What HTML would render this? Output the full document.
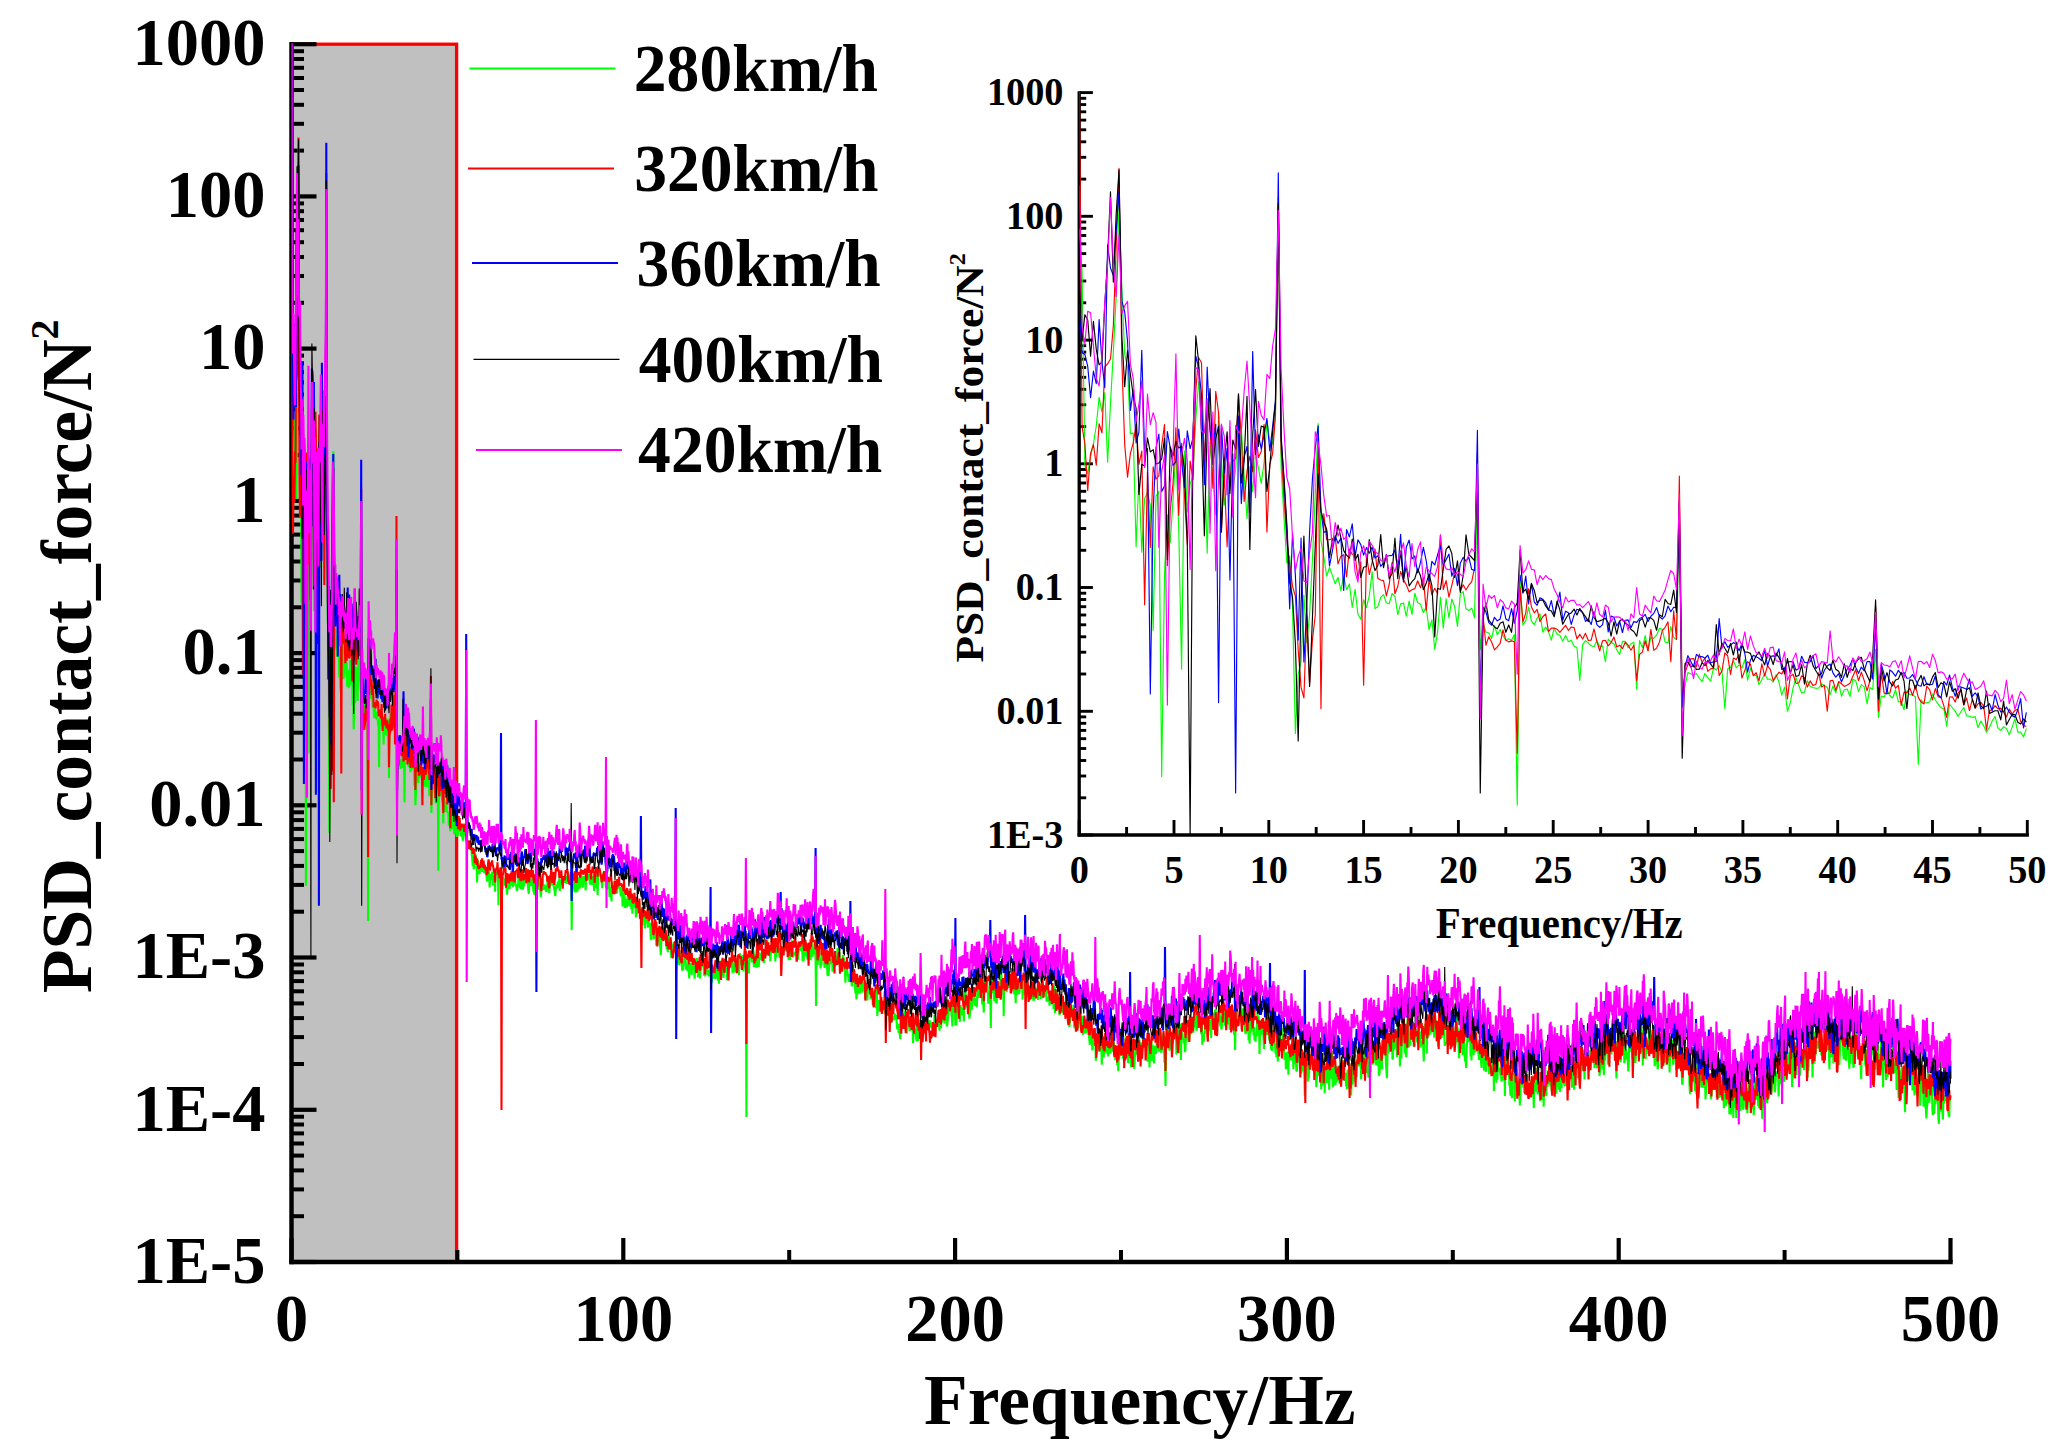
<!DOCTYPE html>
<html><head><meta charset="utf-8"><title>PSD contact force</title>
<style>
html,body{margin:0;padding:0;background:#fff;}
svg{display:block}
text{font-family:"Liberation Serif","Times New Roman",serif;font-weight:bold;fill:#000}
</style></head><body>
<svg width="2070" height="1455" viewBox="0 0 2070 1455">
<defs>
<clipPath id="cm"><rect x="291.7" y="43.2" width="1661.0" height="1218.8"/></clipPath>
<clipPath id="ci"><rect x="1079.5" y="91.6" width="949.0999999999999" height="743.4"/></clipPath>
</defs>
<rect width="2070" height="1455" fill="#fff"/>
<!-- shaded 0-50 Hz region -->
<rect x="291.5" y="44.2" width="165.1" height="1217.8" fill="#c0c0c0" stroke="#ff0000" stroke-width="3.3"/>
<!-- main axes -->
<g stroke="#000" stroke-width="4.4" fill="none">
<line x1="291.5" y1="42.1" x2="291.5" y2="1264.2"/>
<line x1="289.3" y1="1262.0" x2="1952.7" y2="1262.0"/>
</g>
<g stroke="#000" stroke-width="4.2" fill="none">
<line x1="291.5" y1="44.2" x2="316.5" y2="44.2"/>
<line x1="291.5" y1="196.4" x2="316.5" y2="196.4"/>
<line x1="291.5" y1="348.6" x2="316.5" y2="348.6"/>
<line x1="291.5" y1="500.9" x2="316.5" y2="500.9"/>
<line x1="291.5" y1="653.1" x2="316.5" y2="653.1"/>
<line x1="291.5" y1="805.3" x2="316.5" y2="805.3"/>
<line x1="291.5" y1="957.5" x2="316.5" y2="957.5"/>
<line x1="291.5" y1="1109.8" x2="316.5" y2="1109.8"/>
<line x1="291.5" y1="1262.0" x2="316.5" y2="1262.0"/>
<line x1="291.5" y1="1262.0" x2="291.5" y2="1238.0"/>
<line x1="623.3" y1="1262.0" x2="623.3" y2="1238.0"/>
<line x1="955.1" y1="1262.0" x2="955.1" y2="1238.0"/>
<line x1="1286.9" y1="1262.0" x2="1286.9" y2="1238.0"/>
<line x1="1618.7" y1="1262.0" x2="1618.7" y2="1238.0"/>
<line x1="1950.5" y1="1262.0" x2="1950.5" y2="1238.0"/>
</g>
<g stroke="#000" stroke-width="4.0" fill="none">
<line x1="291.5" y1="150.6" x2="304.0" y2="150.6"/>
<line x1="291.5" y1="123.8" x2="304.0" y2="123.8"/>
<line x1="291.5" y1="104.8" x2="304.0" y2="104.8"/>
<line x1="291.5" y1="90.0" x2="304.0" y2="90.0"/>
<line x1="291.5" y1="78.0" x2="304.0" y2="78.0"/>
<line x1="291.5" y1="67.8" x2="304.0" y2="67.8"/>
<line x1="291.5" y1="59.0" x2="304.0" y2="59.0"/>
<line x1="291.5" y1="51.2" x2="304.0" y2="51.2"/>
<line x1="291.5" y1="302.8" x2="304.0" y2="302.8"/>
<line x1="291.5" y1="276.0" x2="304.0" y2="276.0"/>
<line x1="291.5" y1="257.0" x2="304.0" y2="257.0"/>
<line x1="291.5" y1="242.2" x2="304.0" y2="242.2"/>
<line x1="291.5" y1="230.2" x2="304.0" y2="230.2"/>
<line x1="291.5" y1="220.0" x2="304.0" y2="220.0"/>
<line x1="291.5" y1="211.2" x2="304.0" y2="211.2"/>
<line x1="291.5" y1="203.4" x2="304.0" y2="203.4"/>
<line x1="291.5" y1="455.1" x2="304.0" y2="455.1"/>
<line x1="291.5" y1="428.2" x2="304.0" y2="428.2"/>
<line x1="291.5" y1="409.2" x2="304.0" y2="409.2"/>
<line x1="291.5" y1="394.5" x2="304.0" y2="394.5"/>
<line x1="291.5" y1="382.4" x2="304.0" y2="382.4"/>
<line x1="291.5" y1="372.2" x2="304.0" y2="372.2"/>
<line x1="291.5" y1="363.4" x2="304.0" y2="363.4"/>
<line x1="291.5" y1="355.6" x2="304.0" y2="355.6"/>
<line x1="291.5" y1="607.3" x2="304.0" y2="607.3"/>
<line x1="291.5" y1="580.5" x2="304.0" y2="580.5"/>
<line x1="291.5" y1="561.5" x2="304.0" y2="561.5"/>
<line x1="291.5" y1="546.7" x2="304.0" y2="546.7"/>
<line x1="291.5" y1="534.6" x2="304.0" y2="534.6"/>
<line x1="291.5" y1="524.5" x2="304.0" y2="524.5"/>
<line x1="291.5" y1="515.6" x2="304.0" y2="515.6"/>
<line x1="291.5" y1="507.8" x2="304.0" y2="507.8"/>
<line x1="291.5" y1="759.5" x2="304.0" y2="759.5"/>
<line x1="291.5" y1="732.7" x2="304.0" y2="732.7"/>
<line x1="291.5" y1="713.7" x2="304.0" y2="713.7"/>
<line x1="291.5" y1="698.9" x2="304.0" y2="698.9"/>
<line x1="291.5" y1="686.9" x2="304.0" y2="686.9"/>
<line x1="291.5" y1="676.7" x2="304.0" y2="676.7"/>
<line x1="291.5" y1="667.9" x2="304.0" y2="667.9"/>
<line x1="291.5" y1="660.1" x2="304.0" y2="660.1"/>
<line x1="291.5" y1="911.7" x2="304.0" y2="911.7"/>
<line x1="291.5" y1="884.9" x2="304.0" y2="884.9"/>
<line x1="291.5" y1="865.9" x2="304.0" y2="865.9"/>
<line x1="291.5" y1="851.1" x2="304.0" y2="851.1"/>
<line x1="291.5" y1="839.1" x2="304.0" y2="839.1"/>
<line x1="291.5" y1="828.9" x2="304.0" y2="828.9"/>
<line x1="291.5" y1="820.1" x2="304.0" y2="820.1"/>
<line x1="291.5" y1="812.3" x2="304.0" y2="812.3"/>
<line x1="291.5" y1="1064.0" x2="304.0" y2="1064.0"/>
<line x1="291.5" y1="1037.1" x2="304.0" y2="1037.1"/>
<line x1="291.5" y1="1018.1" x2="304.0" y2="1018.1"/>
<line x1="291.5" y1="1003.4" x2="304.0" y2="1003.4"/>
<line x1="291.5" y1="991.3" x2="304.0" y2="991.3"/>
<line x1="291.5" y1="981.1" x2="304.0" y2="981.1"/>
<line x1="291.5" y1="972.3" x2="304.0" y2="972.3"/>
<line x1="291.5" y1="964.5" x2="304.0" y2="964.5"/>
<line x1="291.5" y1="1216.2" x2="304.0" y2="1216.2"/>
<line x1="291.5" y1="1189.4" x2="304.0" y2="1189.4"/>
<line x1="291.5" y1="1170.4" x2="304.0" y2="1170.4"/>
<line x1="291.5" y1="1155.6" x2="304.0" y2="1155.6"/>
<line x1="291.5" y1="1143.5" x2="304.0" y2="1143.5"/>
<line x1="291.5" y1="1133.4" x2="304.0" y2="1133.4"/>
<line x1="291.5" y1="1124.5" x2="304.0" y2="1124.5"/>
<line x1="291.5" y1="1116.7" x2="304.0" y2="1116.7"/>
<line x1="457.4" y1="1262.0" x2="457.4" y2="1250.0"/>
<line x1="789.2" y1="1262.0" x2="789.2" y2="1250.0"/>
<line x1="1121.0" y1="1262.0" x2="1121.0" y2="1250.0"/>
<line x1="1452.8" y1="1262.0" x2="1452.8" y2="1250.0"/>
<line x1="1784.6" y1="1262.0" x2="1784.6" y2="1250.0"/>
</g>
<g clip-path="url(#cm)">
<polyline fill="none" stroke="#00ff00" stroke-width="2.1" stroke-linejoin="bevel" points="291.5,44.2 292.0,263.4 292.5,502.6 293.0,512.7 293.5,491.8 294.0,476.5 294.5,454.3 295.0,419.2 295.5,436.9 296.0,413.4 296.5,499.0 297.0,426.8 297.5,363.5 298.0,295.5 298.5,181.4 299.0,285.1 299.5,366.6 300.0,381.9 300.5,464.0 301.0,463.2 301.5,602.9 302.0,516.8 302.4,609.7 302.9,543.6 303.4,536.0 303.9,551.6 304.4,705.8 304.9,540.5 305.4,534.6 305.9,886.0 306.4,635.1 306.9,563.7 307.4,597.7 307.9,545.0 308.4,483.8 308.9,581.7 309.4,753.6 309.9,484.9 310.4,560.0 310.9,525.8 311.4,514.9 311.9,444.9 312.4,399.9 312.9,436.7 313.4,486.4 313.9,610.9 314.4,474.3 314.9,514.8 315.4,563.4 315.9,438.3 316.4,495.0 316.9,551.7 317.4,524.3 317.9,499.1 318.4,532.7 318.9,508.8 319.4,441.1 319.9,457.2 320.4,516.0 320.9,568.0 321.4,504.4 321.9,535.3 322.4,489.4 322.9,505.8 323.4,524.9 323.9,499.0 324.3,447.3 324.8,473.4 325.3,476.4 325.8,442.0 326.3,195.4 326.8,506.0 327.3,566.5 327.8,622.9 328.3,614.5 328.8,677.1 329.3,832.7 329.8,759.5 330.3,744.6 330.8,662.5 331.3,720.6 331.8,687.0 332.3,619.2 332.8,538.1 333.3,451.2 333.8,595.6 334.3,615.2 334.8,639.2 335.3,628.2 335.8,638.2 336.3,648.5 336.8,640.4 337.3,656.9 337.8,638.7 338.3,655.7 338.8,648.9 339.3,677.6 339.8,655.3 340.3,686.1 340.8,692.2 341.3,668.2 341.8,677.6 342.3,663.1 342.8,633.7 343.3,679.0 343.8,676.7 344.3,665.3 344.8,661.8 345.3,672.1 345.7,673.1 346.2,660.5 346.7,663.6 347.2,686.6 347.7,673.2 348.2,672.0 348.7,688.2 349.2,669.6 349.7,686.2 350.2,660.1 350.7,671.7 351.2,673.6 351.7,683.8 352.2,677.4 352.7,704.9 353.2,692.8 353.7,729.2 354.2,707.9 354.7,665.2 355.2,703.0 355.7,667.1 356.2,690.5 356.7,667.3 357.2,676.8 357.7,701.1 358.2,660.9 358.7,658.1 359.2,679.6 359.7,681.4 360.2,678.6 360.7,690.4 361.2,531.3 361.7,729.2 362.2,696.8 362.7,707.9 363.2,709.1 363.7,715.7 364.2,699.7 364.7,711.2 365.2,704.7 365.7,712.4 366.2,718.2 366.7,716.1 367.2,717.9 367.6,710.9 368.1,921.0 368.6,645.5 369.1,699.2 369.6,693.8 370.1,677.1 370.6,694.4 371.1,698.6 371.6,690.8 372.1,685.5 372.6,708.0 373.1,701.8 373.6,707.4 374.1,717.9 374.6,702.9 375.1,710.5 375.6,711.8 376.1,719.3 376.6,712.0 377.1,719.8 377.6,717.8 378.1,725.4 378.6,726.9 379.1,767.3 379.6,723.3 380.1,718.4 380.6,721.3 381.1,724.8 381.6,725.9 382.1,718.5 382.6,725.5 383.1,724.9 383.6,744.4 384.1,716.5 384.6,720.3 385.1,722.7 385.6,729.6 386.1,735.5 386.6,719.4 387.1,719.3 387.6,727.2 388.1,722.3 388.6,720.4 389.0,777.9 389.5,718.2 390.0,727.0 390.5,712.3 391.0,730.5 391.5,714.5 392.0,715.8 392.5,711.7 393.0,703.3 393.5,704.5 394.0,720.3 394.5,721.1 395.0,701.2 395.5,714.3 396.0,717.0 396.5,577.0 397.0,790.1 397.5,773.7 398.0,757.8 398.5,759.2 399.0,761.0 399.5,758.7 400.0,764.7 400.5,768.8 401.0,758.9 401.5,764.0 402.0,768.1 402.5,752.1 403.0,754.5 403.5,749.2 404.0,756.9 404.5,802.3 405.0,753.1 405.5,751.1 406.0,743.1 406.5,751.9 407.0,748.2 407.5,752.0 408.0,741.8 408.5,767.1 409.0,752.4 409.5,760.5 410.0,761.1 410.5,772.3 410.9,766.5 411.4,759.2 411.9,766.0 412.4,765.8 412.9,769.4 413.4,760.2 413.9,769.3 414.4,785.4 414.9,775.6 415.4,805.3 415.9,795.0 416.4,776.6 416.9,764.2 417.4,773.8 417.9,782.8 418.4,781.7 418.9,767.7 419.4,774.9 419.9,776.0 420.4,777.1 420.9,776.7 421.4,771.6 421.9,773.6 422.4,776.1 422.9,785.1 423.4,774.3 423.9,782.7 424.4,770.3 424.9,786.8 425.4,778.9 425.9,778.0 426.4,787.2 426.9,765.9 427.4,767.7 427.9,781.2 428.4,772.5 428.9,775.3 429.4,796.2 429.9,776.2 430.4,778.5 430.9,729.2 431.4,812.9 431.9,786.6 432.3,787.9 432.8,779.3 433.3,786.0 433.8,789.0 434.3,778.8 434.8,793.9 435.3,793.1 435.8,803.5 436.3,780.1 436.8,784.7 437.3,785.3 437.8,787.4 438.3,870.8 438.8,791.2 439.3,794.9 439.8,795.0 440.3,793.7 440.8,784.1 441.3,791.5 441.8,796.5 442.3,801.1 442.8,802.5 443.3,823.6 443.8,796.7 444.3,801.0 444.8,805.2 445.3,811.8 445.8,805.9 446.3,800.8 446.8,811.1 447.3,811.4 447.8,812.8 448.3,812.0 448.8,825.4 449.3,817.3 449.8,823.1 450.3,831.2 450.8,825.2 451.3,817.1 451.8,811.7 452.3,825.7 452.8,828.8 453.3,824.3 453.8,826.6 454.2,834.3 454.7,824.9 455.2,814.6 455.7,830.9 456.2,830.9 456.7,837.0 457.2,826.7 457.7,836.1 458.2,830.7 458.7,822.6 459.2,831.9 459.7,825.8 460.2,826.6 460.7,836.3 461.2,834.8 461.7,828.1 462.2,836.2 462.7,839.5 463.2,840.6 463.7,829.9 464.2,823.6 464.7,826.1 465.2,834.1 465.7,834.9 466.2,838.5 466.7,842.8 467.2,843.7 467.7,845.6 468.2,844.8 468.7,848.3 469.2,847.1 469.7,843.2 470.2,844.9 470.7,845.9 471.2,845.5 471.7,853.8 472.2,858.4 472.7,866.1 473.2,856.6 473.7,869.2 474.2,866.8 474.7,856.2 475.2,853.5 475.6,855.4 476.1,863.3 476.6,863.3 477.1,882.4 477.6,867.4 478.1,860.4 478.6,867.8 479.1,872.4 479.6,874.0 480.1,865.6 480.6,865.6 481.1,870.5 481.6,866.2 482.1,871.9 482.6,862.7 483.1,862.7 483.6,866.2 484.1,873.0 484.6,872.4 485.1,870.6 485.6,872.2 486.1,871.7 486.6,877.4 487.1,881.5 487.6,867.8 488.1,873.5 488.6,871.9 489.1,871.9 489.6,887.4 490.1,882.0 490.6,875.9 491.1,874.1 491.6,879.9 492.1,871.5 492.6,877.0 493.1,885.3 493.6,883.1 494.1,876.0 494.6,879.6 495.1,891.8 495.6,873.7 496.1,872.3 496.6,871.6 497.1,874.6 497.5,874.2 498.0,875.5 498.5,905.3 499.0,871.6 499.5,868.3 500.0,880.1 500.5,875.3 501.0,884.2 501.5,883.0 502.0,880.3 502.5,889.7 503.0,877.1 503.5,878.5 504.0,885.6 504.5,883.3 505.0,880.3 505.5,879.0 506.0,881.9 506.5,887.5 507.0,894.7 507.5,889.7 508.0,885.8 508.5,877.5 509.0,876.3 509.5,888.9 510.0,884.8 510.5,882.7 511.0,880.8 511.5,876.5 512.0,885.3 512.5,879.5 513.0,886.9 513.5,882.5 514.0,882.2 514.5,884.8 515.0,876.5 515.5,884.4 516.0,884.6 516.5,888.2 517.0,891.0 517.5,885.3 518.0,886.3 518.5,877.8 518.9,882.9 519.4,878.5 519.9,888.4 520.4,878.4 520.9,888.1 521.4,889.1 521.9,881.3 522.4,874.0 522.9,889.7 523.4,885.3 523.9,886.0 524.4,882.7 524.9,878.9 525.4,881.8 525.9,879.4 526.4,875.9 526.9,883.6 527.4,880.5 527.9,886.2 528.4,891.5 528.9,893.8 529.4,875.9 529.9,884.6 530.4,882.7 530.9,886.2 531.4,881.7 531.9,881.7 532.4,869.7 532.9,884.8 533.4,891.5 533.9,892.1 534.4,894.7 534.9,880.1 535.4,881.3 535.9,886.6 536.4,892.2 536.9,886.4 537.4,876.5 537.9,889.6 538.4,879.7 538.9,887.8 539.4,881.7 539.9,888.7 540.4,891.7 540.8,897.0 541.3,891.6 541.8,878.2 542.3,879.4 542.8,886.1 543.3,887.9 543.8,890.1 544.3,885.2 544.8,885.5 545.3,888.4 545.8,888.5 546.3,892.2 546.8,886.7 547.3,884.4 547.8,879.4 548.3,881.1 548.8,891.0 549.3,893.1 549.8,886.8 550.3,883.1 550.8,879.4 551.3,878.5 551.8,885.3 552.3,878.1 552.8,884.0 553.3,882.0 553.8,886.8 554.3,889.5 554.8,892.0 555.3,896.1 555.8,889.5 556.3,884.3 556.8,886.1 557.3,888.4 557.8,881.7 558.3,884.2 558.8,881.3 559.3,878.5 559.8,891.0 560.3,881.3 560.8,883.6 561.3,880.6 561.8,880.0 562.2,878.8 562.7,881.5 563.2,878.1 563.7,879.0 564.2,876.9 564.7,883.0 565.2,876.5 565.7,881.2 566.2,879.7 566.7,884.0 567.2,876.0 567.7,883.8 568.2,871.8 568.7,874.1 569.2,876.6 569.7,883.5 570.2,883.8 570.7,884.4 571.2,882.2 571.7,930.0 572.2,882.0 572.7,891.5 573.2,879.7 573.7,875.0 574.2,876.7 574.7,881.3 575.2,892.4 575.7,877.1 576.2,879.6 576.7,892.2 577.2,878.9 577.7,890.7 578.2,885.5 578.7,885.8 579.2,877.0 579.7,888.5 580.2,884.6 580.7,875.0 581.2,873.8 581.7,882.8 582.2,885.2 582.7,887.7 583.2,882.4 583.6,876.3 584.1,876.9 584.6,880.6 585.1,882.3 585.6,890.5 586.1,881.8 586.6,875.2 587.1,878.1 587.6,878.5 588.1,879.3 588.6,877.9 589.1,874.1 589.6,880.8 590.1,884.5 590.6,874.0 591.1,879.8 591.6,876.8 592.1,885.0 592.6,875.8 593.1,880.2 593.6,878.8 594.1,890.9 594.6,880.8 595.1,880.8 595.6,883.4 596.1,888.1 596.6,880.3 597.1,874.9 597.6,895.1 598.1,878.9 598.6,875.4 599.1,872.3 599.6,871.6 600.1,874.0 600.6,875.5 601.1,876.9 601.6,878.8 602.1,888.2 602.6,883.2 603.1,876.4 603.6,872.2 604.1,881.0 604.6,879.7 605.1,877.7 605.5,876.1 606.0,888.2 606.5,880.4 607.0,889.7 607.5,883.5 608.0,882.4 608.5,878.8 609.0,878.7 609.5,897.2 610.0,894.1 610.5,887.0 611.0,893.6 611.5,901.5 612.0,884.7 612.5,886.1 613.0,881.6 613.5,886.7 614.0,881.4 614.5,888.3 615.0,881.0 615.5,892.5 616.0,893.7 616.5,892.0 617.0,893.5 617.5,885.1 618.0,884.5 618.5,886.9 619.0,886.4 619.5,888.6 620.0,886.8 620.5,894.0 621.0,896.2 621.5,890.6 622.0,885.6 622.5,906.6 623.0,896.5 623.5,895.9 624.0,889.9 624.5,898.9 625.0,907.9 625.5,901.7 626.0,898.6 626.5,902.6 626.9,907.5 627.4,901.3 627.9,892.9 628.4,904.7 628.9,905.2 629.4,903.9 629.9,898.1 630.4,907.1 630.9,899.6 631.4,909.1 631.9,904.0 632.4,913.7 632.9,901.2 633.4,907.7 633.9,904.0 634.4,902.5 634.9,903.9 635.4,902.9 635.9,917.4 636.4,912.9 636.9,913.8 637.4,900.5 637.9,907.3 638.4,910.7 638.9,907.3 639.4,902.6 639.9,913.8 640.4,915.1 640.9,910.0 641.4,914.2 641.9,918.2 642.4,925.5 642.9,910.9 643.4,908.6 643.9,912.8 644.4,912.4 644.9,928.5 645.4,919.2 645.9,923.0 646.4,918.2 646.9,915.8 647.4,919.8 647.9,927.7 648.4,919.0 648.8,923.5 649.3,922.9 649.8,924.5 650.3,927.1 650.8,940.3 651.3,922.7 651.8,925.9 652.3,926.1 652.8,923.2 653.3,938.5 653.8,939.2 654.3,932.4 654.8,928.2 655.3,930.6 655.8,931.0 656.3,945.6 656.8,934.4 657.3,944.9 657.8,934.9 658.3,934.9 658.8,933.3 659.3,935.5 659.8,945.0 660.3,947.4 660.8,954.9 661.3,942.4 661.8,930.2 662.3,926.0 662.8,930.1 663.3,932.7 663.8,937.6 664.3,929.0 664.8,937.6 665.3,938.6 665.8,941.6 666.3,942.6 666.8,949.4 667.3,947.7 667.8,952.1 668.3,944.3 668.8,934.2 669.3,940.5 669.8,942.3 670.2,943.2 670.7,944.2 671.2,958.0 671.7,948.6 672.2,944.6 672.7,945.5 673.2,946.6 673.7,941.8 674.2,952.0 674.7,948.9 675.2,951.8 675.7,945.0 676.2,969.4 676.7,960.3 677.2,963.5 677.7,954.2 678.2,953.6 678.7,948.1 679.2,964.9 679.7,950.2 680.2,957.1 680.7,959.1 681.2,959.3 681.7,963.9 682.2,970.6 682.7,958.8 683.2,970.3 683.7,963.4 684.2,961.4 684.7,958.6 685.2,954.0 685.7,961.5 686.2,969.9 686.7,967.3 687.2,968.7 687.7,971.4 688.2,963.7 688.7,967.9 689.2,978.5 689.7,963.1 690.2,967.2 690.7,962.6 691.2,964.3 691.7,974.9 692.1,965.9 692.6,958.1 693.1,962.8 693.6,964.3 694.1,967.8 694.6,978.6 695.1,968.5 695.6,966.1 696.1,962.9 696.6,970.1 697.1,958.1 697.6,966.1 698.1,977.2 698.6,974.6 699.1,970.7 699.6,970.0 700.1,978.5 700.6,969.4 701.1,970.2 701.6,962.1 702.1,965.5 702.6,966.6 703.1,963.3 703.6,960.4 704.1,975.6 704.6,971.5 705.1,976.4 705.6,966.3 706.1,971.6 706.6,964.5 707.1,965.0 707.6,975.1 708.1,974.1 708.6,969.8 709.1,976.5 709.6,974.8 710.1,969.6 710.6,967.9 711.1,971.0 711.6,982.8 712.1,977.3 712.6,971.9 713.1,973.3 713.5,975.5 714.0,978.6 714.5,967.9 715.0,972.6 715.5,978.9 716.0,973.8 716.5,964.8 717.0,971.4 717.5,967.4 718.0,980.8 718.5,973.0 719.0,983.6 719.5,973.4 720.0,960.7 720.5,967.2 721.0,975.3 721.5,973.5 722.0,969.0 722.5,965.3 723.0,971.8 723.5,977.9 724.0,970.9 724.5,972.4 725.0,971.6 725.5,965.2 726.0,969.5 726.5,967.6 727.0,980.2 727.5,970.3 728.0,962.3 728.5,966.0 729.0,968.4 729.5,967.7 730.0,959.0 730.5,967.5 731.0,963.7 731.5,962.7 732.0,962.3 732.5,973.2 733.0,969.5 733.5,966.6 734.0,962.3 734.5,964.8 735.0,972.4 735.4,968.9 735.9,958.8 736.4,968.3 736.9,963.7 737.4,962.5 737.9,971.6 738.4,966.0 738.9,975.0 739.4,961.7 739.9,953.2 740.4,956.3 740.9,964.9 741.4,959.1 741.9,961.8 742.4,960.0 742.9,955.0 743.4,971.4 743.9,962.3 744.4,964.8 744.9,956.7 745.4,960.8 745.9,969.6 746.4,1117.0 746.9,961.2 747.4,968.3 747.9,960.8 748.4,967.3 748.9,973.4 749.4,955.4 749.9,952.7 750.4,957.1 750.9,958.7 751.4,955.9 751.9,962.4 752.4,959.1 752.9,953.7 753.4,949.9 753.9,967.2 754.4,953.8 754.9,961.4 755.4,966.8 755.9,958.3 756.4,966.6 756.8,967.6 757.3,955.8 757.8,953.7 758.3,954.0 758.8,967.0 759.3,953.8 759.8,952.6 760.3,957.4 760.8,954.5 761.3,960.0 761.8,959.5 762.3,961.0 762.8,957.5 763.3,957.7 763.8,962.9 764.3,957.1 764.8,950.5 765.3,953.8 765.8,956.1 766.3,950.6 766.8,949.1 767.3,939.6 767.8,955.7 768.3,949.5 768.8,953.7 769.3,945.1 769.8,946.3 770.3,961.3 770.8,953.7 771.3,947.8 771.8,945.9 772.3,944.4 772.8,946.6 773.3,949.0 773.8,951.0 774.3,953.5 774.8,946.6 775.3,961.4 775.8,945.8 776.3,957.6 776.8,946.2 777.3,951.3 777.8,949.5 778.3,946.2 778.7,950.8 779.2,954.7 779.7,957.8 780.2,947.9 780.7,949.9 781.2,946.3 781.7,953.5 782.2,946.3 782.7,951.0 783.2,949.1 783.7,947.2 784.2,944.2 784.7,950.8 785.2,949.0 785.7,946.4 786.2,947.7 786.7,951.8 787.2,940.5 787.7,948.3 788.2,948.8 788.7,960.1 789.2,953.4 789.7,957.8 790.2,960.0 790.7,944.4 791.2,949.0 791.7,940.3 792.2,945.1 792.7,955.1 793.2,957.4 793.7,952.3 794.2,953.6 794.7,953.0 795.2,951.8 795.7,955.3 796.2,949.0 796.7,961.3 797.2,951.1 797.7,957.4 798.2,959.8 798.7,950.3 799.2,945.7 799.7,950.4 800.1,950.9 800.6,946.4 801.1,950.8 801.6,950.5 802.1,944.8 802.6,961.1 803.1,950.0 803.6,961.1 804.1,950.0 804.6,956.5 805.1,951.1 805.6,949.1 806.1,942.5 806.6,954.5 807.1,956.5 807.6,959.6 808.1,949.6 808.6,949.8 809.1,946.8 809.6,952.7 810.1,944.8 810.6,960.1 811.1,949.3 811.6,941.8 812.1,953.5 812.6,956.6 813.1,947.9 813.6,954.2 814.1,948.7 814.6,943.7 815.1,944.6 815.6,961.6 816.1,1006.0 816.6,952.4 817.1,947.4 817.6,964.9 818.1,959.6 818.6,952.8 819.1,950.2 819.6,958.2 820.1,960.8 820.6,968.5 821.1,961.6 821.6,964.7 822.0,949.1 822.5,956.3 823.0,950.9 823.5,945.0 824.0,949.3 824.5,968.0 825.0,954.5 825.5,953.8 826.0,963.1 826.5,966.6 827.0,963.4 827.5,975.8 828.0,957.1 828.5,976.1 829.0,968.9 829.5,963.7 830.0,963.2 830.5,960.0 831.0,959.0 831.5,964.0 832.0,955.7 832.5,971.6 833.0,957.6 833.5,963.4 834.0,959.6 834.5,956.6 835.0,966.0 835.5,962.8 836.0,955.9 836.5,957.4 837.0,961.6 837.5,948.4 838.0,949.2 838.5,964.5 839.0,961.3 839.5,951.8 840.0,962.0 840.5,961.5 841.0,962.4 841.5,963.9 842.0,962.0 842.5,965.4 843.0,955.0 843.4,958.0 843.9,958.8 844.4,970.4 844.9,971.9 845.4,982.6 845.9,970.9 846.4,964.4 846.9,969.5 847.4,971.7 847.9,974.5 848.4,978.1 848.9,981.6 849.4,980.4 849.9,974.1 850.4,979.3 850.9,970.7 851.4,981.9 851.9,986.5 852.4,981.0 852.9,976.9 853.4,971.2 853.9,978.5 854.4,973.6 854.9,985.4 855.4,993.1 855.9,983.9 856.4,999.4 856.9,990.9 857.4,987.6 857.9,984.4 858.4,994.1 858.9,989.3 859.4,979.7 859.9,993.3 860.4,980.3 860.9,977.8 861.4,976.0 861.9,984.7 862.4,992.5 862.9,990.3 863.4,981.5 863.9,983.7 864.4,986.5 864.9,987.6 865.3,998.4 865.8,991.6 866.3,992.5 866.8,985.8 867.3,1000.5 867.8,993.0 868.3,986.9 868.8,986.0 869.3,981.1 869.8,993.0 870.3,992.9 870.8,999.2 871.3,994.2 871.8,989.4 872.3,993.9 872.8,1005.3 873.3,1003.1 873.8,1000.7 874.3,995.9 874.8,998.2 875.3,998.8 875.8,1008.3 876.3,1005.3 876.8,987.0 877.3,1016.1 877.8,1006.1 878.3,1003.6 878.8,1000.0 879.3,1011.4 879.8,1010.5 880.3,1008.3 880.8,1001.4 881.3,1010.0 881.8,1001.7 882.3,1009.2 882.8,1010.7 883.3,1008.5 883.8,1006.9 884.3,1004.7 884.8,1013.9 885.3,1002.0 885.8,1002.2 886.3,1003.5 886.7,1001.5 887.2,1011.4 887.7,1009.7 888.2,1007.3 888.7,1015.1 889.2,1014.4 889.7,1022.0 890.2,1020.4 890.7,1019.5 891.2,1022.9 891.7,1020.0 892.2,1019.5 892.7,1016.0 893.2,1017.7 893.7,1018.9 894.2,1020.1 894.7,1013.3 895.2,1016.9 895.7,1018.0 896.2,1014.7 896.7,1021.9 897.2,1029.2 897.7,1025.8 898.2,1027.5 898.7,1033.2 899.2,1023.8 899.7,1032.8 900.2,1039.0 900.7,1018.0 901.2,1016.9 901.7,1027.1 902.2,1022.3 902.7,1019.2 903.2,1019.4 903.7,1023.0 904.2,1013.8 904.7,1013.3 905.2,1010.8 905.7,1013.4 906.2,1015.4 906.7,1033.7 907.2,1025.6 907.7,1024.0 908.2,1024.0 908.6,1016.0 909.1,1025.5 909.6,1031.1 910.1,1021.3 910.6,1023.1 911.1,1027.8 911.6,1021.0 912.1,1024.0 912.6,1025.6 913.1,1043.0 913.6,1030.6 914.1,1030.1 914.6,1034.5 915.1,1029.5 915.6,1029.2 916.1,1037.6 916.6,1041.4 917.1,1019.3 917.6,1038.5 918.1,1040.9 918.6,1031.4 919.1,1028.1 919.6,1033.3 920.1,1019.6 920.6,1026.6 921.1,1031.2 921.6,1030.8 922.1,1028.7 922.6,1033.3 923.1,1024.5 923.6,1026.9 924.1,1016.6 924.6,1033.1 925.1,1022.6 925.6,1027.2 926.1,1028.6 926.6,1025.6 927.1,1026.5 927.6,1020.9 928.1,1026.7 928.6,1029.1 929.1,1028.1 929.6,1020.1 930.0,1025.1 930.5,1021.8 931.0,1027.6 931.5,1023.8 932.0,1023.9 932.5,1031.8 933.0,1036.3 933.5,1034.0 934.0,1032.0 934.5,1014.9 935.0,1032.5 935.5,1018.5 936.0,1025.3 936.5,1020.2 937.0,1023.9 937.5,1024.6 938.0,1026.1 938.5,1021.5 939.0,1020.2 939.5,1030.8 940.0,1018.6 940.5,1011.0 941.0,1028.4 941.5,1018.0 942.0,1022.3 942.5,1018.3 943.0,1011.8 943.5,1015.0 944.0,1009.8 944.5,1023.4 945.0,1008.4 945.5,1019.5 946.0,1012.3 946.5,1012.8 947.0,1026.5 947.5,1022.4 948.0,1017.9 948.5,1006.9 949.0,1005.2 949.5,1004.5 950.0,1012.0 950.5,1002.0 951.0,1003.2 951.5,1015.0 951.9,1016.6 952.4,1026.4 952.9,1009.6 953.4,995.7 953.9,1005.1 954.4,1001.1 954.9,1008.7 955.4,1025.6 955.9,1006.9 956.4,1025.1 956.9,1009.7 957.4,1012.6 957.9,1003.3 958.4,1003.8 958.9,1006.4 959.4,1017.3 959.9,1021.7 960.4,1005.1 960.9,1007.9 961.4,1013.9 961.9,1014.9 962.4,1007.3 962.9,1014.6 963.4,1009.3 963.9,1021.6 964.4,999.7 964.9,995.3 965.4,986.6 965.9,1007.0 966.4,1005.7 966.9,996.9 967.4,1003.9 967.9,1005.3 968.4,994.5 968.9,1011.9 969.4,1018.6 969.9,1014.1 970.4,996.1 970.9,996.7 971.4,1009.8 971.9,1008.5 972.4,995.9 972.9,994.9 973.3,1002.8 973.8,990.7 974.3,990.2 974.8,1005.6 975.3,1002.8 975.8,998.0 976.3,1006.3 976.8,1006.4 977.3,993.9 977.8,986.0 978.3,982.1 978.8,998.0 979.3,978.7 979.8,995.4 980.3,988.3 980.8,984.5 981.3,989.4 981.8,995.8 982.3,1004.8 982.8,996.7 983.3,1003.6 983.8,1012.4 984.3,980.5 984.8,989.7 985.3,980.4 985.8,991.3 986.3,979.8 986.8,980.6 987.3,983.0 987.8,989.1 988.3,1003.8 988.8,993.8 989.3,1003.1 989.8,997.3 990.3,991.4 990.8,1028.0 991.3,993.8 991.8,992.0 992.3,979.9 992.8,984.7 993.3,993.3 993.8,985.9 994.3,1001.1 994.8,996.5 995.2,987.6 995.7,1002.6 996.2,997.6 996.7,1003.7 997.2,990.9 997.7,981.2 998.2,992.3 998.7,987.5 999.2,991.9 999.7,990.6 1000.2,989.2 1000.7,974.6 1001.2,971.7 1001.7,981.9 1002.2,990.7 1002.7,978.0 1003.2,982.1 1003.7,1016.2 1004.2,981.1 1004.7,982.9 1005.2,977.4 1005.7,981.5 1006.2,980.2 1006.7,992.2 1007.2,982.7 1007.7,987.8 1008.2,982.4 1008.7,987.9 1009.2,985.3 1009.7,978.4 1010.2,988.0 1010.7,983.3 1011.2,984.4 1011.7,977.7 1012.2,971.7 1012.7,981.7 1013.2,988.5 1013.7,979.5 1014.2,994.4 1014.7,976.1 1015.2,990.5 1015.7,1003.1 1016.2,975.1 1016.6,979.9 1017.1,995.0 1017.6,982.0 1018.1,981.5 1018.6,985.6 1019.1,994.2 1019.6,991.1 1020.1,982.2 1020.6,985.2 1021.1,977.9 1021.6,987.9 1022.1,978.9 1022.6,999.6 1023.1,983.3 1023.6,994.5 1024.1,992.3 1024.6,977.4 1025.1,988.0 1025.6,988.1 1026.1,996.9 1026.6,997.3 1027.1,988.6 1027.6,986.6 1028.1,994.4 1028.6,984.7 1029.1,987.5 1029.6,995.0 1030.1,1000.1 1030.6,989.4 1031.1,993.4 1031.6,987.5 1032.1,983.6 1032.6,998.7 1033.1,998.5 1033.6,1000.8 1034.1,998.6 1034.6,997.2 1035.1,996.1 1035.6,990.9 1036.1,995.9 1036.6,988.0 1037.1,995.4 1037.6,994.8 1038.0,1000.0 1038.5,982.9 1039.0,992.6 1039.5,990.1 1040.0,994.1 1040.5,990.3 1041.0,998.9 1041.5,991.7 1042.0,977.4 1042.5,998.3 1043.0,984.1 1043.5,988.5 1044.0,994.6 1044.5,992.8 1045.0,986.8 1045.5,996.4 1046.0,990.3 1046.5,1000.6 1047.0,1001.2 1047.5,1000.8 1048.0,999.2 1048.5,998.2 1049.0,995.2 1049.5,1005.8 1050.0,991.2 1050.5,995.6 1051.0,999.0 1051.5,1004.1 1052.0,998.2 1052.5,991.3 1053.0,991.7 1053.5,1009.0 1054.0,991.6 1054.5,985.5 1055.0,1013.3 1055.5,996.2 1056.0,997.9 1056.5,997.6 1057.0,990.1 1057.5,1002.8 1058.0,999.3 1058.5,995.2 1059.0,1008.1 1059.5,1015.5 1059.9,1009.9 1060.4,1013.1 1060.9,995.3 1061.4,1011.3 1061.9,1000.8 1062.4,1013.0 1062.9,1001.7 1063.4,1004.0 1063.9,1014.4 1064.4,1002.1 1064.9,1011.9 1065.4,1009.9 1065.9,1000.0 1066.4,1016.7 1066.9,1014.5 1067.4,1007.4 1067.9,1017.0 1068.4,1010.5 1068.9,1017.6 1069.4,1026.9 1069.9,1021.1 1070.4,1009.1 1070.9,1008.7 1071.4,1009.7 1071.9,1008.5 1072.4,1014.3 1072.9,1020.6 1073.4,1004.9 1073.9,1011.5 1074.4,1028.3 1074.9,1023.5 1075.4,1024.5 1075.9,1019.8 1076.4,1024.7 1076.9,1020.6 1077.4,1017.2 1077.9,1027.6 1078.4,1027.8 1078.9,1017.1 1079.4,1023.2 1079.9,1017.3 1080.4,1014.6 1080.9,1023.9 1081.3,1025.3 1081.8,1015.9 1082.3,1024.7 1082.8,1034.9 1083.3,1028.1 1083.8,1029.6 1084.3,1033.8 1084.8,1023.2 1085.3,1022.4 1085.8,1033.3 1086.3,1026.7 1086.8,1028.8 1087.3,1030.7 1087.8,1030.4 1088.3,1028.9 1088.8,1034.6 1089.3,1038.8 1089.8,1044.8 1090.3,1032.6 1090.8,1044.5 1091.3,1038.7 1091.8,1032.4 1092.3,1050.4 1092.8,1046.6 1093.3,1029.7 1093.8,1035.2 1094.3,1034.1 1094.8,1032.2 1095.3,1033.3 1095.8,1060.7 1096.3,1054.1 1096.8,1054.5 1097.3,1046.7 1097.8,1040.2 1098.3,1043.5 1098.8,1040.8 1099.3,1051.9 1099.8,1041.6 1100.3,1039.1 1100.8,1051.0 1101.3,1046.8 1101.8,1064.7 1102.3,1041.7 1102.8,1050.3 1103.2,1052.5 1103.7,1057.5 1104.2,1049.6 1104.7,1043.1 1105.2,1052.8 1105.7,1047.3 1106.2,1046.4 1106.7,1053.1 1107.2,1049.0 1107.7,1050.4 1108.2,1056.3 1108.7,1050.5 1109.2,1036.8 1109.7,1050.9 1110.2,1053.6 1110.7,1047.7 1111.2,1048.3 1111.7,1045.9 1112.2,1051.7 1112.7,1034.3 1113.2,1046.9 1113.7,1039.9 1114.2,1053.0 1114.7,1046.1 1115.2,1060.3 1115.7,1047.8 1116.2,1046.2 1116.7,1047.4 1117.2,1065.1 1117.7,1044.9 1118.2,1070.9 1118.7,1059.1 1119.2,1058.6 1119.7,1052.3 1120.2,1045.5 1120.7,1054.6 1121.2,1050.3 1121.7,1043.5 1122.2,1051.0 1122.7,1054.7 1123.2,1058.5 1123.7,1053.9 1124.2,1052.6 1124.6,1043.3 1125.1,1056.6 1125.6,1036.3 1126.1,1041.8 1126.6,1050.8 1127.1,1044.1 1127.6,1052.3 1128.1,1062.9 1128.6,1050.1 1129.1,1048.1 1129.6,1051.6 1130.1,1056.2 1130.6,1053.5 1131.1,1067.1 1131.6,1051.3 1132.1,1064.6 1132.6,1060.1 1133.1,1057.0 1133.6,1062.6 1134.1,1068.8 1134.6,1061.7 1135.1,1052.9 1135.6,1044.0 1136.1,1045.5 1136.6,1054.3 1137.1,1053.9 1137.6,1050.6 1138.1,1045.8 1138.6,1055.8 1139.1,1037.6 1139.6,1048.6 1140.1,1051.1 1140.6,1049.2 1141.1,1042.5 1141.6,1047.4 1142.1,1042.8 1142.6,1048.2 1143.1,1039.2 1143.6,1037.4 1144.1,1044.2 1144.6,1038.6 1145.1,1039.2 1145.6,1039.5 1146.1,1047.6 1146.5,1050.4 1147.0,1048.1 1147.5,1061.6 1148.0,1046.2 1148.5,1043.5 1149.0,1045.3 1149.5,1067.5 1150.0,1054.6 1150.5,1047.0 1151.0,1049.8 1151.5,1042.1 1152.0,1061.2 1152.5,1044.9 1153.0,1052.3 1153.5,1046.4 1154.0,1063.4 1154.5,1046.7 1155.0,1047.0 1155.5,1046.0 1156.0,1054.0 1156.5,1049.1 1157.0,1031.4 1157.5,1044.7 1158.0,1048.1 1158.5,1041.0 1159.0,1051.8 1159.5,1035.3 1160.0,1031.3 1160.5,1039.8 1161.0,1052.8 1161.5,1037.7 1162.0,1037.0 1162.5,1038.9 1163.0,1033.4 1163.5,1052.6 1164.0,1046.4 1164.5,1062.8 1165.0,1057.5 1165.5,1086.0 1166.0,1055.2 1166.5,1035.7 1167.0,1044.2 1167.5,1040.9 1167.9,1026.9 1168.4,1020.1 1168.9,1030.9 1169.4,1050.6 1169.9,1042.8 1170.4,1039.2 1170.9,1047.0 1171.4,1049.0 1171.9,1036.2 1172.4,1042.7 1172.9,1044.3 1173.4,1036.6 1173.9,1038.4 1174.4,1034.8 1174.9,1038.4 1175.4,1032.1 1175.9,1033.3 1176.4,1054.6 1176.9,1037.1 1177.4,1029.8 1177.9,1028.3 1178.4,1025.4 1178.9,1036.1 1179.4,1035.3 1179.9,1023.5 1180.4,1041.2 1180.9,1059.9 1181.4,1035.3 1181.9,1040.0 1182.4,1032.3 1182.9,1039.5 1183.4,1038.6 1183.9,1043.4 1184.4,1038.4 1184.9,1051.4 1185.4,1051.5 1185.9,1031.8 1186.4,1038.9 1186.9,1040.4 1187.4,1028.8 1187.9,1033.5 1188.4,1042.2 1188.9,1019.4 1189.4,1038.7 1189.8,1032.3 1190.3,1030.7 1190.8,1020.6 1191.3,1034.2 1191.8,1019.7 1192.3,1030.3 1192.8,1019.5 1193.3,1032.7 1193.8,1026.2 1194.3,1011.9 1194.8,1024.0 1195.3,1027.3 1195.8,1014.3 1196.3,1024.9 1196.8,1030.6 1197.3,1016.4 1197.8,1026.1 1198.3,1013.2 1198.8,1013.2 1199.3,1018.5 1199.8,1018.2 1200.3,1019.8 1200.8,1022.8 1201.3,1034.2 1201.8,1023.1 1202.3,1044.8 1202.8,1034.2 1203.3,1039.7 1203.8,1041.8 1204.3,1033.0 1204.8,1034.1 1205.3,1016.8 1205.8,1018.0 1206.3,1025.3 1206.8,1027.7 1207.3,1030.3 1207.8,1020.1 1208.3,1030.8 1208.8,1029.3 1209.3,1022.6 1209.8,1024.9 1210.3,1020.2 1210.8,1031.7 1211.2,1038.1 1211.7,1013.4 1212.2,1015.9 1212.7,1012.5 1213.2,1023.5 1213.7,1016.6 1214.2,1019.2 1214.7,1013.9 1215.2,1010.4 1215.7,1010.3 1216.2,1018.7 1216.7,1023.5 1217.2,1014.4 1217.7,1023.4 1218.2,1011.8 1218.7,1017.4 1219.2,1006.3 1219.7,1014.6 1220.2,1026.4 1220.7,1016.2 1221.2,1028.6 1221.7,1028.6 1222.2,1021.1 1222.7,1022.0 1223.2,1007.7 1223.7,1017.4 1224.2,1010.6 1224.7,1025.4 1225.2,1015.7 1225.7,1013.3 1226.2,1008.0 1226.7,1024.5 1227.2,1019.2 1227.7,1016.1 1228.2,1024.5 1228.7,1014.2 1229.2,1018.4 1229.7,1029.8 1230.2,1011.5 1230.7,1012.6 1231.2,1018.5 1231.7,1023.6 1232.2,1007.5 1232.7,1024.8 1233.1,1015.9 1233.6,1019.6 1234.1,1035.0 1234.6,1024.6 1235.1,1050.0 1235.6,1022.9 1236.1,1020.5 1236.6,1019.2 1237.1,1012.3 1237.6,1018.9 1238.1,1023.4 1238.6,1025.8 1239.1,1015.4 1239.6,1015.4 1240.1,1010.2 1240.6,1014.9 1241.1,1021.6 1241.6,1020.5 1242.1,1021.3 1242.6,1009.5 1243.1,1008.7 1243.6,1014.4 1244.1,1023.2 1244.6,1009.1 1245.1,1031.1 1245.6,1034.0 1246.1,1032.2 1246.6,1027.4 1247.1,1016.8 1247.6,1028.3 1248.1,1014.9 1248.6,1040.6 1249.1,1026.6 1249.6,1043.6 1250.1,1017.3 1250.6,1033.7 1251.1,1024.6 1251.6,1020.9 1252.1,1015.8 1252.6,1031.3 1253.1,1023.6 1253.6,1035.5 1254.1,1027.1 1254.5,1040.4 1255.0,1035.1 1255.5,1041.6 1256.0,1035.1 1256.5,1036.5 1257.0,1025.8 1257.5,1012.4 1258.0,1035.9 1258.5,1016.4 1259.0,1021.7 1259.5,1054.1 1260.0,1033.2 1260.5,1027.5 1261.0,1034.9 1261.5,1019.8 1262.0,1026.8 1262.5,1031.4 1263.0,1029.5 1263.5,1037.2 1264.0,1048.9 1264.5,1033.4 1265.0,1029.3 1265.5,1025.5 1266.0,1017.9 1266.5,1019.2 1267.0,1035.2 1267.5,1028.2 1268.0,1013.9 1268.5,1016.7 1269.0,1037.3 1269.5,1040.5 1270.0,1031.8 1270.5,1031.9 1271.0,1049.7 1271.5,1041.8 1272.0,1050.9 1272.5,1046.9 1273.0,1030.2 1273.5,1041.5 1274.0,1040.7 1274.5,1044.0 1275.0,1043.8 1275.5,1053.7 1276.0,1043.9 1276.4,1057.4 1276.9,1038.6 1277.4,1050.4 1277.9,1061.5 1278.4,1054.9 1278.9,1042.7 1279.4,1039.0 1279.9,1031.7 1280.4,1038.9 1280.9,1047.2 1281.4,1041.4 1281.9,1047.8 1282.4,1041.8 1282.9,1039.0 1283.4,1028.0 1283.9,1042.6 1284.4,1059.8 1284.9,1052.7 1285.4,1054.1 1285.9,1069.1 1286.4,1064.5 1286.9,1057.3 1287.4,1051.5 1287.9,1055.2 1288.4,1074.8 1288.9,1050.7 1289.4,1060.4 1289.9,1057.4 1290.4,1060.0 1290.9,1055.9 1291.4,1047.5 1291.9,1060.5 1292.4,1055.5 1292.9,1055.5 1293.4,1069.0 1293.9,1053.5 1294.4,1064.3 1294.9,1047.0 1295.4,1054.0 1295.9,1058.2 1296.4,1071.4 1296.9,1070.5 1297.4,1061.2 1297.8,1056.2 1298.3,1062.6 1298.8,1051.6 1299.3,1061.1 1299.8,1055.3 1300.3,1058.4 1300.8,1059.2 1301.3,1073.7 1301.8,1053.1 1302.3,1050.7 1302.8,1069.7 1303.3,1071.1 1303.8,1060.9 1304.3,1073.9 1304.8,1095.8 1305.3,1063.7 1305.8,1068.0 1306.3,1066.1 1306.8,1055.9 1307.3,1065.8 1307.8,1081.7 1308.3,1072.3 1308.8,1078.5 1309.3,1066.4 1309.8,1054.0 1310.3,1061.7 1310.8,1064.3 1311.3,1054.8 1311.8,1059.9 1312.3,1063.1 1312.8,1065.7 1313.3,1067.0 1313.8,1055.8 1314.3,1064.4 1314.8,1051.0 1315.3,1072.6 1315.8,1071.6 1316.3,1087.0 1316.8,1079.3 1317.3,1072.4 1317.8,1060.3 1318.3,1075.7 1318.8,1064.6 1319.3,1069.1 1319.7,1064.8 1320.2,1075.0 1320.7,1073.8 1321.2,1089.2 1321.7,1072.2 1322.2,1071.1 1322.7,1074.0 1323.2,1084.9 1323.7,1082.7 1324.2,1063.9 1324.7,1093.2 1325.2,1069.4 1325.7,1076.3 1326.2,1080.4 1326.7,1083.3 1327.2,1056.1 1327.7,1048.0 1328.2,1066.8 1328.7,1072.0 1329.2,1089.6 1329.7,1071.5 1330.2,1057.3 1330.7,1071.4 1331.2,1062.3 1331.7,1078.7 1332.2,1051.1 1332.7,1086.3 1333.2,1086.5 1333.7,1076.7 1334.2,1072.0 1334.7,1062.7 1335.2,1084.9 1335.7,1083.3 1336.2,1074.7 1336.7,1066.2 1337.2,1081.8 1337.7,1070.9 1338.2,1066.0 1338.7,1071.4 1339.2,1073.3 1339.7,1084.1 1340.2,1080.8 1340.7,1062.9 1341.1,1077.5 1341.6,1063.2 1342.1,1058.6 1342.6,1063.1 1343.1,1075.5 1343.6,1078.4 1344.1,1078.9 1344.6,1073.5 1345.1,1080.9 1345.6,1072.8 1346.1,1086.4 1346.6,1074.2 1347.1,1089.2 1347.6,1069.5 1348.1,1081.7 1348.6,1088.1 1349.1,1068.8 1349.6,1064.2 1350.1,1085.3 1350.6,1077.0 1351.1,1095.5 1351.6,1078.0 1352.1,1061.2 1352.6,1084.7 1353.1,1079.5 1353.6,1081.8 1354.1,1064.0 1354.6,1060.3 1355.1,1053.9 1355.6,1077.6 1356.1,1060.1 1356.6,1077.4 1357.1,1065.4 1357.6,1058.9 1358.1,1060.3 1358.6,1066.4 1359.1,1062.7 1359.6,1060.9 1360.1,1058.0 1360.6,1053.3 1361.1,1079.3 1361.6,1067.2 1362.1,1064.0 1362.6,1059.9 1363.0,1057.5 1363.5,1053.2 1364.0,1061.8 1364.5,1061.4 1365.0,1059.1 1365.5,1047.2 1366.0,1073.0 1366.5,1049.3 1367.0,1056.6 1367.5,1056.8 1368.0,1071.9 1368.5,1077.7 1369.0,1064.7 1369.5,1055.9 1370.0,1051.4 1370.5,1071.9 1371.0,1051.4 1371.5,1057.9 1372.0,1055.8 1372.5,1064.6 1373.0,1060.5 1373.5,1059.8 1374.0,1048.4 1374.5,1051.8 1375.0,1055.0 1375.5,1064.4 1376.0,1055.1 1376.5,1065.4 1377.0,1059.4 1377.5,1046.1 1378.0,1054.2 1378.5,1064.9 1379.0,1075.7 1379.5,1073.5 1380.0,1067.3 1380.5,1050.0 1381.0,1065.2 1381.5,1062.9 1382.0,1068.9 1382.5,1047.6 1383.0,1037.6 1383.5,1052.7 1384.0,1050.9 1384.4,1054.8 1384.9,1043.5 1385.4,1052.3 1385.9,1062.5 1386.4,1069.9 1386.9,1078.3 1387.4,1058.7 1387.9,1040.3 1388.4,1053.1 1388.9,1034.6 1389.4,1038.4 1389.9,1051.8 1390.4,1049.5 1390.9,1042.8 1391.4,1045.4 1391.9,1028.2 1392.4,1058.8 1392.9,1059.2 1393.4,1040.1 1393.9,1049.3 1394.4,1047.3 1394.9,1041.0 1395.4,1041.8 1395.9,1037.7 1396.4,1039.3 1396.9,1057.0 1397.4,1032.6 1397.9,1024.1 1398.4,1032.4 1398.9,1027.1 1399.4,1040.6 1399.9,1066.5 1400.4,1038.5 1400.9,1037.8 1401.4,1058.5 1401.9,1035.2 1402.4,1031.4 1402.9,1042.2 1403.4,1034.3 1403.9,1034.5 1404.4,1045.2 1404.9,1053.5 1405.4,1029.0 1405.9,1056.6 1406.3,1056.5 1406.8,1047.0 1407.3,1025.9 1407.8,1017.2 1408.3,1031.8 1408.8,1047.4 1409.3,1042.3 1409.8,1031.9 1410.3,1045.8 1410.8,1027.4 1411.3,1028.5 1411.8,1035.6 1412.3,1034.6 1412.8,1034.9 1413.3,1030.6 1413.8,1046.4 1414.3,1027.8 1414.8,1032.4 1415.3,1037.1 1415.8,1032.7 1416.3,1029.3 1416.8,1038.3 1417.3,1041.6 1417.8,1043.0 1418.3,1020.3 1418.8,1022.0 1419.3,1032.9 1419.8,1031.6 1420.3,1047.6 1420.8,1043.7 1421.3,1041.3 1421.8,1045.9 1422.3,1040.7 1422.8,1038.2 1423.3,1050.4 1423.8,1061.4 1424.3,1033.9 1424.8,1034.3 1425.3,1023.9 1425.8,1028.3 1426.3,1026.0 1426.8,1053.5 1427.3,1024.6 1427.7,1028.3 1428.2,1037.1 1428.7,1028.0 1429.2,1035.7 1429.7,1021.1 1430.2,1034.5 1430.7,1018.8 1431.2,1025.7 1431.7,1026.9 1432.2,1032.3 1432.7,1028.1 1433.2,1016.8 1433.7,1018.6 1434.2,1037.8 1434.7,1018.9 1435.2,1023.4 1435.7,1029.2 1436.2,1020.4 1436.7,1031.0 1437.2,1020.6 1437.7,1041.4 1438.2,1046.7 1438.7,1037.5 1439.2,1030.6 1439.7,1026.1 1440.2,1030.0 1440.7,1029.4 1441.2,1031.8 1441.7,1038.1 1442.2,1022.7 1442.7,1036.3 1443.2,1026.5 1443.7,1022.4 1444.2,1031.9 1444.7,1045.8 1445.2,1044.9 1445.7,1043.9 1446.2,1042.5 1446.7,1042.6 1447.2,1041.8 1447.7,1028.5 1448.2,1038.6 1448.7,1028.5 1449.2,1035.8 1449.6,1033.3 1450.1,1040.7 1450.6,1033.0 1451.1,1029.0 1451.6,1031.5 1452.1,1043.9 1452.6,1043.0 1453.1,1024.4 1453.6,1035.5 1454.1,1042.0 1454.6,1032.5 1455.1,1045.7 1455.6,1041.9 1456.1,1041.6 1456.6,1014.3 1457.1,1028.0 1457.6,1027.6 1458.1,1036.4 1458.6,1048.3 1459.1,1058.3 1459.6,1047.4 1460.1,1049.4 1460.6,1046.7 1461.1,1044.4 1461.6,1046.7 1462.1,1038.5 1462.6,1054.9 1463.1,1037.9 1463.6,1044.5 1464.1,1039.7 1464.6,1056.1 1465.1,1061.4 1465.6,1060.7 1466.1,1068.0 1466.6,1051.8 1467.1,1041.7 1467.6,1036.7 1468.1,1037.4 1468.6,1041.9 1469.1,1040.7 1469.6,1041.7 1470.1,1033.3 1470.6,1056.5 1471.0,1052.0 1471.5,1060.4 1472.0,1031.6 1472.5,1033.9 1473.0,1036.1 1473.5,1055.1 1474.0,1044.6 1474.5,1044.9 1475.0,1046.8 1475.5,1052.3 1476.0,1044.9 1476.5,1047.5 1477.0,1041.8 1477.5,1047.2 1478.0,1051.6 1478.5,1054.0 1479.0,1059.8 1479.5,1048.4 1480.0,1055.2 1480.5,1046.8 1481.0,1060.9 1481.5,1067.9 1482.0,1051.1 1482.5,1052.8 1483.0,1044.5 1483.5,1045.9 1484.0,1070.8 1484.5,1058.4 1485.0,1059.5 1485.5,1066.6 1486.0,1071.8 1486.5,1052.1 1487.0,1058.4 1487.5,1059.2 1488.0,1065.4 1488.5,1062.2 1489.0,1074.1 1489.5,1070.7 1490.0,1057.8 1490.5,1062.8 1491.0,1065.7 1491.5,1074.1 1492.0,1060.3 1492.5,1052.5 1492.9,1058.3 1493.4,1060.1 1493.9,1091.1 1494.4,1044.4 1494.9,1063.7 1495.4,1060.9 1495.9,1058.1 1496.4,1082.8 1496.9,1064.5 1497.4,1079.7 1497.9,1061.0 1498.4,1069.8 1498.9,1069.7 1499.4,1071.0 1499.9,1067.7 1500.4,1075.7 1500.9,1069.3 1501.4,1081.4 1501.9,1080.1 1502.4,1072.9 1502.9,1066.9 1503.4,1072.9 1503.9,1080.4 1504.4,1066.6 1504.9,1095.9 1505.4,1054.5 1505.9,1063.4 1506.4,1069.4 1506.9,1070.8 1507.4,1071.2 1507.9,1064.1 1508.4,1062.7 1508.9,1071.7 1509.4,1085.8 1509.9,1081.3 1510.4,1095.7 1510.9,1075.9 1511.4,1080.7 1511.9,1098.3 1512.4,1074.4 1512.9,1074.6 1513.4,1077.1 1513.9,1073.9 1514.3,1072.9 1514.8,1101.4 1515.3,1079.7 1515.8,1091.6 1516.3,1088.7 1516.8,1080.6 1517.3,1086.6 1517.8,1084.0 1518.3,1083.2 1518.8,1086.4 1519.3,1081.4 1519.8,1105.4 1520.3,1099.2 1520.8,1082.1 1521.3,1075.4 1521.8,1070.1 1522.3,1084.7 1522.8,1081.1 1523.3,1087.4 1523.8,1081.8 1524.3,1093.3 1524.8,1077.9 1525.3,1084.1 1525.8,1081.5 1526.3,1076.2 1526.8,1079.8 1527.3,1092.5 1527.8,1084.2 1528.3,1084.9 1528.8,1094.4 1529.3,1091.4 1529.8,1084.5 1530.3,1080.4 1530.8,1086.7 1531.3,1097.2 1531.8,1083.8 1532.3,1086.1 1532.8,1075.6 1533.3,1089.5 1533.8,1108.1 1534.3,1076.1 1534.8,1083.1 1535.3,1091.6 1535.8,1078.6 1536.2,1087.3 1536.7,1068.1 1537.2,1082.5 1537.7,1094.4 1538.2,1079.4 1538.7,1086.6 1539.2,1072.2 1539.7,1091.1 1540.2,1101.3 1540.7,1087.0 1541.2,1092.3 1541.7,1087.7 1542.2,1100.3 1542.7,1083.0 1543.2,1076.5 1543.7,1106.8 1544.2,1077.3 1544.7,1085.5 1545.2,1064.3 1545.7,1081.4 1546.2,1096.1 1546.7,1084.7 1547.2,1087.0 1547.7,1085.4 1548.2,1070.6 1548.7,1077.4 1549.2,1083.8 1549.7,1068.4 1550.2,1083.5 1550.7,1086.3 1551.2,1073.3 1551.7,1091.3 1552.2,1092.0 1552.7,1083.6 1553.2,1085.2 1553.7,1079.6 1554.2,1073.4 1554.7,1084.3 1555.2,1081.6 1555.7,1082.7 1556.2,1093.6 1556.7,1075.9 1557.2,1086.9 1557.6,1073.8 1558.1,1078.8 1558.6,1078.9 1559.1,1089.7 1559.6,1078.0 1560.1,1091.9 1560.6,1077.6 1561.1,1080.6 1561.6,1088.1 1562.1,1071.6 1562.6,1074.9 1563.1,1080.3 1563.6,1070.0 1564.1,1082.8 1564.6,1086.1 1565.1,1081.6 1565.6,1085.9 1566.1,1076.9 1566.6,1074.7 1567.1,1061.8 1567.6,1064.9 1568.1,1073.7 1568.6,1058.9 1569.1,1070.9 1569.6,1066.6 1570.1,1063.8 1570.6,1065.6 1571.1,1051.4 1571.6,1070.6 1572.1,1087.7 1572.6,1070.2 1573.1,1076.2 1573.6,1073.1 1574.1,1089.7 1574.6,1062.5 1575.1,1064.6 1575.6,1070.6 1576.1,1067.1 1576.6,1051.3 1577.1,1065.5 1577.6,1059.7 1578.1,1078.3 1578.6,1073.3 1579.0,1063.5 1579.5,1072.4 1580.0,1085.8 1580.5,1077.0 1581.0,1062.7 1581.5,1062.3 1582.0,1056.3 1582.5,1059.4 1583.0,1069.1 1583.5,1070.3 1584.0,1049.8 1584.5,1079.4 1585.0,1063.5 1585.5,1060.6 1586.0,1057.1 1586.5,1063.9 1587.0,1057.6 1587.5,1061.1 1588.0,1059.2 1588.5,1068.8 1589.0,1071.5 1589.5,1053.8 1590.0,1050.5 1590.5,1051.8 1591.0,1052.2 1591.5,1044.4 1592.0,1044.4 1592.5,1045.6 1593.0,1055.8 1593.5,1044.7 1594.0,1051.3 1594.5,1068.1 1595.0,1057.7 1595.5,1057.8 1596.0,1062.9 1596.5,1056.2 1597.0,1068.1 1597.5,1060.3 1598.0,1058.2 1598.5,1064.4 1599.0,1053.0 1599.5,1076.1 1600.0,1070.7 1600.5,1062.5 1600.9,1054.5 1601.4,1047.9 1601.9,1054.2 1602.4,1069.4 1602.9,1050.3 1603.4,1060.8 1603.9,1074.9 1604.4,1045.9 1604.9,1060.7 1605.4,1049.4 1605.9,1050.5 1606.4,1043.7 1606.9,1050.2 1607.4,1043.1 1607.9,1064.5 1608.4,1062.2 1608.9,1038.9 1609.4,1035.0 1609.9,1046.5 1610.4,1041.8 1610.9,1048.6 1611.4,1054.4 1611.9,1040.0 1612.4,1046.4 1612.9,1046.1 1613.4,1049.5 1613.9,1041.7 1614.4,1046.2 1614.9,1040.0 1615.4,1056.2 1615.9,1042.8 1616.4,1078.4 1616.9,1059.4 1617.4,1052.5 1617.9,1037.4 1618.4,1038.0 1618.9,1034.6 1619.4,1061.1 1619.9,1045.9 1620.4,1062.3 1620.9,1059.7 1621.4,1044.9 1621.9,1053.6 1622.3,1043.0 1622.8,1031.4 1623.3,1045.8 1623.8,1044.4 1624.3,1063.1 1624.8,1058.5 1625.3,1059.5 1625.8,1049.6 1626.3,1058.5 1626.8,1054.9 1627.3,1051.9 1627.8,1061.8 1628.3,1071.5 1628.8,1063.2 1629.3,1036.3 1629.8,1034.2 1630.3,1032.8 1630.8,1030.8 1631.3,1051.9 1631.8,1044.5 1632.3,1059.2 1632.8,1026.7 1633.3,1033.1 1633.8,1053.3 1634.3,1063.0 1634.8,1054.8 1635.3,1063.0 1635.8,1056.4 1636.3,1038.6 1636.8,1049.5 1637.3,1044.4 1637.8,1037.6 1638.3,1047.5 1638.8,1034.8 1639.3,1036.6 1639.8,1044.6 1640.3,1041.3 1640.8,1051.3 1641.3,1025.2 1641.8,1050.2 1642.3,1030.0 1642.8,1065.5 1643.3,1037.8 1643.8,1051.8 1644.2,1050.4 1644.7,1043.8 1645.2,1039.5 1645.7,1059.1 1646.2,1037.0 1646.7,1053.8 1647.2,1047.9 1647.7,1046.0 1648.2,1040.0 1648.7,1047.1 1649.2,1023.6 1649.7,1036.9 1650.2,1044.7 1650.7,1045.3 1651.2,1046.2 1651.7,1041.3 1652.2,1037.8 1652.7,1044.0 1653.2,1052.8 1653.7,1048.6 1654.2,1047.2 1654.7,1066.2 1655.2,1061.6 1655.7,1040.2 1656.2,1048.3 1656.7,1051.1 1657.2,1061.3 1657.7,1069.4 1658.2,1064.1 1658.7,1050.9 1659.2,1049.0 1659.7,1045.5 1660.2,1048.0 1660.7,1048.3 1661.2,1052.0 1661.7,1054.1 1662.2,1067.2 1662.7,1048.5 1663.2,1060.1 1663.7,1058.7 1664.2,1054.6 1664.7,1062.5 1665.2,1062.0 1665.6,1054.7 1666.1,1055.6 1666.6,1065.0 1667.1,1048.8 1667.6,1051.0 1668.1,1061.6 1668.6,1058.9 1669.1,1046.4 1669.6,1072.5 1670.1,1053.8 1670.6,1049.0 1671.1,1040.1 1671.6,1057.4 1672.1,1039.6 1672.6,1056.2 1673.1,1064.6 1673.6,1061.1 1674.1,1053.5 1674.6,1051.2 1675.1,1057.1 1675.6,1043.3 1676.1,1069.7 1676.6,1064.9 1677.1,1054.6 1677.6,1051.3 1678.1,1052.0 1678.6,1066.7 1679.1,1052.8 1679.6,1055.1 1680.1,1044.1 1680.6,1062.6 1681.1,1052.4 1681.6,1066.4 1682.1,1083.6 1682.6,1084.5 1683.1,1058.5 1683.6,1069.1 1684.1,1069.5 1684.6,1059.5 1685.1,1059.7 1685.6,1056.4 1686.1,1062.6 1686.6,1058.8 1687.1,1050.0 1687.5,1062.6 1688.0,1070.8 1688.5,1059.7 1689.0,1064.2 1689.5,1085.6 1690.0,1094.3 1690.5,1072.7 1691.0,1068.2 1691.5,1068.0 1692.0,1067.1 1692.5,1075.3 1693.0,1081.6 1693.5,1066.1 1694.0,1079.7 1694.5,1082.1 1695.0,1091.1 1695.5,1062.8 1696.0,1070.5 1696.5,1094.2 1697.0,1085.3 1697.5,1076.9 1698.0,1083.8 1698.5,1072.4 1699.0,1075.8 1699.5,1063.3 1700.0,1070.8 1700.5,1070.3 1701.0,1080.4 1701.5,1087.6 1702.0,1083.8 1702.5,1084.5 1703.0,1071.7 1703.5,1087.6 1704.0,1071.2 1704.5,1078.5 1705.0,1077.8 1705.5,1099.2 1706.0,1091.1 1706.5,1078.2 1707.0,1067.8 1707.5,1077.5 1708.0,1068.2 1708.5,1081.3 1708.9,1082.5 1709.4,1084.6 1709.9,1074.4 1710.4,1084.5 1710.9,1099.0 1711.4,1095.7 1711.9,1089.6 1712.4,1084.5 1712.9,1086.9 1713.4,1072.4 1713.9,1084.6 1714.4,1089.6 1714.9,1069.7 1715.4,1068.6 1715.9,1081.2 1716.4,1080.6 1716.9,1097.2 1717.4,1090.4 1717.9,1096.8 1718.4,1072.8 1718.9,1098.2 1719.4,1079.1 1719.9,1095.3 1720.4,1097.1 1720.9,1093.1 1721.4,1087.3 1721.9,1089.9 1722.4,1077.1 1722.9,1093.3 1723.4,1094.4 1723.9,1108.3 1724.4,1093.3 1724.9,1096.9 1725.4,1104.1 1725.9,1105.7 1726.4,1094.0 1726.9,1096.7 1727.4,1086.0 1727.9,1103.7 1728.4,1096.8 1728.9,1093.2 1729.4,1114.3 1729.9,1103.9 1730.4,1083.1 1730.8,1114.6 1731.3,1104.0 1731.8,1088.4 1732.3,1100.6 1732.8,1069.9 1733.3,1118.0 1733.8,1091.4 1734.3,1090.9 1734.8,1093.0 1735.3,1107.5 1735.8,1098.5 1736.3,1118.1 1736.8,1095.2 1737.3,1100.9 1737.8,1089.8 1738.3,1083.5 1738.8,1099.0 1739.3,1092.8 1739.8,1093.9 1740.3,1110.9 1740.8,1087.8 1741.3,1092.6 1741.8,1107.3 1742.3,1095.0 1742.8,1107.4 1743.3,1109.6 1743.8,1103.1 1744.3,1095.2 1744.8,1084.2 1745.3,1094.9 1745.8,1083.4 1746.3,1090.9 1746.8,1088.0 1747.3,1113.0 1747.8,1102.9 1748.3,1101.6 1748.8,1080.5 1749.3,1080.9 1749.8,1081.0 1750.3,1097.3 1750.8,1107.1 1751.3,1109.2 1751.8,1101.1 1752.2,1094.1 1752.7,1082.3 1753.2,1087.9 1753.7,1115.2 1754.2,1102.9 1754.7,1077.7 1755.2,1086.1 1755.7,1100.2 1756.2,1091.9 1756.7,1094.3 1757.2,1087.2 1757.7,1088.2 1758.2,1106.0 1758.7,1083.5 1759.2,1108.3 1759.7,1096.7 1760.2,1100.2 1760.7,1086.8 1761.2,1100.3 1761.7,1104.2 1762.2,1118.7 1762.7,1095.5 1763.2,1108.0 1763.7,1089.2 1764.2,1088.0 1764.7,1082.1 1765.2,1074.7 1765.7,1096.8 1766.2,1095.4 1766.7,1098.4 1767.2,1103.2 1767.7,1090.7 1768.2,1084.5 1768.7,1098.2 1769.2,1079.6 1769.7,1079.6 1770.2,1072.6 1770.7,1069.6 1771.2,1093.5 1771.7,1087.9 1772.2,1066.9 1772.7,1069.3 1773.2,1084.6 1773.7,1068.8 1774.1,1082.3 1774.6,1092.3 1775.1,1090.6 1775.6,1081.0 1776.1,1071.4 1776.6,1074.3 1777.1,1076.9 1777.6,1072.5 1778.1,1071.6 1778.6,1096.5 1779.1,1078.3 1779.6,1084.0 1780.1,1082.5 1780.6,1076.4 1781.1,1066.7 1781.6,1067.1 1782.1,1080.6 1782.6,1064.7 1783.1,1046.5 1783.6,1075.4 1784.1,1081.9 1784.6,1070.0 1785.1,1065.1 1785.6,1063.8 1786.1,1071.0 1786.6,1049.4 1787.1,1067.8 1787.6,1063.7 1788.1,1064.7 1788.6,1059.2 1789.1,1054.8 1789.6,1052.0 1790.1,1059.9 1790.6,1055.0 1791.1,1071.1 1791.6,1065.5 1792.1,1086.9 1792.6,1076.9 1793.1,1049.6 1793.6,1073.3 1794.1,1072.3 1794.6,1077.4 1795.1,1069.8 1795.5,1060.8 1796.0,1042.4 1796.5,1074.9 1797.0,1046.1 1797.5,1029.8 1798.0,1049.7 1798.5,1058.3 1799.0,1057.4 1799.5,1048.0 1800.0,1075.7 1800.5,1061.1 1801.0,1064.2 1801.5,1058.2 1802.0,1059.8 1802.5,1052.5 1803.0,1061.9 1803.5,1066.3 1804.0,1070.2 1804.5,1057.2 1805.0,1050.8 1805.5,1046.8 1806.0,1058.0 1806.5,1044.8 1807.0,1061.4 1807.5,1077.8 1808.0,1047.7 1808.5,1071.0 1809.0,1048.5 1809.5,1057.0 1810.0,1053.4 1810.5,1056.9 1811.0,1050.3 1811.5,1049.3 1812.0,1036.7 1812.5,1077.6 1813.0,1048.8 1813.5,1047.1 1814.0,1059.5 1814.5,1063.7 1815.0,1031.4 1815.5,1055.8 1816.0,1032.7 1816.5,1047.6 1817.0,1047.7 1817.4,1044.3 1817.9,1048.5 1818.4,1040.7 1818.9,1046.9 1819.4,1041.7 1819.9,1038.1 1820.4,1028.8 1820.9,1038.2 1821.4,1055.3 1821.9,1051.4 1822.4,1045.0 1822.9,1050.0 1823.4,1045.8 1823.9,1044.8 1824.4,1049.4 1824.9,1042.9 1825.4,1035.1 1825.9,1036.3 1826.4,1025.9 1826.9,1050.3 1827.4,1032.1 1827.9,1036.5 1828.4,1039.1 1828.9,1050.3 1829.4,1069.2 1829.9,1045.8 1830.4,1046.1 1830.9,1033.1 1831.4,1056.9 1831.9,1027.7 1832.4,1041.5 1832.9,1038.6 1833.4,1063.5 1833.9,1045.7 1834.4,1044.7 1834.9,1039.1 1835.4,1040.4 1835.9,1061.6 1836.4,1040.5 1836.9,1043.0 1837.4,1038.9 1837.9,1037.7 1838.4,1043.0 1838.8,1052.5 1839.3,1065.3 1839.8,1055.1 1840.3,1038.3 1840.8,1041.1 1841.3,1041.4 1841.8,1038.4 1842.3,1033.4 1842.8,1044.5 1843.3,1053.9 1843.8,1059.5 1844.3,1031.0 1844.8,1043.4 1845.3,1057.6 1845.8,1059.7 1846.3,1060.4 1846.8,1044.4 1847.3,1038.9 1847.8,1052.0 1848.3,1048.3 1848.8,1056.5 1849.3,1068.6 1849.8,1051.5 1850.3,1063.8 1850.8,1035.4 1851.3,1053.8 1851.8,1043.7 1852.3,1036.8 1852.8,1056.1 1853.3,1067.6 1853.8,1066.2 1854.3,1041.8 1854.8,1036.2 1855.3,1032.3 1855.8,1026.2 1856.3,1026.2 1856.8,1041.0 1857.3,1047.3 1857.8,1056.8 1858.3,1043.7 1858.8,1046.0 1859.3,1050.3 1859.8,1050.8 1860.3,1058.1 1860.7,1066.6 1861.2,1079.0 1861.7,1045.4 1862.2,1053.1 1862.7,1036.6 1863.2,1050.8 1863.7,1042.0 1864.2,1032.8 1864.7,1042.0 1865.2,1063.0 1865.7,1066.1 1866.2,1050.9 1866.7,1062.2 1867.2,1049.1 1867.7,1049.4 1868.2,1060.7 1868.7,1044.5 1869.2,1056.8 1869.7,1068.9 1870.2,1074.8 1870.7,1077.2 1871.2,1054.0 1871.7,1054.2 1872.2,1038.4 1872.7,1044.0 1873.2,1038.1 1873.7,1054.0 1874.2,1065.2 1874.7,1058.5 1875.2,1069.4 1875.7,1051.0 1876.2,1060.5 1876.7,1038.5 1877.2,1044.7 1877.7,1046.8 1878.2,1061.5 1878.7,1066.1 1879.2,1058.1 1879.7,1054.1 1880.2,1068.5 1880.7,1055.4 1881.2,1040.0 1881.7,1055.1 1882.1,1058.6 1882.6,1069.3 1883.1,1086.9 1883.6,1059.1 1884.1,1066.3 1884.6,1058.3 1885.1,1048.9 1885.6,1051.7 1886.1,1080.0 1886.6,1073.1 1887.1,1072.9 1887.6,1076.9 1888.1,1060.2 1888.6,1060.8 1889.1,1044.8 1889.6,1059.5 1890.1,1061.8 1890.6,1056.1 1891.1,1061.6 1891.6,1069.4 1892.1,1057.3 1892.6,1046.4 1893.1,1061.6 1893.6,1072.8 1894.1,1073.3 1894.6,1065.4 1895.1,1062.6 1895.6,1063.5 1896.1,1055.7 1896.6,1089.9 1897.1,1068.9 1897.6,1069.6 1898.1,1075.4 1898.6,1097.8 1899.1,1070.4 1899.6,1089.7 1900.1,1086.8 1900.6,1090.3 1901.1,1075.4 1901.6,1067.3 1902.1,1068.2 1902.6,1074.5 1903.1,1088.8 1903.6,1083.2 1904.0,1089.2 1904.5,1088.0 1905.0,1112.3 1905.5,1087.6 1906.0,1073.6 1906.5,1070.8 1907.0,1063.9 1907.5,1072.4 1908.0,1080.6 1908.5,1070.2 1909.0,1059.4 1909.5,1061.6 1910.0,1079.5 1910.5,1068.7 1911.0,1076.3 1911.5,1065.5 1912.0,1071.7 1912.5,1090.5 1913.0,1068.0 1913.5,1071.1 1914.0,1073.6 1914.5,1095.4 1915.0,1084.4 1915.5,1087.3 1916.0,1087.9 1916.5,1093.5 1917.0,1077.5 1917.5,1095.5 1918.0,1094.4 1918.5,1074.0 1919.0,1064.3 1919.5,1079.8 1920.0,1105.8 1920.5,1098.4 1921.0,1080.0 1921.5,1088.4 1922.0,1067.8 1922.5,1092.1 1923.0,1078.0 1923.5,1106.6 1924.0,1072.5 1924.5,1079.8 1925.0,1081.6 1925.4,1107.0 1925.9,1109.1 1926.4,1118.5 1926.9,1107.8 1927.4,1102.3 1927.9,1068.6 1928.4,1068.3 1928.9,1086.3 1929.4,1102.6 1929.9,1092.0 1930.4,1094.8 1930.9,1075.9 1931.4,1086.8 1931.9,1086.0 1932.4,1110.1 1932.9,1115.0 1933.4,1111.2 1933.9,1113.8 1934.4,1108.3 1934.9,1098.6 1935.4,1103.9 1935.9,1094.8 1936.4,1079.4 1936.9,1098.9 1937.4,1099.6 1937.9,1102.0 1938.4,1118.7 1938.9,1123.8 1939.4,1105.8 1939.9,1086.3 1940.4,1111.1 1940.9,1092.7 1941.4,1093.5 1941.9,1099.8 1942.4,1110.6 1942.9,1119.4 1943.4,1098.1 1943.9,1103.5 1944.4,1095.4 1944.9,1100.4 1945.4,1100.6 1945.9,1093.5 1946.4,1085.3 1946.9,1094.4 1947.3,1093.3 1947.8,1098.7 1948.3,1111.4 1948.8,1116.5 1949.3,1116.3 1949.8,1095.4 1950.3,1100.7 1950.5,1100.6"/>
<polyline fill="none" stroke="#ff0000" stroke-width="2.1" stroke-linejoin="bevel" points="291.5,-1.5 292.0,455.2 292.5,475.9 293.0,533.8 293.5,488.0 294.0,477.2 294.5,502.6 295.0,451.6 295.5,462.8 296.0,381.7 296.5,377.7 297.0,372.0 297.5,331.3 298.0,232.8 298.5,137.5 299.0,374.8 299.5,477.3 300.0,517.4 300.5,488.0 301.0,475.1 301.5,452.3 302.0,501.5 302.4,485.3 302.9,674.4 303.4,510.9 303.9,603.7 304.4,504.6 304.9,519.8 305.4,515.5 305.9,478.6 306.4,452.6 306.9,626.3 307.4,558.5 307.9,524.8 308.4,456.5 308.9,564.4 309.4,475.7 309.9,538.9 310.4,599.8 310.9,497.5 311.4,520.0 311.9,409.5 312.4,370.5 312.9,376.6 313.4,502.7 313.9,424.8 314.4,455.5 314.9,531.0 315.4,411.8 315.9,437.9 316.4,582.4 316.9,512.7 317.4,602.8 317.9,518.2 318.4,497.3 318.9,494.5 319.4,414.4 319.9,468.4 320.4,547.1 320.9,509.6 321.4,491.6 321.9,510.5 322.4,459.0 322.9,493.0 323.4,485.7 323.9,452.4 324.3,584.9 324.8,501.7 325.3,488.5 325.8,440.1 326.3,173.3 326.8,484.4 327.3,543.5 327.8,593.9 328.3,624.1 328.8,651.8 329.3,663.5 329.8,729.9 330.3,775.7 330.8,788.9 331.3,687.8 331.8,771.3 332.3,717.6 332.8,686.9 333.3,467.8 333.8,802.3 334.3,562.3 334.8,594.4 335.3,594.3 335.8,593.1 336.3,590.8 336.8,624.0 337.3,614.5 337.8,612.7 338.3,639.9 338.8,605.7 339.3,612.4 339.8,612.8 340.3,642.0 340.8,621.3 341.3,773.4 341.8,613.0 342.3,637.1 342.8,622.0 343.3,605.6 343.8,642.0 344.3,643.8 344.8,644.6 345.3,663.3 345.7,649.1 346.2,622.5 346.7,660.7 347.2,651.8 347.7,633.4 348.2,643.7 348.7,649.6 349.2,658.5 349.7,655.9 350.2,654.4 350.7,644.8 351.2,653.5 351.7,641.2 352.2,681.2 352.7,642.8 353.2,662.0 353.7,654.1 354.2,660.2 354.7,588.4 355.2,655.5 355.7,644.6 356.2,664.8 356.7,650.4 357.2,635.2 357.7,636.5 358.2,657.2 358.7,649.7 359.2,656.0 359.7,650.1 360.2,645.8 360.7,629.2 361.2,488.7 361.7,814.5 362.2,689.1 362.7,724.2 363.2,713.6 363.7,720.1 364.2,729.8 364.7,726.0 365.2,721.9 365.7,705.2 366.2,717.7 366.7,720.0 367.2,718.8 367.6,719.9 368.1,857.1 368.6,653.1 369.1,695.3 369.6,684.6 370.1,654.8 370.6,677.1 371.1,684.2 371.6,680.1 372.1,695.0 372.6,689.1 373.1,685.4 373.6,707.3 374.1,703.1 374.6,703.0 375.1,704.4 375.6,708.3 376.1,704.0 376.6,699.6 377.1,705.9 377.6,701.6 378.1,702.5 378.6,716.3 379.1,710.5 379.6,716.5 380.1,709.5 380.6,718.2 381.1,717.8 381.6,704.1 382.1,719.4 382.6,730.9 383.1,718.6 383.6,717.9 384.1,724.7 384.6,720.8 385.1,713.9 385.6,726.2 386.1,724.0 386.6,728.3 387.1,720.4 387.6,724.0 388.1,730.2 388.6,724.1 389.0,767.3 389.5,735.5 390.0,732.5 390.5,718.6 391.0,731.2 391.5,704.5 392.0,730.2 392.5,727.6 393.0,720.3 393.5,706.2 394.0,702.1 394.5,695.2 395.0,744.4 395.5,681.9 396.0,716.9 396.5,516.1 397.0,790.1 397.5,757.8 398.0,747.9 398.5,740.8 399.0,740.4 399.5,750.8 400.0,735.0 400.5,745.0 401.0,740.2 401.5,756.2 402.0,753.2 402.5,752.4 403.0,731.4 403.5,761.4 404.0,755.7 404.5,733.5 405.0,737.0 405.5,760.0 406.0,739.8 406.5,741.8 407.0,735.7 407.5,764.5 408.0,755.3 408.5,744.2 409.0,747.6 409.5,761.7 410.0,757.8 410.5,768.0 410.9,747.0 411.4,761.7 411.9,749.4 412.4,753.9 412.9,767.7 413.4,762.7 413.9,757.2 414.4,759.5 414.9,751.7 415.4,790.1 415.9,762.1 416.4,759.8 416.9,771.0 417.4,770.6 417.9,761.7 418.4,764.1 418.9,775.6 419.4,767.9 419.9,773.7 420.4,772.1 420.9,758.1 421.4,775.4 421.9,773.3 422.4,805.3 422.9,767.9 423.4,767.3 423.9,779.7 424.4,768.8 424.9,771.4 425.4,774.8 425.9,772.9 426.4,770.8 426.9,762.1 427.4,754.1 427.9,767.7 428.4,757.2 428.9,767.7 429.4,779.9 429.9,768.1 430.4,758.8 430.9,675.9 431.4,805.3 431.9,758.1 432.3,782.9 432.8,783.8 433.3,782.9 433.8,768.4 434.3,777.0 434.8,773.6 435.3,798.0 435.8,781.8 436.3,782.6 436.8,776.7 437.3,785.9 437.8,773.5 438.3,788.3 438.8,794.0 439.3,796.3 439.8,774.5 440.3,778.8 440.8,791.2 441.3,777.4 441.8,787.7 442.3,787.9 442.8,798.7 443.3,812.9 443.8,787.8 444.3,787.6 444.8,794.0 445.3,782.7 445.8,779.8 446.3,797.7 446.8,789.0 447.3,804.4 447.8,790.3 448.3,801.6 448.8,796.2 449.3,794.5 449.8,798.6 450.3,828.2 450.8,804.6 451.3,803.3 451.8,798.4 452.3,802.3 452.8,801.4 453.3,806.4 453.8,812.4 454.2,802.7 454.7,808.9 455.2,804.3 455.7,802.9 456.2,817.8 456.7,822.8 457.2,824.1 457.7,823.1 458.2,829.2 458.7,816.0 459.2,823.2 459.7,818.1 460.2,830.5 460.7,826.5 461.2,826.6 461.7,826.7 462.2,823.7 462.7,827.6 463.2,826.5 463.7,824.6 464.2,831.9 464.7,827.4 465.2,828.3 465.7,823.9 466.2,836.9 466.7,839.7 467.2,845.5 467.7,846.9 468.2,840.4 468.7,842.5 469.2,849.2 469.7,840.6 470.2,842.6 470.7,849.7 471.2,849.3 471.7,847.6 472.2,848.9 472.7,853.9 473.2,847.8 473.7,850.7 474.2,849.0 474.7,863.3 475.2,855.5 475.6,856.6 476.1,858.4 476.6,864.9 477.1,858.6 477.6,863.8 478.1,866.1 478.6,868.5 479.1,868.0 479.6,865.8 480.1,868.0 480.6,864.3 481.1,860.0 481.6,860.8 482.1,858.4 482.6,867.5 483.1,864.3 483.6,860.6 484.1,868.8 484.6,864.9 485.1,866.3 485.6,870.3 486.1,867.0 486.6,875.3 487.1,871.0 487.6,874.0 488.1,862.7 488.6,859.4 489.1,863.3 489.6,864.3 490.1,870.7 490.6,862.4 491.1,865.5 491.6,865.0 492.1,860.3 492.6,864.0 493.1,866.5 493.6,869.0 494.1,872.4 494.6,873.6 495.1,882.4 495.6,868.5 496.1,870.3 496.6,868.0 497.1,867.7 497.5,862.4 498.0,871.8 498.5,874.7 499.0,873.2 499.5,878.3 500.0,871.2 500.5,867.4 501.0,869.3 501.5,1110.0 502.0,879.3 502.5,875.6 503.0,874.3 503.5,871.1 504.0,867.3 504.5,866.5 505.0,868.5 505.5,868.2 506.0,887.6 506.5,873.1 507.0,875.6 507.5,874.7 508.0,873.8 508.5,883.0 509.0,882.0 509.5,876.5 510.0,876.1 510.5,873.4 511.0,881.1 511.5,871.3 512.0,881.5 512.5,869.8 513.0,879.1 513.5,871.7 514.0,872.4 514.5,882.4 515.0,879.6 515.5,871.7 516.0,871.1 516.5,870.6 517.0,871.3 517.5,868.3 518.0,878.2 518.5,874.7 518.9,865.0 519.4,872.1 519.9,871.1 520.4,880.4 520.9,877.3 521.4,881.1 521.9,875.1 522.4,869.2 522.9,877.3 523.4,878.3 523.9,880.2 524.4,873.8 524.9,878.0 525.4,875.8 525.9,868.1 526.4,883.1 526.9,877.7 527.4,879.7 527.9,869.4 528.4,875.8 528.9,882.1 529.4,880.3 529.9,870.1 530.4,872.3 530.9,873.9 531.4,877.0 531.9,871.9 532.4,870.1 532.9,871.4 533.4,879.6 533.9,880.7 534.4,883.3 534.9,874.3 535.4,882.9 535.9,879.3 536.4,878.6 536.9,884.1 537.4,886.8 537.9,876.8 538.4,877.8 538.9,874.1 539.4,873.1 539.9,870.9 540.4,878.8 540.8,881.4 541.3,891.1 541.8,882.4 542.3,885.6 542.8,874.5 543.3,873.9 543.8,871.3 544.3,873.9 544.8,873.3 545.3,872.2 545.8,874.6 546.3,874.8 546.8,875.7 547.3,881.7 547.8,877.1 548.3,876.3 548.8,886.8 549.3,888.1 549.8,879.0 550.3,875.4 550.8,875.4 551.3,868.2 551.8,878.1 552.3,882.8 552.8,878.2 553.3,873.1 553.8,872.4 554.3,885.0 554.8,879.9 555.3,876.4 555.8,868.6 556.3,869.4 556.8,871.2 557.3,866.1 557.8,868.9 558.3,870.2 558.8,870.1 559.3,877.9 559.8,877.3 560.3,877.1 560.8,874.5 561.3,870.3 561.8,877.3 562.2,883.1 562.7,888.7 563.2,880.4 563.7,876.0 564.2,877.6 564.7,880.2 565.2,875.3 565.7,870.2 566.2,872.3 566.7,871.6 567.2,869.0 567.7,872.7 568.2,880.3 568.7,881.5 569.2,884.0 569.7,883.9 570.2,884.7 570.7,876.7 571.2,871.8 571.7,885.8 572.2,870.8 572.7,877.5 573.2,874.5 573.7,880.6 574.2,873.9 574.7,873.8 575.2,871.3 575.7,882.9 576.2,869.2 576.7,882.9 577.2,873.3 577.7,872.0 578.2,875.0 578.7,872.2 579.2,873.3 579.7,872.7 580.2,877.8 580.7,870.4 581.2,869.7 581.7,873.6 582.2,872.8 582.7,870.1 583.2,874.7 583.6,872.7 584.1,870.2 584.6,871.9 585.1,868.6 585.6,873.4 586.1,880.0 586.6,880.7 587.1,871.9 587.6,864.8 588.1,870.6 588.6,873.3 589.1,863.9 589.6,872.3 590.1,871.7 590.6,870.6 591.1,879.5 591.6,870.0 592.1,870.7 592.6,866.7 593.1,869.8 593.6,872.7 594.1,871.9 594.6,882.6 595.1,874.5 595.6,870.8 596.1,867.0 596.6,873.3 597.1,868.5 597.6,876.7 598.1,866.4 598.6,871.1 599.1,868.5 599.6,868.6 600.1,871.2 600.6,873.9 601.1,877.3 601.6,882.4 602.1,875.1 602.6,881.4 603.1,874.1 603.6,875.4 604.1,871.1 604.6,874.3 605.1,881.4 605.5,876.6 606.0,875.7 606.5,870.6 607.0,879.7 607.5,880.7 608.0,876.8 608.5,882.1 609.0,878.8 609.5,877.7 610.0,880.6 610.5,877.9 611.0,873.6 611.5,881.3 612.0,887.9 612.5,884.8 613.0,893.9 613.5,892.4 614.0,893.7 614.5,893.4 615.0,880.6 615.5,892.6 616.0,882.7 616.5,889.4 617.0,879.2 617.5,880.4 618.0,885.0 618.5,886.3 619.0,876.5 619.5,885.4 620.0,883.7 620.5,885.3 621.0,883.4 621.5,884.9 622.0,886.6 622.5,886.0 623.0,885.8 623.5,890.8 624.0,879.3 624.5,890.9 625.0,892.1 625.5,893.0 626.0,894.6 626.5,890.8 626.9,888.8 627.4,888.6 627.9,895.3 628.4,896.1 628.9,891.1 629.4,899.8 629.9,896.6 630.4,888.2 630.9,896.0 631.4,897.8 631.9,893.5 632.4,902.7 632.9,899.6 633.4,903.5 633.9,901.9 634.4,892.8 634.9,901.4 635.4,898.5 635.9,896.8 636.4,908.2 636.9,900.9 637.4,904.5 637.9,901.0 638.4,902.5 638.9,913.1 639.4,898.6 639.9,918.7 640.4,914.8 640.9,920.6 641.4,968.0 641.9,910.0 642.4,907.3 642.9,914.5 643.4,917.2 643.9,910.0 644.4,912.5 644.9,911.0 645.4,912.5 645.9,915.8 646.4,918.0 646.9,918.1 647.4,910.4 647.9,908.6 648.4,908.1 648.8,921.1 649.3,914.7 649.8,910.8 650.3,914.0 650.8,919.3 651.3,910.5 651.8,910.6 652.3,925.0 652.8,928.1 653.3,935.0 653.8,933.8 654.3,929.4 654.8,919.7 655.3,919.7 655.8,922.8 656.3,921.9 656.8,934.1 657.3,946.5 657.8,927.9 658.3,931.3 658.8,930.9 659.3,925.8 659.8,935.2 660.3,935.7 660.8,937.4 661.3,928.1 661.8,926.5 662.3,939.6 662.8,927.5 663.3,941.2 663.8,935.7 664.3,939.8 664.8,925.0 665.3,933.2 665.8,930.4 666.3,946.1 666.8,935.6 667.3,939.0 667.8,942.2 668.3,949.0 668.8,948.2 669.3,948.6 669.8,949.1 670.2,941.4 670.7,937.3 671.2,948.0 671.7,951.1 672.2,954.2 672.7,958.4 673.2,953.9 673.7,951.5 674.2,946.8 674.7,942.5 675.2,941.3 675.7,946.5 676.2,957.5 676.7,952.4 677.2,956.5 677.7,955.3 678.2,947.5 678.7,949.7 679.2,944.0 679.7,957.6 680.2,959.4 680.7,959.3 681.2,961.8 681.7,963.1 682.2,948.4 682.7,947.0 683.2,953.4 683.7,957.1 684.2,951.8 684.7,952.5 685.2,958.1 685.7,949.1 686.2,952.7 686.7,950.5 687.2,959.7 687.7,958.8 688.2,958.8 688.7,964.4 689.2,943.1 689.7,960.6 690.2,956.4 690.7,957.1 691.2,961.7 691.7,952.8 692.1,958.2 692.6,958.9 693.1,964.9 693.6,962.5 694.1,959.1 694.6,958.7 695.1,962.6 695.6,962.1 696.1,972.0 696.6,972.3 697.1,971.1 697.6,963.8 698.1,961.2 698.6,964.4 699.1,969.5 699.6,957.3 700.1,970.7 700.6,954.3 701.1,957.8 701.6,960.0 702.1,965.9 702.6,961.1 703.1,962.4 703.6,960.0 704.1,961.7 704.6,958.2 705.1,974.5 705.6,959.9 706.1,952.2 706.6,952.7 707.1,968.5 707.6,964.9 708.1,968.2 708.6,961.5 709.1,966.8 709.6,952.4 710.1,968.0 710.6,956.8 711.1,969.7 711.6,973.1 712.1,964.6 712.6,966.7 713.1,972.1 713.5,970.6 714.0,969.3 714.5,973.0 715.0,964.7 715.5,960.1 716.0,960.8 716.5,961.1 717.0,959.3 717.5,964.4 718.0,961.5 718.5,971.0 719.0,968.1 719.5,963.8 720.0,961.2 720.5,972.9 721.0,980.0 721.5,961.4 722.0,962.7 722.5,957.9 723.0,960.7 723.5,966.6 724.0,972.5 724.5,971.7 725.0,958.7 725.5,959.5 726.0,962.2 726.5,966.5 727.0,960.9 727.5,964.1 728.0,967.4 728.5,980.5 729.0,965.5 729.5,957.3 730.0,967.2 730.5,963.3 731.0,957.9 731.5,962.7 732.0,950.7 732.5,961.7 733.0,958.4 733.5,958.7 734.0,956.4 734.5,955.4 735.0,962.4 735.4,955.4 735.9,967.2 736.4,961.8 736.9,973.1 737.4,970.1 737.9,956.7 738.4,955.1 738.9,954.7 739.4,956.6 739.9,956.6 740.4,958.6 740.9,956.3 741.4,960.6 741.9,969.9 742.4,963.5 742.9,965.4 743.4,960.2 743.9,960.6 744.4,954.3 744.9,945.4 745.4,951.7 745.9,950.9 746.4,1044.0 746.9,954.2 747.4,958.5 747.9,955.7 748.4,955.6 748.9,951.9 749.4,950.6 749.9,957.4 750.4,950.6 750.9,951.8 751.4,953.7 751.9,951.8 752.4,958.8 752.9,949.3 753.4,957.7 753.9,957.4 754.4,963.5 754.9,958.8 755.4,960.8 755.9,956.0 756.4,958.8 756.8,949.8 757.3,939.3 757.8,958.2 758.3,940.7 758.8,948.5 759.3,942.1 759.8,950.4 760.3,938.1 760.8,949.9 761.3,947.2 761.8,940.8 762.3,957.8 762.8,961.0 763.3,948.9 763.8,954.7 764.3,957.4 764.8,956.2 765.3,958.4 765.8,940.3 766.3,940.0 766.8,954.5 767.3,948.7 767.8,949.1 768.3,942.3 768.8,955.6 769.3,945.1 769.8,949.9 770.3,951.4 770.8,945.4 771.3,945.5 771.8,935.5 772.3,946.5 772.8,952.9 773.3,948.5 773.8,938.3 774.3,950.5 774.8,952.4 775.3,940.3 775.8,938.0 776.3,944.7 776.8,947.1 777.3,940.9 777.8,952.7 778.3,931.3 778.7,942.4 779.2,937.6 779.7,942.3 780.2,932.9 780.7,953.6 781.2,976.0 781.7,962.5 782.2,948.6 782.7,946.6 783.2,954.6 783.7,955.2 784.2,940.6 784.7,935.7 785.2,938.1 785.7,948.4 786.2,944.0 786.7,950.3 787.2,937.6 787.7,957.2 788.2,948.5 788.7,955.8 789.2,946.9 789.7,942.0 790.2,951.1 790.7,942.1 791.2,951.2 791.7,956.6 792.2,955.3 792.7,941.1 793.2,943.8 793.7,942.1 794.2,947.6 794.7,936.5 795.2,939.1 795.7,944.2 796.2,941.6 796.7,961.6 797.2,956.5 797.7,952.5 798.2,948.6 798.7,943.2 799.2,941.6 799.7,944.4 800.1,946.3 800.6,945.5 801.1,941.1 801.6,944.1 802.1,942.0 802.6,934.0 803.1,943.6 803.6,945.4 804.1,951.0 804.6,945.6 805.1,939.5 805.6,941.7 806.1,945.2 806.6,951.2 807.1,946.6 807.6,943.3 808.1,952.2 808.6,965.8 809.1,942.6 809.6,946.0 810.1,949.2 810.6,939.3 811.1,947.0 811.6,932.7 812.1,939.8 812.6,936.7 813.1,941.8 813.6,940.8 814.1,940.0 814.6,941.5 815.1,945.5 815.6,949.4 816.1,947.9 816.6,936.7 817.1,949.3 817.6,960.3 818.1,954.8 818.6,957.3 819.1,945.5 819.6,948.6 820.1,938.1 820.6,941.7 821.1,943.0 821.6,955.3 822.0,950.3 822.5,953.2 823.0,943.1 823.5,960.8 824.0,955.2 824.5,943.7 825.0,949.2 825.5,963.7 826.0,953.8 826.5,949.4 827.0,951.9 827.5,964.5 828.0,950.8 828.5,957.2 829.0,951.1 829.5,961.2 830.0,941.9 830.5,956.2 831.0,953.3 831.5,949.7 832.0,948.3 832.5,949.8 833.0,962.6 833.5,959.1 834.0,960.1 834.5,973.4 835.0,951.1 835.5,961.2 836.0,961.9 836.5,961.9 837.0,965.0 837.5,960.7 838.0,963.9 838.5,954.9 839.0,952.2 839.5,962.5 840.0,973.6 840.5,959.0 841.0,966.0 841.5,971.5 842.0,970.7 842.5,958.7 843.0,958.0 843.4,966.1 843.9,963.0 844.4,963.3 844.9,967.4 845.4,968.5 845.9,961.6 846.4,966.3 846.9,957.1 847.4,969.2 847.9,962.1 848.4,964.3 848.9,967.1 849.4,965.0 849.9,968.7 850.4,957.9 850.9,971.6 851.4,962.2 851.9,968.6 852.4,980.4 852.9,964.9 853.4,982.5 853.9,969.1 854.4,971.7 854.9,977.5 855.4,973.7 855.9,983.9 856.4,981.2 856.9,973.7 857.4,981.9 857.9,987.0 858.4,979.6 858.9,979.1 859.4,979.1 859.9,975.4 860.4,984.2 860.9,983.0 861.4,983.1 861.9,980.8 862.4,976.3 862.9,980.2 863.4,968.8 863.9,975.9 864.4,980.0 864.9,981.2 865.3,1000.6 865.8,983.4 866.3,991.3 866.8,984.3 867.3,989.2 867.8,980.5 868.3,986.5 868.8,987.4 869.3,979.2 869.8,980.5 870.3,993.8 870.8,994.3 871.3,994.2 871.8,997.6 872.3,987.7 872.8,996.4 873.3,1004.7 873.8,1007.2 874.3,1000.8 874.8,991.6 875.3,989.7 875.8,984.9 876.3,988.0 876.8,987.7 877.3,984.1 877.8,986.4 878.3,992.0 878.8,994.4 879.3,987.6 879.8,988.8 880.3,988.6 880.8,1011.5 881.3,997.0 881.8,1014.0 882.3,1008.6 882.8,1000.5 883.3,1009.5 883.8,1005.5 884.3,1003.0 884.8,991.2 885.3,994.5 885.8,1043.0 886.3,1007.6 886.7,1009.4 887.2,1012.2 887.7,1015.5 888.2,1001.4 888.7,1009.5 889.2,1010.1 889.7,1031.9 890.2,1015.0 890.7,1013.0 891.2,1003.1 891.7,1022.1 892.2,1004.3 892.7,1002.7 893.2,1014.1 893.7,1004.8 894.2,1002.2 894.7,1004.2 895.2,1003.7 895.7,997.3 896.2,1008.5 896.7,1000.7 897.2,1010.2 897.7,1012.9 898.2,1019.3 898.7,1004.5 899.2,1006.3 899.7,1018.5 900.2,1018.1 900.7,1014.8 901.2,1033.6 901.7,1024.4 902.2,1012.8 902.7,1013.9 903.2,1026.2 903.7,1028.9 904.2,1019.8 904.7,1015.7 905.2,1021.0 905.7,1033.0 906.2,1011.7 906.7,1013.4 907.2,1013.2 907.7,1017.9 908.2,1009.1 908.6,1019.5 909.1,1023.2 909.6,1026.8 910.1,1024.2 910.6,1020.4 911.1,1015.5 911.6,1030.3 912.1,1021.4 912.6,1020.8 913.1,1012.8 913.6,1026.5 914.1,1033.7 914.6,1020.6 915.1,1020.5 915.6,1018.2 916.1,1012.7 916.6,1023.7 917.1,1026.2 917.6,1010.3 918.1,1021.0 918.6,1030.6 919.1,1023.1 919.6,1024.8 920.1,1039.0 920.6,1026.6 921.1,1060.0 921.6,1026.1 922.1,1025.1 922.6,1042.1 923.1,1034.5 923.6,1032.4 924.1,1024.4 924.6,1022.9 925.1,1027.0 925.6,1028.1 926.1,1041.5 926.6,1010.6 927.1,1028.7 927.6,1028.3 928.1,1030.3 928.6,1023.1 929.1,1029.3 929.6,1034.9 930.0,1042.7 930.5,1030.7 931.0,1037.9 931.5,1037.6 932.0,1032.8 932.5,1029.9 933.0,1022.0 933.5,1029.2 934.0,1036.1 934.5,1026.7 935.0,1023.7 935.5,1037.2 936.0,1021.0 936.5,1020.1 937.0,1026.9 937.5,1018.0 938.0,1015.4 938.5,1010.8 939.0,1010.3 939.5,1021.8 940.0,1022.1 940.5,1009.1 941.0,1024.5 941.5,1014.4 942.0,1008.2 942.5,1001.5 943.0,1001.8 943.5,1019.5 944.0,1005.0 944.5,1020.5 945.0,997.2 945.5,1015.6 946.0,1003.7 946.5,1014.0 947.0,1003.9 947.5,1007.3 948.0,999.6 948.5,1002.8 949.0,1006.4 949.5,1002.3 950.0,1010.9 950.5,1005.0 951.0,1007.1 951.5,996.7 951.9,1000.1 952.4,996.1 952.9,993.9 953.4,1006.8 953.9,1001.0 954.4,995.4 954.9,1001.3 955.4,1012.6 955.9,998.2 956.4,1004.4 956.9,999.8 957.4,986.2 957.9,1006.9 958.4,1003.2 958.9,1018.7 959.4,996.7 959.9,995.0 960.4,999.0 960.9,1000.0 961.4,996.9 961.9,995.4 962.4,988.8 962.9,999.7 963.4,1006.7 963.9,1004.2 964.4,1009.8 964.9,1000.7 965.4,1004.6 965.9,994.7 966.4,1005.1 966.9,1000.9 967.4,996.1 967.9,1014.2 968.4,1006.8 968.9,986.9 969.4,999.5 969.9,989.1 970.4,988.4 970.9,995.4 971.4,1000.8 971.9,985.2 972.4,996.9 972.9,989.3 973.3,994.8 973.8,987.0 974.3,994.4 974.8,996.6 975.3,992.4 975.8,987.5 976.3,991.3 976.8,986.0 977.3,983.6 977.8,986.5 978.3,980.6 978.8,989.4 979.3,984.9 979.8,980.4 980.3,977.6 980.8,998.0 981.3,975.7 981.8,992.7 982.3,973.9 982.8,983.7 983.3,987.8 983.8,1001.1 984.3,983.8 984.8,983.4 985.3,987.3 985.8,992.5 986.3,985.7 986.8,978.8 987.3,976.7 987.8,978.0 988.3,981.0 988.8,975.5 989.3,977.9 989.8,977.0 990.3,989.0 990.8,998.7 991.3,984.5 991.8,981.7 992.3,985.1 992.8,981.8 993.3,990.4 993.8,981.8 994.3,988.7 994.8,974.0 995.2,975.4 995.7,981.0 996.2,995.2 996.7,997.7 997.2,981.2 997.7,987.5 998.2,981.4 998.7,998.0 999.2,996.1 999.7,986.1 1000.2,991.1 1000.7,999.7 1001.2,994.5 1001.7,979.2 1002.2,988.5 1002.7,984.4 1003.2,978.0 1003.7,984.6 1004.2,982.8 1004.7,990.5 1005.2,973.2 1005.7,990.6 1006.2,987.7 1006.7,979.5 1007.2,989.3 1007.7,972.7 1008.2,981.5 1008.7,974.8 1009.2,979.3 1009.7,975.4 1010.2,973.7 1010.7,993.2 1011.2,992.1 1011.7,990.3 1012.2,968.0 1012.7,975.3 1013.2,975.8 1013.7,989.1 1014.2,973.8 1014.7,968.8 1015.2,974.5 1015.7,965.9 1016.2,990.1 1016.6,985.8 1017.1,985.8 1017.6,988.7 1018.1,980.8 1018.6,978.4 1019.1,981.2 1019.6,982.5 1020.1,979.6 1020.6,976.3 1021.1,987.9 1021.6,988.7 1022.1,974.7 1022.6,980.7 1023.1,978.8 1023.6,972.5 1024.1,975.4 1024.6,976.9 1025.1,979.4 1025.6,1029.0 1026.1,981.0 1026.6,993.9 1027.1,991.4 1027.6,978.0 1028.1,990.8 1028.6,1001.9 1029.1,997.4 1029.6,985.8 1030.1,990.7 1030.6,999.2 1031.1,993.9 1031.6,994.3 1032.1,981.6 1032.6,988.2 1033.1,986.6 1033.6,996.6 1034.1,983.6 1034.6,984.4 1035.1,994.3 1035.6,993.0 1036.1,998.4 1036.6,989.7 1037.1,990.8 1037.6,991.2 1038.0,980.8 1038.5,982.5 1039.0,982.6 1039.5,995.5 1040.0,995.1 1040.5,986.4 1041.0,991.2 1041.5,983.4 1042.0,988.4 1042.5,979.3 1043.0,987.5 1043.5,997.8 1044.0,985.4 1044.5,990.2 1045.0,991.4 1045.5,989.2 1046.0,987.3 1046.5,982.6 1047.0,976.7 1047.5,990.3 1048.0,983.9 1048.5,993.8 1049.0,992.9 1049.5,995.9 1050.0,1000.6 1050.5,990.6 1051.0,995.0 1051.5,995.6 1052.0,1004.1 1052.5,983.0 1053.0,993.9 1053.5,1000.3 1054.0,1002.9 1054.5,999.3 1055.0,999.8 1055.5,989.1 1056.0,1009.9 1056.5,1010.4 1057.0,1001.2 1057.5,993.5 1058.0,1009.3 1058.5,996.6 1059.0,1008.4 1059.5,1007.4 1059.9,1013.6 1060.4,1004.2 1060.9,1011.4 1061.4,994.4 1061.9,1003.0 1062.4,1001.6 1062.9,995.8 1063.4,1005.7 1063.9,1014.9 1064.4,1009.0 1064.9,1001.8 1065.4,1018.8 1065.9,1015.2 1066.4,1013.1 1066.9,1010.4 1067.4,1002.1 1067.9,1021.2 1068.4,1025.1 1068.9,1023.2 1069.4,1022.7 1069.9,1005.4 1070.4,1000.7 1070.9,1005.6 1071.4,1016.8 1071.9,1014.7 1072.4,1009.2 1072.9,1020.9 1073.4,1015.9 1073.9,1011.6 1074.4,1008.2 1074.9,1026.3 1075.4,1014.9 1075.9,1031.7 1076.4,1009.1 1076.9,1010.6 1077.4,1030.6 1077.9,1017.6 1078.4,1016.4 1078.9,1020.2 1079.4,1012.9 1079.9,1006.0 1080.4,1017.2 1080.9,1028.0 1081.3,1031.5 1081.8,1032.7 1082.3,1031.5 1082.8,1025.1 1083.3,1028.5 1083.8,1026.2 1084.3,1015.6 1084.8,1021.3 1085.3,1021.2 1085.8,1027.5 1086.3,1027.9 1086.8,1019.3 1087.3,1028.6 1087.8,1011.0 1088.3,1024.2 1088.8,1034.7 1089.3,1028.3 1089.8,1035.1 1090.3,1020.7 1090.8,1024.0 1091.3,1016.5 1091.8,1028.9 1092.3,1031.5 1092.8,1037.3 1093.3,1038.3 1093.8,1028.6 1094.3,1031.7 1094.8,1028.1 1095.3,1046.0 1095.8,1033.6 1096.3,1058.0 1096.8,1033.2 1097.3,1040.8 1097.8,1037.2 1098.3,1043.3 1098.8,1030.0 1099.3,1050.6 1099.8,1042.5 1100.3,1045.6 1100.8,1037.4 1101.3,1036.1 1101.8,1025.3 1102.3,1042.6 1102.8,1036.3 1103.2,1048.8 1103.7,1037.5 1104.2,1051.1 1104.7,1049.4 1105.2,1032.9 1105.7,1038.7 1106.2,1037.3 1106.7,1046.3 1107.2,1039.0 1107.7,1038.9 1108.2,1047.7 1108.7,1038.3 1109.2,1043.0 1109.7,1048.4 1110.2,1044.2 1110.7,1046.9 1111.2,1045.7 1111.7,1029.9 1112.2,1028.1 1112.7,1041.1 1113.2,1038.5 1113.7,1048.8 1114.2,1056.0 1114.7,1056.9 1115.2,1045.4 1115.7,1047.1 1116.2,1050.5 1116.7,1055.4 1117.2,1062.5 1117.7,1046.1 1118.2,1060.5 1118.7,1055.6 1119.2,1036.7 1119.7,1036.8 1120.2,1034.8 1120.7,1043.8 1121.2,1055.7 1121.7,1052.0 1122.2,1054.7 1122.7,1047.8 1123.2,1049.6 1123.7,1042.5 1124.2,1068.2 1124.6,1045.1 1125.1,1060.7 1125.6,1038.7 1126.1,1058.5 1126.6,1045.7 1127.1,1036.0 1127.6,1052.2 1128.1,1053.5 1128.6,1033.4 1129.1,1050.8 1129.6,1056.0 1130.1,1035.7 1130.6,1058.5 1131.1,1048.4 1131.6,1055.5 1132.1,1049.0 1132.6,1067.1 1133.1,1040.1 1133.6,1038.6 1134.1,1042.3 1134.6,1045.1 1135.1,1050.2 1135.6,1039.5 1136.1,1048.7 1136.6,1044.7 1137.1,1039.0 1137.6,1052.7 1138.1,1061.6 1138.6,1056.9 1139.1,1040.2 1139.6,1052.5 1140.1,1045.0 1140.6,1066.5 1141.1,1049.7 1141.6,1045.1 1142.1,1058.7 1142.6,1050.0 1143.1,1039.2 1143.6,1041.0 1144.1,1047.5 1144.6,1044.1 1145.1,1038.4 1145.6,1060.4 1146.1,1051.9 1146.5,1045.0 1147.0,1044.5 1147.5,1033.0 1148.0,1037.8 1148.5,1033.5 1149.0,1033.8 1149.5,1044.2 1150.0,1051.1 1150.5,1054.2 1151.0,1043.4 1151.5,1040.7 1152.0,1032.5 1152.5,1040.6 1153.0,1035.5 1153.5,1029.8 1154.0,1037.2 1154.5,1038.4 1155.0,1034.5 1155.5,1042.7 1156.0,1037.0 1156.5,1029.6 1157.0,1037.1 1157.5,1044.6 1158.0,1048.1 1158.5,1035.7 1159.0,1028.8 1159.5,1031.0 1160.0,1028.1 1160.5,1030.2 1161.0,1041.5 1161.5,1049.8 1162.0,1043.7 1162.5,1042.9 1163.0,1046.2 1163.5,1030.9 1164.0,1037.8 1164.5,1039.0 1165.0,1038.5 1165.5,1071.0 1166.0,1042.0 1166.5,1029.0 1167.0,1032.4 1167.5,1033.8 1167.9,1047.1 1168.4,1048.0 1168.9,1038.2 1169.4,1032.1 1169.9,1027.3 1170.4,1034.4 1170.9,1031.7 1171.4,1038.7 1171.9,1057.3 1172.4,1051.0 1172.9,1035.6 1173.4,1029.3 1173.9,1026.4 1174.4,1039.1 1174.9,1031.3 1175.4,1032.2 1175.9,1028.3 1176.4,1026.2 1176.9,1036.0 1177.4,1044.1 1177.9,1051.1 1178.4,1053.1 1178.9,1038.3 1179.4,1035.6 1179.9,1029.7 1180.4,1039.1 1180.9,1038.8 1181.4,1027.2 1181.9,1030.7 1182.4,1022.8 1182.9,1027.3 1183.4,1031.2 1183.9,1031.0 1184.4,1016.1 1184.9,1026.3 1185.4,1038.1 1185.9,1032.7 1186.4,1021.4 1186.9,1024.4 1187.4,1024.4 1187.9,1020.4 1188.4,1027.1 1188.9,1028.1 1189.4,1042.0 1189.8,1014.5 1190.3,1025.8 1190.8,1019.2 1191.3,1033.0 1191.8,1016.8 1192.3,1023.8 1192.8,1031.2 1193.3,1022.0 1193.8,1018.5 1194.3,1010.5 1194.8,1006.4 1195.3,1011.8 1195.8,1003.7 1196.3,1010.3 1196.8,1014.6 1197.3,1014.0 1197.8,1015.1 1198.3,1011.6 1198.8,1028.0 1199.3,1011.7 1199.8,1022.7 1200.3,1016.5 1200.8,1018.9 1201.3,1032.2 1201.8,1022.6 1202.3,1016.8 1202.8,1020.5 1203.3,1024.5 1203.8,1020.6 1204.3,1017.6 1204.8,1013.8 1205.3,1029.2 1205.8,1014.9 1206.3,1012.5 1206.8,1016.9 1207.3,1034.4 1207.8,1041.8 1208.3,1026.6 1208.8,1016.6 1209.3,1016.5 1209.8,1018.8 1210.3,1014.0 1210.8,1000.2 1211.2,1010.3 1211.7,1002.9 1212.2,1017.0 1212.7,1019.9 1213.2,1029.7 1213.7,1018.6 1214.2,1019.8 1214.7,1027.4 1215.2,1035.3 1215.7,1012.2 1216.2,1021.6 1216.7,1036.0 1217.2,1034.2 1217.7,1018.0 1218.2,1021.8 1218.7,1012.0 1219.2,1005.4 1219.7,1005.6 1220.2,1012.9 1220.7,1008.7 1221.2,1009.2 1221.7,1006.2 1222.2,1004.2 1222.7,1022.5 1223.2,1000.5 1223.7,1003.2 1224.2,1010.4 1224.7,1008.6 1225.2,1004.6 1225.7,1011.1 1226.2,1030.2 1226.7,1019.9 1227.2,1012.6 1227.7,1003.4 1228.2,1010.1 1228.7,1017.4 1229.2,1008.7 1229.7,1007.2 1230.2,1007.5 1230.7,1006.3 1231.2,1032.4 1231.7,1004.6 1232.2,1006.5 1232.7,1011.1 1233.1,1022.7 1233.6,1030.8 1234.1,1012.2 1234.6,1010.5 1235.1,1012.6 1235.6,1009.5 1236.1,1031.4 1236.6,1019.7 1237.1,1023.5 1237.6,1019.3 1238.1,1026.1 1238.6,1023.3 1239.1,1016.1 1239.6,1013.0 1240.1,1004.0 1240.6,1010.6 1241.1,1020.3 1241.6,1027.4 1242.1,1031.6 1242.6,1019.7 1243.1,1016.0 1243.6,1024.9 1244.1,1021.4 1244.6,1008.9 1245.1,1020.2 1245.6,1019.7 1246.1,1023.0 1246.6,1013.6 1247.1,1030.3 1247.6,1030.6 1248.1,1014.3 1248.6,1007.1 1249.1,1012.3 1249.6,1020.9 1250.1,1010.6 1250.6,1010.5 1251.1,1020.2 1251.6,1015.1 1252.1,1021.2 1252.6,1028.5 1253.1,1023.0 1253.6,1018.1 1254.1,999.8 1254.5,1016.2 1255.0,1019.5 1255.5,1018.3 1256.0,1016.6 1256.5,1017.5 1257.0,1019.3 1257.5,1023.7 1258.0,1020.3 1258.5,1020.8 1259.0,1023.8 1259.5,1030.0 1260.0,1020.8 1260.5,1027.3 1261.0,1028.3 1261.5,1023.2 1262.0,1019.3 1262.5,1028.4 1263.0,1018.0 1263.5,1023.4 1264.0,1023.5 1264.5,1037.7 1265.0,1044.1 1265.5,1021.3 1266.0,1027.9 1266.5,1017.6 1267.0,1017.4 1267.5,1032.0 1268.0,1018.6 1268.5,1029.0 1269.0,1034.7 1269.5,1033.2 1270.0,1041.2 1270.5,1043.8 1271.0,1032.3 1271.5,1042.5 1272.0,1045.8 1272.5,1040.2 1273.0,1043.1 1273.5,1030.1 1274.0,1042.5 1274.5,1036.6 1275.0,1025.9 1275.5,1033.1 1276.0,1026.7 1276.4,1028.8 1276.9,1031.2 1277.4,1048.4 1277.9,1042.0 1278.4,1049.6 1278.9,1056.5 1279.4,1040.9 1279.9,1051.2 1280.4,1048.0 1280.9,1044.9 1281.4,1039.1 1281.9,1058.4 1282.4,1043.3 1282.9,1042.7 1283.4,1051.3 1283.9,1034.1 1284.4,1045.7 1284.9,1039.5 1285.4,1044.7 1285.9,1049.1 1286.4,1040.6 1286.9,1041.0 1287.4,1045.1 1287.9,1035.9 1288.4,1042.2 1288.9,1046.8 1289.4,1053.2 1289.9,1053.2 1290.4,1057.3 1290.9,1047.2 1291.4,1044.3 1291.9,1049.8 1292.4,1037.1 1292.9,1055.7 1293.4,1046.5 1293.9,1048.5 1294.4,1053.2 1294.9,1044.3 1295.4,1045.4 1295.9,1037.0 1296.4,1057.0 1296.9,1062.6 1297.4,1050.4 1297.8,1042.3 1298.3,1039.6 1298.8,1055.5 1299.3,1055.4 1299.8,1056.9 1300.3,1077.4 1300.8,1053.1 1301.3,1060.8 1301.8,1049.2 1302.3,1058.6 1302.8,1065.5 1303.3,1061.8 1303.8,1058.0 1304.3,1051.7 1304.8,1059.2 1305.3,1103.0 1305.8,1056.3 1306.3,1066.5 1306.8,1056.0 1307.3,1052.7 1307.8,1057.3 1308.3,1059.4 1308.8,1056.6 1309.3,1061.5 1309.8,1069.7 1310.3,1063.7 1310.8,1055.5 1311.3,1055.8 1311.8,1047.9 1312.3,1058.0 1312.8,1070.5 1313.3,1068.4 1313.8,1060.4 1314.3,1080.0 1314.8,1061.0 1315.3,1048.2 1315.8,1053.5 1316.3,1070.9 1316.8,1060.2 1317.3,1069.0 1317.8,1045.7 1318.3,1071.9 1318.8,1060.7 1319.3,1060.4 1319.7,1071.0 1320.2,1082.4 1320.7,1067.1 1321.2,1056.2 1321.7,1065.0 1322.2,1058.8 1322.7,1062.9 1323.2,1065.2 1323.7,1083.2 1324.2,1061.0 1324.7,1069.1 1325.2,1068.2 1325.7,1068.2 1326.2,1069.9 1326.7,1067.8 1327.2,1062.1 1327.7,1058.2 1328.2,1069.2 1328.7,1059.2 1329.2,1066.3 1329.7,1064.7 1330.2,1070.3 1330.7,1060.5 1331.2,1048.8 1331.7,1059.8 1332.2,1066.0 1332.7,1066.6 1333.2,1060.1 1333.7,1064.6 1334.2,1056.1 1334.7,1059.3 1335.2,1060.1 1335.7,1068.4 1336.2,1072.8 1336.7,1073.3 1337.2,1068.6 1337.7,1076.8 1338.2,1067.5 1338.7,1079.8 1339.2,1067.0 1339.7,1065.7 1340.2,1082.8 1340.7,1079.6 1341.1,1086.7 1341.6,1068.5 1342.1,1065.7 1342.6,1060.3 1343.1,1070.4 1343.6,1080.4 1344.1,1070.4 1344.6,1065.3 1345.1,1060.9 1345.6,1054.2 1346.1,1049.1 1346.6,1060.1 1347.1,1060.1 1347.6,1064.3 1348.1,1060.0 1348.6,1055.4 1349.1,1066.6 1349.6,1097.9 1350.1,1070.2 1350.6,1088.6 1351.1,1079.9 1351.6,1063.4 1352.1,1063.4 1352.6,1059.0 1353.1,1059.0 1353.6,1060.2 1354.1,1074.8 1354.6,1061.7 1355.1,1072.2 1355.6,1086.9 1356.1,1067.8 1356.6,1063.1 1357.1,1060.4 1357.6,1062.0 1358.1,1050.8 1358.6,1064.1 1359.1,1057.6 1359.6,1058.2 1360.1,1043.9 1360.6,1061.5 1361.1,1046.3 1361.6,1052.6 1362.1,1069.0 1362.6,1057.0 1363.0,1074.1 1363.5,1059.0 1364.0,1059.3 1364.5,1069.5 1365.0,1080.7 1365.5,1064.9 1366.0,1063.8 1366.5,1059.8 1367.0,1055.8 1367.5,1059.0 1368.0,1046.8 1368.5,1047.6 1369.0,1050.7 1369.5,1040.7 1370.0,1047.2 1370.5,1050.2 1371.0,1039.6 1371.5,1047.4 1372.0,1054.9 1372.5,1049.8 1373.0,1063.2 1373.5,1042.1 1374.0,1049.2 1374.5,1040.0 1375.0,1048.3 1375.5,1048.7 1376.0,1049.1 1376.5,1060.0 1377.0,1047.2 1377.5,1038.7 1378.0,1039.7 1378.5,1048.8 1379.0,1048.1 1379.5,1042.5 1380.0,1046.8 1380.5,1047.1 1381.0,1053.5 1381.5,1060.7 1382.0,1056.3 1382.5,1040.9 1383.0,1040.3 1383.5,1038.8 1384.0,1053.5 1384.4,1030.4 1384.9,1036.7 1385.4,1055.4 1385.9,1046.5 1386.4,1032.7 1386.9,1040.8 1387.4,1030.8 1387.9,1043.1 1388.4,1040.2 1388.9,1032.9 1389.4,1041.0 1389.9,1046.2 1390.4,1047.3 1390.9,1051.5 1391.4,1027.1 1391.9,1038.7 1392.4,1035.5 1392.9,1037.6 1393.4,1034.4 1393.9,1042.5 1394.4,1029.7 1394.9,1036.3 1395.4,1029.1 1395.9,1038.1 1396.4,1031.2 1396.9,1034.6 1397.4,1030.6 1397.9,1055.0 1398.4,1030.7 1398.9,1037.4 1399.4,1027.3 1399.9,1029.1 1400.4,1024.1 1400.9,1040.4 1401.4,1046.1 1401.9,1030.1 1402.4,1035.5 1402.9,1019.6 1403.4,1029.4 1403.9,1019.3 1404.4,1036.4 1404.9,1043.4 1405.4,1023.7 1405.9,1031.5 1406.3,1026.3 1406.8,1031.6 1407.3,1047.8 1407.8,1022.2 1408.3,1016.2 1408.8,1011.5 1409.3,1002.7 1409.8,1014.0 1410.3,1024.0 1410.8,1028.8 1411.3,1039.7 1411.8,1019.5 1412.3,1021.7 1412.8,1022.8 1413.3,1042.0 1413.8,1034.1 1414.3,1046.7 1414.8,1023.2 1415.3,1030.0 1415.8,1032.0 1416.3,1032.0 1416.8,1036.4 1417.3,1033.0 1417.8,1031.5 1418.3,1050.2 1418.8,1020.2 1419.3,1022.8 1419.8,1025.1 1420.3,1028.0 1420.8,1018.8 1421.3,1024.1 1421.8,1023.4 1422.3,1038.9 1422.8,1026.0 1423.3,1044.3 1423.8,1028.2 1424.3,1035.3 1424.8,1032.8 1425.3,1030.2 1425.8,1016.8 1426.3,1016.4 1426.8,1025.6 1427.3,1038.5 1427.7,1014.2 1428.2,1034.8 1428.7,1026.7 1429.2,1025.3 1429.7,1022.4 1430.2,1011.4 1430.7,1018.0 1431.2,1014.2 1431.7,1030.4 1432.2,1023.4 1432.7,1032.0 1433.2,1021.4 1433.7,1016.3 1434.2,1015.5 1434.7,1011.9 1435.2,1017.2 1435.7,1028.7 1436.2,1023.7 1436.7,1041.2 1437.2,1021.0 1437.7,1028.1 1438.2,1022.9 1438.7,1049.1 1439.2,1009.1 1439.7,1025.7 1440.2,1039.3 1440.7,1021.4 1441.2,1013.1 1441.7,1014.2 1442.2,1007.0 1442.7,1035.1 1443.2,1026.9 1443.7,1027.8 1444.2,1024.7 1444.7,1012.3 1445.2,1004.8 1445.7,1029.9 1446.2,1027.5 1446.7,1025.4 1447.2,1026.7 1447.7,1054.1 1448.2,1035.1 1448.7,1045.3 1449.2,1025.3 1449.6,1037.2 1450.1,1018.1 1450.6,1049.2 1451.1,1030.5 1451.6,1047.4 1452.1,1025.7 1452.6,1025.6 1453.1,1045.7 1453.6,1031.0 1454.1,1038.6 1454.6,1051.8 1455.1,1046.0 1455.6,1028.3 1456.1,1021.6 1456.6,1027.7 1457.1,1035.5 1457.6,1036.5 1458.1,1033.7 1458.6,1042.2 1459.1,1031.1 1459.6,1032.0 1460.1,1053.0 1460.6,1029.9 1461.1,1021.3 1461.6,1028.7 1462.1,1016.4 1462.6,1039.8 1463.1,1043.4 1463.6,1038.7 1464.1,1041.4 1464.6,1023.3 1465.1,1037.0 1465.6,1035.1 1466.1,1028.1 1466.6,1020.2 1467.1,1032.7 1467.6,1036.8 1468.1,1030.4 1468.6,1021.0 1469.1,1032.7 1469.6,1025.3 1470.1,1035.2 1470.6,1040.6 1471.0,1032.5 1471.5,1026.7 1472.0,1043.2 1472.5,1034.5 1473.0,1039.0 1473.5,1044.0 1474.0,1049.3 1474.5,1040.1 1475.0,1040.6 1475.5,1033.3 1476.0,1032.6 1476.5,1042.1 1477.0,1050.1 1477.5,1050.7 1478.0,1046.1 1478.5,1049.0 1479.0,1047.1 1479.5,1039.6 1480.0,1052.1 1480.5,1053.9 1481.0,1049.0 1481.5,1044.0 1482.0,1057.9 1482.5,1046.9 1483.0,1040.5 1483.5,1056.3 1484.0,1041.1 1484.5,1051.1 1485.0,1045.8 1485.5,1041.0 1486.0,1060.4 1486.5,1052.2 1487.0,1059.6 1487.5,1051.5 1488.0,1047.7 1488.5,1060.4 1489.0,1066.4 1489.5,1057.6 1490.0,1066.4 1490.5,1065.4 1491.0,1069.2 1491.5,1076.1 1492.0,1073.2 1492.5,1075.7 1492.9,1071.0 1493.4,1072.4 1493.9,1060.7 1494.4,1038.6 1494.9,1060.6 1495.4,1072.2 1495.9,1059.7 1496.4,1070.1 1496.9,1068.2 1497.4,1059.1 1497.9,1053.0 1498.4,1056.0 1498.9,1058.7 1499.4,1061.2 1499.9,1047.0 1500.4,1051.1 1500.9,1062.2 1501.4,1065.7 1501.9,1075.0 1502.4,1063.0 1502.9,1065.8 1503.4,1051.5 1503.9,1063.2 1504.4,1055.2 1504.9,1077.7 1505.4,1079.9 1505.9,1069.2 1506.4,1066.4 1506.9,1064.5 1507.4,1074.9 1507.9,1054.7 1508.4,1072.3 1508.9,1071.2 1509.4,1069.3 1509.9,1065.4 1510.4,1079.1 1510.9,1077.0 1511.4,1080.9 1511.9,1073.2 1512.4,1074.8 1512.9,1055.7 1513.4,1066.0 1513.9,1060.6 1514.3,1070.8 1514.8,1071.6 1515.3,1071.5 1515.8,1082.6 1516.3,1069.0 1516.8,1080.9 1517.3,1098.7 1517.8,1088.4 1518.3,1091.2 1518.8,1095.6 1519.3,1078.5 1519.8,1072.5 1520.3,1082.8 1520.8,1075.4 1521.3,1068.6 1521.8,1084.3 1522.3,1079.2 1522.8,1074.8 1523.3,1077.6 1523.8,1074.9 1524.3,1076.8 1524.8,1079.3 1525.3,1094.4 1525.8,1080.4 1526.3,1078.7 1526.8,1094.9 1527.3,1074.3 1527.8,1088.7 1528.3,1098.6 1528.8,1097.9 1529.3,1083.1 1529.8,1084.0 1530.3,1094.5 1530.8,1097.2 1531.3,1082.7 1531.8,1076.2 1532.3,1083.2 1532.8,1094.2 1533.3,1078.3 1533.8,1082.7 1534.3,1077.1 1534.8,1075.6 1535.3,1067.3 1535.8,1075.8 1536.2,1079.5 1536.7,1076.6 1537.2,1073.0 1537.7,1071.6 1538.2,1085.0 1538.7,1081.5 1539.2,1091.9 1539.7,1087.8 1540.2,1094.7 1540.7,1099.8 1541.2,1072.1 1541.7,1078.0 1542.2,1079.3 1542.7,1079.1 1543.2,1082.2 1543.7,1096.4 1544.2,1094.8 1544.7,1091.2 1545.2,1090.9 1545.7,1082.9 1546.2,1085.3 1546.7,1075.0 1547.2,1083.7 1547.7,1080.5 1548.2,1071.3 1548.7,1076.4 1549.2,1065.3 1549.7,1079.1 1550.2,1081.5 1550.7,1060.5 1551.2,1065.4 1551.7,1088.6 1552.2,1095.8 1552.7,1077.4 1553.2,1069.0 1553.7,1070.7 1554.2,1077.9 1554.7,1096.7 1555.2,1082.9 1555.7,1078.8 1556.2,1082.1 1556.7,1071.0 1557.2,1061.6 1557.6,1073.6 1558.1,1078.4 1558.6,1081.7 1559.1,1063.7 1559.6,1069.2 1560.1,1066.1 1560.6,1077.7 1561.1,1074.4 1561.6,1068.6 1562.1,1080.2 1562.6,1070.7 1563.1,1082.5 1563.6,1082.3 1564.1,1081.8 1564.6,1071.3 1565.1,1059.4 1565.6,1063.5 1566.1,1048.0 1566.6,1069.5 1567.1,1081.0 1567.6,1100.4 1568.1,1076.1 1568.6,1066.4 1569.1,1090.2 1569.6,1073.1 1570.1,1071.7 1570.6,1079.3 1571.1,1068.9 1571.6,1066.3 1572.1,1068.5 1572.6,1072.1 1573.1,1057.3 1573.6,1058.1 1574.1,1075.4 1574.6,1073.7 1575.1,1063.8 1575.6,1085.6 1576.1,1058.5 1576.6,1048.9 1577.1,1066.4 1577.6,1055.7 1578.1,1068.1 1578.6,1066.6 1579.0,1070.1 1579.5,1083.5 1580.0,1088.7 1580.5,1046.0 1581.0,1065.5 1581.5,1055.9 1582.0,1047.1 1582.5,1053.5 1583.0,1054.7 1583.5,1071.2 1584.0,1055.7 1584.5,1060.0 1585.0,1070.9 1585.5,1053.0 1586.0,1047.9 1586.5,1063.2 1587.0,1065.7 1587.5,1064.8 1588.0,1055.1 1588.5,1079.6 1589.0,1058.5 1589.5,1059.3 1590.0,1061.5 1590.5,1070.3 1591.0,1057.4 1591.5,1053.1 1592.0,1042.5 1592.5,1061.2 1593.0,1044.5 1593.5,1062.9 1594.0,1051.5 1594.5,1052.3 1595.0,1049.3 1595.5,1039.1 1596.0,1064.8 1596.5,1048.5 1597.0,1052.0 1597.5,1051.9 1598.0,1058.5 1598.5,1056.2 1599.0,1072.2 1599.5,1051.0 1600.0,1038.7 1600.5,1030.8 1600.9,1056.0 1601.4,1057.5 1601.9,1063.1 1602.4,1041.5 1602.9,1064.7 1603.4,1055.7 1603.9,1051.8 1604.4,1040.9 1604.9,1047.1 1605.4,1039.6 1605.9,1035.6 1606.4,1034.4 1606.9,1053.8 1607.4,1038.6 1607.9,1032.0 1608.4,1037.0 1608.9,1042.9 1609.4,1066.8 1609.9,1037.9 1610.4,1033.5 1610.9,1042.4 1611.4,1042.1 1611.9,1035.8 1612.4,1030.6 1612.9,1051.5 1613.4,1049.5 1613.9,1035.4 1614.4,1039.8 1614.9,1060.6 1615.4,1041.0 1615.9,1057.5 1616.4,1071.1 1616.9,1057.0 1617.4,1046.8 1617.9,1064.9 1618.4,1041.6 1618.9,1028.1 1619.4,1033.4 1619.9,1058.1 1620.4,1059.3 1620.9,1045.6 1621.4,1039.8 1621.9,1055.5 1622.3,1052.5 1622.8,1037.0 1623.3,1046.5 1623.8,1041.8 1624.3,1043.8 1624.8,1035.0 1625.3,1042.0 1625.8,1040.5 1626.3,1042.0 1626.8,1043.5 1627.3,1040.2 1627.8,1044.5 1628.3,1042.8 1628.8,1034.6 1629.3,1039.0 1629.8,1037.3 1630.3,1044.8 1630.8,1043.7 1631.3,1029.3 1631.8,1045.1 1632.3,1047.5 1632.8,1077.9 1633.3,1058.5 1633.8,1033.5 1634.3,1046.2 1634.8,1043.1 1635.3,1031.5 1635.8,1055.8 1636.3,1040.2 1636.8,1043.0 1637.3,1036.8 1637.8,1049.8 1638.3,1028.0 1638.8,1061.5 1639.3,1052.5 1639.8,1034.7 1640.3,1053.8 1640.8,1034.4 1641.3,1032.7 1641.8,1034.1 1642.3,1047.1 1642.8,1048.0 1643.3,1042.7 1643.8,1058.4 1644.2,1040.1 1644.7,1042.0 1645.2,1035.9 1645.7,1040.8 1646.2,1038.1 1646.7,1042.9 1647.2,1048.3 1647.7,1049.2 1648.2,1046.7 1648.7,1045.1 1649.2,1056.2 1649.7,1038.9 1650.2,1040.2 1650.7,1047.2 1651.2,1053.8 1651.7,1035.5 1652.2,1035.5 1652.7,1029.9 1653.2,1049.9 1653.7,1057.9 1654.2,1055.6 1654.7,1049.2 1655.2,1051.7 1655.7,1037.9 1656.2,1043.2 1656.7,1037.0 1657.2,1034.2 1657.7,1061.4 1658.2,1053.5 1658.7,1042.0 1659.2,1031.6 1659.7,1044.2 1660.2,1042.6 1660.7,1033.4 1661.2,1054.1 1661.7,1068.7 1662.2,1058.6 1662.7,1034.9 1663.2,1065.7 1663.7,1061.3 1664.2,1049.1 1664.7,1053.3 1665.2,1038.0 1665.6,1052.2 1666.1,1048.3 1666.6,1053.7 1667.1,1064.1 1667.6,1053.9 1668.1,1054.5 1668.6,1046.5 1669.1,1052.3 1669.6,1056.4 1670.1,1053.7 1670.6,1043.5 1671.1,1043.0 1671.6,1049.9 1672.1,1051.2 1672.6,1052.5 1673.1,1059.2 1673.6,1048.9 1674.1,1047.8 1674.6,1038.3 1675.1,1052.0 1675.6,1058.3 1676.1,1050.1 1676.6,1076.9 1677.1,1056.7 1677.6,1051.6 1678.1,1052.9 1678.6,1068.6 1679.1,1052.3 1679.6,1059.3 1680.1,1066.6 1680.6,1063.6 1681.1,1071.3 1681.6,1050.0 1682.1,1067.0 1682.6,1077.8 1683.1,1057.1 1683.6,1052.9 1684.1,1061.6 1684.6,1070.1 1685.1,1059.8 1685.6,1049.0 1686.1,1070.2 1686.6,1047.0 1687.1,1055.5 1687.5,1070.0 1688.0,1054.4 1688.5,1061.2 1689.0,1075.3 1689.5,1066.2 1690.0,1066.5 1690.5,1084.7 1691.0,1086.8 1691.5,1092.0 1692.0,1064.3 1692.5,1081.5 1693.0,1049.7 1693.5,1072.8 1694.0,1059.6 1694.5,1060.3 1695.0,1076.5 1695.5,1067.8 1696.0,1083.4 1696.5,1072.5 1697.0,1094.6 1697.5,1108.4 1698.0,1087.7 1698.5,1098.3 1699.0,1088.0 1699.5,1074.6 1700.0,1074.1 1700.5,1074.0 1701.0,1051.4 1701.5,1063.3 1702.0,1057.7 1702.5,1081.1 1703.0,1066.0 1703.5,1069.2 1704.0,1085.0 1704.5,1067.0 1705.0,1068.3 1705.5,1074.3 1706.0,1069.4 1706.5,1052.9 1707.0,1078.5 1707.5,1080.0 1708.0,1073.9 1708.5,1074.7 1708.9,1094.0 1709.4,1078.9 1709.9,1074.6 1710.4,1073.9 1710.9,1085.9 1711.4,1096.4 1711.9,1073.0 1712.4,1090.0 1712.9,1076.6 1713.4,1082.0 1713.9,1076.4 1714.4,1089.8 1714.9,1075.9 1715.4,1089.7 1715.9,1056.8 1716.4,1077.4 1716.9,1092.8 1717.4,1099.7 1717.9,1076.9 1718.4,1081.2 1718.9,1082.6 1719.4,1068.6 1719.9,1076.3 1720.4,1095.2 1720.9,1085.4 1721.4,1094.9 1721.9,1086.5 1722.4,1100.4 1722.9,1070.5 1723.4,1079.0 1723.9,1061.0 1724.4,1090.2 1724.9,1078.5 1725.4,1093.1 1725.9,1074.8 1726.4,1096.3 1726.9,1099.3 1727.4,1093.3 1727.9,1085.6 1728.4,1083.0 1728.9,1097.0 1729.4,1104.5 1729.9,1089.4 1730.4,1084.3 1730.8,1100.1 1731.3,1085.0 1731.8,1073.3 1732.3,1100.7 1732.8,1092.7 1733.3,1086.1 1733.8,1089.7 1734.3,1097.4 1734.8,1091.6 1735.3,1077.0 1735.8,1080.7 1736.3,1099.7 1736.8,1109.3 1737.3,1109.3 1737.8,1091.0 1738.3,1103.4 1738.8,1100.4 1739.3,1089.1 1739.8,1093.5 1740.3,1087.3 1740.8,1090.5 1741.3,1089.2 1741.8,1096.1 1742.3,1082.2 1742.8,1083.3 1743.3,1071.2 1743.8,1097.9 1744.3,1100.3 1744.8,1090.8 1745.3,1075.5 1745.8,1076.1 1746.3,1109.4 1746.8,1107.9 1747.3,1100.1 1747.8,1101.0 1748.3,1090.8 1748.8,1095.1 1749.3,1101.4 1749.8,1079.6 1750.3,1081.8 1750.8,1113.0 1751.3,1106.4 1751.8,1089.9 1752.2,1106.7 1752.7,1086.3 1753.2,1102.3 1753.7,1088.5 1754.2,1104.7 1754.7,1097.0 1755.2,1090.1 1755.7,1092.8 1756.2,1095.4 1756.7,1076.2 1757.2,1096.1 1757.7,1069.9 1758.2,1087.0 1758.7,1083.8 1759.2,1087.7 1759.7,1090.2 1760.2,1094.1 1760.7,1110.0 1761.2,1106.8 1761.7,1088.9 1762.2,1086.4 1762.7,1086.2 1763.2,1081.2 1763.7,1095.1 1764.2,1084.8 1764.7,1079.8 1765.2,1090.8 1765.7,1096.9 1766.2,1082.9 1766.7,1083.4 1767.2,1079.2 1767.7,1099.6 1768.2,1087.2 1768.7,1068.8 1769.2,1078.9 1769.7,1071.3 1770.2,1075.3 1770.7,1060.4 1771.2,1094.7 1771.7,1063.3 1772.2,1075.7 1772.7,1074.9 1773.2,1066.5 1773.7,1058.4 1774.1,1069.2 1774.6,1069.3 1775.1,1065.2 1775.6,1064.4 1776.1,1064.9 1776.6,1055.8 1777.1,1066.8 1777.6,1068.7 1778.1,1061.0 1778.6,1059.1 1779.1,1078.6 1779.6,1069.8 1780.1,1065.8 1780.6,1061.2 1781.1,1070.8 1781.6,1058.7 1782.1,1042.0 1782.6,1053.6 1783.1,1066.5 1783.6,1059.1 1784.1,1061.3 1784.6,1050.5 1785.1,1075.9 1785.6,1060.4 1786.1,1050.7 1786.6,1079.7 1787.1,1071.5 1787.6,1064.9 1788.1,1065.6 1788.6,1070.2 1789.1,1064.6 1789.6,1073.8 1790.1,1073.2 1790.6,1040.5 1791.1,1059.3 1791.6,1044.4 1792.1,1049.4 1792.6,1042.5 1793.1,1039.4 1793.6,1040.4 1794.1,1042.5 1794.6,1054.5 1795.1,1078.4 1795.5,1066.1 1796.0,1045.9 1796.5,1048.1 1797.0,1054.3 1797.5,1066.0 1798.0,1048.0 1798.5,1034.6 1799.0,1041.7 1799.5,1045.5 1800.0,1063.6 1800.5,1057.7 1801.0,1047.4 1801.5,1052.4 1802.0,1049.2 1802.5,1067.7 1803.0,1052.1 1803.5,1059.1 1804.0,1048.1 1804.5,1040.0 1805.0,1029.9 1805.5,1041.5 1806.0,1052.8 1806.5,1059.6 1807.0,1080.9 1807.5,1070.2 1808.0,1055.2 1808.5,1048.3 1809.0,1033.9 1809.5,1044.6 1810.0,1059.0 1810.5,1053.6 1811.0,1046.1 1811.5,1038.7 1812.0,1050.9 1812.5,1063.8 1813.0,1054.7 1813.5,1037.4 1814.0,1039.0 1814.5,1060.9 1815.0,1036.6 1815.5,1054.0 1816.0,1036.4 1816.5,1038.6 1817.0,1020.9 1817.4,1032.9 1817.9,1024.8 1818.4,1032.9 1818.9,1024.1 1819.4,1042.9 1819.9,1051.9 1820.4,1044.6 1820.9,1029.5 1821.4,1033.4 1821.9,1039.6 1822.4,1060.5 1822.9,1053.6 1823.4,1049.1 1823.9,1063.1 1824.4,1028.3 1824.9,1060.5 1825.4,1044.8 1825.9,1052.0 1826.4,1031.2 1826.9,1023.6 1827.4,1026.8 1827.9,1044.8 1828.4,1040.5 1828.9,1035.1 1829.4,1050.3 1829.9,1045.3 1830.4,1030.9 1830.9,1052.8 1831.4,1033.3 1831.9,1029.1 1832.4,1022.8 1832.9,1033.8 1833.4,1045.8 1833.9,1036.2 1834.4,1034.1 1834.9,1061.2 1835.4,1061.1 1835.9,1044.3 1836.4,1047.4 1836.9,1071.8 1837.4,1071.9 1837.9,1059.8 1838.4,1046.3 1838.8,1031.1 1839.3,1040.7 1839.8,1035.3 1840.3,1030.8 1840.8,1014.6 1841.3,1027.3 1841.8,1035.0 1842.3,1030.7 1842.8,1041.8 1843.3,1045.6 1843.8,1036.9 1844.3,1029.0 1844.8,1046.9 1845.3,1042.9 1845.8,1038.6 1846.3,1036.6 1846.8,1023.8 1847.3,1035.7 1847.8,1041.4 1848.3,1041.5 1848.8,1040.8 1849.3,1047.2 1849.8,1043.3 1850.3,1037.5 1850.8,1039.6 1851.3,1054.0 1851.8,1048.4 1852.3,1045.8 1852.8,1037.3 1853.3,1033.3 1853.8,1027.8 1854.3,1038.0 1854.8,1064.1 1855.3,1037.9 1855.8,1034.7 1856.3,1042.9 1856.8,1035.6 1857.3,1050.5 1857.8,1044.5 1858.3,1059.4 1858.8,1044.3 1859.3,1043.1 1859.8,1065.0 1860.3,1059.1 1860.7,1046.2 1861.2,1047.9 1861.7,1057.2 1862.2,1060.6 1862.7,1052.0 1863.2,1036.9 1863.7,1038.9 1864.2,1043.5 1864.7,1053.7 1865.2,1048.5 1865.7,1057.0 1866.2,1063.6 1866.7,1075.8 1867.2,1071.1 1867.7,1075.9 1868.2,1044.1 1868.7,1037.1 1869.2,1035.3 1869.7,1056.3 1870.2,1061.1 1870.7,1053.2 1871.2,1061.2 1871.7,1062.4 1872.2,1062.8 1872.7,1085.1 1873.2,1060.4 1873.7,1087.0 1874.2,1078.2 1874.7,1045.2 1875.2,1062.8 1875.7,1046.6 1876.2,1056.0 1876.7,1053.0 1877.2,1055.2 1877.7,1075.1 1878.2,1072.3 1878.7,1059.6 1879.2,1063.5 1879.7,1073.8 1880.2,1075.2 1880.7,1069.4 1881.2,1055.1 1881.7,1047.1 1882.1,1049.0 1882.6,1060.6 1883.1,1051.1 1883.6,1052.9 1884.1,1048.6 1884.6,1056.8 1885.1,1047.1 1885.6,1045.7 1886.1,1073.4 1886.6,1044.5 1887.1,1053.7 1887.6,1053.5 1888.1,1067.0 1888.6,1061.7 1889.1,1074.5 1889.6,1072.4 1890.1,1051.9 1890.6,1056.8 1891.1,1081.1 1891.6,1051.9 1892.1,1056.7 1892.6,1057.3 1893.1,1073.6 1893.6,1049.6 1894.1,1053.1 1894.6,1050.0 1895.1,1057.3 1895.6,1055.7 1896.1,1060.6 1896.6,1065.8 1897.1,1051.2 1897.6,1062.8 1898.1,1069.8 1898.6,1063.8 1899.1,1076.9 1899.6,1101.0 1900.1,1097.8 1900.6,1099.9 1901.1,1078.9 1901.6,1083.5 1902.1,1093.1 1902.6,1078.4 1903.1,1071.6 1903.6,1065.5 1904.0,1084.9 1904.5,1070.3 1905.0,1084.1 1905.5,1061.5 1906.0,1062.4 1906.5,1104.3 1907.0,1088.9 1907.5,1068.0 1908.0,1062.1 1908.5,1063.6 1909.0,1075.4 1909.5,1068.7 1910.0,1076.4 1910.5,1070.7 1911.0,1056.5 1911.5,1061.8 1912.0,1065.8 1912.5,1073.9 1913.0,1074.5 1913.5,1059.1 1914.0,1072.3 1914.5,1057.8 1915.0,1085.0 1915.5,1058.3 1916.0,1066.3 1916.5,1083.5 1917.0,1086.7 1917.5,1106.5 1918.0,1087.8 1918.5,1082.8 1919.0,1073.2 1919.5,1074.0 1920.0,1051.7 1920.5,1076.0 1921.0,1073.2 1921.5,1080.6 1922.0,1077.1 1922.5,1065.3 1923.0,1077.0 1923.5,1093.6 1924.0,1079.8 1924.5,1064.2 1925.0,1073.6 1925.4,1086.1 1925.9,1078.5 1926.4,1097.1 1926.9,1079.0 1927.4,1088.6 1927.9,1086.3 1928.4,1081.2 1928.9,1088.9 1929.4,1074.4 1929.9,1079.0 1930.4,1095.5 1930.9,1086.2 1931.4,1074.2 1931.9,1082.7 1932.4,1081.3 1932.9,1086.5 1933.4,1068.6 1933.9,1082.0 1934.4,1083.7 1934.9,1094.3 1935.4,1099.4 1935.9,1087.7 1936.4,1089.1 1936.9,1090.2 1937.4,1099.7 1937.9,1100.4 1938.4,1088.1 1938.9,1079.6 1939.4,1089.1 1939.9,1080.3 1940.4,1085.9 1940.9,1109.6 1941.4,1083.0 1941.9,1089.9 1942.4,1100.2 1942.9,1100.0 1943.4,1093.4 1943.9,1083.7 1944.4,1080.8 1944.9,1079.8 1945.4,1086.0 1945.9,1090.5 1946.4,1092.4 1946.9,1083.0 1947.3,1109.2 1947.8,1110.9 1948.3,1098.5 1948.8,1091.9 1949.3,1090.2 1949.8,1100.0 1950.3,1097.6 1950.5,1095.4"/>
<polyline fill="none" stroke="#0000ff" stroke-width="2.1" stroke-linejoin="bevel" points="291.5,-1.5 292.0,363.9 292.5,366.3 293.0,381.0 293.5,419.5 294.0,386.8 294.5,402.2 295.0,323.6 295.5,375.2 296.0,407.1 296.5,231.5 297.0,260.1 297.5,269.1 298.0,214.1 298.5,165.2 299.0,300.3 299.5,314.1 300.0,350.0 300.5,435.1 301.0,409.9 301.5,475.1 302.0,462.0 302.4,361.2 302.9,487.8 303.4,481.8 303.9,784.0 304.4,560.6 304.9,481.4 305.4,464.2 305.9,535.0 306.4,528.3 306.9,461.1 307.4,481.2 307.9,502.9 308.4,498.5 308.9,458.2 309.4,497.3 309.9,529.9 310.4,460.3 310.9,482.2 311.4,469.0 311.9,368.5 312.4,382.5 312.9,415.8 313.4,526.6 313.9,381.9 314.4,460.4 314.9,483.0 315.4,452.3 315.9,794.7 316.4,453.3 316.9,512.3 317.4,481.9 317.9,644.0 318.4,488.5 318.9,905.8 319.4,442.4 319.9,549.8 320.4,492.5 320.9,479.5 321.4,560.8 321.9,362.7 322.4,489.3 322.9,465.1 323.4,482.7 323.9,465.3 324.3,445.1 324.8,484.9 325.3,455.0 325.8,422.7 326.3,142.8 326.8,466.4 327.3,521.6 327.8,581.5 328.3,679.5 328.8,586.1 329.3,637.8 329.8,717.6 330.3,592.3 330.8,744.6 331.3,678.0 331.8,584.8 332.3,519.5 332.8,480.8 333.3,454.1 333.8,559.4 334.3,585.3 334.8,583.6 335.3,626.5 335.8,608.2 336.3,589.3 336.8,598.8 337.3,592.6 337.8,656.6 338.3,581.7 338.8,590.9 339.3,574.7 339.8,614.7 340.3,594.4 340.8,600.3 341.3,613.2 341.8,603.8 342.3,610.9 342.8,603.3 343.3,616.8 343.8,613.9 344.3,627.0 344.8,622.9 345.3,614.6 345.7,613.9 346.2,613.6 346.7,606.9 347.2,631.4 347.7,587.6 348.2,646.2 348.7,603.5 349.2,594.6 349.7,617.8 350.2,614.3 350.7,635.1 351.2,622.3 351.7,603.7 352.2,620.1 352.7,645.6 353.2,620.9 353.7,625.4 354.2,612.8 354.7,601.7 355.2,625.2 355.7,618.8 356.2,611.8 356.7,639.0 357.2,629.6 357.7,650.7 358.2,622.8 358.7,616.0 359.2,620.6 359.7,616.1 360.2,630.7 360.7,632.1 361.2,459.8 361.7,790.1 362.2,677.2 362.7,683.0 363.2,696.2 363.7,699.3 364.2,689.7 364.7,694.1 365.2,691.7 365.7,675.7 366.2,691.7 366.7,693.8 367.2,678.9 367.6,697.1 368.1,681.5 368.6,637.9 369.1,660.0 369.6,639.0 370.1,673.3 370.6,648.7 371.1,670.9 371.6,674.9 372.1,665.6 372.6,667.5 373.1,671.8 373.6,680.8 374.1,669.2 374.6,687.3 375.1,674.3 375.6,658.7 376.1,693.5 376.6,682.2 377.1,684.2 377.6,698.4 378.1,686.8 378.6,679.9 379.1,681.0 379.6,683.8 380.1,694.7 380.6,691.8 381.1,698.6 381.6,682.8 382.1,698.8 382.6,702.1 383.1,698.7 383.6,680.9 384.1,707.8 384.6,688.2 385.1,689.6 385.6,700.4 386.1,694.6 386.6,708.4 387.1,693.5 387.6,692.9 388.1,702.7 388.6,695.0 389.0,696.0 389.5,691.2 390.0,689.7 390.5,686.1 391.0,694.8 391.5,688.4 392.0,685.0 392.5,677.7 393.0,688.9 393.5,691.9 394.0,687.8 394.5,675.9 395.0,682.9 395.5,677.4 396.0,677.9 396.5,569.4 397.0,800.8 397.5,750.5 398.0,736.9 398.5,743.8 399.0,750.5 399.5,735.4 400.0,738.4 400.5,738.0 401.0,740.1 401.5,736.3 402.0,745.9 402.5,744.5 403.0,744.0 403.5,691.2 404.0,727.7 404.5,719.6 405.0,726.7 405.5,723.8 406.0,720.8 406.5,723.3 407.0,730.8 407.5,722.2 408.0,733.7 408.5,757.3 409.0,742.4 409.5,736.5 410.0,738.3 410.5,740.1 410.9,743.2 411.4,730.2 411.9,749.6 412.4,737.9 412.9,737.3 413.4,737.7 413.9,728.6 414.4,753.8 414.9,752.5 415.4,744.8 415.9,744.2 416.4,744.4 416.9,754.8 417.4,752.9 417.9,737.6 418.4,745.1 418.9,745.5 419.4,744.4 419.9,737.0 420.4,752.7 420.9,749.3 421.4,764.6 421.9,754.8 422.4,749.7 422.9,747.2 423.4,758.1 423.9,763.3 424.4,759.2 424.9,769.2 425.4,761.0 425.9,753.6 426.4,748.8 426.9,740.8 427.4,751.2 427.9,758.7 428.4,750.9 428.9,755.6 429.4,744.2 429.9,744.1 430.4,765.9 430.9,698.8 431.4,790.1 431.9,747.3 432.3,760.1 432.8,783.9 433.3,754.4 433.8,757.4 434.3,762.2 434.8,755.0 435.3,759.6 435.8,757.7 436.3,764.6 436.8,764.4 437.3,760.3 437.8,766.3 438.3,773.6 438.8,774.5 439.3,762.8 439.8,772.2 440.3,773.0 440.8,772.1 441.3,761.9 441.8,785.1 442.3,788.9 442.8,768.7 443.3,773.0 443.8,760.7 444.3,776.3 444.8,786.9 445.3,774.4 445.8,775.6 446.3,776.8 446.8,778.2 447.3,765.3 447.8,787.0 448.3,782.6 448.8,787.6 449.3,802.6 449.8,800.0 450.3,799.1 450.8,795.8 451.3,804.3 451.8,784.7 452.3,798.0 452.8,806.2 453.3,805.3 453.8,800.1 454.2,806.4 454.7,810.7 455.2,812.6 455.7,803.5 456.2,789.8 456.7,825.9 457.2,806.6 457.7,799.7 458.2,801.4 458.7,791.1 459.2,799.0 459.7,806.5 460.2,800.2 460.7,809.9 461.2,805.7 461.7,805.3 462.2,799.0 462.7,805.3 463.2,802.7 463.7,802.5 464.2,810.6 464.7,816.9 465.2,814.4 465.7,812.3 466.2,634.0 466.7,814.5 467.2,811.4 467.7,822.2 468.2,827.2 468.7,823.2 469.2,827.5 469.7,824.8 470.2,829.7 470.7,835.9 471.2,830.3 471.7,828.8 472.2,839.7 472.7,837.7 473.2,844.9 473.7,834.0 474.2,840.9 474.7,838.6 475.2,834.8 475.6,836.9 476.1,838.9 476.6,835.0 477.1,840.8 477.6,842.8 478.1,836.5 478.6,844.6 479.1,843.3 479.6,842.7 480.1,841.7 480.6,840.5 481.1,849.7 481.6,846.6 482.1,843.3 482.6,839.9 483.1,839.4 483.6,838.0 484.1,838.9 484.6,840.9 485.1,848.6 485.6,852.2 486.1,849.7 486.6,847.7 487.1,856.9 487.6,856.1 488.1,848.8 488.6,845.6 489.1,849.3 489.6,849.0 490.1,846.6 490.6,849.6 491.1,851.7 491.6,851.4 492.1,850.3 492.6,844.0 493.1,856.9 493.6,842.1 494.1,848.0 494.6,841.2 495.1,850.7 495.6,851.2 496.1,855.8 496.6,847.7 497.1,848.4 497.5,848.8 498.0,848.2 498.5,847.8 499.0,851.3 499.5,841.5 500.0,850.2 500.5,847.2 501.0,733.0 501.5,859.5 502.0,858.3 502.5,863.7 503.0,857.4 503.5,859.8 504.0,866.9 504.5,855.5 505.0,858.9 505.5,860.9 506.0,865.0 506.5,856.4 507.0,859.1 507.5,853.1 508.0,855.3 508.5,859.6 509.0,858.8 509.5,854.1 510.0,870.0 510.5,866.7 511.0,851.7 511.5,863.4 512.0,851.3 512.5,859.2 513.0,871.7 513.5,859.6 514.0,861.4 514.5,856.4 515.0,853.7 515.5,859.1 516.0,859.5 516.5,861.7 517.0,866.3 517.5,859.6 518.0,856.6 518.5,861.0 518.9,858.7 519.4,857.5 519.9,863.4 520.4,863.4 520.9,864.1 521.4,853.2 521.9,851.5 522.4,858.0 522.9,862.8 523.4,856.9 523.9,856.4 524.4,857.8 524.9,854.5 525.4,849.1 525.9,858.4 526.4,854.1 526.9,858.9 527.4,864.0 527.9,861.8 528.4,857.1 528.9,852.7 529.4,853.7 529.9,858.6 530.4,857.7 530.9,862.3 531.4,853.6 531.9,847.9 532.4,854.1 532.9,853.5 533.4,849.0 533.9,854.7 534.4,855.4 534.9,851.5 535.4,854.9 535.9,843.3 536.4,992.0 536.9,862.6 537.4,858.7 537.9,865.3 538.4,865.0 538.9,864.8 539.4,863.9 539.9,862.4 540.4,863.9 540.8,871.6 541.3,858.0 541.8,862.6 542.3,858.6 542.8,858.0 543.3,857.7 543.8,854.9 544.3,859.8 544.8,858.1 545.3,857.8 545.8,861.5 546.3,853.5 546.8,862.2 547.3,863.5 547.8,848.0 548.3,862.1 548.8,855.9 549.3,864.6 549.8,853.4 550.3,850.8 550.8,851.8 551.3,864.4 551.8,859.7 552.3,854.9 552.8,856.9 553.3,851.0 553.8,852.3 554.3,853.5 554.8,859.8 555.3,859.4 555.8,866.7 556.3,860.9 556.8,853.4 557.3,856.6 557.8,856.4 558.3,861.0 558.8,856.4 559.3,852.7 559.8,846.2 560.3,852.9 560.8,848.1 561.3,846.6 561.8,851.2 562.2,851.0 562.7,839.8 563.2,845.6 563.7,844.6 564.2,842.1 564.7,844.1 565.2,846.2 565.7,856.1 566.2,847.3 566.7,851.8 567.2,854.6 567.7,852.0 568.2,848.1 568.7,850.8 569.2,847.5 569.7,844.8 570.2,841.8 570.7,856.5 571.2,865.1 571.7,901.0 572.2,859.5 572.7,863.0 573.2,860.0 573.7,856.9 574.2,853.4 574.7,856.9 575.2,857.9 575.7,852.3 576.2,861.5 576.7,872.2 577.2,860.1 577.7,854.6 578.2,847.7 578.7,853.3 579.2,857.4 579.7,843.3 580.2,857.9 580.7,862.0 581.2,855.8 581.7,852.6 582.2,851.4 582.7,855.9 583.2,851.5 583.6,852.4 584.1,853.0 584.6,858.3 585.1,845.6 585.6,851.2 586.1,857.0 586.6,857.1 587.1,846.7 587.6,856.6 588.1,853.3 588.6,854.2 589.1,850.6 589.6,844.3 590.1,855.6 590.6,859.3 591.1,861.6 591.6,856.7 592.1,861.9 592.6,858.6 593.1,860.7 593.6,853.3 594.1,853.2 594.6,855.9 595.1,852.8 595.6,855.7 596.1,855.4 596.6,855.8 597.1,847.7 597.6,849.4 598.1,846.2 598.6,848.3 599.1,846.5 599.6,854.4 600.1,861.4 600.6,860.7 601.1,860.5 601.6,864.6 602.1,860.5 602.6,841.2 603.1,856.9 603.6,851.1 604.1,847.7 604.6,856.2 605.1,855.0 605.5,861.8 606.0,866.9 606.5,870.2 607.0,873.0 607.5,869.2 608.0,861.8 608.5,856.8 609.0,855.3 609.5,864.4 610.0,858.5 610.5,865.5 611.0,867.0 611.5,866.2 612.0,858.1 612.5,854.8 613.0,854.8 613.5,861.0 614.0,856.0 614.5,864.0 615.0,868.6 615.5,870.4 616.0,864.3 616.5,862.9 617.0,870.8 617.5,875.3 618.0,862.0 618.5,868.1 619.0,858.5 619.5,865.0 620.0,867.6 620.5,866.1 621.0,874.5 621.5,870.0 622.0,871.6 622.5,866.2 623.0,879.4 623.5,869.3 624.0,862.7 624.5,867.5 625.0,868.8 625.5,870.9 626.0,874.6 626.5,868.8 626.9,858.4 627.4,862.7 627.9,869.0 628.4,867.6 628.9,867.4 629.4,873.1 629.9,873.9 630.4,871.5 630.9,872.7 631.4,879.0 631.9,876.4 632.4,874.7 632.9,877.3 633.4,875.9 633.9,876.3 634.4,866.6 634.9,879.6 635.4,878.1 635.9,873.6 636.4,874.9 636.9,881.7 637.4,879.0 637.9,877.8 638.4,879.8 638.9,873.3 639.4,881.1 639.9,866.8 640.4,887.1 640.9,816.0 641.4,894.1 641.9,894.5 642.4,893.4 642.9,899.8 643.4,890.9 643.9,892.6 644.4,897.5 644.9,898.2 645.4,886.1 645.9,891.7 646.4,886.8 646.9,901.8 647.4,889.3 647.9,899.2 648.4,907.8 648.8,900.2 649.3,902.7 649.8,910.5 650.3,879.4 650.8,899.9 651.3,895.5 651.8,890.3 652.3,905.5 652.8,907.9 653.3,907.4 653.8,919.4 654.3,899.9 654.8,906.1 655.3,901.5 655.8,904.8 656.3,917.9 656.8,916.3 657.3,907.3 657.8,920.0 658.3,914.7 658.8,908.3 659.3,908.5 659.8,908.0 660.3,915.2 660.8,903.9 661.3,908.4 661.8,902.3 662.3,917.0 662.8,907.8 663.3,911.4 663.8,916.1 664.3,908.6 664.8,916.1 665.3,926.9 665.8,925.4 666.3,918.7 666.8,918.0 667.3,913.8 667.8,920.4 668.3,915.9 668.8,919.1 669.3,917.0 669.8,920.8 670.2,914.3 670.7,921.7 671.2,919.0 671.7,924.9 672.2,922.2 672.7,925.7 673.2,919.2 673.7,922.3 674.2,914.0 674.7,926.3 675.2,926.2 675.7,808.0 676.2,1039.0 676.7,936.0 677.2,937.1 677.7,926.1 678.2,939.4 678.7,937.1 679.2,938.8 679.7,939.2 680.2,925.1 680.7,929.1 681.2,933.0 681.7,935.6 682.2,939.7 682.7,936.5 683.2,931.7 683.7,937.5 684.2,951.4 684.7,942.9 685.2,946.5 685.7,954.3 686.2,938.4 686.7,935.7 687.2,943.8 687.7,934.0 688.2,939.0 688.7,940.1 689.2,940.1 689.7,940.5 690.2,945.2 690.7,947.7 691.2,942.9 691.7,939.7 692.1,940.3 692.6,935.3 693.1,935.2 693.6,929.2 694.1,931.1 694.6,938.6 695.1,923.9 695.6,937.5 696.1,948.1 696.6,952.1 697.1,938.7 697.6,925.4 698.1,939.8 698.6,941.6 699.1,943.3 699.6,945.2 700.1,950.9 700.6,952.2 701.1,940.7 701.6,937.6 702.1,946.0 702.6,942.3 703.1,944.5 703.6,945.0 704.1,946.8 704.6,930.6 705.1,929.8 705.6,934.2 706.1,940.2 706.6,945.5 707.1,942.1 707.6,938.2 708.1,944.5 708.6,935.3 709.1,949.6 709.6,936.8 710.1,944.4 710.6,887.0 711.1,1033.0 711.6,947.1 712.1,945.5 712.6,955.9 713.1,943.6 713.5,947.1 714.0,951.7 714.5,953.2 715.0,944.8 715.5,955.5 716.0,950.5 716.5,950.0 717.0,941.9 717.5,968.8 718.0,945.7 718.5,947.7 719.0,956.2 719.5,950.7 720.0,950.9 720.5,946.4 721.0,951.6 721.5,950.8 722.0,946.0 722.5,938.4 723.0,954.8 723.5,946.6 724.0,951.6 724.5,945.6 725.0,941.5 725.5,945.0 726.0,952.6 726.5,945.5 727.0,951.2 727.5,936.3 728.0,939.5 728.5,953.7 729.0,947.9 729.5,951.2 730.0,942.9 730.5,946.2 731.0,934.7 731.5,940.9 732.0,940.1 732.5,939.3 733.0,946.8 733.5,940.3 734.0,943.0 734.5,935.5 735.0,926.0 735.4,944.7 735.9,934.0 736.4,935.0 736.9,924.7 737.4,935.0 737.9,933.9 738.4,945.2 738.9,924.5 739.4,931.1 739.9,935.1 740.4,947.2 740.9,945.2 741.4,930.7 741.9,937.1 742.4,937.6 742.9,935.1 743.4,935.6 743.9,933.3 744.4,931.9 744.9,923.2 745.4,938.8 745.9,946.5 746.4,947.1 746.9,947.3 747.4,939.4 747.9,942.8 748.4,933.3 748.9,939.0 749.4,926.3 749.9,938.9 750.4,921.8 750.9,929.5 751.4,927.3 751.9,929.5 752.4,932.8 752.9,949.7 753.4,946.3 753.9,941.3 754.4,941.3 754.9,919.4 755.4,934.7 755.9,936.4 756.4,936.7 756.8,933.1 757.3,929.7 757.8,925.0 758.3,930.4 758.8,930.3 759.3,938.7 759.8,933.3 760.3,930.2 760.8,943.4 761.3,932.8 761.8,928.2 762.3,916.4 762.8,937.9 763.3,933.3 763.8,924.2 764.3,936.9 764.8,917.1 765.3,924.7 765.8,924.0 766.3,929.8 766.8,939.0 767.3,927.4 767.8,937.5 768.3,938.6 768.8,933.6 769.3,929.1 769.8,921.2 770.3,922.7 770.8,920.0 771.3,930.2 771.8,937.2 772.3,928.1 772.8,932.5 773.3,926.0 773.8,935.0 774.3,930.2 774.8,918.6 775.3,927.6 775.8,915.1 776.3,922.2 776.8,915.1 777.3,914.9 777.8,923.5 778.3,916.2 778.7,914.0 779.2,923.4 779.7,921.2 780.2,908.3 780.7,892.0 781.2,929.7 781.7,908.2 782.2,927.8 782.7,928.5 783.2,931.2 783.7,936.9 784.2,920.9 784.7,925.7 785.2,924.5 785.7,930.3 786.2,938.8 786.7,941.7 787.2,928.7 787.7,922.7 788.2,924.7 788.7,921.3 789.2,918.8 789.7,934.0 790.2,936.6 790.7,926.9 791.2,929.5 791.7,929.5 792.2,930.5 792.7,921.6 793.2,931.6 793.7,930.0 794.2,930.7 794.7,931.8 795.2,927.6 795.7,922.3 796.2,920.9 796.7,928.2 797.2,923.2 797.7,917.1 798.2,923.8 798.7,923.4 799.2,919.8 799.7,922.0 800.1,915.7 800.6,925.7 801.1,933.7 801.6,917.2 802.1,922.6 802.6,919.4 803.1,917.9 803.6,925.2 804.1,928.0 804.6,926.8 805.1,928.9 805.6,921.7 806.1,922.3 806.6,913.6 807.1,928.9 807.6,927.5 808.1,923.2 808.6,929.3 809.1,917.3 809.6,921.9 810.1,921.5 810.6,923.8 811.1,918.2 811.6,924.3 812.1,914.0 812.6,916.6 813.1,918.1 813.6,923.4 814.1,919.5 814.6,930.6 815.1,920.7 815.6,848.0 816.1,937.3 816.6,932.1 817.1,922.4 817.6,935.2 818.1,939.5 818.6,944.0 819.1,931.5 819.6,940.0 820.1,928.1 820.6,924.8 821.1,931.3 821.6,928.1 822.0,938.2 822.5,938.1 823.0,936.3 823.5,930.8 824.0,936.2 824.5,936.3 825.0,946.1 825.5,949.1 826.0,936.6 826.5,949.0 827.0,943.8 827.5,939.2 828.0,925.5 828.5,925.2 829.0,918.2 829.5,933.3 830.0,932.4 830.5,931.7 831.0,944.6 831.5,929.1 832.0,938.4 832.5,939.5 833.0,935.0 833.5,940.9 834.0,935.0 834.5,933.9 835.0,932.7 835.5,934.7 836.0,935.7 836.5,930.5 837.0,938.4 837.5,940.5 838.0,945.5 838.5,934.6 839.0,947.8 839.5,929.0 840.0,935.7 840.5,937.5 841.0,936.9 841.5,930.6 842.0,949.3 842.5,936.6 843.0,937.4 843.4,938.0 843.9,945.2 844.4,938.4 844.9,946.0 845.4,940.4 845.9,936.7 846.4,935.2 846.9,939.7 847.4,933.3 847.9,954.4 848.4,948.8 848.9,948.4 849.4,934.8 849.9,939.0 850.4,901.0 850.9,982.0 851.4,955.5 851.9,960.6 852.4,949.3 852.9,959.9 853.4,958.4 853.9,947.7 854.4,955.4 854.9,949.3 855.4,940.7 855.9,948.9 856.4,959.1 856.9,959.2 857.4,952.4 857.9,955.3 858.4,964.0 858.9,953.9 859.4,965.8 859.9,951.4 860.4,953.1 860.9,954.3 861.4,969.1 861.9,959.2 862.4,954.7 862.9,963.4 863.4,966.1 863.9,954.6 864.4,969.2 864.9,964.4 865.3,964.8 865.8,970.8 866.3,970.5 866.8,966.0 867.3,964.0 867.8,968.9 868.3,973.2 868.8,973.3 869.3,972.4 869.8,971.5 870.3,975.1 870.8,959.8 871.3,975.6 871.8,970.3 872.3,964.3 872.8,975.7 873.3,976.5 873.8,975.9 874.3,986.5 874.8,974.4 875.3,980.3 875.8,967.7 876.3,961.6 876.8,963.7 877.3,974.2 877.8,975.8 878.3,974.9 878.8,981.6 879.3,985.7 879.8,975.0 880.3,974.0 880.8,973.5 881.3,978.1 881.8,979.6 882.3,975.0 882.8,974.4 883.3,970.3 883.8,971.4 884.3,977.3 884.8,979.4 885.3,995.8 885.8,996.9 886.3,989.0 886.7,994.3 887.2,999.9 887.7,987.0 888.2,982.5 888.7,988.1 889.2,995.5 889.7,990.1 890.2,1003.9 890.7,987.4 891.2,992.0 891.7,984.4 892.2,1001.5 892.7,984.1 893.2,982.1 893.7,984.4 894.2,985.3 894.7,992.9 895.2,993.9 895.7,993.7 896.2,996.4 896.7,998.4 897.2,993.0 897.7,995.6 898.2,992.6 898.7,998.0 899.2,993.5 899.7,996.0 900.2,1002.7 900.7,992.8 901.2,1016.2 901.7,1010.1 902.2,1005.7 902.7,993.7 903.2,986.5 903.7,994.5 904.2,998.7 904.7,1000.7 905.2,1006.6 905.7,1000.0 906.2,990.9 906.7,995.9 907.2,999.4 907.7,998.9 908.2,999.4 908.6,1004.1 909.1,992.7 909.6,1000.8 910.1,1004.5 910.6,997.7 911.1,996.5 911.6,996.5 912.1,994.5 912.6,994.0 913.1,997.7 913.6,1001.7 914.1,999.2 914.6,999.3 915.1,995.8 915.6,999.8 916.1,1006.1 916.6,997.8 917.1,1002.6 917.6,995.5 918.1,990.5 918.6,997.7 919.1,1010.3 919.6,1006.5 920.1,993.8 920.6,1015.3 921.1,1012.5 921.6,1011.0 922.1,1015.4 922.6,1019.6 923.1,1013.5 923.6,1015.1 924.1,1011.1 924.6,999.4 925.1,1003.9 925.6,1006.7 926.1,1004.8 926.6,1008.8 927.1,1014.3 927.6,1012.1 928.1,1003.7 928.6,1002.0 929.1,1007.9 929.6,1009.9 930.0,997.1 930.5,1011.0 931.0,1002.5 931.5,1008.1 932.0,1012.1 932.5,1008.2 933.0,1005.8 933.5,1002.3 934.0,1007.5 934.5,1001.7 935.0,1007.0 935.5,1007.4 936.0,1001.3 936.5,1001.4 937.0,1005.3 937.5,1005.6 938.0,1002.4 938.5,994.6 939.0,1001.3 939.5,985.8 940.0,989.0 940.5,1003.2 941.0,998.1 941.5,996.9 942.0,1006.1 942.5,996.4 943.0,984.5 943.5,988.9 944.0,1001.8 944.5,992.3 945.0,989.5 945.5,994.4 946.0,986.7 946.5,991.7 947.0,993.4 947.5,981.0 948.0,979.3 948.5,990.2 949.0,996.0 949.5,983.6 950.0,992.9 950.5,985.7 951.0,992.3 951.5,984.6 951.9,979.8 952.4,984.3 952.9,974.4 953.4,976.8 953.9,969.7 954.4,982.9 954.9,984.7 955.4,918.0 955.9,992.2 956.4,987.2 956.9,990.4 957.4,982.0 957.9,995.0 958.4,979.0 958.9,978.3 959.4,986.4 959.9,981.7 960.4,983.9 960.9,985.7 961.4,984.1 961.9,989.5 962.4,977.0 962.9,979.8 963.4,976.6 963.9,981.5 964.4,983.3 964.9,987.1 965.4,992.3 965.9,984.4 966.4,977.8 966.9,988.0 967.4,980.6 967.9,984.3 968.4,978.1 968.9,981.6 969.4,980.3 969.9,984.7 970.4,976.2 970.9,979.1 971.4,969.7 971.9,974.9 972.4,975.5 972.9,975.1 973.3,973.8 973.8,982.4 974.3,969.9 974.8,969.3 975.3,972.9 975.8,971.9 976.3,963.8 976.8,970.8 977.3,973.5 977.8,963.0 978.3,977.3 978.8,954.6 979.3,968.5 979.8,962.4 980.3,976.9 980.8,973.3 981.3,959.8 981.8,964.1 982.3,955.3 982.8,955.1 983.3,967.4 983.8,966.5 984.3,968.5 984.8,954.8 985.3,966.0 985.8,959.3 986.3,957.5 986.8,964.0 987.3,968.5 987.8,959.9 988.3,949.6 988.8,953.3 989.3,946.2 989.8,957.5 990.3,920.0 990.8,960.6 991.3,967.6 991.8,957.8 992.3,970.2 992.8,965.9 993.3,974.7 993.8,964.8 994.3,961.2 994.8,974.9 995.2,975.6 995.7,978.7 996.2,988.4 996.7,970.4 997.2,966.8 997.7,972.6 998.2,978.0 998.7,968.7 999.2,963.3 999.7,969.0 1000.2,963.0 1000.7,961.3 1001.2,962.9 1001.7,966.6 1002.2,962.0 1002.7,956.1 1003.2,969.1 1003.7,973.1 1004.2,965.0 1004.7,970.0 1005.2,952.7 1005.7,970.0 1006.2,977.4 1006.7,982.7 1007.2,972.1 1007.7,965.8 1008.2,974.2 1008.7,952.2 1009.2,947.0 1009.7,953.5 1010.2,960.8 1010.7,955.9 1011.2,961.0 1011.7,958.5 1012.2,963.0 1012.7,959.0 1013.2,964.2 1013.7,962.5 1014.2,951.7 1014.7,964.5 1015.2,958.0 1015.7,955.8 1016.2,958.6 1016.6,961.2 1017.1,961.2 1017.6,975.9 1018.1,963.2 1018.6,968.8 1019.1,969.4 1019.6,963.4 1020.1,981.6 1020.6,972.6 1021.1,965.8 1021.6,955.1 1022.1,959.3 1022.6,956.5 1023.1,956.4 1023.6,946.5 1024.1,951.2 1024.6,971.6 1025.1,915.0 1025.6,972.1 1026.1,977.8 1026.6,974.0 1027.1,981.5 1027.6,971.1 1028.1,969.9 1028.6,964.5 1029.1,974.6 1029.6,950.3 1030.1,963.1 1030.6,961.6 1031.1,972.8 1031.6,971.3 1032.1,958.7 1032.6,956.9 1033.1,970.2 1033.6,969.1 1034.1,971.9 1034.6,972.0 1035.1,962.1 1035.6,969.6 1036.1,971.8 1036.6,982.8 1037.1,971.4 1037.6,969.5 1038.0,970.2 1038.5,973.4 1039.0,976.0 1039.5,966.8 1040.0,972.5 1040.5,965.9 1041.0,958.4 1041.5,970.5 1042.0,976.9 1042.5,966.3 1043.0,973.8 1043.5,977.7 1044.0,964.7 1044.5,967.9 1045.0,959.4 1045.5,971.6 1046.0,973.0 1046.5,965.6 1047.0,970.1 1047.5,966.2 1048.0,969.1 1048.5,975.2 1049.0,982.2 1049.5,969.9 1050.0,983.9 1050.5,969.7 1051.0,962.7 1051.5,971.5 1052.0,968.1 1052.5,980.1 1053.0,975.0 1053.5,976.7 1054.0,974.0 1054.5,970.8 1055.0,967.0 1055.5,978.7 1056.0,964.2 1056.5,968.8 1057.0,979.6 1057.5,964.7 1058.0,975.2 1058.5,979.1 1059.0,987.5 1059.5,984.3 1059.9,970.2 1060.4,983.4 1060.9,989.3 1061.4,989.3 1061.9,986.8 1062.4,989.0 1062.9,978.8 1063.4,973.6 1063.9,988.1 1064.4,979.5 1064.9,986.4 1065.4,990.3 1065.9,984.4 1066.4,999.5 1066.9,1001.1 1067.4,995.3 1067.9,996.0 1068.4,999.2 1068.9,988.0 1069.4,1004.5 1069.9,991.0 1070.4,995.3 1070.9,1003.2 1071.4,995.0 1071.9,1002.3 1072.4,1000.7 1072.9,993.1 1073.4,996.2 1073.9,982.2 1074.4,990.9 1074.9,987.6 1075.4,1008.0 1075.9,998.8 1076.4,999.6 1076.9,1004.6 1077.4,990.0 1077.9,1003.0 1078.4,996.5 1078.9,990.9 1079.4,996.9 1079.9,984.4 1080.4,1006.5 1080.9,989.1 1081.3,990.6 1081.8,997.6 1082.3,1000.3 1082.8,986.3 1083.3,1008.5 1083.8,997.6 1084.3,1003.0 1084.8,996.0 1085.3,993.7 1085.8,998.0 1086.3,1008.9 1086.8,1008.4 1087.3,998.9 1087.8,1020.5 1088.3,1017.5 1088.8,1015.5 1089.3,1016.6 1089.8,1020.6 1090.3,1017.1 1090.8,1015.6 1091.3,1008.2 1091.8,1014.4 1092.3,1008.9 1092.8,1011.2 1093.3,1013.8 1093.8,995.3 1094.3,1017.2 1094.8,1001.5 1095.3,1019.4 1095.8,1020.8 1096.3,1025.6 1096.8,1024.7 1097.3,1024.6 1097.8,1033.1 1098.3,1014.7 1098.8,1014.0 1099.3,1018.9 1099.8,1019.3 1100.3,1012.0 1100.8,1012.1 1101.3,1008.1 1101.8,1022.9 1102.3,1010.0 1102.8,1028.0 1103.2,1025.0 1103.7,1027.3 1104.2,1016.8 1104.7,1015.6 1105.2,1019.4 1105.7,1003.4 1106.2,1025.7 1106.7,1022.2 1107.2,1021.0 1107.7,1007.5 1108.2,1025.2 1108.7,1017.8 1109.2,1025.4 1109.7,1017.4 1110.2,1027.4 1110.7,1007.4 1111.2,1017.4 1111.7,1025.9 1112.2,1016.1 1112.7,1017.5 1113.2,1025.6 1113.7,1022.3 1114.2,1040.7 1114.7,1020.5 1115.2,1019.9 1115.7,1031.3 1116.2,1025.5 1116.7,1032.8 1117.2,1016.4 1117.7,1018.4 1118.2,1019.4 1118.7,1026.7 1119.2,1029.3 1119.7,1033.6 1120.2,1028.9 1120.7,1031.6 1121.2,1034.6 1121.7,1032.7 1122.2,1046.2 1122.7,1041.7 1123.2,1027.3 1123.7,1022.8 1124.2,1030.8 1124.6,1028.3 1125.1,1012.4 1125.6,1031.2 1126.1,1017.9 1126.6,1033.4 1127.1,1018.8 1127.6,1022.4 1128.1,1019.2 1128.6,1018.0 1129.1,1006.6 1129.6,1035.4 1130.1,972.0 1130.6,1029.3 1131.1,1030.4 1131.6,1034.7 1132.1,1028.0 1132.6,1028.4 1133.1,1030.4 1133.6,1022.1 1134.1,1037.8 1134.6,1028.4 1135.1,1028.6 1135.6,1035.5 1136.1,1013.3 1136.6,1029.2 1137.1,1042.0 1137.6,1036.3 1138.1,1027.3 1138.6,1017.8 1139.1,1031.6 1139.6,1027.3 1140.1,1022.4 1140.6,1019.2 1141.1,1037.5 1141.6,1034.0 1142.1,1035.5 1142.6,1025.0 1143.1,1018.3 1143.6,1039.3 1144.1,1027.2 1144.6,1032.5 1145.1,1026.8 1145.6,1027.3 1146.1,1021.0 1146.5,1025.0 1147.0,1015.6 1147.5,1004.3 1148.0,1024.2 1148.5,1011.6 1149.0,1014.3 1149.5,1018.4 1150.0,1015.6 1150.5,1012.3 1151.0,1010.6 1151.5,1027.9 1152.0,1022.5 1152.5,1028.0 1153.0,1015.2 1153.5,1023.6 1154.0,1038.4 1154.5,1030.7 1155.0,1018.7 1155.5,1022.1 1156.0,1018.0 1156.5,1005.9 1157.0,1024.7 1157.5,1028.9 1158.0,1028.3 1158.5,1022.2 1159.0,1018.9 1159.5,1023.5 1160.0,1023.6 1160.5,1020.6 1161.0,1008.6 1161.5,1007.6 1162.0,1027.9 1162.5,1021.9 1163.0,1030.4 1163.5,1017.8 1164.0,1007.6 1164.5,1009.6 1165.0,947.0 1165.5,1003.6 1166.0,1004.5 1166.5,1017.4 1167.0,1025.1 1167.5,1008.9 1167.9,1016.8 1168.4,1028.9 1168.9,1025.5 1169.4,1011.8 1169.9,1011.0 1170.4,1022.9 1170.9,1005.4 1171.4,1017.3 1171.9,995.7 1172.4,1012.8 1172.9,1028.3 1173.4,1021.7 1173.9,1008.9 1174.4,1003.7 1174.9,1011.3 1175.4,1017.7 1175.9,998.4 1176.4,1024.4 1176.9,1008.1 1177.4,1027.7 1177.9,1024.0 1178.4,1019.6 1178.9,1003.9 1179.4,1004.3 1179.9,1005.3 1180.4,1003.5 1180.9,1015.1 1181.4,1002.3 1181.9,1007.1 1182.4,999.0 1182.9,1003.0 1183.4,997.2 1183.9,1009.2 1184.4,999.1 1184.9,1010.8 1185.4,1003.5 1185.9,1005.8 1186.4,1010.6 1186.9,1001.6 1187.4,1000.2 1187.9,1006.7 1188.4,1007.4 1188.9,1006.3 1189.4,1004.2 1189.8,998.9 1190.3,998.1 1190.8,987.4 1191.3,1003.4 1191.8,1012.2 1192.3,998.1 1192.8,1011.2 1193.3,1002.0 1193.8,1000.8 1194.3,995.5 1194.8,1004.5 1195.3,1000.2 1195.8,1003.5 1196.3,1004.0 1196.8,992.7 1197.3,997.8 1197.8,995.0 1198.3,1005.9 1198.8,997.9 1199.3,987.3 1199.8,986.2 1200.3,1007.9 1200.8,1000.3 1201.3,1011.7 1201.8,1003.5 1202.3,1002.5 1202.8,998.5 1203.3,990.9 1203.8,1010.9 1204.3,1000.0 1204.8,1014.4 1205.3,1017.7 1205.8,1007.2 1206.3,1006.1 1206.8,1002.5 1207.3,1009.9 1207.8,989.4 1208.3,988.6 1208.8,1001.8 1209.3,986.7 1209.8,997.5 1210.3,996.8 1210.8,1007.4 1211.2,1014.9 1211.7,1015.5 1212.2,1005.2 1212.7,996.3 1213.2,1001.8 1213.7,993.4 1214.2,988.6 1214.7,980.2 1215.2,981.0 1215.7,987.3 1216.2,991.0 1216.7,997.9 1217.2,1003.5 1217.7,1005.4 1218.2,978.1 1218.7,995.7 1219.2,985.8 1219.7,980.1 1220.2,988.3 1220.7,995.8 1221.2,993.6 1221.7,989.0 1222.2,1003.7 1222.7,996.1 1223.2,991.3 1223.7,985.4 1224.2,988.4 1224.7,999.6 1225.2,999.7 1225.7,987.3 1226.2,1000.3 1226.7,988.8 1227.2,988.6 1227.7,986.3 1228.2,990.5 1228.7,1007.5 1229.2,996.5 1229.7,996.1 1230.2,991.7 1230.7,989.5 1231.2,996.0 1231.7,991.0 1232.2,975.5 1232.7,973.2 1233.1,977.6 1233.6,982.2 1234.1,970.2 1234.6,994.3 1235.1,1010.9 1235.6,1000.5 1236.1,1004.5 1236.6,1010.9 1237.1,1002.1 1237.6,995.8 1238.1,999.9 1238.6,995.9 1239.1,995.6 1239.6,997.6 1240.1,1009.4 1240.6,997.6 1241.1,988.6 1241.6,1002.7 1242.1,1003.2 1242.6,1003.4 1243.1,1001.6 1243.6,1005.3 1244.1,997.2 1244.6,1004.2 1245.1,1007.5 1245.6,994.5 1246.1,989.6 1246.6,990.7 1247.1,999.6 1247.6,1005.5 1248.1,1004.0 1248.6,1004.4 1249.1,1006.5 1249.6,1006.3 1250.1,1005.6 1250.6,1008.6 1251.1,1000.8 1251.6,999.9 1252.1,1009.0 1252.6,986.9 1253.1,1000.2 1253.6,998.6 1254.1,1008.7 1254.5,1000.3 1255.0,1000.4 1255.5,995.4 1256.0,1006.5 1256.5,1011.1 1257.0,998.0 1257.5,992.9 1258.0,982.0 1258.5,997.5 1259.0,998.6 1259.5,1000.9 1260.0,1014.9 1260.5,1011.5 1261.0,1014.8 1261.5,1007.8 1262.0,1001.0 1262.5,1003.5 1263.0,995.7 1263.5,1002.3 1264.0,998.1 1264.5,999.7 1265.0,1017.4 1265.5,994.9 1266.0,1014.0 1266.5,998.2 1267.0,998.8 1267.5,997.5 1268.0,999.0 1268.5,1000.4 1269.0,1013.1 1269.5,1000.8 1270.0,963.0 1270.5,1016.9 1271.0,1026.1 1271.5,1016.0 1272.0,1012.5 1272.5,1005.1 1273.0,1019.2 1273.5,1025.2 1274.0,1013.6 1274.5,1007.7 1275.0,1008.0 1275.5,1020.4 1276.0,1018.5 1276.4,1024.1 1276.9,1016.0 1277.4,1034.3 1277.9,1025.3 1278.4,1029.1 1278.9,1013.8 1279.4,1035.7 1279.9,1029.8 1280.4,1034.4 1280.9,1022.8 1281.4,1014.6 1281.9,1021.1 1282.4,1019.6 1282.9,1022.5 1283.4,1023.7 1283.9,1018.0 1284.4,1027.5 1284.9,1026.9 1285.4,1027.7 1285.9,1030.9 1286.4,1032.9 1286.9,1025.3 1287.4,1030.6 1287.9,1014.4 1288.4,1035.1 1288.9,1019.7 1289.4,1017.4 1289.9,1024.2 1290.4,1023.4 1290.9,1016.3 1291.4,1030.1 1291.9,1037.3 1292.4,1022.7 1292.9,1034.6 1293.4,1036.8 1293.9,1030.3 1294.4,1007.5 1294.9,1022.0 1295.4,1013.9 1295.9,1025.7 1296.4,1026.6 1296.9,1022.9 1297.4,1024.8 1297.8,1015.9 1298.3,1015.4 1298.8,1025.5 1299.3,1035.4 1299.8,1031.8 1300.3,1028.7 1300.8,1029.2 1301.3,1045.1 1301.8,1037.5 1302.3,1030.5 1302.8,1041.1 1303.3,1030.8 1303.8,1037.6 1304.3,1040.0 1304.8,970.0 1305.3,1052.1 1305.8,1046.8 1306.3,1046.4 1306.8,1051.8 1307.3,1051.1 1307.8,1035.7 1308.3,1060.7 1308.8,1046.1 1309.3,1039.3 1309.8,1036.0 1310.3,1033.1 1310.8,1040.3 1311.3,1048.2 1311.8,1044.1 1312.3,1055.8 1312.8,1052.7 1313.3,1054.2 1313.8,1048.6 1314.3,1045.8 1314.8,1049.3 1315.3,1054.0 1315.8,1028.8 1316.3,1040.4 1316.8,1040.2 1317.3,1052.4 1317.8,1048.6 1318.3,1041.9 1318.8,1035.7 1319.3,1045.9 1319.7,1042.8 1320.2,1044.7 1320.7,1072.4 1321.2,1047.3 1321.7,1044.1 1322.2,1051.9 1322.7,1047.1 1323.2,1026.8 1323.7,1037.5 1324.2,1045.1 1324.7,1055.3 1325.2,1048.4 1325.7,1029.5 1326.2,1043.2 1326.7,1050.7 1327.2,1057.6 1327.7,1043.2 1328.2,1051.9 1328.7,1063.1 1329.2,1042.7 1329.7,1040.4 1330.2,1047.3 1330.7,1045.7 1331.2,1036.1 1331.7,1043.4 1332.2,1036.1 1332.7,1026.2 1333.2,1033.8 1333.7,1037.5 1334.2,1054.3 1334.7,1044.8 1335.2,1040.1 1335.7,1058.9 1336.2,1048.2 1336.7,1044.2 1337.2,1058.2 1337.7,1043.6 1338.2,1035.3 1338.7,1039.1 1339.2,1038.0 1339.7,1054.4 1340.2,1048.1 1340.7,1055.3 1341.1,1052.8 1341.6,1052.8 1342.1,1054.8 1342.6,1046.9 1343.1,1048.3 1343.6,1049.0 1344.1,1058.5 1344.6,1051.9 1345.1,1050.0 1345.6,1051.9 1346.1,1047.7 1346.6,1051.1 1347.1,1061.1 1347.6,1042.3 1348.1,1058.4 1348.6,1057.2 1349.1,1039.3 1349.6,1033.7 1350.1,1027.8 1350.6,1044.3 1351.1,1050.4 1351.6,1038.3 1352.1,1044.9 1352.6,1047.3 1353.1,1054.4 1353.6,1041.2 1354.1,1046.1 1354.6,1057.6 1355.1,1037.5 1355.6,1044.6 1356.1,1040.2 1356.6,1029.1 1357.1,1040.2 1357.6,1037.7 1358.1,1030.8 1358.6,1037.6 1359.1,1053.7 1359.6,1049.6 1360.1,1042.6 1360.6,1045.9 1361.1,1045.4 1361.6,1033.6 1362.1,1045.3 1362.6,1043.4 1363.0,1037.3 1363.5,1019.9 1364.0,1031.0 1364.5,1028.5 1365.0,1034.4 1365.5,1042.3 1366.0,1056.6 1366.5,1040.5 1367.0,1030.3 1367.5,1031.9 1368.0,1025.1 1368.5,1037.8 1369.0,1037.2 1369.5,1039.1 1370.0,1026.2 1370.5,1022.6 1371.0,1016.6 1371.5,1010.4 1372.0,1032.0 1372.5,1019.9 1373.0,1023.9 1373.5,1037.3 1374.0,1020.3 1374.5,1023.7 1375.0,1045.1 1375.5,1032.9 1376.0,1028.1 1376.5,1033.7 1377.0,1025.6 1377.5,1044.2 1378.0,1012.2 1378.5,1027.8 1379.0,1027.4 1379.5,1029.7 1380.0,1026.6 1380.5,1037.8 1381.0,1033.9 1381.5,1031.4 1382.0,1023.0 1382.5,1038.4 1383.0,1028.1 1383.5,1039.5 1384.0,1022.2 1384.4,1027.5 1384.9,1024.5 1385.4,1027.3 1385.9,1033.3 1386.4,1028.6 1386.9,1031.4 1387.4,1009.8 1387.9,1021.8 1388.4,1018.7 1388.9,1028.0 1389.4,1016.3 1389.9,1012.9 1390.4,1017.1 1390.9,1028.8 1391.4,1010.7 1391.9,1020.1 1392.4,1020.7 1392.9,1014.1 1393.4,1032.8 1393.9,1003.3 1394.4,1018.3 1394.9,1015.7 1395.4,1014.9 1395.9,1020.1 1396.4,1017.1 1396.9,1022.2 1397.4,1006.6 1397.9,1018.0 1398.4,1011.1 1398.9,1015.8 1399.4,1020.4 1399.9,1008.2 1400.4,1017.0 1400.9,1018.5 1401.4,999.3 1401.9,996.5 1402.4,1002.9 1402.9,1008.4 1403.4,998.3 1403.9,1005.2 1404.4,1007.9 1404.9,1003.2 1405.4,989.9 1405.9,994.7 1406.3,1003.0 1406.8,1017.4 1407.3,994.8 1407.8,1000.5 1408.3,997.9 1408.8,1006.6 1409.3,1002.7 1409.8,1019.1 1410.3,1022.3 1410.8,1025.5 1411.3,1029.3 1411.8,1021.0 1412.3,987.2 1412.8,1013.8 1413.3,1016.3 1413.8,994.0 1414.3,999.4 1414.8,1012.0 1415.3,1014.5 1415.8,1008.3 1416.3,997.3 1416.8,996.4 1417.3,1004.6 1417.8,1013.0 1418.3,1000.2 1418.8,1011.6 1419.3,999.2 1419.8,992.7 1420.3,986.0 1420.8,1002.5 1421.3,1003.4 1421.8,1001.7 1422.3,1005.2 1422.8,1001.5 1423.3,995.1 1423.8,989.0 1424.3,990.5 1424.8,1005.6 1425.3,1011.3 1425.8,1003.8 1426.3,996.7 1426.8,1000.1 1427.3,990.3 1427.7,1002.6 1428.2,1004.2 1428.7,1011.8 1429.2,998.1 1429.7,1013.7 1430.2,1009.8 1430.7,1004.1 1431.2,1008.4 1431.7,1002.3 1432.2,1015.4 1432.7,1004.7 1433.2,1011.9 1433.7,999.7 1434.2,998.0 1434.7,995.2 1435.2,1012.0 1435.7,996.0 1436.2,996.0 1436.7,1011.3 1437.2,1000.8 1437.7,1007.3 1438.2,1011.0 1438.7,997.9 1439.2,1007.4 1439.7,986.9 1440.2,1001.0 1440.7,1006.1 1441.2,1000.4 1441.7,997.6 1442.2,1002.2 1442.7,1016.4 1443.2,1021.3 1443.7,1002.0 1444.2,1012.1 1444.7,996.5 1445.2,1007.1 1445.7,993.3 1446.2,1002.1 1446.7,998.8 1447.2,1001.5 1447.7,1002.2 1448.2,1007.9 1448.7,1005.1 1449.2,1002.3 1449.6,1005.0 1450.1,1014.7 1450.6,1010.9 1451.1,1010.5 1451.6,1027.0 1452.1,1015.4 1452.6,1025.4 1453.1,1016.5 1453.6,1019.9 1454.1,1018.5 1454.6,1014.8 1455.1,1022.2 1455.6,1012.9 1456.1,1004.1 1456.6,1002.9 1457.1,998.9 1457.6,1005.7 1458.1,1006.5 1458.6,1001.8 1459.1,1012.5 1459.6,1006.3 1460.1,1003.8 1460.6,1009.4 1461.1,1019.3 1461.6,1014.5 1462.1,998.8 1462.6,1013.7 1463.1,1020.5 1463.6,1020.9 1464.1,1025.7 1464.6,1019.0 1465.1,1023.2 1465.6,1011.3 1466.1,1023.1 1466.6,1025.5 1467.1,1027.6 1467.6,1037.9 1468.1,1006.7 1468.6,1002.7 1469.1,1022.2 1469.6,1004.4 1470.1,1017.3 1470.6,1021.3 1471.0,1010.6 1471.5,1008.1 1472.0,1017.8 1472.5,1015.7 1473.0,1030.0 1473.5,1017.8 1474.0,1034.8 1474.5,1039.9 1475.0,1029.0 1475.5,1031.7 1476.0,1013.0 1476.5,1013.8 1477.0,1031.1 1477.5,1023.4 1478.0,1025.4 1478.5,1028.3 1479.0,1027.9 1479.5,987.0 1480.0,1034.5 1480.5,1022.2 1481.0,1014.7 1481.5,1038.2 1482.0,1027.0 1482.5,1031.9 1483.0,1046.4 1483.5,1041.6 1484.0,1019.6 1484.5,1037.8 1485.0,1031.1 1485.5,1035.5 1486.0,1023.2 1486.5,1021.6 1487.0,1038.6 1487.5,1029.5 1488.0,1030.2 1488.5,1039.9 1489.0,1037.8 1489.5,1040.9 1490.0,1014.8 1490.5,1033.9 1491.0,1031.8 1491.5,1042.0 1492.0,1041.4 1492.5,1032.3 1492.9,1035.8 1493.4,1034.2 1493.9,1038.5 1494.4,1029.1 1494.9,1047.7 1495.4,1048.9 1495.9,1064.2 1496.4,1031.0 1496.9,1032.1 1497.4,1054.7 1497.9,1058.2 1498.4,1050.7 1498.9,1055.9 1499.4,1034.7 1499.9,1029.6 1500.4,1038.3 1500.9,1040.6 1501.4,1054.4 1501.9,1062.0 1502.4,1067.3 1502.9,1055.5 1503.4,1050.3 1503.9,1032.2 1504.4,1051.4 1504.9,1044.5 1505.4,1032.7 1505.9,1030.7 1506.4,1028.6 1506.9,1029.9 1507.4,1057.5 1507.9,1046.3 1508.4,1041.3 1508.9,1040.7 1509.4,1037.6 1509.9,1032.6 1510.4,1041.9 1510.9,1056.3 1511.4,1056.2 1511.9,1056.1 1512.4,1037.6 1512.9,1043.7 1513.4,1040.9 1513.9,1050.2 1514.3,1068.4 1514.8,1061.2 1515.3,1072.6 1515.8,1073.1 1516.3,1075.9 1516.8,1050.1 1517.3,1056.6 1517.8,1055.4 1518.3,1058.7 1518.8,1056.3 1519.3,1061.0 1519.8,1056.5 1520.3,1060.8 1520.8,1050.2 1521.3,1067.4 1521.8,1051.2 1522.3,1073.7 1522.8,1083.4 1523.3,1071.2 1523.8,1058.6 1524.3,1053.4 1524.8,1052.9 1525.3,1060.4 1525.8,1054.9 1526.3,1069.3 1526.8,1050.7 1527.3,1054.3 1527.8,1061.5 1528.3,1042.8 1528.8,1047.6 1529.3,1070.7 1529.8,1060.1 1530.3,1057.1 1530.8,1069.3 1531.3,1066.1 1531.8,1063.4 1532.3,1060.9 1532.8,1046.5 1533.3,1045.9 1533.8,1061.8 1534.3,1073.9 1534.8,1060.8 1535.3,1049.2 1535.8,1047.3 1536.2,1047.9 1536.7,1044.8 1537.2,1047.9 1537.7,1064.8 1538.2,1051.4 1538.7,1065.2 1539.2,1045.7 1539.7,1042.4 1540.2,1047.2 1540.7,1041.6 1541.2,1043.6 1541.7,1051.8 1542.2,1068.7 1542.7,1060.5 1543.2,1060.7 1543.7,1056.4 1544.2,1061.1 1544.7,1053.4 1545.2,1065.2 1545.7,1065.7 1546.2,1047.1 1546.7,1062.0 1547.2,1060.9 1547.7,1054.9 1548.2,1034.7 1548.7,1046.6 1549.2,1057.7 1549.7,1065.7 1550.2,1067.9 1550.7,1055.7 1551.2,1071.7 1551.7,1059.8 1552.2,1064.9 1552.7,1071.1 1553.2,1068.7 1553.7,1071.2 1554.2,1058.4 1554.7,1051.6 1555.2,1052.6 1555.7,1077.2 1556.2,1063.9 1556.7,1061.0 1557.2,1066.7 1557.6,1071.4 1558.1,1066.5 1558.6,1060.1 1559.1,1064.5 1559.6,1057.7 1560.1,1070.9 1560.6,1074.7 1561.1,1056.9 1561.6,1066.1 1562.1,1058.8 1562.6,1073.3 1563.1,1066.4 1563.6,1062.2 1564.1,1048.7 1564.6,1049.7 1565.1,1055.8 1565.6,1057.9 1566.1,1048.8 1566.6,1047.0 1567.1,1048.2 1567.6,1069.4 1568.1,1044.1 1568.6,1059.3 1569.1,1070.0 1569.6,1060.5 1570.1,1054.5 1570.6,1053.1 1571.1,1065.0 1571.6,1060.4 1572.1,1045.4 1572.6,1049.3 1573.1,1054.7 1573.6,1043.0 1574.1,1033.0 1574.6,1048.6 1575.1,1046.3 1575.6,1061.2 1576.1,1046.2 1576.6,1037.9 1577.1,1039.7 1577.6,1036.5 1578.1,1038.3 1578.6,1041.2 1579.0,1032.7 1579.5,1038.9 1580.0,1042.3 1580.5,1035.6 1581.0,1034.2 1581.5,1046.6 1582.0,1042.7 1582.5,1040.4 1583.0,1038.6 1583.5,1025.0 1584.0,1041.9 1584.5,1032.4 1585.0,1036.0 1585.5,1037.4 1586.0,1050.1 1586.5,1038.0 1587.0,1056.0 1587.5,1054.9 1588.0,1042.3 1588.5,1033.5 1589.0,1032.4 1589.5,1037.7 1590.0,1038.8 1590.5,1024.6 1591.0,1045.1 1591.5,1048.4 1592.0,1046.9 1592.5,1047.7 1593.0,1029.8 1593.5,1041.1 1594.0,1027.9 1594.5,1035.9 1595.0,1021.1 1595.5,1048.2 1596.0,1048.2 1596.5,1029.6 1597.0,1027.7 1597.5,1038.7 1598.0,1035.6 1598.5,1031.1 1599.0,1028.2 1599.5,1036.2 1600.0,1040.1 1600.5,1034.6 1600.9,1032.6 1601.4,1026.7 1601.9,1027.6 1602.4,1025.8 1602.9,1037.0 1603.4,1032.4 1603.9,1032.6 1604.4,1001.1 1604.9,1030.4 1605.4,1025.0 1605.9,1024.2 1606.4,1034.9 1606.9,1016.0 1607.4,1013.9 1607.9,1025.9 1608.4,1033.5 1608.9,1031.7 1609.4,1029.8 1609.9,1039.2 1610.4,1039.2 1610.9,1027.7 1611.4,1034.1 1611.9,1038.3 1612.4,1025.7 1612.9,1018.5 1613.4,1038.5 1613.9,1039.5 1614.4,1020.6 1614.9,1043.5 1615.4,1022.6 1615.9,1009.7 1616.4,1019.1 1616.9,1024.7 1617.4,1025.0 1617.9,1018.8 1618.4,1029.4 1618.9,1022.8 1619.4,1034.9 1619.9,1022.4 1620.4,1028.4 1620.9,1034.3 1621.4,1024.0 1621.9,1021.3 1622.3,1009.0 1622.8,1025.7 1623.3,1022.6 1623.8,1025.3 1624.3,1007.7 1624.8,1014.1 1625.3,1005.9 1625.8,1029.2 1626.3,1002.6 1626.8,1011.6 1627.3,1010.4 1627.8,1016.6 1628.3,1016.3 1628.8,1046.2 1629.3,1025.7 1629.8,1048.3 1630.3,1016.2 1630.8,1017.0 1631.3,1018.7 1631.8,1022.3 1632.3,1017.9 1632.8,1011.3 1633.3,1023.7 1633.8,1024.0 1634.3,1032.5 1634.8,1013.1 1635.3,1027.7 1635.8,1027.2 1636.3,1023.0 1636.8,1029.5 1637.3,1013.3 1637.8,1027.9 1638.3,1034.0 1638.8,1017.4 1639.3,1030.8 1639.8,1014.1 1640.3,1017.2 1640.8,1019.2 1641.3,1024.5 1641.8,1024.5 1642.3,1023.1 1642.8,1017.8 1643.3,1000.8 1643.8,1028.8 1644.2,1028.8 1644.7,1046.9 1645.2,1038.0 1645.7,1020.9 1646.2,1004.8 1646.7,1017.1 1647.2,1028.8 1647.7,1028.6 1648.2,1025.6 1648.7,1010.9 1649.2,1026.8 1649.7,1001.3 1650.2,1002.9 1650.7,1022.3 1651.2,1011.4 1651.7,1001.3 1652.2,1009.1 1652.7,1010.5 1653.2,1003.0 1653.7,1006.6 1654.2,977.0 1654.7,1020.7 1655.2,1017.2 1655.7,1040.5 1656.2,1048.8 1656.7,1047.8 1657.2,1037.2 1657.7,1032.7 1658.2,1032.6 1658.7,1027.2 1659.2,1025.2 1659.7,1015.3 1660.2,1018.6 1660.7,1031.8 1661.2,1025.4 1661.7,1028.0 1662.2,1025.5 1662.7,1023.6 1663.2,1022.4 1663.7,1049.4 1664.2,1041.5 1664.7,1028.9 1665.2,1031.2 1665.6,1046.1 1666.1,1038.7 1666.6,1036.8 1667.1,1018.1 1667.6,1029.0 1668.1,1027.4 1668.6,1020.7 1669.1,1007.5 1669.6,1016.7 1670.1,1009.4 1670.6,1028.9 1671.1,1028.1 1671.6,1034.4 1672.1,1038.3 1672.6,1035.6 1673.1,1019.6 1673.6,1006.3 1674.1,1042.0 1674.6,1018.4 1675.1,1041.6 1675.6,1027.1 1676.1,1024.5 1676.6,1032.6 1677.1,1033.1 1677.6,1035.2 1678.1,1018.3 1678.6,1032.9 1679.1,1025.4 1679.6,1020.5 1680.1,1033.2 1680.6,1039.9 1681.1,1054.4 1681.6,1047.5 1682.1,1038.5 1682.6,1033.6 1683.1,1026.5 1683.6,1011.3 1684.1,1012.2 1684.6,1025.9 1685.1,1024.0 1685.6,1027.7 1686.1,1030.3 1686.6,1031.3 1687.1,1032.6 1687.5,1031.7 1688.0,1036.6 1688.5,1054.9 1689.0,1065.1 1689.5,1041.9 1690.0,1039.6 1690.5,1055.1 1691.0,1051.2 1691.5,1038.3 1692.0,1043.7 1692.5,1042.9 1693.0,1032.4 1693.5,1038.8 1694.0,1046.0 1694.5,1043.9 1695.0,1066.6 1695.5,1051.9 1696.0,1018.9 1696.5,1038.7 1697.0,1034.1 1697.5,1063.6 1698.0,1046.9 1698.5,1074.2 1699.0,1047.5 1699.5,1044.2 1700.0,1052.8 1700.5,1043.2 1701.0,1068.9 1701.5,1045.8 1702.0,1058.8 1702.5,1059.9 1703.0,1066.8 1703.5,1063.9 1704.0,1063.8 1704.5,1063.9 1705.0,1045.4 1705.5,1061.1 1706.0,1059.7 1706.5,1079.2 1707.0,1044.7 1707.5,1055.2 1708.0,1076.8 1708.5,1044.9 1708.9,1029.5 1709.4,1045.4 1709.9,1050.7 1710.4,1055.7 1710.9,1044.2 1711.4,1040.0 1711.9,1050.8 1712.4,1071.4 1712.9,1056.9 1713.4,1074.0 1713.9,1077.6 1714.4,1051.0 1714.9,1062.8 1715.4,1056.4 1715.9,1052.4 1716.4,1053.4 1716.9,1074.6 1717.4,1056.7 1717.9,1072.6 1718.4,1058.1 1718.9,1065.3 1719.4,1067.8 1719.9,1070.1 1720.4,1063.0 1720.9,1059.6 1721.4,1063.9 1721.9,1050.7 1722.4,1075.3 1722.9,1064.2 1723.4,1079.7 1723.9,1082.6 1724.4,1085.0 1724.9,1061.5 1725.4,1069.5 1725.9,1071.5 1726.4,1084.0 1726.9,1089.6 1727.4,1089.1 1727.9,1076.3 1728.4,1072.9 1728.9,1077.2 1729.4,1081.5 1729.9,1079.5 1730.4,1081.6 1730.8,1076.1 1731.3,1084.4 1731.8,1068.2 1732.3,1065.4 1732.8,1087.3 1733.3,1082.0 1733.8,1076.3 1734.3,1088.1 1734.8,1084.0 1735.3,1086.8 1735.8,1057.8 1736.3,1070.8 1736.8,1060.8 1737.3,1076.9 1737.8,1076.8 1738.3,1084.6 1738.8,1085.5 1739.3,1062.0 1739.8,1065.5 1740.3,1067.8 1740.8,1082.1 1741.3,1070.9 1741.8,1059.4 1742.3,1069.7 1742.8,1075.5 1743.3,1068.4 1743.8,1071.3 1744.3,1082.9 1744.8,1070.9 1745.3,1067.7 1745.8,1069.1 1746.3,1074.3 1746.8,1073.7 1747.3,1065.5 1747.8,1056.5 1748.3,1057.9 1748.8,1052.9 1749.3,1064.0 1749.8,1063.4 1750.3,1063.4 1750.8,1066.1 1751.3,1073.4 1751.8,1057.2 1752.2,1059.8 1752.7,1050.8 1753.2,1049.8 1753.7,1082.8 1754.2,1069.5 1754.7,1067.4 1755.2,1066.4 1755.7,1056.3 1756.2,1069.0 1756.7,1043.4 1757.2,1057.5 1757.7,1065.0 1758.2,1086.1 1758.7,1061.9 1759.2,1091.5 1759.7,1063.2 1760.2,1069.6 1760.7,1083.7 1761.2,1083.5 1761.7,1061.1 1762.2,1058.2 1762.7,1069.5 1763.2,1062.2 1763.7,1061.2 1764.2,1049.9 1764.7,1060.0 1765.2,1072.0 1765.7,1041.6 1766.2,1047.7 1766.7,1059.9 1767.2,1069.0 1767.7,1052.2 1768.2,1059.5 1768.7,1062.2 1769.2,1058.8 1769.7,1075.0 1770.2,1075.1 1770.7,1076.8 1771.2,1063.8 1771.7,1038.9 1772.2,1070.9 1772.7,1065.4 1773.2,1050.4 1773.7,1060.9 1774.1,1049.5 1774.6,1037.5 1775.1,1054.4 1775.6,1050.2 1776.1,1033.8 1776.6,1036.8 1777.1,1024.3 1777.6,1044.7 1778.1,1039.7 1778.6,1056.4 1779.1,1050.2 1779.6,1047.2 1780.1,1046.2 1780.6,1026.7 1781.1,1033.1 1781.6,1037.9 1782.1,1045.3 1782.6,1039.7 1783.1,1023.8 1783.6,1031.7 1784.1,1052.3 1784.6,1037.0 1785.1,1059.1 1785.6,1043.9 1786.1,1044.4 1786.6,1053.2 1787.1,1053.4 1787.6,1033.8 1788.1,1023.1 1788.6,1028.5 1789.1,1040.7 1789.6,1033.1 1790.1,1026.4 1790.6,1028.3 1791.1,1034.0 1791.6,1043.9 1792.1,1052.4 1792.6,1036.4 1793.1,1031.0 1793.6,1026.3 1794.1,1039.7 1794.6,1034.9 1795.1,1020.5 1795.5,1017.7 1796.0,1039.5 1796.5,1036.1 1797.0,1024.8 1797.5,1047.5 1798.0,1037.1 1798.5,1037.2 1799.0,1036.6 1799.5,1054.9 1800.0,1041.8 1800.5,1061.0 1801.0,1034.4 1801.5,1038.7 1802.0,1036.6 1802.5,1027.6 1803.0,1029.0 1803.5,1030.3 1804.0,1011.6 1804.5,1028.0 1805.0,1032.0 1805.5,1025.5 1806.0,1043.8 1806.5,1021.8 1807.0,1018.9 1807.5,1011.5 1808.0,1047.3 1808.5,1020.0 1809.0,1001.5 1809.5,1019.7 1810.0,1027.1 1810.5,1026.7 1811.0,1033.9 1811.5,1002.4 1812.0,1031.9 1812.5,1040.0 1813.0,1019.4 1813.5,1011.4 1814.0,1016.0 1814.5,1014.0 1815.0,1026.9 1815.5,1023.8 1816.0,1028.8 1816.5,1034.6 1817.0,1019.0 1817.4,1030.3 1817.9,1022.9 1818.4,1005.5 1818.9,1018.3 1819.4,1017.0 1819.9,1008.1 1820.4,1025.5 1820.9,1007.5 1821.4,1002.3 1821.9,1012.8 1822.4,1029.4 1822.9,1014.0 1823.4,1019.2 1823.9,1007.5 1824.4,1024.4 1824.9,1022.2 1825.4,1001.8 1825.9,1020.0 1826.4,1020.9 1826.9,1029.1 1827.4,1014.9 1827.9,1003.9 1828.4,1006.6 1828.9,1024.6 1829.4,1038.9 1829.9,1021.5 1830.4,1024.2 1830.9,1017.6 1831.4,1026.5 1831.9,1020.5 1832.4,1035.8 1832.9,1047.1 1833.4,1054.3 1833.9,1022.3 1834.4,1032.4 1834.9,1018.9 1835.4,1036.5 1835.9,1002.1 1836.4,1029.5 1836.9,1040.6 1837.4,1046.3 1837.9,1037.6 1838.4,1025.5 1838.8,1030.1 1839.3,1025.8 1839.8,1030.8 1840.3,1013.7 1840.8,1020.9 1841.3,1023.8 1841.8,1038.2 1842.3,1030.5 1842.8,1018.9 1843.3,1016.8 1843.8,1020.3 1844.3,1014.3 1844.8,1022.3 1845.3,1036.3 1845.8,1033.8 1846.3,1038.8 1846.8,1044.6 1847.3,1017.9 1847.8,1018.6 1848.3,1017.2 1848.8,1005.2 1849.3,1033.9 1849.8,1018.1 1850.3,1020.6 1850.8,1031.0 1851.3,1007.8 1851.8,1031.6 1852.3,1022.7 1852.8,1019.0 1853.3,1024.6 1853.8,1025.4 1854.3,1012.0 1854.8,1012.9 1855.3,1030.2 1855.8,1017.8 1856.3,1023.8 1856.8,1033.1 1857.3,1015.8 1857.8,1032.0 1858.3,1033.3 1858.8,1024.3 1859.3,1025.9 1859.8,1035.9 1860.3,1025.9 1860.7,1010.4 1861.2,1018.6 1861.7,1005.0 1862.2,1022.3 1862.7,1013.1 1863.2,1029.8 1863.7,1016.9 1864.2,1038.0 1864.7,1033.6 1865.2,1027.7 1865.7,1026.6 1866.2,1036.0 1866.7,1026.8 1867.2,1016.2 1867.7,1024.7 1868.2,1040.2 1868.7,1032.2 1869.2,1024.1 1869.7,1039.1 1870.2,1030.1 1870.7,1017.9 1871.2,1019.1 1871.7,1034.7 1872.2,1016.9 1872.7,1012.1 1873.2,1017.2 1873.7,1025.5 1874.2,1036.9 1874.7,1031.7 1875.2,1029.2 1875.7,1025.5 1876.2,1016.6 1876.7,1028.6 1877.2,1032.5 1877.7,1031.3 1878.2,1043.4 1878.7,1029.2 1879.2,1039.1 1879.7,1021.6 1880.2,1023.7 1880.7,1041.7 1881.2,1024.8 1881.7,1036.7 1882.1,1026.2 1882.6,1056.0 1883.1,1047.1 1883.6,1036.3 1884.1,1042.3 1884.6,1051.6 1885.1,1035.1 1885.6,1029.4 1886.1,1041.0 1886.6,1053.8 1887.1,1040.1 1887.6,1041.5 1888.1,1059.1 1888.6,1047.3 1889.1,1043.5 1889.6,1045.2 1890.1,1038.9 1890.6,1021.6 1891.1,1047.2 1891.6,1046.6 1892.1,1026.6 1892.6,1034.1 1893.1,1044.7 1893.6,1031.8 1894.1,1051.5 1894.6,1037.8 1895.1,1023.7 1895.6,1040.2 1896.1,1019.3 1896.6,1033.7 1897.1,1043.3 1897.6,1018.7 1898.1,1034.9 1898.6,1034.8 1899.1,1064.5 1899.6,1062.5 1900.1,1052.2 1900.6,1041.4 1901.1,1033.6 1901.6,1045.8 1902.1,1049.5 1902.6,1047.2 1903.1,1064.2 1903.6,1045.1 1904.0,1038.2 1904.5,1060.1 1905.0,1057.8 1905.5,1061.6 1906.0,1053.7 1906.5,1049.5 1907.0,1059.1 1907.5,1067.4 1908.0,1061.9 1908.5,1053.8 1909.0,1066.1 1909.5,1055.8 1910.0,1085.2 1910.5,1054.6 1911.0,1039.0 1911.5,1056.3 1912.0,1053.6 1912.5,1060.3 1913.0,1041.6 1913.5,1055.1 1914.0,1042.6 1914.5,1062.8 1915.0,1052.9 1915.5,1058.4 1916.0,1056.1 1916.5,1061.8 1917.0,1056.6 1917.5,1065.7 1918.0,1049.9 1918.5,1056.7 1919.0,1050.6 1919.5,1069.4 1920.0,1059.0 1920.5,1043.1 1921.0,1042.9 1921.5,1050.3 1922.0,1042.5 1922.5,1044.8 1923.0,1040.5 1923.5,1061.1 1924.0,1060.6 1924.5,1060.4 1925.0,1048.7 1925.4,1053.8 1925.9,1066.4 1926.4,1057.3 1926.9,1058.7 1927.4,1059.8 1927.9,1062.2 1928.4,1072.4 1928.9,1065.1 1929.4,1063.8 1929.9,1048.5 1930.4,1065.7 1930.9,1063.6 1931.4,1064.5 1931.9,1072.6 1932.4,1057.8 1932.9,1077.7 1933.4,1064.7 1933.9,1074.5 1934.4,1084.8 1934.9,1096.2 1935.4,1086.9 1935.9,1084.3 1936.4,1072.9 1936.9,1088.4 1937.4,1080.7 1937.9,1081.2 1938.4,1075.2 1938.9,1069.8 1939.4,1080.4 1939.9,1089.4 1940.4,1090.4 1940.9,1077.4 1941.4,1075.7 1941.9,1072.0 1942.4,1079.7 1942.9,1076.6 1943.4,1073.7 1943.9,1087.9 1944.4,1071.6 1944.9,1077.8 1945.4,1086.6 1945.9,1096.4 1946.4,1085.9 1946.9,1069.1 1947.3,1084.6 1947.8,1096.6 1948.3,1062.0 1948.8,1053.8 1949.3,1077.8 1949.8,1062.6 1950.3,1060.7 1950.5,1078.7"/>
<polyline fill="none" stroke="#000000" stroke-width="1.1" stroke-linejoin="bevel" points="291.5,-1.5 292.0,348.6 292.5,317.4 293.0,323.9 293.5,368.4 294.0,325.6 294.5,360.2 295.0,379.2 295.5,375.6 296.0,305.1 296.5,246.6 297.0,166.2 297.5,277.3 298.0,193.6 298.5,139.1 299.0,344.2 299.5,406.1 300.0,361.5 300.5,391.4 301.0,416.7 301.5,432.7 302.0,538.6 302.4,501.6 302.9,503.7 303.4,469.0 303.9,486.3 304.4,483.5 304.9,501.1 305.4,500.0 305.9,494.9 306.4,469.6 306.9,618.6 307.4,480.1 307.9,491.0 308.4,473.7 308.9,481.4 309.4,479.2 309.9,508.6 310.4,596.7 310.9,957.5 311.4,469.8 311.9,343.4 312.4,376.0 312.9,464.3 313.4,589.5 313.9,457.1 314.4,408.3 314.9,501.5 315.4,470.0 315.9,454.9 316.4,585.1 316.9,498.2 317.4,461.5 317.9,537.2 318.4,471.6 318.9,482.9 319.4,415.6 319.9,524.6 320.4,495.2 320.9,417.7 321.4,606.2 321.9,465.4 322.4,409.7 322.9,479.5 323.4,454.5 323.9,455.8 324.3,534.9 324.8,504.8 325.3,461.6 325.8,425.0 326.3,180.6 326.8,472.1 327.3,517.6 327.8,575.2 328.3,646.6 328.8,665.1 329.3,721.8 329.8,841.9 330.3,672.8 330.8,589.8 331.3,678.2 331.8,774.9 332.3,690.8 332.8,600.7 333.3,513.6 333.8,558.8 334.3,572.2 334.8,581.5 335.3,616.3 335.8,594.2 336.3,594.7 336.8,576.3 337.3,591.8 337.8,607.7 338.3,613.2 338.8,617.0 339.3,593.4 339.8,619.6 340.3,612.1 340.8,640.6 341.3,628.1 341.8,627.3 342.3,594.1 342.8,618.7 343.3,632.2 343.8,625.8 344.3,587.8 344.8,628.7 345.3,612.3 345.7,642.4 346.2,635.8 346.7,592.2 347.2,642.1 347.7,608.2 348.2,643.3 348.7,626.7 349.2,651.1 349.7,645.9 350.2,642.2 350.7,630.0 351.2,638.5 351.7,655.8 352.2,648.0 352.7,636.4 353.2,650.8 353.7,714.0 354.2,654.3 354.7,655.3 355.2,630.4 355.7,606.2 356.2,601.8 356.7,611.2 357.2,640.6 357.7,620.4 358.2,659.2 358.7,638.3 359.2,588.4 359.7,612.4 360.2,616.1 360.7,620.1 361.2,516.1 361.7,905.8 362.2,690.4 362.7,671.9 363.2,693.1 363.7,697.4 364.2,701.6 364.7,703.9 365.2,697.0 365.7,695.1 366.2,708.2 366.7,699.2 367.2,708.3 367.6,678.1 368.1,672.2 368.6,607.4 369.1,659.0 369.6,655.0 370.1,667.0 370.6,648.1 371.1,656.7 371.6,671.6 372.1,668.6 372.6,668.3 373.1,675.7 373.6,680.6 374.1,682.0 374.6,689.1 375.1,669.9 375.6,680.7 376.1,698.3 376.6,691.9 377.1,686.0 377.6,684.3 378.1,679.7 378.6,686.9 379.1,678.8 379.6,684.2 380.1,688.9 380.6,695.0 381.1,675.5 381.6,689.9 382.1,695.1 382.6,694.1 383.1,692.8 383.6,691.0 384.1,696.4 384.6,712.8 385.1,695.3 385.6,710.4 386.1,694.3 386.6,691.9 387.1,697.0 387.6,699.1 388.1,704.7 388.6,707.2 389.0,713.1 389.5,694.0 390.0,691.0 390.5,701.9 391.0,690.4 391.5,690.4 392.0,693.5 392.5,705.7 393.0,686.7 393.5,689.0 394.0,667.7 394.5,672.8 395.0,673.9 395.5,656.3 396.0,683.7 396.5,546.5 397.0,863.2 397.5,746.5 398.0,744.6 398.5,750.8 399.0,748.8 399.5,753.8 400.0,753.6 400.5,745.6 401.0,749.1 401.5,742.8 402.0,747.3 402.5,751.9 403.0,698.8 403.5,735.4 404.0,721.5 404.5,727.9 405.0,733.9 405.5,722.0 406.0,736.1 406.5,720.3 407.0,746.1 407.5,722.5 408.0,732.3 408.5,732.6 409.0,734.1 409.5,744.4 410.0,737.0 410.5,732.3 410.9,739.9 411.4,748.3 411.9,734.4 412.4,737.7 412.9,747.9 413.4,733.9 413.9,739.1 414.4,746.1 414.9,759.4 415.4,740.5 415.9,758.6 416.4,748.1 416.9,762.6 417.4,761.4 417.9,748.0 418.4,772.0 418.9,747.2 419.4,736.4 419.9,749.2 420.4,755.5 420.9,760.9 421.4,759.1 421.9,745.6 422.4,752.0 422.9,755.1 423.4,742.6 423.9,753.7 424.4,756.1 424.9,763.6 425.4,746.9 425.9,763.7 426.4,752.6 426.9,755.2 427.4,745.6 427.9,740.9 428.4,738.9 428.9,753.5 429.4,761.0 429.9,769.0 430.4,736.2 430.9,668.3 431.4,790.1 431.9,751.1 432.3,768.1 432.8,757.8 433.3,769.4 433.8,774.1 434.3,766.9 434.8,765.7 435.3,757.4 435.8,768.4 436.3,802.3 436.8,766.7 437.3,767.2 437.8,777.9 438.3,767.7 438.8,761.2 439.3,774.1 439.8,771.4 440.3,772.6 440.8,763.3 441.3,757.8 441.8,776.1 442.3,770.1 442.8,772.4 443.3,787.8 443.8,769.2 444.3,780.7 444.8,777.6 445.3,789.3 445.8,777.1 446.3,797.4 446.8,778.9 447.3,776.5 447.8,790.4 448.3,801.3 448.8,782.6 449.3,798.3 449.8,802.0 450.3,780.6 450.8,808.0 451.3,806.4 451.8,804.7 452.3,804.7 452.8,815.9 453.3,792.8 453.8,822.1 454.2,815.5 454.7,809.2 455.2,809.5 455.7,818.8 456.2,821.0 456.7,814.8 457.2,818.5 457.7,809.1 458.2,813.2 458.7,811.7 459.2,808.9 459.7,813.1 460.2,810.0 460.7,806.7 461.2,808.2 461.7,812.8 462.2,814.1 462.7,819.5 463.2,806.3 463.7,809.2 464.2,818.3 464.7,807.4 465.2,817.9 465.7,819.4 466.2,827.7 466.7,829.3 467.2,832.6 467.7,833.4 468.2,821.8 468.7,828.6 469.2,822.4 469.7,828.5 470.2,830.2 470.7,833.1 471.2,847.4 471.7,845.1 472.2,845.0 472.7,840.8 473.2,834.4 473.7,841.1 474.2,838.6 474.7,837.0 475.2,844.0 475.6,845.5 476.1,851.8 476.6,846.7 477.1,848.6 477.6,848.6 478.1,847.6 478.6,851.7 479.1,848.0 479.6,848.4 480.1,849.2 480.6,852.4 481.1,839.8 481.6,850.4 482.1,851.7 482.6,842.6 483.1,842.0 483.6,843.1 484.1,844.1 484.6,846.8 485.1,849.2 485.6,848.0 486.1,854.7 486.6,849.9 487.1,855.9 487.6,848.6 488.1,848.8 488.6,852.5 489.1,848.9 489.6,845.2 490.1,850.4 490.6,850.1 491.1,851.6 491.6,849.0 492.1,849.1 492.6,857.2 493.1,852.9 493.6,847.4 494.1,852.1 494.6,844.8 495.1,849.5 495.6,853.6 496.1,855.9 496.6,856.2 497.1,853.5 497.5,861.2 498.0,856.6 498.5,853.6 499.0,854.4 499.5,844.8 500.0,850.2 500.5,856.0 501.0,853.3 501.5,857.6 502.0,868.7 502.5,865.7 503.0,862.7 503.5,864.2 504.0,857.9 504.5,862.8 505.0,862.1 505.5,861.3 506.0,867.0 506.5,866.6 507.0,866.2 507.5,864.7 508.0,867.6 508.5,866.8 509.0,869.4 509.5,864.0 510.0,861.8 510.5,859.3 511.0,862.8 511.5,864.0 512.0,863.4 512.5,863.4 513.0,863.2 513.5,861.2 514.0,855.6 514.5,862.5 515.0,855.0 515.5,864.7 516.0,853.6 516.5,853.9 517.0,863.0 517.5,860.9 518.0,865.4 518.5,864.6 518.9,859.8 519.4,860.7 519.9,870.7 520.4,868.7 520.9,872.5 521.4,866.5 521.9,860.2 522.4,865.6 522.9,859.1 523.4,863.8 523.9,873.0 524.4,869.7 524.9,866.3 525.4,863.8 525.9,854.9 526.4,849.0 526.9,859.2 527.4,861.4 527.9,862.3 528.4,854.5 528.9,856.7 529.4,856.9 529.9,854.8 530.4,867.2 530.9,862.4 531.4,870.1 531.9,864.8 532.4,862.8 532.9,868.6 533.4,857.5 533.9,864.8 534.4,858.1 534.9,853.6 535.4,848.3 535.9,855.5 536.4,872.8 536.9,862.2 537.4,866.5 537.9,869.5 538.4,861.1 538.9,875.6 539.4,866.9 539.9,877.0 540.4,865.0 540.8,865.3 541.3,869.5 541.8,872.8 542.3,865.6 542.8,868.4 543.3,867.0 543.8,870.1 544.3,865.4 544.8,860.8 545.3,859.3 545.8,853.8 546.3,866.1 546.8,863.1 547.3,867.3 547.8,868.2 548.3,856.7 548.8,867.0 549.3,856.0 549.8,859.7 550.3,857.1 550.8,869.4 551.3,869.8 551.8,856.2 552.3,864.6 552.8,864.0 553.3,863.2 553.8,863.5 554.3,867.7 554.8,852.7 555.3,857.8 555.8,857.2 556.3,851.3 556.8,859.1 557.3,866.1 557.8,856.5 558.3,859.9 558.8,855.5 559.3,857.7 559.8,858.3 560.3,862.2 560.8,862.4 561.3,851.3 561.8,857.8 562.2,854.8 562.7,861.2 563.2,859.7 563.7,855.8 564.2,863.2 564.7,859.4 565.2,855.1 565.7,856.6 566.2,863.3 566.7,861.7 567.2,869.6 567.7,850.3 568.2,861.0 568.7,853.1 569.2,862.0 569.7,861.6 570.2,861.5 570.7,861.4 571.2,803.0 571.7,858.4 572.2,861.7 572.7,868.5 573.2,860.6 573.7,862.0 574.2,863.1 574.7,862.6 575.2,863.9 575.7,868.1 576.2,861.3 576.7,863.2 577.2,863.5 577.7,859.1 578.2,862.0 578.7,868.1 579.2,865.7 579.7,866.4 580.2,868.6 580.7,854.9 581.2,867.4 581.7,862.8 582.2,853.1 582.7,853.2 583.2,849.4 583.6,856.8 584.1,860.4 584.6,862.8 585.1,857.5 585.6,861.9 586.1,863.4 586.6,855.7 587.1,861.4 587.6,854.0 588.1,852.4 588.6,850.2 589.1,848.6 589.6,856.1 590.1,864.4 590.6,856.8 591.1,859.7 591.6,863.1 592.1,858.8 592.6,863.0 593.1,856.8 593.6,853.9 594.1,869.3 594.6,868.1 595.1,863.8 595.6,856.0 596.1,853.6 596.6,852.8 597.1,852.8 597.6,862.7 598.1,859.5 598.6,868.8 599.1,864.8 599.6,860.6 600.1,862.4 600.6,853.6 601.1,848.7 601.6,858.7 602.1,862.4 602.6,850.8 603.1,848.5 603.6,845.8 604.1,852.4 604.6,850.1 605.1,856.1 605.5,857.1 606.0,864.4 606.5,871.6 607.0,863.5 607.5,856.3 608.0,858.8 608.5,860.6 609.0,865.3 609.5,864.9 610.0,868.4 610.5,869.3 611.0,876.7 611.5,873.6 612.0,866.4 612.5,858.9 613.0,861.5 613.5,855.1 614.0,871.0 614.5,870.1 615.0,880.0 615.5,865.3 616.0,867.7 616.5,874.3 617.0,875.8 617.5,874.8 618.0,869.6 618.5,872.4 619.0,873.7 619.5,875.6 620.0,874.3 620.5,874.2 621.0,876.4 621.5,879.5 622.0,872.1 622.5,880.1 623.0,875.2 623.5,874.2 624.0,880.1 624.5,879.6 625.0,873.6 625.5,879.1 626.0,869.5 626.5,879.2 626.9,876.5 627.4,873.4 627.9,873.6 628.4,868.3 628.9,886.5 629.4,880.3 629.9,875.3 630.4,874.1 630.9,882.4 631.4,872.1 631.9,878.7 632.4,879.0 632.9,883.3 633.4,879.2 633.9,878.5 634.4,876.2 634.9,890.1 635.4,877.7 635.9,875.8 636.4,879.3 636.9,883.8 637.4,902.0 637.9,885.0 638.4,893.9 638.9,888.2 639.4,877.8 639.9,890.8 640.4,891.6 640.9,895.5 641.4,897.1 641.9,890.6 642.4,905.0 642.9,902.0 643.4,913.0 643.9,902.6 644.4,901.7 644.9,909.0 645.4,897.2 645.9,902.6 646.4,897.3 646.9,907.3 647.4,906.8 647.9,911.0 648.4,903.8 648.8,899.9 649.3,909.5 649.8,908.0 650.3,907.9 650.8,914.4 651.3,915.5 651.8,900.1 652.3,908.1 652.8,905.5 653.3,906.0 653.8,899.9 654.3,917.8 654.8,915.7 655.3,912.9 655.8,906.0 656.3,910.9 656.8,912.2 657.3,916.1 657.8,914.0 658.3,905.0 658.8,917.3 659.3,924.0 659.8,922.2 660.3,916.3 660.8,910.1 661.3,924.2 661.8,922.2 662.3,929.7 662.8,919.2 663.3,922.8 663.8,915.7 664.3,933.0 664.8,929.6 665.3,927.8 665.8,925.6 666.3,927.5 666.8,920.0 667.3,928.5 667.8,924.5 668.3,935.9 668.8,928.1 669.3,924.9 669.8,933.5 670.2,922.4 670.7,934.8 671.2,918.1 671.7,930.6 672.2,933.5 672.7,935.7 673.2,922.7 673.7,928.9 674.2,923.4 674.7,931.4 675.2,929.0 675.7,927.4 676.2,936.2 676.7,937.6 677.2,945.9 677.7,945.1 678.2,945.0 678.7,948.6 679.2,941.1 679.7,936.3 680.2,943.2 680.7,941.6 681.2,937.7 681.7,953.2 682.2,937.9 682.7,936.4 683.2,942.3 683.7,937.1 684.2,944.5 684.7,946.2 685.2,944.5 685.7,947.2 686.2,952.0 686.7,941.8 687.2,938.4 687.7,948.4 688.2,951.1 688.7,950.8 689.2,939.6 689.7,950.5 690.2,952.8 690.7,952.8 691.2,947.4 691.7,948.2 692.1,941.2 692.6,947.0 693.1,947.9 693.6,947.3 694.1,940.8 694.6,949.7 695.1,951.9 695.6,936.5 696.1,938.7 696.6,948.8 697.1,947.4 697.6,944.8 698.1,941.8 698.6,951.0 699.1,944.9 699.6,931.3 700.1,945.8 700.6,952.8 701.1,953.8 701.6,960.2 702.1,951.1 702.6,959.4 703.1,962.6 703.6,946.8 704.1,948.8 704.6,946.3 705.1,956.6 705.6,952.9 706.1,949.8 706.6,938.7 707.1,952.5 707.6,946.5 708.1,948.8 708.6,951.8 709.1,946.8 709.6,943.4 710.1,953.1 710.6,935.5 711.1,990.0 711.6,953.8 712.1,950.6 712.6,958.5 713.1,953.3 713.5,949.8 714.0,958.3 714.5,949.0 715.0,952.3 715.5,957.6 716.0,954.6 716.5,953.0 717.0,967.3 717.5,963.9 718.0,957.0 718.5,962.4 719.0,947.9 719.5,955.2 720.0,951.1 720.5,954.7 721.0,945.6 721.5,945.6 722.0,946.8 722.5,953.4 723.0,950.0 723.5,953.0 724.0,944.5 724.5,942.7 725.0,951.6 725.5,954.6 726.0,962.3 726.5,957.8 727.0,955.2 727.5,944.7 728.0,949.0 728.5,943.6 729.0,945.6 729.5,955.2 730.0,950.3 730.5,940.6 731.0,952.2 731.5,938.8 732.0,948.6 732.5,949.5 733.0,951.4 733.5,945.3 734.0,943.6 734.5,943.2 735.0,944.5 735.4,957.0 735.9,947.4 736.4,943.0 736.9,937.2 737.4,930.1 737.9,937.9 738.4,932.4 738.9,934.3 739.4,936.8 739.9,939.1 740.4,942.4 740.9,944.9 741.4,948.7 741.9,935.1 742.4,936.1 742.9,928.8 743.4,940.9 743.9,937.6 744.4,945.6 744.9,936.3 745.4,936.1 745.9,930.9 746.4,939.4 746.9,940.0 747.4,942.2 747.9,948.9 748.4,940.7 748.9,940.4 749.4,941.6 749.9,943.8 750.4,949.0 750.9,937.7 751.4,941.2 751.9,939.2 752.4,953.9 752.9,938.0 753.4,936.9 753.9,937.3 754.4,946.4 754.9,940.6 755.4,933.9 755.9,931.8 756.4,934.6 756.8,942.4 757.3,938.7 757.8,945.4 758.3,938.6 758.8,937.7 759.3,932.4 759.8,944.2 760.3,931.6 760.8,930.2 761.3,934.7 761.8,934.9 762.3,941.7 762.8,942.0 763.3,939.7 763.8,945.0 764.3,937.7 764.8,938.3 765.3,932.5 765.8,931.1 766.3,923.6 766.8,928.2 767.3,931.2 767.8,926.6 768.3,929.3 768.8,937.1 769.3,937.0 769.8,936.7 770.3,932.2 770.8,930.6 771.3,942.2 771.8,929.9 772.3,935.8 772.8,923.2 773.3,931.3 773.8,936.8 774.3,923.8 774.8,913.5 775.3,912.6 775.8,926.6 776.3,935.0 776.8,930.7 777.3,937.0 777.8,920.7 778.3,914.8 778.7,921.8 779.2,932.7 779.7,924.9 780.2,925.4 780.7,930.5 781.2,935.0 781.7,940.0 782.2,937.6 782.7,931.3 783.2,944.9 783.7,947.5 784.2,942.9 784.7,936.3 785.2,930.4 785.7,931.7 786.2,932.6 786.7,931.4 787.2,936.1 787.7,943.5 788.2,934.8 788.7,938.4 789.2,936.3 789.7,927.0 790.2,923.5 790.7,939.5 791.2,937.4 791.7,932.0 792.2,925.5 792.7,938.3 793.2,931.6 793.7,938.9 794.2,926.6 794.7,933.0 795.2,933.0 795.7,940.3 796.2,928.5 796.7,934.1 797.2,935.7 797.7,936.4 798.2,926.1 798.7,934.5 799.2,931.9 799.7,935.3 800.1,932.9 800.6,925.9 801.1,936.8 801.6,929.2 802.1,931.8 802.6,929.9 803.1,930.5 803.6,937.9 804.1,924.4 804.6,940.4 805.1,930.4 805.6,933.5 806.1,936.7 806.6,924.1 807.1,932.4 807.6,924.7 808.1,923.9 808.6,929.2 809.1,922.8 809.6,929.2 810.1,921.1 810.6,927.2 811.1,926.8 811.6,934.8 812.1,933.6 812.6,934.5 813.1,922.7 813.6,927.2 814.1,924.0 814.6,934.1 815.1,930.0 815.6,935.0 816.1,937.9 816.6,932.7 817.1,947.1 817.6,938.2 818.1,935.3 818.6,926.1 819.1,941.9 819.6,940.6 820.1,935.8 820.6,935.7 821.1,932.8 821.6,935.5 822.0,929.5 822.5,930.6 823.0,933.7 823.5,938.4 824.0,940.1 824.5,934.4 825.0,925.4 825.5,927.9 826.0,932.7 826.5,937.4 827.0,942.3 827.5,931.7 828.0,940.7 828.5,947.7 829.0,932.2 829.5,944.7 830.0,935.6 830.5,943.8 831.0,947.9 831.5,936.9 832.0,942.1 832.5,934.4 833.0,942.2 833.5,938.6 834.0,941.8 834.5,949.0 835.0,939.5 835.5,940.9 836.0,933.9 836.5,937.2 837.0,934.8 837.5,930.3 838.0,938.8 838.5,938.2 839.0,939.9 839.5,957.1 840.0,945.4 840.5,942.8 841.0,947.9 841.5,939.0 842.0,939.1 842.5,939.2 843.0,936.6 843.4,954.1 843.9,941.9 844.4,955.5 844.9,938.8 845.4,940.2 845.9,943.3 846.4,939.4 846.9,951.8 847.4,937.7 847.9,933.9 848.4,958.2 848.9,947.6 849.4,949.7 849.9,947.7 850.4,950.4 850.9,960.0 851.4,957.8 851.9,960.8 852.4,972.0 852.9,957.6 853.4,953.7 853.9,951.5 854.4,961.3 854.9,962.6 855.4,968.1 855.9,956.8 856.4,958.2 856.9,962.9 857.4,961.8 857.9,964.9 858.4,969.2 858.9,959.8 859.4,959.9 859.9,969.1 860.4,966.3 860.9,968.3 861.4,965.1 861.9,968.5 862.4,975.1 862.9,966.2 863.4,974.2 863.9,967.0 864.4,960.0 864.9,969.1 865.3,976.4 865.8,976.4 866.3,972.0 866.8,970.4 867.3,984.0 867.8,974.6 868.3,981.7 868.8,987.3 869.3,987.3 869.8,990.2 870.3,972.1 870.8,984.4 871.3,969.2 871.8,970.9 872.3,976.4 872.8,978.9 873.3,976.2 873.8,969.0 874.3,969.0 874.8,977.2 875.3,972.6 875.8,983.4 876.3,966.9 876.8,969.3 877.3,979.9 877.8,987.2 878.3,976.5 878.8,986.0 879.3,971.2 879.8,979.2 880.3,991.0 880.8,986.4 881.3,990.5 881.8,985.5 882.3,989.3 882.8,987.7 883.3,987.6 883.8,971.9 884.3,982.4 884.8,970.4 885.3,984.4 885.8,1030.0 886.3,1004.6 886.7,1000.6 887.2,1000.5 887.7,995.0 888.2,1006.4 888.7,1000.1 889.2,997.8 889.7,1010.6 890.2,1001.6 890.7,991.3 891.2,997.6 891.7,994.6 892.2,1000.6 892.7,1002.7 893.2,1001.5 893.7,991.7 894.2,1001.4 894.7,998.7 895.2,1003.6 895.7,1005.3 896.2,1000.2 896.7,1004.2 897.2,981.5 897.7,992.6 898.2,994.4 898.7,1007.2 899.2,999.8 899.7,1003.0 900.2,1003.5 900.7,997.6 901.2,1010.6 901.7,1006.8 902.2,995.7 902.7,1012.4 903.2,1000.7 903.7,1002.7 904.2,1008.7 904.7,1009.1 905.2,1007.1 905.7,1011.7 906.2,1004.1 906.7,1009.9 907.2,1008.7 907.7,1002.0 908.2,1004.4 908.6,997.9 909.1,1005.9 909.6,994.9 910.1,1014.5 910.6,1000.7 911.1,1009.9 911.6,1016.8 912.1,993.0 912.6,1009.5 913.1,1001.7 913.6,1006.9 914.1,1008.6 914.6,1009.9 915.1,998.7 915.6,1015.0 916.1,1013.7 916.6,1007.2 917.1,1007.0 917.6,1017.1 918.1,1006.1 918.6,1004.6 919.1,1004.2 919.6,1011.6 920.1,1004.0 920.6,1027.2 921.1,1022.7 921.6,1020.1 922.1,1028.4 922.6,1022.9 923.1,1016.0 923.6,1026.3 924.1,1007.6 924.6,1023.0 925.1,1017.2 925.6,1017.9 926.1,1021.8 926.6,1008.4 927.1,1013.6 927.6,1023.6 928.1,1017.5 928.6,1009.5 929.1,1017.2 929.6,1007.4 930.0,1017.2 930.5,1007.4 931.0,1006.3 931.5,1017.4 932.0,1008.0 932.5,1009.2 933.0,1012.5 933.5,1002.9 934.0,1014.1 934.5,1009.8 935.0,1011.0 935.5,1022.8 936.0,1009.8 936.5,1005.3 937.0,1000.7 937.5,1004.8 938.0,1002.5 938.5,997.0 939.0,986.2 939.5,993.0 940.0,986.3 940.5,998.2 941.0,1000.7 941.5,1006.7 942.0,1004.0 942.5,1003.6 943.0,1002.0 943.5,1007.5 944.0,1005.6 944.5,1006.8 945.0,996.0 945.5,1002.8 946.0,1008.5 946.5,1006.5 947.0,992.6 947.5,984.7 948.0,996.2 948.5,994.9 949.0,976.1 949.5,973.9 950.0,991.9 950.5,990.7 951.0,986.2 951.5,987.2 951.9,992.0 952.4,989.8 952.9,996.1 953.4,995.7 953.9,980.7 954.4,994.6 954.9,987.1 955.4,996.3 955.9,990.0 956.4,1002.3 956.9,1001.0 957.4,994.7 957.9,988.7 958.4,987.8 958.9,986.9 959.4,991.2 959.9,995.9 960.4,987.1 960.9,994.1 961.4,995.0 961.9,997.0 962.4,989.8 962.9,986.0 963.4,983.3 963.9,988.0 964.4,982.8 964.9,992.0 965.4,978.5 965.9,978.3 966.4,989.5 966.9,991.0 967.4,977.4 967.9,980.9 968.4,987.2 968.9,971.7 969.4,984.8 969.9,980.9 970.4,972.4 970.9,984.2 971.4,983.6 971.9,989.3 972.4,992.8 972.9,978.1 973.3,982.0 973.8,984.6 974.3,977.2 974.8,977.8 975.3,984.5 975.8,972.1 976.3,985.5 976.8,970.4 977.3,981.7 977.8,978.6 978.3,982.0 978.8,968.8 979.3,966.3 979.8,978.2 980.3,970.2 980.8,966.7 981.3,973.0 981.8,961.7 982.3,958.5 982.8,978.8 983.3,968.6 983.8,969.4 984.3,971.4 984.8,981.8 985.3,976.0 985.8,981.8 986.3,968.4 986.8,958.0 987.3,951.2 987.8,968.6 988.3,966.0 988.8,972.0 989.3,970.7 989.8,966.3 990.3,985.0 990.8,982.8 991.3,970.3 991.8,971.0 992.3,980.1 992.8,978.5 993.3,975.4 993.8,981.6 994.3,978.6 994.8,973.8 995.2,971.1 995.7,960.2 996.2,969.3 996.7,965.2 997.2,966.4 997.7,969.4 998.2,961.2 998.7,975.7 999.2,979.8 999.7,970.8 1000.2,963.6 1000.7,971.7 1001.2,974.6 1001.7,959.1 1002.2,966.8 1002.7,967.4 1003.2,953.9 1003.7,969.5 1004.2,969.0 1004.7,966.4 1005.2,972.7 1005.7,970.3 1006.2,963.4 1006.7,968.0 1007.2,968.0 1007.7,961.3 1008.2,973.5 1008.7,985.4 1009.2,971.3 1009.7,973.4 1010.2,971.3 1010.7,957.4 1011.2,961.5 1011.7,962.2 1012.2,962.3 1012.7,971.4 1013.2,965.5 1013.7,962.0 1014.2,957.5 1014.7,971.5 1015.2,962.8 1015.7,963.7 1016.2,959.2 1016.6,970.0 1017.1,969.1 1017.6,974.6 1018.1,965.3 1018.6,958.8 1019.1,956.6 1019.6,961.1 1020.1,962.8 1020.6,971.2 1021.1,965.0 1021.6,963.0 1022.1,966.5 1022.6,959.8 1023.1,951.1 1023.6,957.0 1024.1,966.6 1024.6,966.1 1025.1,965.9 1025.6,971.9 1026.1,982.9 1026.6,971.4 1027.1,973.8 1027.6,971.1 1028.1,964.1 1028.6,979.7 1029.1,975.6 1029.6,970.4 1030.1,964.0 1030.6,988.3 1031.1,983.8 1031.6,959.7 1032.1,976.0 1032.6,981.1 1033.1,976.4 1033.6,978.2 1034.1,988.6 1034.6,978.5 1035.1,973.4 1035.6,983.8 1036.1,978.3 1036.6,976.0 1037.1,971.0 1037.6,982.5 1038.0,974.9 1038.5,972.5 1039.0,979.1 1039.5,968.9 1040.0,972.1 1040.5,968.4 1041.0,979.8 1041.5,983.0 1042.0,973.3 1042.5,979.7 1043.0,969.1 1043.5,973.7 1044.0,976.9 1044.5,980.7 1045.0,978.4 1045.5,978.4 1046.0,973.1 1046.5,965.0 1047.0,966.2 1047.5,966.6 1048.0,980.6 1048.5,984.3 1049.0,984.8 1049.5,983.2 1050.0,978.2 1050.5,976.9 1051.0,969.8 1051.5,985.6 1052.0,972.4 1052.5,978.4 1053.0,981.2 1053.5,973.7 1054.0,979.6 1054.5,975.6 1055.0,983.3 1055.5,985.8 1056.0,974.5 1056.5,988.0 1057.0,974.5 1057.5,992.2 1058.0,985.0 1058.5,991.7 1059.0,980.1 1059.5,995.3 1059.9,987.6 1060.4,1005.3 1060.9,1005.7 1061.4,996.2 1061.9,992.7 1062.4,982.4 1062.9,979.3 1063.4,988.8 1063.9,992.2 1064.4,983.6 1064.9,994.7 1065.4,986.9 1065.9,995.5 1066.4,1005.3 1066.9,992.3 1067.4,1000.5 1067.9,999.2 1068.4,1006.2 1068.9,1007.6 1069.4,1002.3 1069.9,997.8 1070.4,995.2 1070.9,983.6 1071.4,988.0 1071.9,996.7 1072.4,994.1 1072.9,986.3 1073.4,992.6 1073.9,987.4 1074.4,990.1 1074.9,1003.3 1075.4,990.4 1075.9,997.1 1076.4,990.4 1076.9,1017.3 1077.4,1020.2 1077.9,1008.9 1078.4,992.3 1078.9,990.6 1079.4,988.9 1079.9,997.1 1080.4,1004.9 1080.9,1014.2 1081.3,1001.2 1081.8,1006.3 1082.3,997.0 1082.8,999.3 1083.3,1007.7 1083.8,1013.5 1084.3,998.6 1084.8,1007.9 1085.3,999.0 1085.8,1002.4 1086.3,1003.8 1086.8,998.7 1087.3,1011.7 1087.8,1004.2 1088.3,1009.8 1088.8,1021.3 1089.3,1009.8 1089.8,1019.7 1090.3,1004.6 1090.8,1019.8 1091.3,1020.6 1091.8,1018.6 1092.3,1012.8 1092.8,1019.7 1093.3,1017.8 1093.8,1024.7 1094.3,1015.4 1094.8,1008.8 1095.3,1017.3 1095.8,1019.9 1096.3,1023.3 1096.8,1023.4 1097.3,1014.4 1097.8,1021.4 1098.3,1026.8 1098.8,1033.9 1099.3,1028.5 1099.8,1029.4 1100.3,1033.6 1100.8,1046.1 1101.3,1025.6 1101.8,1039.6 1102.3,1028.2 1102.8,1029.6 1103.2,1022.1 1103.7,1028.7 1104.2,1027.0 1104.7,1032.0 1105.2,1022.3 1105.7,1038.4 1106.2,1040.3 1106.7,1034.6 1107.2,1021.1 1107.7,1016.9 1108.2,1039.2 1108.7,1031.7 1109.2,1032.9 1109.7,1040.7 1110.2,1034.1 1110.7,1035.1 1111.2,1022.8 1111.7,1032.8 1112.2,1029.2 1112.7,1016.5 1113.2,1030.9 1113.7,1028.4 1114.2,1020.6 1114.7,1014.4 1115.2,1022.6 1115.7,1017.4 1116.2,1017.0 1116.7,1030.9 1117.2,1038.3 1117.7,1027.9 1118.2,1034.9 1118.7,1031.9 1119.2,1034.7 1119.7,1034.4 1120.2,1033.4 1120.7,1032.3 1121.2,1044.8 1121.7,1028.1 1122.2,1022.3 1122.7,1034.8 1123.2,1036.9 1123.7,1018.8 1124.2,1019.1 1124.6,1026.4 1125.1,1028.8 1125.6,1035.7 1126.1,1023.2 1126.6,1025.8 1127.1,1032.0 1127.6,1024.0 1128.1,1021.1 1128.6,1021.9 1129.1,1025.0 1129.6,1022.4 1130.1,1037.9 1130.6,1050.9 1131.1,1051.1 1131.6,1038.1 1132.1,1026.2 1132.6,1038.0 1133.1,1035.3 1133.6,1028.5 1134.1,1031.1 1134.6,1025.4 1135.1,1017.1 1135.6,1032.5 1136.1,1027.1 1136.6,1047.8 1137.1,1035.4 1137.6,1042.9 1138.1,1032.1 1138.6,1037.5 1139.1,1034.4 1139.6,1019.2 1140.1,1036.4 1140.6,1032.4 1141.1,1023.1 1141.6,1025.2 1142.1,1038.7 1142.6,1032.9 1143.1,1034.1 1143.6,1033.0 1144.1,1027.7 1144.6,1024.4 1145.1,1028.7 1145.6,1023.2 1146.1,1019.4 1146.5,1030.5 1147.0,1012.6 1147.5,1025.2 1148.0,1033.4 1148.5,1025.7 1149.0,1022.5 1149.5,1018.9 1150.0,1015.0 1150.5,1029.3 1151.0,1031.7 1151.5,1034.7 1152.0,1033.4 1152.5,1035.6 1153.0,1027.6 1153.5,1033.0 1154.0,1019.5 1154.5,1032.0 1155.0,1035.1 1155.5,1025.8 1156.0,1022.0 1156.5,1023.4 1157.0,1012.6 1157.5,1028.9 1158.0,1023.5 1158.5,1035.3 1159.0,1016.2 1159.5,1016.4 1160.0,1020.3 1160.5,1024.2 1161.0,1015.2 1161.5,1019.8 1162.0,1021.8 1162.5,1026.3 1163.0,1006.1 1163.5,1004.9 1164.0,1004.0 1164.5,1006.7 1165.0,1014.2 1165.5,1023.5 1166.0,1029.8 1166.5,1024.2 1167.0,1025.7 1167.5,1027.3 1167.9,1026.3 1168.4,1022.8 1168.9,1015.7 1169.4,1015.1 1169.9,1005.1 1170.4,1012.2 1170.9,1026.4 1171.4,1024.9 1171.9,1012.9 1172.4,1004.5 1172.9,1019.8 1173.4,1015.5 1173.9,1033.3 1174.4,1028.4 1174.9,1025.1 1175.4,1020.1 1175.9,1010.3 1176.4,1027.7 1176.9,1025.1 1177.4,1023.3 1177.9,1026.3 1178.4,1022.5 1178.9,1028.6 1179.4,1023.3 1179.9,1017.7 1180.4,1006.2 1180.9,1009.3 1181.4,996.8 1181.9,998.5 1182.4,1001.4 1182.9,1008.1 1183.4,998.7 1183.9,1008.8 1184.4,1006.5 1184.9,1017.4 1185.4,1024.8 1185.9,1015.8 1186.4,1023.0 1186.9,1013.8 1187.4,1004.7 1187.9,996.1 1188.4,1015.1 1188.9,997.0 1189.4,1005.4 1189.8,1002.1 1190.3,997.7 1190.8,1017.3 1191.3,1010.2 1191.8,1006.0 1192.3,1008.3 1192.8,1003.1 1193.3,990.7 1193.8,990.1 1194.3,994.4 1194.8,999.3 1195.3,995.9 1195.8,1002.6 1196.3,989.6 1196.8,993.1 1197.3,1004.0 1197.8,1006.9 1198.3,1012.3 1198.8,1003.3 1199.3,998.1 1199.8,1004.4 1200.3,1012.7 1200.8,1004.5 1201.3,1001.3 1201.8,997.6 1202.3,1015.1 1202.8,1009.2 1203.3,997.9 1203.8,1014.2 1204.3,1011.9 1204.8,1016.0 1205.3,1009.6 1205.8,1007.3 1206.3,1006.9 1206.8,1015.8 1207.3,1005.5 1207.8,1006.4 1208.3,999.0 1208.8,1013.7 1209.3,1003.9 1209.8,997.3 1210.3,998.5 1210.8,998.5 1211.2,1008.5 1211.7,1011.4 1212.2,1014.9 1212.7,996.5 1213.2,1002.9 1213.7,997.6 1214.2,998.1 1214.7,989.2 1215.2,1001.0 1215.7,997.1 1216.2,1009.7 1216.7,990.7 1217.2,1000.6 1217.7,1006.2 1218.2,1002.6 1218.7,1012.3 1219.2,1003.5 1219.7,1000.8 1220.2,999.4 1220.7,1001.7 1221.2,1000.6 1221.7,1005.2 1222.2,985.5 1222.7,1003.0 1223.2,999.5 1223.7,995.5 1224.2,986.8 1224.7,987.8 1225.2,996.4 1225.7,999.0 1226.2,990.8 1226.7,987.7 1227.2,990.3 1227.7,995.9 1228.2,988.3 1228.7,986.2 1229.2,1001.7 1229.7,995.5 1230.2,1003.0 1230.7,997.9 1231.2,995.2 1231.7,991.3 1232.2,997.9 1232.7,992.1 1233.1,993.0 1233.6,988.1 1234.1,997.5 1234.6,964.0 1235.1,997.9 1235.6,998.7 1236.1,1005.7 1236.6,1004.7 1237.1,1012.3 1237.6,1002.6 1238.1,987.0 1238.6,1004.1 1239.1,996.5 1239.6,1016.7 1240.1,1012.5 1240.6,1003.7 1241.1,999.4 1241.6,991.1 1242.1,1002.0 1242.6,992.3 1243.1,1006.3 1243.6,1001.8 1244.1,1007.5 1244.6,1021.3 1245.1,1003.9 1245.6,1004.9 1246.1,1011.5 1246.6,1014.1 1247.1,1014.9 1247.6,1016.9 1248.1,1017.7 1248.6,1022.4 1249.1,1011.4 1249.6,1018.0 1250.1,1010.2 1250.6,997.6 1251.1,1006.4 1251.6,1012.6 1252.1,1018.0 1252.6,1006.0 1253.1,1017.2 1253.6,998.8 1254.1,985.4 1254.5,989.0 1255.0,1001.1 1255.5,993.9 1256.0,990.8 1256.5,1008.5 1257.0,1003.6 1257.5,1013.9 1258.0,1011.5 1258.5,1005.7 1259.0,1013.7 1259.5,1013.3 1260.0,992.0 1260.5,998.4 1261.0,1006.4 1261.5,1009.9 1262.0,1011.9 1262.5,1007.6 1263.0,1009.7 1263.5,1004.4 1264.0,1000.4 1264.5,1004.2 1265.0,1010.4 1265.5,1011.4 1266.0,1002.4 1266.5,1019.5 1267.0,1015.3 1267.5,1004.8 1268.0,1003.5 1268.5,1018.7 1269.0,1017.6 1269.5,1026.8 1270.0,1032.7 1270.5,1015.7 1271.0,1023.4 1271.5,1037.8 1272.0,1030.8 1272.5,1008.0 1273.0,1023.1 1273.5,1008.4 1274.0,1031.9 1274.5,1028.5 1275.0,1029.5 1275.5,1019.7 1276.0,1025.0 1276.4,1026.3 1276.9,1031.4 1277.4,1023.9 1277.9,1026.0 1278.4,1043.0 1278.9,1047.9 1279.4,1045.3 1279.9,1037.7 1280.4,1032.0 1280.9,1030.3 1281.4,1035.4 1281.9,1019.6 1282.4,1023.8 1282.9,1022.2 1283.4,1021.2 1283.9,1031.5 1284.4,1027.7 1284.9,1035.7 1285.4,1036.7 1285.9,1039.1 1286.4,1027.9 1286.9,1028.5 1287.4,1011.5 1287.9,1029.6 1288.4,1020.2 1288.9,1030.6 1289.4,1017.0 1289.9,1040.3 1290.4,1023.6 1290.9,1039.2 1291.4,1023.9 1291.9,1019.4 1292.4,1034.6 1292.9,1030.2 1293.4,1030.8 1293.9,1045.9 1294.4,1049.8 1294.9,1048.7 1295.4,1036.7 1295.9,1039.5 1296.4,1024.6 1296.9,1033.4 1297.4,1024.9 1297.8,1032.4 1298.3,1017.4 1298.8,1022.4 1299.3,1034.8 1299.8,1034.7 1300.3,1058.0 1300.8,1040.3 1301.3,1050.7 1301.8,1032.6 1302.3,1033.4 1302.8,1045.2 1303.3,1031.7 1303.8,1043.4 1304.3,1037.0 1304.8,1058.0 1305.3,1047.4 1305.8,1048.7 1306.3,1045.5 1306.8,1047.8 1307.3,1054.0 1307.8,1043.2 1308.3,1041.3 1308.8,1065.2 1309.3,1048.8 1309.8,1045.8 1310.3,1027.0 1310.8,1032.6 1311.3,1039.1 1311.8,1051.8 1312.3,1045.3 1312.8,1035.4 1313.3,1043.6 1313.8,1055.9 1314.3,1041.9 1314.8,1059.1 1315.3,1049.7 1315.8,1038.7 1316.3,1057.2 1316.8,1050.3 1317.3,1060.0 1317.8,1042.4 1318.3,1058.3 1318.8,1058.0 1319.3,1060.9 1319.7,1043.6 1320.2,1037.6 1320.7,1047.6 1321.2,1043.1 1321.7,1070.9 1322.2,1059.1 1322.7,1053.1 1323.2,1062.1 1323.7,1062.7 1324.2,1065.0 1324.7,1058.3 1325.2,1051.8 1325.7,1061.9 1326.2,1046.2 1326.7,1060.9 1327.2,1051.0 1327.7,1054.2 1328.2,1048.7 1328.7,1047.0 1329.2,1056.6 1329.7,1066.1 1330.2,1058.7 1330.7,1040.6 1331.2,1046.6 1331.7,1042.5 1332.2,1048.8 1332.7,1046.7 1333.2,1046.2 1333.7,1033.2 1334.2,1043.7 1334.7,1047.8 1335.2,1042.8 1335.7,1042.4 1336.2,1040.2 1336.7,1048.8 1337.2,1047.0 1337.7,1046.2 1338.2,1052.8 1338.7,1050.6 1339.2,1049.0 1339.7,1055.1 1340.2,1064.6 1340.7,1078.8 1341.1,1072.8 1341.6,1056.6 1342.1,1058.8 1342.6,1054.8 1343.1,1057.1 1343.6,1046.8 1344.1,1049.1 1344.6,1050.2 1345.1,1067.1 1345.6,1051.2 1346.1,1057.3 1346.6,1039.6 1347.1,1055.1 1347.6,1063.1 1348.1,1065.6 1348.6,1053.2 1349.1,1059.4 1349.6,1057.5 1350.1,1044.0 1350.6,1037.6 1351.1,1060.2 1351.6,1060.6 1352.1,1065.7 1352.6,1054.7 1353.1,1056.7 1353.6,1065.0 1354.1,1070.2 1354.6,1049.3 1355.1,1044.6 1355.6,1037.7 1356.1,1046.5 1356.6,1047.1 1357.1,1051.2 1357.6,1053.5 1358.1,1052.2 1358.6,1047.5 1359.1,1052.9 1359.6,1043.6 1360.1,1037.2 1360.6,1034.3 1361.1,1046.8 1361.6,1055.4 1362.1,1062.3 1362.6,1038.9 1363.0,1050.8 1363.5,1053.8 1364.0,1054.2 1364.5,1047.0 1365.0,1047.8 1365.5,1042.4 1366.0,1047.6 1366.5,1033.7 1367.0,1048.1 1367.5,1037.1 1368.0,1031.0 1368.5,1051.6 1369.0,1049.6 1369.5,1029.9 1370.0,1044.3 1370.5,1033.4 1371.0,1041.1 1371.5,1027.8 1372.0,1024.0 1372.5,1042.0 1373.0,1049.3 1373.5,1041.3 1374.0,1049.6 1374.5,1050.9 1375.0,1052.6 1375.5,1041.5 1376.0,1019.7 1376.5,1027.3 1377.0,1027.4 1377.5,1034.4 1378.0,1039.5 1378.5,1058.6 1379.0,1029.1 1379.5,1043.9 1380.0,1025.3 1380.5,1034.2 1381.0,1030.4 1381.5,1023.1 1382.0,1030.1 1382.5,1029.8 1383.0,1035.3 1383.5,1024.9 1384.0,1035.0 1384.4,1023.0 1384.9,1038.7 1385.4,1030.8 1385.9,1026.6 1386.4,1021.0 1386.9,1022.1 1387.4,1024.9 1387.9,1017.2 1388.4,1006.4 1388.9,1012.7 1389.4,1030.1 1389.9,1029.3 1390.4,1026.0 1390.9,1034.8 1391.4,1023.2 1391.9,1018.8 1392.4,1016.3 1392.9,1015.0 1393.4,1009.6 1393.9,1020.7 1394.4,1017.5 1394.9,1013.9 1395.4,1019.1 1395.9,1023.9 1396.4,1022.7 1396.9,1026.4 1397.4,1018.9 1397.9,1025.4 1398.4,1037.5 1398.9,1018.8 1399.4,1026.5 1399.9,1013.2 1400.4,1010.2 1400.9,1005.6 1401.4,1012.1 1401.9,1023.5 1402.4,1006.0 1402.9,1013.5 1403.4,1026.4 1403.9,1034.2 1404.4,1009.7 1404.9,1006.2 1405.4,998.9 1405.9,997.5 1406.3,1003.1 1406.8,1006.5 1407.3,1005.0 1407.8,999.5 1408.3,1010.0 1408.8,1013.7 1409.3,1013.2 1409.8,1024.8 1410.3,1025.3 1410.8,1005.3 1411.3,1008.5 1411.8,1014.9 1412.3,1022.7 1412.8,1016.5 1413.3,1005.7 1413.8,1015.6 1414.3,1016.3 1414.8,1006.9 1415.3,1026.4 1415.8,1028.4 1416.3,1023.7 1416.8,1021.2 1417.3,1004.8 1417.8,1025.9 1418.3,1011.8 1418.8,1008.5 1419.3,1002.0 1419.8,1011.8 1420.3,1023.2 1420.8,1002.8 1421.3,1007.7 1421.8,1013.5 1422.3,1015.2 1422.8,1018.8 1423.3,1004.9 1423.8,1004.0 1424.3,983.1 1424.8,991.1 1425.3,1001.9 1425.8,1020.6 1426.3,1018.5 1426.8,1009.5 1427.3,1004.2 1427.7,1006.8 1428.2,1004.5 1428.7,997.9 1429.2,999.3 1429.7,1009.9 1430.2,1009.9 1430.7,1011.3 1431.2,1019.5 1431.7,1023.3 1432.2,1002.8 1432.7,1013.1 1433.2,998.9 1433.7,1009.1 1434.2,1004.7 1434.7,1000.2 1435.2,999.0 1435.7,988.6 1436.2,1005.9 1436.7,1001.5 1437.2,1013.3 1437.7,1006.0 1438.2,989.6 1438.7,1000.5 1439.2,997.8 1439.7,1018.2 1440.2,1010.6 1440.7,990.8 1441.2,1001.5 1441.7,1004.1 1442.2,1014.6 1442.7,1006.6 1443.2,1016.5 1443.7,1015.2 1444.2,1024.4 1444.7,967.0 1445.2,1004.0 1445.7,1009.4 1446.2,1022.3 1446.7,1026.6 1447.2,1020.7 1447.7,1012.1 1448.2,1001.1 1448.7,1014.3 1449.2,1026.9 1449.6,1026.1 1450.1,1030.4 1450.6,1019.2 1451.1,1019.8 1451.6,1017.8 1452.1,1015.0 1452.6,1001.1 1453.1,1007.9 1453.6,1023.5 1454.1,1009.9 1454.6,1009.1 1455.1,1003.2 1455.6,1018.2 1456.1,1010.1 1456.6,1004.4 1457.1,1016.5 1457.6,1011.7 1458.1,1020.8 1458.6,1011.6 1459.1,1025.3 1459.6,1008.4 1460.1,1018.6 1460.6,1019.0 1461.1,1015.1 1461.6,1009.4 1462.1,1017.9 1462.6,1013.9 1463.1,1017.3 1463.6,1021.9 1464.1,1028.7 1464.6,1023.9 1465.1,1034.2 1465.6,1013.7 1466.1,1019.4 1466.6,1016.8 1467.1,1016.9 1467.6,1001.8 1468.1,1017.3 1468.6,1006.1 1469.1,1008.6 1469.6,1005.3 1470.1,1018.1 1470.6,1000.8 1471.0,1020.9 1471.5,1017.5 1472.0,1030.6 1472.5,1017.2 1473.0,1026.4 1473.5,1036.6 1474.0,1038.4 1474.5,1028.9 1475.0,1016.7 1475.5,1009.8 1476.0,1030.5 1476.5,1027.6 1477.0,1028.4 1477.5,1019.5 1478.0,1032.8 1478.5,1033.3 1479.0,1028.9 1479.5,1039.6 1480.0,1032.0 1480.5,1040.7 1481.0,1034.7 1481.5,1020.3 1482.0,1027.2 1482.5,1024.0 1483.0,1027.2 1483.5,1026.3 1484.0,1030.4 1484.5,1046.5 1485.0,1049.0 1485.5,1028.3 1486.0,1048.9 1486.5,1037.2 1487.0,1030.9 1487.5,1042.5 1488.0,1056.6 1488.5,1050.9 1489.0,1041.5 1489.5,1040.3 1490.0,1038.6 1490.5,1020.5 1491.0,1035.3 1491.5,1062.6 1492.0,1062.8 1492.5,1044.4 1492.9,1058.5 1493.4,1037.4 1493.9,1064.5 1494.4,1047.8 1494.9,1049.8 1495.4,1042.3 1495.9,1035.6 1496.4,1055.0 1496.9,1071.9 1497.4,1058.9 1497.9,1056.0 1498.4,1053.2 1498.9,1042.7 1499.4,1056.8 1499.9,1043.5 1500.4,1052.5 1500.9,1056.8 1501.4,1056.2 1501.9,1042.5 1502.4,1035.6 1502.9,1042.3 1503.4,1050.5 1503.9,1042.9 1504.4,1055.7 1504.9,1038.6 1505.4,1054.4 1505.9,1053.8 1506.4,1049.8 1506.9,1061.1 1507.4,1053.6 1507.9,1059.1 1508.4,1054.0 1508.9,1044.3 1509.4,1043.9 1509.9,1036.6 1510.4,1058.9 1510.9,1069.3 1511.4,1057.8 1511.9,1040.8 1512.4,1040.8 1512.9,1054.1 1513.4,1036.6 1513.9,1051.2 1514.3,1051.0 1514.8,1063.0 1515.3,1072.3 1515.8,1066.5 1516.3,1058.3 1516.8,1055.9 1517.3,1061.7 1517.8,1046.1 1518.3,1054.9 1518.8,1060.7 1519.3,1065.3 1519.8,1078.5 1520.3,1079.6 1520.8,1064.4 1521.3,1075.3 1521.8,1074.5 1522.3,1077.3 1522.8,1069.2 1523.3,1057.9 1523.8,1055.5 1524.3,1073.8 1524.8,1059.9 1525.3,1071.9 1525.8,1081.9 1526.3,1080.2 1526.8,1073.3 1527.3,1062.6 1527.8,1066.7 1528.3,1052.3 1528.8,1051.7 1529.3,1080.7 1529.8,1065.9 1530.3,1064.9 1530.8,1047.0 1531.3,1075.1 1531.8,1054.8 1532.3,1062.1 1532.8,1056.1 1533.3,1064.8 1533.8,1072.9 1534.3,1073.5 1534.8,1048.4 1535.3,1063.4 1535.8,1066.3 1536.2,1039.4 1536.7,1066.1 1537.2,1059.8 1537.7,1069.5 1538.2,1083.4 1538.7,1069.0 1539.2,1060.9 1539.7,1065.7 1540.2,1068.0 1540.7,1061.3 1541.2,1068.5 1541.7,1081.2 1542.2,1081.1 1542.7,1067.6 1543.2,1058.4 1543.7,1069.8 1544.2,1062.2 1544.7,1064.3 1545.2,1047.3 1545.7,1047.8 1546.2,1057.2 1546.7,1046.5 1547.2,1054.5 1547.7,1044.9 1548.2,1054.9 1548.7,1062.0 1549.2,1050.6 1549.7,1067.5 1550.2,1070.1 1550.7,1064.1 1551.2,1064.4 1551.7,1057.0 1552.2,1068.3 1552.7,1073.1 1553.2,1051.4 1553.7,1085.4 1554.2,1065.7 1554.7,1051.3 1555.2,1071.3 1555.7,1076.6 1556.2,1058.7 1556.7,1051.6 1557.2,1074.4 1557.6,1064.2 1558.1,1067.8 1558.6,1068.8 1559.1,1058.3 1559.6,1055.9 1560.1,1059.9 1560.6,1070.3 1561.1,1058.2 1561.6,1062.4 1562.1,1064.2 1562.6,1063.5 1563.1,1068.1 1563.6,1076.2 1564.1,1052.8 1564.6,1063.3 1565.1,1057.2 1565.6,1067.7 1566.1,1065.3 1566.6,1075.9 1567.1,1066.0 1567.6,1065.2 1568.1,1059.8 1568.6,1046.4 1569.1,1063.0 1569.6,1046.6 1570.1,1059.7 1570.6,1045.4 1571.1,1062.8 1571.6,1048.7 1572.1,1045.0 1572.6,1071.8 1573.1,1054.4 1573.6,1046.4 1574.1,1040.1 1574.6,1049.1 1575.1,1051.4 1575.6,1047.3 1576.1,1048.3 1576.6,1063.1 1577.1,1047.1 1577.6,1060.4 1578.1,1047.1 1578.6,1047.5 1579.0,1045.6 1579.5,1031.3 1580.0,1036.0 1580.5,1038.2 1581.0,1026.4 1581.5,1032.0 1582.0,1029.0 1582.5,1023.3 1583.0,1035.8 1583.5,1044.7 1584.0,1030.8 1584.5,1042.3 1585.0,1055.2 1585.5,1040.3 1586.0,1050.2 1586.5,1051.0 1587.0,1042.0 1587.5,1023.3 1588.0,1033.9 1588.5,1033.4 1589.0,1046.9 1589.5,1032.4 1590.0,1038.3 1590.5,1020.7 1591.0,1037.5 1591.5,1051.3 1592.0,1039.8 1592.5,1042.6 1593.0,1041.8 1593.5,1048.0 1594.0,1043.2 1594.5,1039.7 1595.0,1038.6 1595.5,1043.3 1596.0,1034.1 1596.5,1037.3 1597.0,1023.9 1597.5,1042.8 1598.0,1051.4 1598.5,1065.0 1599.0,1050.3 1599.5,1038.2 1600.0,1056.1 1600.5,1042.6 1600.9,1041.7 1601.4,1032.6 1601.9,1034.1 1602.4,1059.6 1602.9,1039.8 1603.4,1028.6 1603.9,1031.6 1604.4,1041.0 1604.9,1055.4 1605.4,1029.1 1605.9,1031.1 1606.4,1018.6 1606.9,1020.5 1607.4,1030.2 1607.9,1043.5 1608.4,1042.7 1608.9,1046.3 1609.4,1029.4 1609.9,1030.5 1610.4,1047.0 1610.9,1051.8 1611.4,1034.0 1611.9,1046.3 1612.4,1037.7 1612.9,1011.5 1613.4,1013.5 1613.9,1022.3 1614.4,1019.7 1614.9,1016.9 1615.4,1026.0 1615.9,1017.7 1616.4,1024.2 1616.9,1032.9 1617.4,1028.3 1617.9,1042.4 1618.4,1039.4 1618.9,1031.0 1619.4,1022.6 1619.9,1034.0 1620.4,1029.4 1620.9,1040.1 1621.4,1033.8 1621.9,1045.4 1622.3,1026.7 1622.8,1034.3 1623.3,1022.5 1623.8,1022.4 1624.3,1040.8 1624.8,1040.1 1625.3,1047.8 1625.8,1050.6 1626.3,1032.9 1626.8,1034.6 1627.3,1030.4 1627.8,1037.2 1628.3,1030.3 1628.8,1024.4 1629.3,1028.5 1629.8,1015.9 1630.3,1034.5 1630.8,1043.9 1631.3,1046.2 1631.8,1040.0 1632.3,1031.8 1632.8,1035.8 1633.3,1031.3 1633.8,1021.4 1634.3,1017.7 1634.8,1012.1 1635.3,1017.3 1635.8,1017.9 1636.3,1011.1 1636.8,1027.8 1637.3,1017.8 1637.8,1042.5 1638.3,1037.7 1638.8,1035.1 1639.3,1034.5 1639.8,1017.6 1640.3,1043.8 1640.8,1025.2 1641.3,1025.0 1641.8,1022.5 1642.3,1022.7 1642.8,1022.1 1643.3,1019.4 1643.8,1030.6 1644.2,1016.3 1644.7,1006.2 1645.2,1034.5 1645.7,1013.4 1646.2,1033.1 1646.7,1033.4 1647.2,1025.2 1647.7,1025.1 1648.2,1025.7 1648.7,1029.4 1649.2,1038.1 1649.7,1038.4 1650.2,1031.6 1650.7,1016.3 1651.2,1017.2 1651.7,1014.4 1652.2,1015.6 1652.7,1029.7 1653.2,1025.0 1653.7,1026.5 1654.2,1049.9 1654.7,1042.5 1655.2,1044.6 1655.7,1044.5 1656.2,1029.9 1656.7,1051.8 1657.2,1030.1 1657.7,1031.4 1658.2,1037.2 1658.7,1031.6 1659.2,1044.2 1659.7,1050.6 1660.2,1036.5 1660.7,1049.0 1661.2,1046.3 1661.7,1038.8 1662.2,1048.2 1662.7,1034.8 1663.2,1053.8 1663.7,1028.4 1664.2,1036.7 1664.7,1031.1 1665.2,1039.4 1665.6,1042.5 1666.1,1019.0 1666.6,1037.1 1667.1,1032.2 1667.6,1018.3 1668.1,1023.9 1668.6,1055.0 1669.1,1034.8 1669.6,1033.0 1670.1,1049.9 1670.6,1048.4 1671.1,1036.2 1671.6,1042.9 1672.1,1044.3 1672.6,1056.3 1673.1,1044.1 1673.6,1046.6 1674.1,1042.9 1674.6,1038.1 1675.1,1046.1 1675.6,1058.7 1676.1,1048.7 1676.6,1031.0 1677.1,1045.5 1677.6,1040.5 1678.1,1029.9 1678.6,1015.2 1679.1,1054.9 1679.6,1026.0 1680.1,1039.5 1680.6,1036.1 1681.1,1050.6 1681.6,1036.2 1682.1,1015.2 1682.6,1053.1 1683.1,1027.0 1683.6,1045.1 1684.1,1036.9 1684.6,1059.3 1685.1,1047.3 1685.6,1037.1 1686.1,1040.0 1686.6,1037.0 1687.1,1038.8 1687.5,1031.2 1688.0,1029.3 1688.5,1017.4 1689.0,1053.0 1689.5,1055.3 1690.0,1042.6 1690.5,1057.9 1691.0,1074.0 1691.5,1071.5 1692.0,1070.4 1692.5,1056.8 1693.0,1047.0 1693.5,1057.6 1694.0,1050.3 1694.5,1056.7 1695.0,1070.2 1695.5,1072.9 1696.0,1051.8 1696.5,1031.7 1697.0,1037.9 1697.5,1034.0 1698.0,1037.5 1698.5,1045.6 1699.0,1064.0 1699.5,1055.6 1700.0,1047.2 1700.5,1056.8 1701.0,1054.5 1701.5,1066.2 1702.0,1065.1 1702.5,1061.3 1703.0,1064.4 1703.5,1053.4 1704.0,1047.4 1704.5,1075.3 1705.0,1057.7 1705.5,1055.4 1706.0,1065.3 1706.5,1055.7 1707.0,1047.4 1707.5,1065.5 1708.0,1060.1 1708.5,1067.5 1708.9,1058.1 1709.4,1067.6 1709.9,1047.4 1710.4,1042.7 1710.9,1070.1 1711.4,1058.8 1711.9,1076.5 1712.4,1063.6 1712.9,1078.1 1713.4,1068.4 1713.9,1076.0 1714.4,1059.6 1714.9,1064.7 1715.4,1080.4 1715.9,1057.6 1716.4,1049.0 1716.9,1065.4 1717.4,1077.1 1717.9,1065.1 1718.4,1052.1 1718.9,1067.7 1719.4,1071.8 1719.9,1064.2 1720.4,1072.3 1720.9,1068.2 1721.4,1071.7 1721.9,1073.9 1722.4,1048.1 1722.9,1070.3 1723.4,1076.0 1723.9,1072.7 1724.4,1063.3 1724.9,1084.9 1725.4,1080.9 1725.9,1083.4 1726.4,1079.1 1726.9,1079.0 1727.4,1090.9 1727.9,1086.4 1728.4,1076.0 1728.9,1075.7 1729.4,1076.7 1729.9,1086.3 1730.4,1107.9 1730.8,1094.2 1731.3,1073.0 1731.8,1097.1 1732.3,1087.1 1732.8,1084.6 1733.3,1077.8 1733.8,1082.6 1734.3,1065.4 1734.8,1083.0 1735.3,1070.4 1735.8,1075.2 1736.3,1091.9 1736.8,1075.9 1737.3,1104.0 1737.8,1066.3 1738.3,1064.0 1738.8,1072.1 1739.3,1100.5 1739.8,1090.7 1740.3,1087.1 1740.8,1068.4 1741.3,1073.6 1741.8,1070.1 1742.3,1070.8 1742.8,1067.3 1743.3,1084.1 1743.8,1062.1 1744.3,1072.2 1744.8,1076.7 1745.3,1080.7 1745.8,1081.2 1746.3,1071.1 1746.8,1067.8 1747.3,1081.9 1747.8,1070.9 1748.3,1083.9 1748.8,1074.5 1749.3,1067.7 1749.8,1060.0 1750.3,1066.7 1750.8,1068.0 1751.3,1080.2 1751.8,1095.4 1752.2,1085.6 1752.7,1076.4 1753.2,1062.7 1753.7,1053.8 1754.2,1063.9 1754.7,1059.1 1755.2,1070.8 1755.7,1061.9 1756.2,1065.4 1756.7,1075.4 1757.2,1063.9 1757.7,1063.8 1758.2,1067.8 1758.7,1069.1 1759.2,1081.2 1759.7,1087.2 1760.2,1097.6 1760.7,1091.4 1761.2,1074.1 1761.7,1070.8 1762.2,1069.5 1762.7,1096.3 1763.2,1071.7 1763.7,1100.1 1764.2,1075.7 1764.7,1075.2 1765.2,1086.0 1765.7,1079.5 1766.2,1078.4 1766.7,1074.5 1767.2,1065.1 1767.7,1079.0 1768.2,1079.0 1768.7,1090.2 1769.2,1072.6 1769.7,1081.7 1770.2,1094.3 1770.7,1088.3 1771.2,1063.6 1771.7,1066.0 1772.2,1060.9 1772.7,1064.7 1773.2,1083.5 1773.7,1072.6 1774.1,1071.4 1774.6,1059.3 1775.1,1076.2 1775.6,1050.1 1776.1,1058.8 1776.6,1062.0 1777.1,1057.8 1777.6,1073.8 1778.1,1051.2 1778.6,1054.4 1779.1,1055.1 1779.6,1065.3 1780.1,1060.0 1780.6,1058.4 1781.1,1038.3 1781.6,1053.7 1782.1,1050.1 1782.6,1049.5 1783.1,1053.6 1783.6,1043.3 1784.1,1060.1 1784.6,1039.5 1785.1,1046.2 1785.6,1046.9 1786.1,1050.8 1786.6,1047.2 1787.1,1050.4 1787.6,1046.8 1788.1,1044.5 1788.6,1045.4 1789.1,1038.6 1789.6,1047.6 1790.1,1018.2 1790.6,1015.4 1791.1,1031.7 1791.6,1020.3 1792.1,1031.1 1792.6,1038.4 1793.1,1015.7 1793.6,1036.0 1794.1,1056.9 1794.6,1052.9 1795.1,1070.9 1795.5,1056.9 1796.0,1056.6 1796.5,1056.7 1797.0,1050.0 1797.5,1054.6 1798.0,1036.8 1798.5,1038.1 1799.0,1047.4 1799.5,1041.0 1800.0,1043.8 1800.5,1043.2 1801.0,1028.8 1801.5,1031.0 1802.0,1038.5 1802.5,1042.7 1803.0,1039.0 1803.5,1026.5 1804.0,1048.0 1804.5,1028.2 1805.0,1030.0 1805.5,1041.4 1806.0,1030.0 1806.5,1023.8 1807.0,1011.7 1807.5,1028.7 1808.0,1038.1 1808.5,1034.5 1809.0,1032.7 1809.5,1031.5 1810.0,1013.8 1810.5,1023.3 1811.0,1039.0 1811.5,1019.4 1812.0,1039.5 1812.5,1011.7 1813.0,1019.5 1813.5,1025.6 1814.0,1023.5 1814.5,1026.2 1815.0,1024.7 1815.5,1022.3 1816.0,1024.8 1816.5,1038.0 1817.0,1036.5 1817.4,1027.2 1817.9,1029.4 1818.4,1026.3 1818.9,1033.4 1819.4,1002.6 1819.9,1022.7 1820.4,1018.6 1820.9,1024.7 1821.4,1027.2 1821.9,1025.1 1822.4,998.5 1822.9,1023.5 1823.4,1023.8 1823.9,1030.1 1824.4,1018.6 1824.9,1011.7 1825.4,1021.2 1825.9,997.8 1826.4,1003.5 1826.9,1020.5 1827.4,1031.9 1827.9,1007.5 1828.4,1028.9 1828.9,1034.5 1829.4,1019.8 1829.9,1026.8 1830.4,1032.7 1830.9,1027.7 1831.4,1023.3 1831.9,1025.6 1832.4,1032.8 1832.9,1018.8 1833.4,1032.0 1833.9,1031.1 1834.4,1040.4 1834.9,1042.0 1835.4,1018.2 1835.9,1017.0 1836.4,1024.7 1836.9,1028.2 1837.4,1046.3 1837.9,1031.7 1838.4,1022.6 1838.8,1034.0 1839.3,1037.1 1839.8,1035.8 1840.3,1037.2 1840.8,1039.4 1841.3,1034.9 1841.8,1039.7 1842.3,1029.4 1842.8,1020.8 1843.3,1022.3 1843.8,1021.8 1844.3,1025.7 1844.8,1023.4 1845.3,1032.1 1845.8,1013.3 1846.3,1041.0 1846.8,1039.8 1847.3,1040.7 1847.8,1049.8 1848.3,1023.0 1848.8,1016.1 1849.3,1035.4 1849.8,1039.2 1850.3,1026.4 1850.8,1027.4 1851.3,1008.6 1851.8,1017.3 1852.3,986.2 1852.8,1046.3 1853.3,1047.4 1853.8,1036.2 1854.3,1033.0 1854.8,1028.6 1855.3,998.3 1855.8,1015.0 1856.3,1009.9 1856.8,1018.6 1857.3,1024.2 1857.8,1032.1 1858.3,1017.9 1858.8,1012.3 1859.3,1047.2 1859.8,1023.0 1860.3,1025.0 1860.7,1028.3 1861.2,1033.7 1861.7,1030.6 1862.2,1034.1 1862.7,1024.7 1863.2,1028.8 1863.7,1053.5 1864.2,1044.5 1864.7,1052.7 1865.2,1046.5 1865.7,1040.8 1866.2,1047.7 1866.7,1027.8 1867.2,1041.2 1867.7,1038.0 1868.2,1022.0 1868.7,1051.2 1869.2,1033.9 1869.7,1033.5 1870.2,1036.1 1870.7,1050.9 1871.2,1030.0 1871.7,1044.7 1872.2,1040.5 1872.7,1049.7 1873.2,1049.9 1873.7,1037.2 1874.2,1058.7 1874.7,1062.4 1875.2,1058.4 1875.7,1054.4 1876.2,1037.5 1876.7,1025.5 1877.2,1021.7 1877.7,1050.4 1878.2,1039.7 1878.7,1021.3 1879.2,1022.3 1879.7,1034.0 1880.2,1031.4 1880.7,1033.6 1881.2,1039.5 1881.7,1043.4 1882.1,1031.1 1882.6,1020.5 1883.1,1027.3 1883.6,1030.5 1884.1,1035.5 1884.6,1059.4 1885.1,1052.3 1885.6,1028.4 1886.1,1031.9 1886.6,1029.5 1887.1,1036.7 1887.6,1055.3 1888.1,1048.2 1888.6,1067.0 1889.1,1052.0 1889.6,1056.3 1890.1,1065.3 1890.6,1066.5 1891.1,1060.6 1891.6,1048.9 1892.1,1052.4 1892.6,1056.9 1893.1,1050.2 1893.6,1052.4 1894.1,1035.1 1894.6,1048.1 1895.1,1054.5 1895.6,1043.4 1896.1,1044.2 1896.6,1020.5 1897.1,1032.6 1897.6,1036.0 1898.1,1032.2 1898.6,1049.1 1899.1,1056.1 1899.6,1052.9 1900.1,1064.2 1900.6,1053.7 1901.1,1066.9 1901.6,1061.3 1902.1,1062.4 1902.6,1044.4 1903.1,1035.8 1903.6,1036.7 1904.0,1038.0 1904.5,1050.0 1905.0,1052.8 1905.5,1054.7 1906.0,1054.1 1906.5,1056.0 1907.0,1082.0 1907.5,1048.8 1908.0,1038.6 1908.5,1043.0 1909.0,1030.2 1909.5,1039.2 1910.0,1048.8 1910.5,1051.4 1911.0,1050.1 1911.5,1062.7 1912.0,1038.8 1912.5,1071.7 1913.0,1057.7 1913.5,1052.6 1914.0,1056.6 1914.5,1069.9 1915.0,1045.6 1915.5,1079.1 1916.0,1056.0 1916.5,1067.9 1917.0,1062.2 1917.5,1053.7 1918.0,1069.6 1918.5,1062.1 1919.0,1081.3 1919.5,1083.9 1920.0,1070.7 1920.5,1052.1 1921.0,1071.4 1921.5,1075.4 1922.0,1064.1 1922.5,1056.5 1923.0,1058.8 1923.5,1055.0 1924.0,1061.1 1924.5,1060.8 1925.0,1079.1 1925.4,1070.6 1925.9,1066.3 1926.4,1064.0 1926.9,1058.0 1927.4,1060.0 1927.9,1066.0 1928.4,1056.9 1928.9,1056.9 1929.4,1067.3 1929.9,1058.2 1930.4,1073.2 1930.9,1064.1 1931.4,1050.4 1931.9,1073.5 1932.4,1059.3 1932.9,1069.4 1933.4,1058.8 1933.9,1059.8 1934.4,1054.9 1934.9,1066.2 1935.4,1075.7 1935.9,1051.7 1936.4,1077.3 1936.9,1078.4 1937.4,1070.6 1937.9,1095.1 1938.4,1078.2 1938.9,1077.0 1939.4,1076.1 1939.9,1089.7 1940.4,1078.0 1940.9,1061.1 1941.4,1102.3 1941.9,1071.5 1942.4,1086.3 1942.9,1077.8 1943.4,1089.3 1943.9,1061.7 1944.4,1075.0 1944.9,1081.0 1945.4,1082.5 1945.9,1063.5 1946.4,1053.9 1946.9,1079.3 1947.3,1085.3 1947.8,1076.1 1948.3,1094.5 1948.8,1089.4 1949.3,1093.2 1949.8,1079.8 1950.3,1070.8 1950.5,1083.6"/>
<polyline fill="none" stroke="#ff00ff" stroke-width="2.1" stroke-linejoin="bevel" points="291.5,-1.5 292.0,333.4 292.5,353.4 293.0,313.3 293.5,315.1 294.0,355.0 294.5,395.5 295.0,405.2 295.5,366.4 296.0,301.9 296.5,254.8 297.0,173.0 297.5,254.1 298.0,295.3 298.5,219.1 299.0,316.4 299.5,306.6 300.0,301.0 300.5,378.3 301.0,396.1 301.5,449.4 302.0,427.4 302.4,398.7 302.9,505.4 303.4,415.2 303.9,452.6 304.4,438.0 304.9,450.2 305.4,603.7 305.9,510.8 306.4,490.2 306.9,797.7 307.4,524.8 307.9,486.4 308.4,365.7 308.9,533.1 309.4,490.1 309.9,469.7 310.4,497.2 310.9,630.8 311.4,464.5 311.9,382.1 312.4,385.9 312.9,460.5 313.4,463.2 313.9,420.6 314.4,586.3 314.9,437.2 315.4,632.4 315.9,518.4 316.4,452.0 316.9,466.9 317.4,539.0 317.9,447.8 318.4,566.6 318.9,453.4 319.4,462.2 319.9,461.0 320.4,411.1 320.9,374.5 321.4,434.2 321.9,489.5 322.4,542.7 322.9,423.9 323.4,441.3 323.9,446.8 324.3,390.6 324.8,396.0 325.3,356.0 325.8,334.9 326.3,189.1 326.8,385.3 327.3,457.3 327.8,517.5 328.3,531.5 328.8,590.4 329.3,632.3 329.8,614.5 330.3,604.7 330.8,645.1 331.3,647.1 331.8,609.5 332.3,585.3 332.8,461.5 333.3,475.1 333.8,502.3 334.3,540.4 334.8,565.4 335.3,564.5 335.8,604.7 336.3,573.1 336.8,589.8 337.3,580.0 337.8,593.9 338.3,590.1 338.8,614.9 339.3,596.8 339.8,634.2 340.3,646.5 340.8,610.0 341.3,601.6 341.8,616.6 342.3,596.3 342.8,601.2 343.3,608.6 343.8,611.7 344.3,619.7 344.8,621.8 345.3,612.8 345.7,638.9 346.2,623.8 346.7,633.9 347.2,619.9 347.7,610.0 348.2,598.1 348.7,626.3 349.2,640.2 349.7,599.0 350.2,627.4 350.7,606.4 351.2,596.9 351.7,649.7 352.2,627.9 352.7,632.7 353.2,635.8 353.7,639.4 354.2,627.4 354.7,588.4 355.2,621.8 355.7,630.1 356.2,631.2 356.7,628.6 357.2,637.0 357.7,633.5 358.2,636.6 358.7,640.0 359.2,621.6 359.7,612.4 360.2,605.4 360.7,609.3 361.2,500.9 361.7,814.5 362.2,649.0 362.7,677.8 363.2,662.4 363.7,666.5 364.2,662.9 364.7,678.0 365.2,668.0 365.7,670.9 366.2,678.1 366.7,679.4 367.2,669.7 367.6,673.5 368.1,759.7 368.6,601.3 369.1,635.3 369.6,631.2 370.1,620.3 370.6,630.8 371.1,631.5 371.6,649.4 372.1,638.4 372.6,643.3 373.1,638.3 373.6,642.2 374.1,643.4 374.6,655.1 375.1,661.6 375.6,671.5 376.1,678.1 376.6,664.7 377.1,670.9 377.6,668.7 378.1,668.8 378.6,674.8 379.1,674.0 379.6,678.0 380.1,674.0 380.6,670.4 381.1,677.7 381.6,689.9 382.1,671.9 382.6,686.3 383.1,689.2 383.6,674.6 384.1,677.3 384.6,695.5 385.1,689.4 385.6,689.2 386.1,689.5 386.6,693.5 387.1,693.6 387.6,705.8 388.1,685.6 388.6,690.4 389.0,653.1 389.5,685.7 390.0,688.3 390.5,674.8 391.0,679.9 391.5,684.3 392.0,663.7 392.5,669.3 393.0,670.4 393.5,663.7 394.0,656.2 394.5,643.3 395.0,632.2 395.5,635.8 396.0,655.8 396.5,538.9 397.0,835.8 397.5,754.0 398.0,740.7 398.5,748.4 399.0,765.4 399.5,743.5 400.0,751.2 400.5,753.3 401.0,744.9 401.5,745.8 402.0,742.8 402.5,736.1 403.0,742.6 403.5,733.6 404.0,727.3 404.5,715.9 405.0,718.2 405.5,718.7 406.0,703.9 406.5,728.0 407.0,716.6 407.5,724.6 408.0,707.5 408.5,729.2 409.0,712.6 409.5,724.9 410.0,733.2 410.5,734.7 410.9,737.5 411.4,727.8 411.9,740.0 412.4,726.8 412.9,726.5 413.4,742.9 413.9,744.2 414.4,745.9 414.9,732.1 415.4,767.3 415.9,759.2 416.4,741.2 416.9,733.6 417.4,752.9 417.9,742.4 418.4,752.0 418.9,748.5 419.4,740.3 419.9,736.6 420.4,734.6 420.9,750.0 421.4,744.2 421.9,745.2 422.4,745.9 422.9,706.4 423.4,741.3 423.9,744.8 424.4,738.2 424.9,743.8 425.4,750.1 425.9,749.4 426.4,757.9 426.9,739.7 427.4,745.5 427.9,737.7 428.4,744.6 428.9,742.9 429.4,740.7 429.9,732.4 430.4,746.3 430.9,683.5 431.4,774.9 431.9,745.5 432.3,748.5 432.8,748.8 433.3,750.8 433.8,744.1 434.3,743.3 434.8,751.8 435.3,743.1 435.8,764.4 436.3,751.6 436.8,737.2 437.3,752.2 437.8,765.6 438.3,744.0 438.8,743.8 439.3,747.2 439.8,744.2 440.3,751.4 440.8,735.2 441.3,742.9 441.8,758.0 442.3,756.8 442.8,758.7 443.3,766.0 443.8,764.6 444.3,765.4 444.8,759.7 445.3,779.6 445.8,768.0 446.3,758.5 446.8,764.8 447.3,770.5 447.8,769.2 448.3,778.4 448.8,776.9 449.3,774.2 449.8,767.8 450.3,784.9 450.8,785.5 451.3,786.3 451.8,779.6 452.3,783.4 452.8,793.5 453.3,789.5 453.8,767.0 454.2,795.9 454.7,784.8 455.2,803.0 455.7,791.3 456.2,781.0 456.7,785.1 457.2,792.8 457.7,789.8 458.2,796.2 458.7,787.2 459.2,783.2 459.7,795.6 460.2,797.0 460.7,793.2 461.2,793.1 461.7,815.3 462.2,797.5 462.7,803.0 463.2,797.1 463.7,787.3 464.2,785.5 464.7,786.9 465.2,799.4 465.7,789.6 466.2,650.0 466.7,982.0 467.2,797.2 467.7,800.5 468.2,816.7 468.7,799.3 469.2,808.7 469.7,799.7 470.2,811.7 470.7,811.9 471.2,818.3 471.7,816.3 472.2,818.4 472.7,822.2 473.2,820.6 473.7,829.8 474.2,827.2 474.7,819.3 475.2,816.5 475.6,822.2 476.1,823.8 476.6,816.0 477.1,820.1 477.6,826.7 478.1,827.4 478.6,827.3 479.1,831.2 479.6,822.6 480.1,830.9 480.6,824.3 481.1,837.8 481.6,837.0 482.1,827.1 482.6,834.6 483.1,846.3 483.6,843.6 484.1,831.5 484.6,832.7 485.1,845.8 485.6,841.9 486.1,842.4 486.6,832.4 487.1,836.4 487.6,844.8 488.1,830.5 488.6,834.7 489.1,820.1 489.6,835.6 490.1,826.6 490.6,842.5 491.1,838.4 491.6,842.9 492.1,826.0 492.6,838.4 493.1,832.9 493.6,846.3 494.1,825.8 494.6,834.2 495.1,836.3 495.6,843.3 496.1,838.3 496.6,823.9 497.1,830.0 497.5,834.9 498.0,823.9 498.5,843.1 499.0,841.5 499.5,835.5 500.0,839.4 500.5,839.6 501.0,832.1 501.5,839.6 502.0,834.2 502.5,844.4 503.0,842.2 503.5,842.0 504.0,842.7 504.5,847.7 505.0,848.4 505.5,839.0 506.0,853.2 506.5,852.3 507.0,849.4 507.5,858.1 508.0,854.6 508.5,849.0 509.0,846.4 509.5,841.8 510.0,845.6 510.5,837.0 511.0,842.6 511.5,839.3 512.0,862.8 512.5,844.9 513.0,838.9 513.5,846.9 514.0,853.3 514.5,846.9 515.0,843.7 515.5,826.4 516.0,834.0 516.5,833.5 517.0,832.9 517.5,854.3 518.0,853.0 518.5,862.6 518.9,839.5 519.4,851.2 519.9,851.3 520.4,837.0 520.9,849.3 521.4,834.3 521.9,844.7 522.4,840.9 522.9,847.7 523.4,827.1 523.9,841.0 524.4,840.8 524.9,839.0 525.4,839.8 525.9,843.2 526.4,840.5 526.9,834.2 527.4,831.9 527.9,844.6 528.4,832.4 528.9,853.0 529.4,837.9 529.9,850.3 530.4,840.7 530.9,838.5 531.4,852.0 531.9,839.8 532.4,854.9 532.9,850.7 533.4,843.3 533.9,835.0 534.4,836.9 534.9,841.1 535.4,837.8 535.9,720.0 536.4,952.0 536.9,846.2 537.4,836.9 537.9,854.7 538.4,844.2 538.9,848.4 539.4,835.9 539.9,846.4 540.4,837.0 540.8,849.9 541.3,856.8 541.8,852.3 542.3,844.8 542.8,848.1 543.3,836.9 543.8,848.9 544.3,841.2 544.8,850.0 545.3,854.8 545.8,851.9 546.3,840.6 546.8,844.3 547.3,851.6 547.8,838.0 548.3,844.2 548.8,842.8 549.3,831.8 549.8,842.3 550.3,837.2 550.8,849.1 551.3,834.8 551.8,837.4 552.3,855.9 552.8,846.4 553.3,837.3 553.8,849.0 554.3,846.4 554.8,844.7 555.3,844.0 555.8,839.4 556.3,829.6 556.8,824.9 557.3,835.3 557.8,842.2 558.3,844.7 558.8,829.3 559.3,830.1 559.8,846.4 560.3,848.8 560.8,844.4 561.3,842.3 561.8,851.2 562.2,842.8 562.7,841.0 563.2,828.4 563.7,832.0 564.2,848.1 564.7,846.8 565.2,835.5 565.7,842.9 566.2,843.3 566.7,834.1 567.2,839.2 567.7,834.5 568.2,839.0 568.7,834.7 569.2,842.2 569.7,828.9 570.2,835.2 570.7,839.2 571.2,848.0 571.7,850.2 572.2,852.1 572.7,849.3 573.2,841.4 573.7,846.1 574.2,835.4 574.7,830.1 575.2,841.9 575.7,841.2 576.2,851.6 576.7,846.9 577.2,856.8 577.7,850.9 578.2,844.7 578.7,845.4 579.2,844.4 579.7,822.5 580.2,830.6 580.7,839.5 581.2,853.4 581.7,841.0 582.2,844.2 582.7,839.0 583.2,835.6 583.6,839.3 584.1,840.1 584.6,839.1 585.1,844.3 585.6,840.5 586.1,843.3 586.6,845.0 587.1,852.8 587.6,856.5 588.1,840.9 588.6,836.5 589.1,825.8 589.6,836.0 590.1,848.4 590.6,843.9 591.1,834.3 591.6,841.9 592.1,836.0 592.6,835.9 593.1,845.6 593.6,842.6 594.1,837.0 594.6,833.3 595.1,824.8 595.6,829.2 596.1,841.1 596.6,840.2 597.1,839.3 597.6,822.3 598.1,845.0 598.6,830.4 599.1,850.6 599.6,844.9 600.1,825.6 600.6,849.7 601.1,846.4 601.6,844.2 602.1,834.4 602.6,833.6 603.1,822.7 603.6,834.1 604.1,836.1 604.6,834.0 605.1,845.0 605.5,835.0 606.0,757.0 606.5,908.0 607.0,836.0 607.5,846.4 608.0,848.1 608.5,839.7 609.0,857.7 609.5,845.9 610.0,846.7 610.5,847.1 611.0,848.2 611.5,849.8 612.0,848.2 612.5,851.8 613.0,852.3 613.5,850.1 614.0,846.6 614.5,841.1 615.0,837.7 615.5,855.5 616.0,844.2 616.5,834.7 617.0,842.6 617.5,837.6 618.0,858.4 618.5,842.2 619.0,860.2 619.5,863.1 620.0,852.6 620.5,859.5 621.0,844.4 621.5,857.9 622.0,868.0 622.5,855.1 623.0,851.8 623.5,856.9 624.0,858.6 624.5,854.6 625.0,859.3 625.5,856.3 626.0,864.3 626.5,857.9 626.9,846.6 627.4,843.6 627.9,861.5 628.4,851.3 628.9,859.8 629.4,866.1 629.9,860.2 630.4,874.4 630.9,860.7 631.4,870.3 631.9,882.1 632.4,856.2 632.9,863.3 633.4,856.7 633.9,869.5 634.4,874.4 634.9,874.9 635.4,876.9 635.9,857.6 636.4,864.1 636.9,875.1 637.4,876.7 637.9,874.0 638.4,886.6 638.9,861.2 639.4,858.9 639.9,869.9 640.4,860.6 640.9,872.0 641.4,864.3 641.9,875.9 642.4,877.1 642.9,888.0 643.4,886.6 643.9,884.8 644.4,877.9 644.9,873.1 645.4,880.5 645.9,876.4 646.4,883.3 646.9,892.0 647.4,883.8 647.9,869.6 648.4,879.1 648.8,881.0 649.3,884.7 649.8,896.0 650.3,904.4 650.8,892.8 651.3,904.0 651.8,906.6 652.3,898.1 652.8,888.7 653.3,898.0 653.8,896.6 654.3,895.5 654.8,906.9 655.3,899.8 655.8,912.5 656.3,885.3 656.8,902.9 657.3,898.7 657.8,899.8 658.3,895.2 658.8,899.6 659.3,897.2 659.8,909.5 660.3,895.1 660.8,896.1 661.3,901.4 661.8,904.3 662.3,891.0 662.8,893.1 663.3,897.9 663.8,888.3 664.3,892.0 664.8,895.1 665.3,900.9 665.8,896.4 666.3,910.6 666.8,916.5 667.3,910.0 667.8,908.9 668.3,894.0 668.8,902.1 669.3,912.2 669.8,921.0 670.2,911.5 670.7,908.9 671.2,907.4 671.7,897.7 672.2,909.7 672.7,912.6 673.2,903.6 673.7,926.0 674.2,908.7 674.7,896.4 675.2,896.2 675.7,818.0 676.2,919.7 676.7,920.9 677.2,919.2 677.7,927.9 678.2,931.0 678.7,910.6 679.2,924.3 679.7,924.2 680.2,920.0 680.7,924.0 681.2,913.1 681.7,923.6 682.2,937.4 682.7,916.2 683.2,918.3 683.7,929.4 684.2,935.7 684.7,909.4 685.2,922.4 685.7,925.7 686.2,914.0 686.7,922.0 687.2,927.0 687.7,933.5 688.2,936.3 688.7,932.7 689.2,927.9 689.7,935.6 690.2,939.9 690.7,931.4 691.2,942.6 691.7,928.6 692.1,937.8 692.6,930.4 693.1,932.6 693.6,921.0 694.1,944.5 694.6,921.7 695.1,928.1 695.6,939.0 696.1,927.2 696.6,921.9 697.1,922.1 697.6,930.9 698.1,925.2 698.6,926.5 699.1,938.3 699.6,923.2 700.1,923.7 700.6,916.7 701.1,928.0 701.6,934.4 702.1,920.7 702.6,929.0 703.1,943.3 703.6,930.8 704.1,925.2 704.6,920.7 705.1,932.1 705.6,941.6 706.1,930.5 706.6,916.9 707.1,928.9 707.6,924.8 708.1,937.5 708.6,936.1 709.1,948.0 709.6,926.8 710.1,929.7 710.6,936.7 711.1,949.3 711.6,944.1 712.1,935.1 712.6,928.4 713.1,936.4 713.5,933.0 714.0,929.5 714.5,932.5 715.0,931.2 715.5,943.3 716.0,941.8 716.5,928.5 717.0,922.3 717.5,921.7 718.0,935.8 718.5,937.3 719.0,932.2 719.5,944.1 720.0,936.8 720.5,937.0 721.0,934.8 721.5,938.2 722.0,926.4 722.5,936.7 723.0,941.0 723.5,928.6 724.0,931.4 724.5,929.7 725.0,924.0 725.5,934.6 726.0,929.1 726.5,925.0 727.0,939.5 727.5,938.6 728.0,927.9 728.5,922.0 729.0,927.2 729.5,934.3 730.0,935.0 730.5,927.0 731.0,928.3 731.5,927.4 732.0,938.5 732.5,933.9 733.0,933.7 733.5,922.7 734.0,914.0 734.5,935.9 735.0,921.4 735.4,934.9 735.9,923.5 736.4,929.6 736.9,922.4 737.4,915.9 737.9,921.3 738.4,921.6 738.9,918.7 739.4,913.9 739.9,922.5 740.4,924.7 740.9,915.9 741.4,921.6 741.9,913.5 742.4,931.5 742.9,929.7 743.4,924.0 743.9,924.3 744.4,917.0 744.9,925.8 745.4,919.7 745.9,858.0 746.4,923.6 746.9,926.4 747.4,927.4 747.9,924.1 748.4,930.0 748.9,926.7 749.4,910.1 749.9,913.1 750.4,931.5 750.9,935.2 751.4,917.7 751.9,907.8 752.4,925.6 752.9,912.0 753.4,917.7 753.9,920.9 754.4,928.3 754.9,923.3 755.4,922.1 755.9,922.7 756.4,923.5 756.8,925.7 757.3,926.9 757.8,918.5 758.3,914.3 758.8,925.1 759.3,933.1 759.8,935.0 760.3,928.8 760.8,912.1 761.3,908.1 761.8,912.9 762.3,911.9 762.8,922.0 763.3,920.4 763.8,929.2 764.3,920.9 764.8,923.1 765.3,933.4 765.8,915.3 766.3,917.5 766.8,935.5 767.3,909.6 767.8,926.1 768.3,920.2 768.8,918.3 769.3,914.6 769.8,911.5 770.3,901.0 770.8,917.2 771.3,913.3 771.8,909.2 772.3,919.5 772.8,928.6 773.3,913.8 773.8,911.6 774.3,909.0 774.8,924.2 775.3,918.8 775.8,911.3 776.3,918.0 776.8,914.1 777.3,911.1 777.8,892.9 778.3,900.6 778.7,893.7 779.2,912.6 779.7,916.0 780.2,917.9 780.7,900.8 781.2,914.2 781.7,915.8 782.2,925.5 782.7,925.2 783.2,910.2 783.7,919.6 784.2,929.8 784.7,915.3 785.2,916.9 785.7,910.1 786.2,912.4 786.7,898.2 787.2,916.0 787.7,922.8 788.2,916.4 788.7,906.0 789.2,941.4 789.7,925.8 790.2,910.7 790.7,915.1 791.2,921.0 791.7,933.0 792.2,920.5 792.7,916.9 793.2,913.6 793.7,904.1 794.2,915.7 794.7,905.5 795.2,904.7 795.7,926.2 796.2,926.5 796.7,915.0 797.2,915.6 797.7,914.0 798.2,918.0 798.7,910.3 799.2,916.3 799.7,915.1 800.1,912.0 800.6,904.8 801.1,909.3 801.6,922.7 802.1,908.6 802.6,904.5 803.1,914.8 803.6,913.6 804.1,906.9 804.6,916.9 805.1,899.3 805.6,911.6 806.1,923.6 806.6,916.5 807.1,913.4 807.6,902.1 808.1,914.1 808.6,913.9 809.1,917.9 809.6,911.3 810.1,901.4 810.6,929.2 811.1,911.7 811.6,916.5 812.1,908.8 812.6,902.4 813.1,894.7 813.6,888.9 814.1,906.5 814.6,911.8 815.1,911.4 815.6,856.0 816.1,925.6 816.6,927.4 817.1,913.2 817.6,913.8 818.1,922.5 818.6,925.7 819.1,907.9 819.6,915.1 820.1,912.3 820.6,905.4 821.1,912.3 821.6,911.5 822.0,908.4 822.5,907.5 823.0,907.7 823.5,925.0 824.0,918.8 824.5,920.3 825.0,899.2 825.5,925.9 826.0,920.4 826.5,906.6 827.0,917.5 827.5,907.1 828.0,906.7 828.5,917.0 829.0,909.5 829.5,929.2 830.0,929.4 830.5,924.9 831.0,911.9 831.5,907.1 832.0,914.8 832.5,915.4 833.0,932.5 833.5,923.7 834.0,929.1 834.5,907.6 835.0,899.9 835.5,903.7 836.0,912.6 836.5,922.0 837.0,924.0 837.5,925.6 838.0,915.4 838.5,920.0 839.0,930.7 839.5,921.5 840.0,911.5 840.5,930.6 841.0,937.0 841.5,923.0 842.0,921.8 842.5,919.2 843.0,918.5 843.4,933.3 843.9,925.4 844.4,927.5 844.9,936.5 845.4,927.5 845.9,927.9 846.4,930.1 846.9,938.7 847.4,926.9 847.9,935.6 848.4,915.7 848.9,928.1 849.4,925.5 849.9,932.2 850.4,913.3 850.9,954.7 851.4,948.8 851.9,943.1 852.4,942.3 852.9,927.1 853.4,961.7 853.9,951.7 854.4,954.5 854.9,933.1 855.4,935.2 855.9,942.0 856.4,947.3 856.9,941.8 857.4,926.4 857.9,930.6 858.4,939.2 858.9,952.3 859.4,935.7 859.9,956.6 860.4,955.9 860.9,948.1 861.4,940.4 861.9,940.5 862.4,937.2 862.9,934.4 863.4,961.8 863.9,951.9 864.4,947.8 864.9,959.4 865.3,955.4 865.8,945.4 866.3,956.8 866.8,963.5 867.3,945.8 867.8,940.5 868.3,955.6 868.8,962.0 869.3,956.8 869.8,956.4 870.3,957.7 870.8,960.8 871.3,945.8 871.8,947.1 872.3,943.0 872.8,968.3 873.3,949.6 873.8,958.8 874.3,945.5 874.8,961.3 875.3,957.5 875.8,959.4 876.3,966.9 876.8,972.7 877.3,963.3 877.8,973.6 878.3,964.1 878.8,960.0 879.3,985.4 879.8,960.7 880.3,965.6 880.8,970.5 881.3,964.2 881.8,961.2 882.3,940.3 882.8,963.6 883.3,965.8 883.8,959.9 884.3,972.3 884.8,963.6 885.3,889.0 885.8,968.5 886.3,972.6 886.7,968.4 887.2,978.9 887.7,996.8 888.2,976.7 888.7,982.7 889.2,986.2 889.7,972.5 890.2,970.5 890.7,981.2 891.2,979.2 891.7,978.5 892.2,976.6 892.7,976.2 893.2,979.1 893.7,988.6 894.2,993.1 894.7,989.7 895.2,968.4 895.7,977.2 896.2,980.1 896.7,981.8 897.2,982.1 897.7,992.3 898.2,991.9 898.7,1008.4 899.2,986.6 899.7,1000.6 900.2,979.3 900.7,991.0 901.2,993.0 901.7,983.8 902.2,989.8 902.7,1002.7 903.2,977.4 903.7,977.2 904.2,993.7 904.7,990.6 905.2,987.4 905.7,994.7 906.2,989.3 906.7,993.5 907.2,992.9 907.7,987.2 908.2,994.3 908.6,980.6 909.1,982.4 909.6,1000.0 910.1,979.2 910.6,979.6 911.1,988.3 911.6,988.9 912.1,995.9 912.6,979.5 913.1,976.5 913.6,983.6 914.1,988.6 914.6,973.6 915.1,982.6 915.6,990.5 916.1,983.9 916.6,987.2 917.1,994.7 917.6,984.8 918.1,989.2 918.6,1005.0 919.1,988.4 919.6,995.2 920.1,984.4 920.6,953.0 921.1,979.1 921.6,996.2 922.1,995.7 922.6,1015.9 923.1,1003.5 923.6,994.4 924.1,1006.9 924.6,1006.0 925.1,1014.9 925.6,997.0 926.1,993.0 926.6,984.8 927.1,997.6 927.6,989.3 928.1,987.9 928.6,996.1 929.1,1002.9 929.6,991.8 930.0,982.8 930.5,988.2 931.0,976.8 931.5,989.4 932.0,976.1 932.5,1001.6 933.0,983.1 933.5,982.2 934.0,980.8 934.5,975.4 935.0,977.9 935.5,975.8 936.0,992.4 936.5,1001.3 937.0,997.5 937.5,1007.0 938.0,990.7 938.5,979.0 939.0,982.0 939.5,975.5 940.0,987.3 940.5,986.5 941.0,981.2 941.5,954.7 942.0,986.8 942.5,971.0 943.0,1002.7 943.5,989.7 944.0,970.6 944.5,975.8 945.0,978.3 945.5,986.6 946.0,973.2 946.5,974.5 947.0,963.9 947.5,982.4 948.0,966.7 948.5,972.9 949.0,970.0 949.5,970.1 950.0,999.1 950.5,983.8 951.0,965.2 951.5,949.3 951.9,972.6 952.4,938.8 952.9,952.8 953.4,964.1 953.9,959.4 954.4,946.0 954.9,952.6 955.4,960.4 955.9,971.9 956.4,979.0 956.9,976.0 957.4,980.5 957.9,973.2 958.4,977.4 958.9,976.7 959.4,956.9 959.9,964.5 960.4,973.3 960.9,974.0 961.4,956.2 961.9,972.8 962.4,955.6 962.9,968.5 963.4,955.0 963.9,968.2 964.4,963.4 964.9,946.7 965.4,941.5 965.9,968.3 966.4,957.2 966.9,964.8 967.4,952.0 967.9,967.8 968.4,959.0 968.9,960.4 969.4,977.9 969.9,960.3 970.4,962.8 970.9,951.2 971.4,955.8 971.9,944.1 972.4,970.3 972.9,960.3 973.3,965.5 973.8,964.8 974.3,946.0 974.8,965.8 975.3,963.0 975.8,969.3 976.3,953.5 976.8,941.9 977.3,945.2 977.8,967.9 978.3,949.2 978.8,941.6 979.3,943.1 979.8,963.2 980.3,974.1 980.8,954.2 981.3,958.1 981.8,956.6 982.3,953.0 982.8,947.9 983.3,963.9 983.8,959.1 984.3,953.5 984.8,937.7 985.3,934.7 985.8,943.1 986.3,934.4 986.8,944.5 987.3,950.0 987.8,941.8 988.3,957.7 988.8,935.1 989.3,944.4 989.8,944.5 990.3,950.4 990.8,943.2 991.3,945.1 991.8,952.7 992.3,955.9 992.8,946.4 993.3,962.0 993.8,940.3 994.3,951.1 994.8,947.4 995.2,962.5 995.7,934.7 996.2,954.8 996.7,962.8 997.2,957.0 997.7,943.7 998.2,957.4 998.7,963.0 999.2,958.1 999.7,931.9 1000.2,957.8 1000.7,956.2 1001.2,938.9 1001.7,934.1 1002.2,940.9 1002.7,941.3 1003.2,934.2 1003.7,965.0 1004.2,942.1 1004.7,939.5 1005.2,929.5 1005.7,964.2 1006.2,958.5 1006.7,945.6 1007.2,944.3 1007.7,959.3 1008.2,949.0 1008.7,945.4 1009.2,960.6 1009.7,941.4 1010.2,948.7 1010.7,946.3 1011.2,954.5 1011.7,952.7 1012.2,949.8 1012.7,936.2 1013.2,932.3 1013.7,950.1 1014.2,960.9 1014.7,956.5 1015.2,944.8 1015.7,948.4 1016.2,972.8 1016.6,947.9 1017.1,965.4 1017.6,949.1 1018.1,954.3 1018.6,960.9 1019.1,956.2 1019.6,947.2 1020.1,959.2 1020.6,939.5 1021.1,963.0 1021.6,939.8 1022.1,957.8 1022.6,946.8 1023.1,946.2 1023.6,943.2 1024.1,946.9 1024.6,950.1 1025.1,934.8 1025.6,949.8 1026.1,959.2 1026.6,956.8 1027.1,953.1 1027.6,944.5 1028.1,936.8 1028.6,967.3 1029.1,950.1 1029.6,954.7 1030.1,952.5 1030.6,946.4 1031.1,937.2 1031.6,947.1 1032.1,962.3 1032.6,946.2 1033.1,950.8 1033.6,936.1 1034.1,962.8 1034.6,957.6 1035.1,966.6 1035.6,966.2 1036.1,942.7 1036.6,956.8 1037.1,961.4 1037.6,953.7 1038.0,956.2 1038.5,945.6 1039.0,964.9 1039.5,976.6 1040.0,961.3 1040.5,976.4 1041.0,965.0 1041.5,956.4 1042.0,956.4 1042.5,970.6 1043.0,957.9 1043.5,953.8 1044.0,975.6 1044.5,962.1 1045.0,940.7 1045.5,949.4 1046.0,947.2 1046.5,955.2 1047.0,955.2 1047.5,975.6 1048.0,972.0 1048.5,954.8 1049.0,964.0 1049.5,967.1 1050.0,957.1 1050.5,952.1 1051.0,959.8 1051.5,947.9 1052.0,967.6 1052.5,969.8 1053.0,944.8 1053.5,965.9 1054.0,954.3 1054.5,952.1 1055.0,969.3 1055.5,952.8 1056.0,980.0 1056.5,959.5 1057.0,944.2 1057.5,966.8 1058.0,966.2 1058.5,953.3 1059.0,962.7 1059.5,947.1 1059.9,934.0 1060.4,968.0 1060.9,975.5 1061.4,972.7 1061.9,963.7 1062.4,968.7 1062.9,958.3 1063.4,950.0 1063.9,947.3 1064.4,964.7 1064.9,950.4 1065.4,974.9 1065.9,962.1 1066.4,977.5 1066.9,949.3 1067.4,972.3 1067.9,978.1 1068.4,963.5 1068.9,976.8 1069.4,984.6 1069.9,970.0 1070.4,983.8 1070.9,961.3 1071.4,975.2 1071.9,975.0 1072.4,952.3 1072.9,970.1 1073.4,960.9 1073.9,979.1 1074.4,975.0 1074.9,995.5 1075.4,980.5 1075.9,978.0 1076.4,978.1 1076.9,981.2 1077.4,1011.6 1077.9,981.1 1078.4,981.6 1078.9,996.0 1079.4,994.5 1079.9,1006.5 1080.4,991.2 1080.9,989.1 1081.3,994.6 1081.8,989.4 1082.3,988.1 1082.8,987.0 1083.3,980.0 1083.8,980.4 1084.3,983.9 1084.8,995.9 1085.3,996.3 1085.8,988.9 1086.3,982.1 1086.8,997.8 1087.3,978.7 1087.8,986.4 1088.3,993.2 1088.8,1003.2 1089.3,995.0 1089.8,1000.5 1090.3,1003.5 1090.8,991.8 1091.3,993.9 1091.8,991.3 1092.3,983.3 1092.8,996.9 1093.3,999.7 1093.8,1000.5 1094.3,991.8 1094.8,995.7 1095.3,937.0 1095.8,985.1 1096.3,1001.5 1096.8,979.8 1097.3,978.2 1097.8,986.3 1098.3,1002.6 1098.8,987.5 1099.3,1002.7 1099.8,1000.5 1100.3,1013.2 1100.8,1004.7 1101.3,992.3 1101.8,999.5 1102.3,996.6 1102.8,991.0 1103.2,997.3 1103.7,1004.6 1104.2,1011.7 1104.7,1007.9 1105.2,994.2 1105.7,1021.8 1106.2,1005.8 1106.7,1002.4 1107.2,1036.8 1107.7,1026.0 1108.2,1041.2 1108.7,1011.0 1109.2,1002.6 1109.7,999.3 1110.2,1003.4 1110.7,1004.6 1111.2,1005.0 1111.7,1006.8 1112.2,993.2 1112.7,1004.3 1113.2,1009.8 1113.7,1002.4 1114.2,997.1 1114.7,981.2 1115.2,997.3 1115.7,1003.4 1116.2,1004.2 1116.7,1024.4 1117.2,1025.9 1117.7,1044.2 1118.2,1042.5 1118.7,1003.1 1119.2,992.9 1119.7,988.2 1120.2,997.8 1120.7,1004.7 1121.2,1000.6 1121.7,999.7 1122.2,1009.4 1122.7,1015.5 1123.2,1021.2 1123.7,1016.4 1124.2,1003.8 1124.6,1006.1 1125.1,1029.8 1125.6,1027.5 1126.1,1008.4 1126.6,1006.6 1127.1,999.3 1127.6,997.0 1128.1,1007.9 1128.6,1010.9 1129.1,1016.1 1129.6,1006.2 1130.1,1011.8 1130.6,1016.4 1131.1,1028.6 1131.6,1017.9 1132.1,1033.8 1132.6,1014.7 1133.1,1019.2 1133.6,1025.4 1134.1,1010.2 1134.6,1003.1 1135.1,1010.1 1135.6,1016.0 1136.1,1031.1 1136.6,1032.6 1137.1,1028.4 1137.6,1023.3 1138.1,1008.0 1138.6,999.8 1139.1,1004.6 1139.6,1013.9 1140.1,1007.2 1140.6,1000.7 1141.1,1015.5 1141.6,1018.9 1142.1,1015.0 1142.6,1015.2 1143.1,1008.2 1143.6,1022.0 1144.1,1020.0 1144.6,1005.2 1145.1,1021.2 1145.6,1002.6 1146.1,999.5 1146.5,987.1 1147.0,1020.0 1147.5,1019.4 1148.0,1013.9 1148.5,1025.3 1149.0,1011.2 1149.5,1006.6 1150.0,1028.1 1150.5,1015.9 1151.0,1028.6 1151.5,998.4 1152.0,1002.4 1152.5,998.0 1153.0,984.9 1153.5,982.2 1154.0,1011.4 1154.5,1013.5 1155.0,1016.9 1155.5,1018.6 1156.0,996.5 1156.5,988.2 1157.0,1016.2 1157.5,991.7 1158.0,1010.1 1158.5,1001.1 1159.0,1000.2 1159.5,1017.1 1160.0,1007.1 1160.5,1004.1 1161.0,999.7 1161.5,988.5 1162.0,993.4 1162.5,995.5 1163.0,981.5 1163.5,989.1 1164.0,977.4 1164.5,1001.8 1165.0,1000.9 1165.5,1002.8 1166.0,1013.6 1166.5,1007.4 1167.0,1020.3 1167.5,1006.2 1167.9,1009.7 1168.4,1003.5 1168.9,1007.4 1169.4,1014.7 1169.9,1006.8 1170.4,1003.7 1170.9,1010.0 1171.4,1007.4 1171.9,1015.8 1172.4,995.4 1172.9,987.0 1173.4,1003.3 1173.9,986.9 1174.4,996.4 1174.9,1002.7 1175.4,1014.3 1175.9,1022.9 1176.4,1005.9 1176.9,1016.7 1177.4,1022.1 1177.9,1001.3 1178.4,1004.4 1178.9,1000.3 1179.4,972.9 1179.9,997.0 1180.4,994.0 1180.9,1011.2 1181.4,1003.0 1181.9,1010.1 1182.4,984.1 1182.9,990.2 1183.4,995.3 1183.9,993.9 1184.4,984.3 1184.9,994.6 1185.4,978.8 1185.9,991.9 1186.4,975.5 1186.9,988.2 1187.4,987.5 1187.9,981.7 1188.4,971.9 1188.9,994.0 1189.4,988.3 1189.8,987.4 1190.3,996.9 1190.8,983.2 1191.3,984.3 1191.8,968.6 1192.3,1000.8 1192.8,983.2 1193.3,981.2 1193.8,963.8 1194.3,994.2 1194.8,971.6 1195.3,988.4 1195.8,1001.8 1196.3,987.3 1196.8,1003.1 1197.3,983.4 1197.8,978.6 1198.3,977.1 1198.8,998.0 1199.3,991.0 1199.8,935.0 1200.3,997.0 1200.8,988.3 1201.3,1003.7 1201.8,1017.9 1202.3,993.7 1202.8,1004.7 1203.3,988.1 1203.8,998.4 1204.3,991.3 1204.8,990.9 1205.3,978.2 1205.8,1002.5 1206.3,979.7 1206.8,967.3 1207.3,996.0 1207.8,976.5 1208.3,973.4 1208.8,983.0 1209.3,972.3 1209.8,968.9 1210.3,1001.4 1210.8,985.4 1211.2,978.9 1211.7,984.7 1212.2,954.2 1212.7,982.6 1213.2,982.9 1213.7,989.8 1214.2,984.5 1214.7,1007.1 1215.2,1003.0 1215.7,982.1 1216.2,1005.2 1216.7,979.4 1217.2,983.0 1217.7,978.1 1218.2,980.9 1218.7,972.6 1219.2,977.6 1219.7,975.4 1220.2,980.4 1220.7,983.7 1221.2,970.1 1221.7,995.3 1222.2,984.8 1222.7,969.9 1223.2,973.6 1223.7,978.0 1224.2,998.9 1224.7,989.5 1225.2,961.4 1225.7,987.4 1226.2,983.3 1226.7,1010.0 1227.2,974.7 1227.7,975.7 1228.2,985.8 1228.7,982.4 1229.2,971.8 1229.7,976.6 1230.2,950.5 1230.7,956.2 1231.2,967.1 1231.7,982.2 1232.2,976.4 1232.7,974.9 1233.1,973.2 1233.6,986.4 1234.1,968.8 1234.6,973.3 1235.1,970.0 1235.6,961.7 1236.1,998.3 1236.6,1001.1 1237.1,985.7 1237.6,1008.8 1238.1,984.1 1238.6,986.9 1239.1,978.5 1239.6,973.7 1240.1,983.9 1240.6,990.9 1241.1,985.9 1241.6,983.2 1242.1,982.7 1242.6,979.7 1243.1,982.6 1243.6,989.9 1244.1,978.5 1244.6,1002.3 1245.1,989.6 1245.6,994.3 1246.1,966.2 1246.6,985.0 1247.1,993.5 1247.6,1012.4 1248.1,990.0 1248.6,966.9 1249.1,985.6 1249.6,995.6 1250.1,988.0 1250.6,970.1 1251.1,985.1 1251.6,987.5 1252.1,956.9 1252.6,986.8 1253.1,970.1 1253.6,995.0 1254.1,992.2 1254.5,976.9 1255.0,984.7 1255.5,986.3 1256.0,980.1 1256.5,984.1 1257.0,991.4 1257.5,960.6 1258.0,992.8 1258.5,980.5 1259.0,1004.0 1259.5,985.9 1260.0,991.3 1260.5,966.1 1261.0,995.2 1261.5,986.6 1262.0,984.9 1262.5,990.4 1263.0,991.4 1263.5,990.9 1264.0,997.7 1264.5,998.7 1265.0,989.4 1265.5,980.4 1266.0,988.6 1266.5,987.4 1267.0,995.1 1267.5,996.9 1268.0,992.4 1268.5,991.6 1269.0,991.0 1269.5,992.8 1270.0,987.3 1270.5,998.7 1271.0,1010.6 1271.5,1005.4 1272.0,985.8 1272.5,1006.6 1273.0,985.7 1273.5,981.1 1274.0,991.3 1274.5,985.6 1275.0,1011.0 1275.5,1002.6 1276.0,1004.4 1276.4,1007.7 1276.9,1011.6 1277.4,986.8 1277.9,1000.2 1278.4,984.9 1278.9,1012.3 1279.4,1014.1 1279.9,1011.7 1280.4,1003.7 1280.9,1001.2 1281.4,1009.3 1281.9,1019.7 1282.4,1012.6 1282.9,1021.8 1283.4,1011.2 1283.9,1016.4 1284.4,990.4 1284.9,1017.0 1285.4,999.2 1285.9,1001.1 1286.4,1012.7 1286.9,1012.3 1287.4,1022.2 1287.9,1023.1 1288.4,1005.5 1288.9,1015.3 1289.4,1024.9 1289.9,1010.2 1290.4,1018.2 1290.9,1009.7 1291.4,993.4 1291.9,1000.4 1292.4,1010.3 1292.9,1012.5 1293.4,1021.4 1293.9,1019.2 1294.4,1011.0 1294.9,1007.2 1295.4,1000.8 1295.9,1035.1 1296.4,1025.1 1296.9,1012.9 1297.4,1025.0 1297.8,1005.5 1298.3,1011.5 1298.8,1015.4 1299.3,1020.3 1299.8,1009.0 1300.3,1028.9 1300.8,1023.5 1301.3,1031.3 1301.8,1024.9 1302.3,1016.1 1302.8,1023.6 1303.3,1025.8 1303.8,1027.6 1304.3,1025.9 1304.8,1040.0 1305.3,1025.1 1305.8,1024.4 1306.3,1036.6 1306.8,1024.3 1307.3,1041.2 1307.8,1029.5 1308.3,1041.9 1308.8,1021.7 1309.3,1037.1 1309.8,1029.6 1310.3,1029.2 1310.8,1026.3 1311.3,1030.5 1311.8,1031.3 1312.3,1046.4 1312.8,1045.4 1313.3,1040.3 1313.8,1018.4 1314.3,1027.5 1314.8,1028.6 1315.3,1059.1 1315.8,1043.1 1316.3,1028.4 1316.8,1027.2 1317.3,1039.8 1317.8,1023.0 1318.3,1042.8 1318.8,1042.5 1319.3,1023.1 1319.7,1001.8 1320.2,1013.7 1320.7,1031.9 1321.2,1018.1 1321.7,1023.4 1322.2,1044.0 1322.7,1029.1 1323.2,1030.8 1323.7,1029.3 1324.2,1033.6 1324.7,1026.7 1325.2,1033.6 1325.7,1022.5 1326.2,1037.4 1326.7,1036.9 1327.2,1045.4 1327.7,1042.7 1328.2,1038.6 1328.7,1021.3 1329.2,1027.1 1329.7,1000.7 1330.2,1043.4 1330.7,1035.5 1331.2,1052.6 1331.7,1036.2 1332.2,1043.9 1332.7,1035.2 1333.2,1021.3 1333.7,1020.0 1334.2,1023.7 1334.7,1033.4 1335.2,1017.4 1335.7,1046.9 1336.2,1012.9 1336.7,1028.9 1337.2,1019.7 1337.7,1028.4 1338.2,1015.9 1338.7,1025.1 1339.2,1032.5 1339.7,1034.3 1340.2,1007.4 1340.7,1015.6 1341.1,1028.9 1341.6,1024.3 1342.1,1044.9 1342.6,1030.2 1343.1,1014.9 1343.6,1024.8 1344.1,1047.6 1344.6,1044.8 1345.1,1057.2 1345.6,1018.6 1346.1,1028.2 1346.6,1047.5 1347.1,1042.3 1347.6,1038.3 1348.1,1020.5 1348.6,1034.5 1349.1,1027.3 1349.6,1027.5 1350.1,1047.0 1350.6,1056.4 1351.1,1047.9 1351.6,1014.0 1352.1,1015.5 1352.6,1014.9 1353.1,1024.8 1353.6,1028.2 1354.1,1009.4 1354.6,1027.2 1355.1,1017.6 1355.6,1023.3 1356.1,1021.8 1356.6,1018.3 1357.1,1014.9 1357.6,1025.7 1358.1,1022.6 1358.6,1038.8 1359.1,1038.7 1359.6,1041.2 1360.1,1037.5 1360.6,1020.6 1361.1,1044.0 1361.6,1028.5 1362.1,1032.5 1362.6,1025.5 1363.0,1010.9 1363.5,1021.5 1364.0,998.4 1364.5,1009.9 1365.0,1016.8 1365.5,1007.1 1366.0,997.7 1366.5,1021.0 1367.0,1010.5 1367.5,1018.8 1368.0,1012.6 1368.5,1019.3 1369.0,1003.7 1369.5,999.5 1370.0,1098.0 1370.5,1009.8 1371.0,997.8 1371.5,1004.7 1372.0,1023.8 1372.5,1015.6 1373.0,1027.4 1373.5,1010.2 1374.0,999.7 1374.5,1013.9 1375.0,1022.5 1375.5,1007.0 1376.0,1010.0 1376.5,1008.5 1377.0,1037.0 1377.5,1005.0 1378.0,1025.7 1378.5,997.7 1379.0,1010.3 1379.5,1023.5 1380.0,1010.7 1380.5,1027.6 1381.0,1013.9 1381.5,1029.6 1382.0,1010.7 1382.5,1013.5 1383.0,1017.1 1383.5,1016.5 1384.0,1015.3 1384.4,1005.4 1384.9,1000.4 1385.4,1015.0 1385.9,1018.4 1386.4,1017.5 1386.9,1028.7 1387.4,1005.6 1387.9,975.0 1388.4,1011.3 1388.9,1013.9 1389.4,1032.0 1389.9,1021.7 1390.4,1020.4 1390.9,996.6 1391.4,1000.7 1391.9,1012.1 1392.4,1017.2 1392.9,999.1 1393.4,993.4 1393.9,983.8 1394.4,991.2 1394.9,1006.8 1395.4,1006.3 1395.9,1015.5 1396.4,1008.1 1396.9,987.1 1397.4,999.5 1397.9,1006.1 1398.4,994.0 1398.9,996.7 1399.4,1008.1 1399.9,1005.5 1400.4,973.3 1400.9,992.7 1401.4,998.2 1401.9,988.9 1402.4,994.9 1402.9,1008.5 1403.4,1018.7 1403.9,996.0 1404.4,1017.4 1404.9,992.5 1405.4,987.4 1405.9,1016.4 1406.3,1000.2 1406.8,1004.8 1407.3,982.6 1407.8,983.5 1408.3,966.6 1408.8,977.5 1409.3,993.7 1409.8,1018.3 1410.3,998.2 1410.8,997.3 1411.3,1008.8 1411.8,1005.8 1412.3,985.4 1412.8,982.5 1413.3,1006.4 1413.8,993.6 1414.3,997.9 1414.8,999.0 1415.3,983.9 1415.8,1005.5 1416.3,1027.4 1416.8,1001.2 1417.3,1002.2 1417.8,1015.9 1418.3,992.8 1418.8,978.8 1419.3,990.0 1419.8,985.7 1420.3,1001.8 1420.8,981.8 1421.3,989.4 1421.8,993.5 1422.3,999.3 1422.8,985.8 1423.3,969.8 1423.8,964.9 1424.3,991.2 1424.8,986.3 1425.3,989.7 1425.8,984.7 1426.3,1002.9 1426.8,987.9 1427.3,966.7 1427.7,985.1 1428.2,974.7 1428.7,979.5 1429.2,985.1 1429.7,980.0 1430.2,994.2 1430.7,988.6 1431.2,991.4 1431.7,990.5 1432.2,980.2 1432.7,981.6 1433.2,995.1 1433.7,992.5 1434.2,977.0 1434.7,970.7 1435.2,993.7 1435.7,972.0 1436.2,970.8 1436.7,993.3 1437.2,977.2 1437.7,992.6 1438.2,986.5 1438.7,984.9 1439.2,968.5 1439.7,990.2 1440.2,981.9 1440.7,997.9 1441.2,997.6 1441.7,991.6 1442.2,994.8 1442.7,991.6 1443.2,986.3 1443.7,999.4 1444.2,1006.4 1444.7,980.9 1445.2,1007.0 1445.7,1016.2 1446.2,998.7 1446.7,998.5 1447.2,996.0 1447.7,1003.8 1448.2,993.2 1448.7,1006.7 1449.2,1021.0 1449.6,1013.1 1450.1,1008.9 1450.6,997.8 1451.1,1004.8 1451.6,987.4 1452.1,1001.8 1452.6,1007.3 1453.1,986.8 1453.6,989.7 1454.1,994.9 1454.6,973.7 1455.1,997.0 1455.6,1000.0 1456.1,987.7 1456.6,1002.7 1457.1,1005.9 1457.6,1008.6 1458.1,977.0 1458.6,991.8 1459.1,987.4 1459.6,980.5 1460.1,991.1 1460.6,998.3 1461.1,1030.0 1461.6,1024.5 1462.1,1010.9 1462.6,998.9 1463.1,1005.2 1463.6,1013.0 1464.1,998.5 1464.6,993.5 1465.1,1022.9 1465.6,1007.1 1466.1,994.8 1466.6,1009.4 1467.1,997.2 1467.6,1005.7 1468.1,992.5 1468.6,1005.6 1469.1,1004.5 1469.6,1019.7 1470.1,1034.4 1470.6,1022.5 1471.0,1019.6 1471.5,986.5 1472.0,1004.2 1472.5,985.9 1473.0,1002.5 1473.5,977.2 1474.0,992.6 1474.5,1011.5 1475.0,1010.2 1475.5,1026.1 1476.0,1015.1 1476.5,1009.9 1477.0,1017.6 1477.5,1000.9 1478.0,989.3 1478.5,1009.8 1479.0,1000.4 1479.5,1002.4 1480.0,1009.0 1480.5,1040.0 1481.0,1021.1 1481.5,1024.7 1482.0,1021.5 1482.5,1021.1 1483.0,1001.1 1483.5,998.8 1484.0,1022.6 1484.5,1003.3 1485.0,1018.0 1485.5,1020.8 1486.0,1028.4 1486.5,1041.4 1487.0,1024.8 1487.5,1012.9 1488.0,1007.6 1488.5,1024.4 1489.0,1017.7 1489.5,1023.0 1490.0,1012.0 1490.5,1027.6 1491.0,1033.4 1491.5,1031.5 1492.0,1035.6 1492.5,1034.5 1492.9,1024.6 1493.4,1027.6 1493.9,1040.3 1494.4,1032.7 1494.9,1031.9 1495.4,1042.7 1495.9,1015.4 1496.4,1019.8 1496.9,1035.5 1497.4,1019.1 1497.9,1028.4 1498.4,1029.0 1498.9,1000.4 1499.4,1011.2 1499.9,986.4 1500.4,1006.8 1500.9,1019.7 1501.4,1032.3 1501.9,1038.0 1502.4,1026.6 1502.9,1017.2 1503.4,1015.7 1503.9,1049.2 1504.4,1005.3 1504.9,1056.0 1505.4,1037.5 1505.9,1017.2 1506.4,1041.6 1506.9,1041.7 1507.4,1023.4 1507.9,1009.1 1508.4,1042.0 1508.9,1038.3 1509.4,1036.6 1509.9,1007.6 1510.4,1019.3 1510.9,1037.0 1511.4,1060.5 1511.9,1017.4 1512.4,1037.6 1512.9,1022.4 1513.4,1045.4 1513.9,1050.7 1514.3,1047.0 1514.8,1046.3 1515.3,1050.0 1515.8,1034.2 1516.3,1034.3 1516.8,1045.6 1517.3,1037.9 1517.8,1033.7 1518.3,1050.2 1518.8,1056.6 1519.3,1056.9 1519.8,1079.2 1520.3,1059.5 1520.8,1033.7 1521.3,1051.3 1521.8,1044.4 1522.3,1041.4 1522.8,1034.1 1523.3,1046.2 1523.8,1035.3 1524.3,1045.8 1524.8,1050.3 1525.3,1049.7 1525.8,1060.5 1526.3,1070.6 1526.8,1046.2 1527.3,1048.7 1527.8,1024.4 1528.3,1049.1 1528.8,1046.5 1529.3,1042.8 1529.8,1046.2 1530.3,1052.9 1530.8,1051.0 1531.3,1049.9 1531.8,1032.4 1532.3,1031.8 1532.8,1047.0 1533.3,1013.7 1533.8,1032.7 1534.3,1043.4 1534.8,1051.5 1535.3,1053.9 1535.8,1045.6 1536.2,1059.9 1536.7,1049.0 1537.2,1045.8 1537.7,1012.7 1538.2,1036.9 1538.7,1054.1 1539.2,1043.7 1539.7,1031.6 1540.2,1030.3 1540.7,1033.6 1541.2,1028.9 1541.7,1042.9 1542.2,1039.5 1542.7,1050.9 1543.2,1050.0 1543.7,1067.6 1544.2,1085.6 1544.7,1062.4 1545.2,1059.8 1545.7,1050.9 1546.2,1051.5 1546.7,1040.6 1547.2,1062.8 1547.7,1063.1 1548.2,1041.2 1548.7,1042.8 1549.2,1038.5 1549.7,1023.6 1550.2,1034.9 1550.7,1021.7 1551.2,1061.6 1551.7,1026.1 1552.2,1059.2 1552.7,1034.6 1553.2,1058.1 1553.7,1072.6 1554.2,1068.7 1554.7,1027.3 1555.2,1060.2 1555.7,1040.1 1556.2,1062.3 1556.7,1040.3 1557.2,1033.1 1557.6,1054.5 1558.1,1063.9 1558.6,1035.7 1559.1,1048.1 1559.6,1036.7 1560.1,1044.5 1560.6,1055.7 1561.1,1025.3 1561.6,1057.7 1562.1,1055.2 1562.6,1035.4 1563.1,1036.7 1563.6,1049.5 1564.1,1037.0 1564.6,1052.5 1565.1,1074.2 1565.6,1063.3 1566.1,1048.7 1566.6,1042.5 1567.1,1034.3 1567.6,1025.1 1568.1,1041.1 1568.6,1036.7 1569.1,1048.2 1569.6,1047.4 1570.1,1048.1 1570.6,1054.7 1571.1,1048.7 1571.6,1064.8 1572.1,1046.0 1572.6,1042.3 1573.1,1024.1 1573.6,1036.7 1574.1,1019.9 1574.6,1032.0 1575.1,1047.1 1575.6,1026.1 1576.1,1029.2 1576.6,1002.4 1577.1,1027.0 1577.6,1051.0 1578.1,1062.0 1578.6,1031.3 1579.0,1043.9 1579.5,1035.3 1580.0,1021.0 1580.5,1024.2 1581.0,1018.0 1581.5,1020.8 1582.0,1028.4 1582.5,1036.7 1583.0,1029.2 1583.5,1042.1 1584.0,1033.4 1584.5,1034.0 1585.0,1030.6 1585.5,1056.7 1586.0,1032.7 1586.5,1041.0 1587.0,1046.8 1587.5,1052.3 1588.0,1030.7 1588.5,1040.5 1589.0,1027.1 1589.5,1014.3 1590.0,1015.8 1590.5,1011.8 1591.0,1036.4 1591.5,1026.9 1592.0,1047.4 1592.5,1015.8 1593.0,1032.6 1593.5,1024.2 1594.0,1017.2 1594.5,1023.1 1595.0,1007.1 1595.5,1014.5 1596.0,997.4 1596.5,1000.7 1597.0,1019.0 1597.5,1015.5 1598.0,1020.9 1598.5,1012.1 1599.0,1014.9 1599.5,1013.3 1600.0,1018.7 1600.5,1029.5 1600.9,991.7 1601.4,1042.5 1601.9,1037.4 1602.4,1022.8 1602.9,1001.4 1603.4,1010.1 1603.9,1018.0 1604.4,1023.6 1604.9,1022.0 1605.4,1010.4 1605.9,1001.6 1606.4,982.3 1606.9,1011.6 1607.4,1006.6 1607.9,1024.3 1608.4,991.1 1608.9,1018.5 1609.4,1008.6 1609.9,1012.0 1610.4,991.9 1610.9,1007.5 1611.4,1010.6 1611.9,1009.0 1612.4,1015.4 1612.9,1004.5 1613.4,1023.6 1613.9,1018.5 1614.4,990.8 1614.9,993.4 1615.4,1019.9 1615.9,1013.1 1616.4,985.5 1616.9,991.0 1617.4,1002.3 1617.9,1007.4 1618.4,1000.9 1618.9,1015.8 1619.4,986.9 1619.9,1013.1 1620.4,1015.2 1620.9,1009.1 1621.4,1008.0 1621.9,1011.1 1622.3,1014.3 1622.8,1031.5 1623.3,1017.5 1623.8,1010.2 1624.3,998.7 1624.8,985.7 1625.3,1007.3 1625.8,1011.6 1626.3,984.7 1626.8,1004.6 1627.3,995.4 1627.8,1014.6 1628.3,1005.6 1628.8,1010.2 1629.3,1019.5 1629.8,1034.9 1630.3,1014.2 1630.8,1003.5 1631.3,989.3 1631.8,1020.0 1632.3,1008.4 1632.8,1017.9 1633.3,1032.5 1633.8,1021.3 1634.3,1008.0 1634.8,1004.4 1635.3,1002.5 1635.8,1029.4 1636.3,1007.8 1636.8,994.8 1637.3,990.5 1637.8,994.3 1638.3,1016.6 1638.8,1019.4 1639.3,1002.1 1639.8,1001.5 1640.3,992.5 1640.8,1010.5 1641.3,1014.2 1641.8,995.8 1642.3,1006.1 1642.8,981.1 1643.3,986.4 1643.8,974.2 1644.2,984.2 1644.7,1007.2 1645.2,1016.9 1645.7,1006.3 1646.2,1002.1 1646.7,1018.4 1647.2,1010.4 1647.7,1000.6 1648.2,997.3 1648.7,1010.3 1649.2,1014.8 1649.7,993.1 1650.2,1014.2 1650.7,988.6 1651.2,1009.6 1651.7,1023.2 1652.2,1020.3 1652.7,1019.2 1653.2,1017.0 1653.7,1005.3 1654.2,1013.9 1654.7,1017.9 1655.2,1023.3 1655.7,1023.4 1656.2,1018.6 1656.7,1032.9 1657.2,1035.0 1657.7,1010.4 1658.2,996.7 1658.7,1019.0 1659.2,1022.3 1659.7,1027.6 1660.2,1025.3 1660.7,1012.9 1661.2,1020.3 1661.7,1044.3 1662.2,1022.6 1662.7,1029.2 1663.2,1026.1 1663.7,990.7 1664.2,997.3 1664.7,1002.8 1665.2,1006.2 1665.6,1025.3 1666.1,1029.6 1666.6,1049.0 1667.1,1025.8 1667.6,1023.4 1668.1,1043.7 1668.6,1004.5 1669.1,1003.7 1669.6,1008.6 1670.1,1027.6 1670.6,1027.7 1671.1,1033.8 1671.6,1031.0 1672.1,1002.5 1672.6,1027.9 1673.1,1014.0 1673.6,1006.6 1674.1,999.5 1674.6,1023.4 1675.1,1020.3 1675.6,1016.7 1676.1,1016.6 1676.6,1029.0 1677.1,1020.3 1677.6,1023.9 1678.1,1002.3 1678.6,1019.8 1679.1,1028.8 1679.6,1034.6 1680.1,1020.3 1680.6,1013.3 1681.1,1031.2 1681.6,1028.9 1682.1,1047.2 1682.6,1017.0 1683.1,1012.6 1683.6,1023.8 1684.1,992.4 1684.6,1027.5 1685.1,1040.0 1685.6,1009.9 1686.1,1005.1 1686.6,1016.5 1687.1,993.5 1687.5,998.2 1688.0,1013.5 1688.5,1033.3 1689.0,1048.4 1689.5,1036.9 1690.0,1053.2 1690.5,1008.9 1691.0,1019.3 1691.5,1047.0 1692.0,1001.4 1692.5,1038.3 1693.0,1040.5 1693.5,1045.1 1694.0,1034.2 1694.5,1032.2 1695.0,1036.6 1695.5,1042.1 1696.0,1022.9 1696.5,1048.8 1697.0,1050.7 1697.5,1036.6 1698.0,1043.6 1698.5,1039.2 1699.0,1028.8 1699.5,1053.4 1700.0,1054.7 1700.5,1058.8 1701.0,1016.3 1701.5,1034.1 1702.0,1036.9 1702.5,1031.9 1703.0,1015.6 1703.5,1026.2 1704.0,1049.8 1704.5,1041.5 1705.0,1031.6 1705.5,1061.1 1706.0,1056.2 1706.5,1064.5 1707.0,1049.4 1707.5,1036.0 1708.0,1042.2 1708.5,1039.5 1708.9,1036.1 1709.4,1052.6 1709.9,1058.0 1710.4,1070.0 1710.9,1026.8 1711.4,1061.9 1711.9,1055.8 1712.4,1051.7 1712.9,1032.3 1713.4,1041.5 1713.9,1066.5 1714.4,1067.7 1714.9,1068.9 1715.4,1051.8 1715.9,1068.2 1716.4,1021.5 1716.9,1040.1 1717.4,1032.5 1717.9,1039.0 1718.4,1043.5 1718.9,1048.6 1719.4,1050.6 1719.9,1033.1 1720.4,1041.5 1720.9,1048.1 1721.4,1031.7 1721.9,1063.0 1722.4,1035.3 1722.9,1049.0 1723.4,1050.8 1723.9,1045.0 1724.4,1054.7 1724.9,1037.0 1725.4,1065.4 1725.9,1054.1 1726.4,1057.4 1726.9,1070.3 1727.4,1039.0 1727.9,1077.9 1728.4,1071.0 1728.9,1042.1 1729.4,1029.3 1729.9,1049.7 1730.4,1075.0 1730.8,1064.2 1731.3,1089.2 1731.8,1065.1 1732.3,1076.8 1732.8,1064.2 1733.3,1049.9 1733.8,1073.5 1734.3,1070.5 1734.8,1048.9 1735.3,1057.6 1735.8,1063.9 1736.3,1070.4 1736.8,1078.1 1737.3,1087.9 1737.8,1074.1 1738.3,1084.2 1738.8,1124.6 1739.3,1061.2 1739.8,1081.5 1740.3,1073.0 1740.8,1063.5 1741.3,1052.6 1741.8,1059.4 1742.3,1067.1 1742.8,1071.1 1743.3,1060.9 1743.8,1092.3 1744.3,1071.6 1744.8,1046.0 1745.3,1069.2 1745.8,1055.6 1746.3,1041.3 1746.8,1061.1 1747.3,1041.4 1747.8,1033.4 1748.3,1053.4 1748.8,1064.5 1749.3,1039.6 1749.8,1059.4 1750.3,1052.4 1750.8,1051.1 1751.3,1073.9 1751.8,1072.8 1752.2,1102.2 1752.7,1058.5 1753.2,1074.0 1753.7,1061.6 1754.2,1064.1 1754.7,1045.7 1755.2,1067.6 1755.7,1046.4 1756.2,1050.3 1756.7,1053.4 1757.2,1063.3 1757.7,1035.8 1758.2,1054.1 1758.7,1045.3 1759.2,1078.1 1759.7,1058.6 1760.2,1073.0 1760.7,1081.7 1761.2,1096.3 1761.7,1069.0 1762.2,1075.0 1762.7,1045.8 1763.2,1041.7 1763.7,1045.9 1764.2,1045.2 1764.7,1132.0 1765.2,1037.1 1765.7,1054.9 1766.2,1035.6 1766.7,1049.1 1767.2,1057.1 1767.7,1037.3 1768.2,1041.3 1768.7,1021.5 1769.2,1020.4 1769.7,1039.7 1770.2,1039.1 1770.7,1061.4 1771.2,1066.2 1771.7,1075.5 1772.2,1070.1 1772.7,1049.9 1773.2,1057.8 1773.7,1045.0 1774.1,1038.0 1774.6,1038.6 1775.1,1053.5 1775.6,1023.1 1776.1,1032.3 1776.6,1026.5 1777.1,1012.0 1777.6,1005.3 1778.1,1027.0 1778.6,1015.4 1779.1,1019.9 1779.6,1028.0 1780.1,1018.4 1780.6,1019.1 1781.1,1006.9 1781.6,1039.2 1782.1,1104.0 1782.6,1042.6 1783.1,1029.3 1783.6,1039.5 1784.1,1024.6 1784.6,1007.3 1785.1,995.5 1785.6,1051.3 1786.1,1029.8 1786.6,1024.5 1787.1,1024.5 1787.6,1028.3 1788.1,1019.2 1788.6,1023.7 1789.1,1026.8 1789.6,1020.4 1790.1,1031.9 1790.6,1035.2 1791.1,1019.7 1791.6,1023.2 1792.1,1030.3 1792.6,1023.8 1793.1,1009.8 1793.6,1012.8 1794.1,1015.0 1794.6,1023.3 1795.1,1037.7 1795.5,1005.5 1796.0,1016.3 1796.5,1021.0 1797.0,1028.8 1797.5,1005.7 1798.0,1038.2 1798.5,1017.3 1799.0,1087.0 1799.5,1011.6 1800.0,1055.8 1800.5,1015.6 1801.0,1005.3 1801.5,1008.2 1802.0,993.7 1802.5,1001.4 1803.0,1025.2 1803.5,1031.6 1804.0,993.7 1804.5,1029.1 1805.0,1049.6 1805.5,972.0 1806.0,1015.6 1806.5,1019.5 1807.0,1011.5 1807.5,1025.5 1808.0,988.5 1808.5,1015.9 1809.0,1018.6 1809.5,1031.8 1810.0,1004.6 1810.5,1015.9 1811.0,1004.4 1811.5,1005.7 1812.0,1024.1 1812.5,1025.1 1813.0,1011.5 1813.5,1011.5 1814.0,999.3 1814.5,999.3 1815.0,993.4 1815.5,1024.2 1816.0,991.7 1816.5,1007.4 1817.0,1026.0 1817.4,1000.2 1817.9,978.4 1818.4,988.7 1818.9,972.0 1819.4,1018.1 1819.9,1002.6 1820.4,1013.9 1820.9,1029.1 1821.4,999.7 1821.9,1000.1 1822.4,989.9 1822.9,1004.1 1823.4,1032.7 1823.9,1007.5 1824.4,1000.9 1824.9,1005.1 1825.4,971.3 1825.9,1025.9 1826.4,1014.8 1826.9,1009.2 1827.4,995.6 1827.9,995.3 1828.4,999.6 1828.9,1012.7 1829.4,1009.6 1829.9,1012.2 1830.4,1013.2 1830.9,997.5 1831.4,1022.8 1831.9,1004.1 1832.4,1001.3 1832.9,1004.6 1833.4,996.4 1833.9,999.1 1834.4,1004.1 1834.9,1016.6 1835.4,1009.9 1835.9,1011.3 1836.4,991.1 1836.9,1023.4 1837.4,997.0 1837.9,1004.1 1838.4,999.7 1838.8,980.5 1839.3,1037.8 1839.8,1001.9 1840.3,1007.7 1840.8,988.3 1841.3,1019.3 1841.8,993.5 1842.3,999.8 1842.8,1012.9 1843.3,1007.7 1843.8,1037.0 1844.3,1005.4 1844.8,996.2 1845.3,1038.5 1845.8,1004.1 1846.3,988.7 1846.8,1000.3 1847.3,1012.6 1847.8,1032.1 1848.3,1022.7 1848.8,1015.8 1849.3,998.9 1849.8,1016.3 1850.3,996.4 1850.8,1018.9 1851.3,1006.6 1851.8,1010.4 1852.3,1009.4 1852.8,1035.5 1853.3,1010.6 1853.8,1021.9 1854.3,1009.1 1854.8,1008.8 1855.3,994.7 1855.8,1031.9 1856.3,1004.1 1856.8,990.5 1857.3,1005.7 1857.8,1018.7 1858.3,1021.7 1858.8,1049.5 1859.3,1015.9 1859.8,1009.2 1860.3,1005.6 1860.7,1009.3 1861.2,1008.3 1861.7,989.1 1862.2,1004.3 1862.7,1014.1 1863.2,1043.7 1863.7,1015.0 1864.2,1019.0 1864.7,1011.5 1865.2,1036.3 1865.7,1026.3 1866.2,1035.6 1866.7,1010.4 1867.2,1011.5 1867.7,1029.3 1868.2,1063.7 1868.7,1036.6 1869.2,1053.2 1869.7,1000.0 1870.2,1024.2 1870.7,1088.0 1871.2,1019.7 1871.7,1032.0 1872.2,1037.0 1872.7,1017.5 1873.2,1046.6 1873.7,995.1 1874.2,1008.0 1874.7,1044.8 1875.2,1043.9 1875.7,1010.6 1876.2,1031.5 1876.7,1050.8 1877.2,1023.9 1877.7,1014.3 1878.2,1042.1 1878.7,1010.5 1879.2,1009.8 1879.7,1022.1 1880.2,1017.9 1880.7,1021.7 1881.2,1034.3 1881.7,1008.3 1882.1,1027.6 1882.6,1027.3 1883.1,1022.8 1883.6,1041.0 1884.1,1020.9 1884.6,1031.5 1885.1,1034.5 1885.6,1035.3 1886.1,1058.4 1886.6,1063.9 1887.1,1038.5 1887.6,1007.8 1888.1,1043.5 1888.6,1020.1 1889.1,1004.2 1889.6,998.9 1890.1,1059.0 1890.6,1023.9 1891.1,1035.7 1891.6,1037.5 1892.1,1017.7 1892.6,1023.3 1893.1,999.6 1893.6,1010.3 1894.1,1058.2 1894.6,1028.9 1895.1,1020.5 1895.6,1029.7 1896.1,1054.7 1896.6,1028.3 1897.1,1043.5 1897.6,1032.5 1898.1,1033.1 1898.6,1039.2 1899.1,1040.0 1899.6,1029.4 1900.1,1024.1 1900.6,1004.4 1901.1,1049.2 1901.6,1062.3 1902.1,1032.4 1902.6,1027.8 1903.1,1047.1 1903.6,1038.9 1904.0,1044.3 1904.5,1027.7 1905.0,1037.4 1905.5,1049.3 1906.0,1052.5 1906.5,1049.2 1907.0,1025.0 1907.5,1055.6 1908.0,1045.3 1908.5,1025.6 1909.0,1039.7 1909.5,1030.7 1910.0,1032.5 1910.5,1026.0 1911.0,1032.6 1911.5,1045.6 1912.0,1050.4 1912.5,1014.5 1913.0,1035.2 1913.5,1017.7 1914.0,1028.1 1914.5,1042.7 1915.0,1042.7 1915.5,1040.2 1916.0,1055.4 1916.5,1033.4 1917.0,1031.2 1917.5,1043.1 1918.0,1058.5 1918.5,1055.5 1919.0,1050.6 1919.5,1045.7 1920.0,1047.4 1920.5,1052.5 1921.0,1044.5 1921.5,1045.6 1922.0,1054.1 1922.5,1037.1 1923.0,1019.5 1923.5,1044.4 1924.0,1020.7 1924.5,1022.0 1925.0,1020.5 1925.4,1049.5 1925.9,1035.5 1926.4,1051.6 1926.9,1017.8 1927.4,1045.9 1927.9,1034.5 1928.4,1034.5 1928.9,1072.2 1929.4,1070.4 1929.9,1044.9 1930.4,1066.8 1930.9,1049.3 1931.4,1061.7 1931.9,1035.3 1932.4,1044.9 1932.9,1022.0 1933.4,1049.1 1933.9,1035.9 1934.4,1047.5 1934.9,1041.1 1935.4,1059.6 1935.9,1043.7 1936.4,1041.1 1936.9,1040.6 1937.4,1070.8 1937.9,1064.0 1938.4,1067.9 1938.9,1067.3 1939.4,1056.2 1939.9,1041.3 1940.4,1042.6 1940.9,1043.2 1941.4,1061.7 1941.9,1041.3 1942.4,1056.4 1942.9,1067.9 1943.4,1055.5 1943.9,1067.0 1944.4,1039.5 1944.9,1061.3 1945.4,1051.8 1945.9,1067.2 1946.4,1036.5 1946.9,1072.0 1947.3,1066.5 1947.8,1061.6 1948.3,1044.1 1948.8,1033.3 1949.3,1034.0 1949.8,1066.1 1950.3,1038.9 1950.5,1041.2"/>
</g>
<g font-size="66.5">
<text transform="translate(265.5,64.9) scale(1,1.015)" text-anchor="end">1000</text>
<text transform="translate(265.5,217.1) scale(1,1.015)" text-anchor="end">100</text>
<text transform="translate(265.5,369.3) scale(1,1.015)" text-anchor="end">10</text>
<text transform="translate(265.5,521.6) scale(1,1.015)" text-anchor="end">1</text>
<text transform="translate(265.5,673.8) scale(1,1.015)" text-anchor="end">0.1</text>
<text transform="translate(265.5,826.0) scale(1,1.015)" text-anchor="end">0.01</text>
<text transform="translate(265.5,978.2) scale(1,1.015)" text-anchor="end">1E-3</text>
<text transform="translate(265.5,1130.5) scale(1,1.015)" text-anchor="end">1E-4</text>
<text transform="translate(265.5,1282.7) scale(1,1.015)" text-anchor="end">1E-5</text>
<text transform="translate(291.5,1341.2) scale(1,1.015)" text-anchor="middle">0</text>
<text transform="translate(623.3,1341.2) scale(1,1.015)" text-anchor="middle">100</text>
<text transform="translate(955.1,1341.2) scale(1,1.015)" text-anchor="middle">200</text>
<text transform="translate(1286.9,1341.2) scale(1,1.015)" text-anchor="middle">300</text>
<text transform="translate(1618.7,1341.2) scale(1,1.015)" text-anchor="middle">400</text>
<text transform="translate(1950.5,1341.2) scale(1,1.015)" text-anchor="middle">500</text>
</g>
<text transform="translate(1139.8,1423.6) scale(1,1.015)" text-anchor="middle" font-size="71.5">Frequency/Hz</text>
<text transform="translate(90.8,993.3) rotate(-90)" font-size="71.5">PSD_contact_force/N<tspan font-size="40" dy="-32.6">2</tspan></text>
<!-- legend -->
<line x1="469.5" y1="68.5" x2="615.5" y2="68.5" stroke="#00ff00" stroke-width="2.2"/>
<text transform="translate(878,91) scale(1,1.015)" font-size="65.6" text-anchor="end">280km/h</text>
<line x1="468" y1="168.5" x2="614" y2="168.5" stroke="#ff0000" stroke-width="2.2"/>
<text transform="translate(878.4,191) scale(1,1.015)" font-size="65.6" text-anchor="end">320km/h</text>
<line x1="472" y1="263" x2="618" y2="263" stroke="#0000ff" stroke-width="2.2"/>
<text transform="translate(880.8,286) scale(1,1.015)" font-size="65.6" text-anchor="end">360km/h</text>
<line x1="473.5" y1="359.4" x2="619.5" y2="359.4" stroke="#000000" stroke-width="1.3"/>
<text transform="translate(883,382.4) scale(1,1.015)" font-size="65.6" text-anchor="end">400km/h</text>
<line x1="476" y1="450" x2="622" y2="450" stroke="#ff00ff" stroke-width="2.2"/>
<text transform="translate(882.3,472) scale(1,1.015)" font-size="65.6" text-anchor="end">420km/h</text>
<!-- inset -->
<g stroke="#000" stroke-width="3.3" fill="none">
<line x1="1079.2" y1="91.19999999999999" x2="1079.2" y2="836.6"/>
<line x1="1077.6000000000001" y1="835.0" x2="2028.8999999999999" y2="835.0"/>
</g>
<g stroke="#000" stroke-width="2.9" fill="none">
<line x1="1079.2" y1="92.6" x2="1092.9" y2="92.6"/>
<line x1="1079.2" y1="216.3" x2="1092.9" y2="216.3"/>
<line x1="1079.2" y1="340.1" x2="1092.9" y2="340.1"/>
<line x1="1079.2" y1="463.8" x2="1092.9" y2="463.8"/>
<line x1="1079.2" y1="587.5" x2="1092.9" y2="587.5"/>
<line x1="1079.2" y1="711.3" x2="1092.9" y2="711.3"/>
<line x1="1079.2" y1="835.0" x2="1092.9" y2="835.0"/>
<line x1="1079.2" y1="835.0" x2="1079.2" y2="820.0"/>
<line x1="1174.0" y1="835.0" x2="1174.0" y2="820.0"/>
<line x1="1268.8" y1="835.0" x2="1268.8" y2="820.0"/>
<line x1="1363.6" y1="835.0" x2="1363.6" y2="820.0"/>
<line x1="1458.4" y1="835.0" x2="1458.4" y2="820.0"/>
<line x1="1553.2" y1="835.0" x2="1553.2" y2="820.0"/>
<line x1="1648.1" y1="835.0" x2="1648.1" y2="820.0"/>
<line x1="1742.9" y1="835.0" x2="1742.9" y2="820.0"/>
<line x1="1837.7" y1="835.0" x2="1837.7" y2="820.0"/>
<line x1="1932.5" y1="835.0" x2="1932.5" y2="820.0"/>
<line x1="2027.3" y1="835.0" x2="2027.3" y2="820.0"/>
<line x1="1079.2" y1="179.1" x2="1086.2" y2="179.1"/>
<line x1="1079.2" y1="157.3" x2="1086.2" y2="157.3"/>
<line x1="1079.2" y1="141.8" x2="1086.2" y2="141.8"/>
<line x1="1079.2" y1="129.8" x2="1086.2" y2="129.8"/>
<line x1="1079.2" y1="120.1" x2="1086.2" y2="120.1"/>
<line x1="1079.2" y1="111.8" x2="1086.2" y2="111.8"/>
<line x1="1079.2" y1="104.6" x2="1086.2" y2="104.6"/>
<line x1="1079.2" y1="98.3" x2="1086.2" y2="98.3"/>
<line x1="1079.2" y1="302.8" x2="1086.2" y2="302.8"/>
<line x1="1079.2" y1="281.0" x2="1086.2" y2="281.0"/>
<line x1="1079.2" y1="265.6" x2="1086.2" y2="265.6"/>
<line x1="1079.2" y1="253.6" x2="1086.2" y2="253.6"/>
<line x1="1079.2" y1="243.8" x2="1086.2" y2="243.8"/>
<line x1="1079.2" y1="235.5" x2="1086.2" y2="235.5"/>
<line x1="1079.2" y1="228.3" x2="1086.2" y2="228.3"/>
<line x1="1079.2" y1="222.0" x2="1086.2" y2="222.0"/>
<line x1="1079.2" y1="426.6" x2="1086.2" y2="426.6"/>
<line x1="1079.2" y1="404.8" x2="1086.2" y2="404.8"/>
<line x1="1079.2" y1="389.3" x2="1086.2" y2="389.3"/>
<line x1="1079.2" y1="377.3" x2="1086.2" y2="377.3"/>
<line x1="1079.2" y1="367.5" x2="1086.2" y2="367.5"/>
<line x1="1079.2" y1="359.2" x2="1086.2" y2="359.2"/>
<line x1="1079.2" y1="352.1" x2="1086.2" y2="352.1"/>
<line x1="1079.2" y1="345.7" x2="1086.2" y2="345.7"/>
<line x1="1079.2" y1="550.3" x2="1086.2" y2="550.3"/>
<line x1="1079.2" y1="528.5" x2="1086.2" y2="528.5"/>
<line x1="1079.2" y1="513.0" x2="1086.2" y2="513.0"/>
<line x1="1079.2" y1="501.0" x2="1086.2" y2="501.0"/>
<line x1="1079.2" y1="491.3" x2="1086.2" y2="491.3"/>
<line x1="1079.2" y1="483.0" x2="1086.2" y2="483.0"/>
<line x1="1079.2" y1="475.8" x2="1086.2" y2="475.8"/>
<line x1="1079.2" y1="469.5" x2="1086.2" y2="469.5"/>
<line x1="1079.2" y1="674.0" x2="1086.2" y2="674.0"/>
<line x1="1079.2" y1="652.2" x2="1086.2" y2="652.2"/>
<line x1="1079.2" y1="636.8" x2="1086.2" y2="636.8"/>
<line x1="1079.2" y1="624.8" x2="1086.2" y2="624.8"/>
<line x1="1079.2" y1="615.0" x2="1086.2" y2="615.0"/>
<line x1="1079.2" y1="606.7" x2="1086.2" y2="606.7"/>
<line x1="1079.2" y1="599.5" x2="1086.2" y2="599.5"/>
<line x1="1079.2" y1="593.2" x2="1086.2" y2="593.2"/>
<line x1="1079.2" y1="797.8" x2="1086.2" y2="797.8"/>
<line x1="1079.2" y1="776.0" x2="1086.2" y2="776.0"/>
<line x1="1079.2" y1="760.5" x2="1086.2" y2="760.5"/>
<line x1="1079.2" y1="748.5" x2="1086.2" y2="748.5"/>
<line x1="1079.2" y1="738.7" x2="1086.2" y2="738.7"/>
<line x1="1079.2" y1="730.4" x2="1086.2" y2="730.4"/>
<line x1="1079.2" y1="723.3" x2="1086.2" y2="723.3"/>
<line x1="1079.2" y1="716.9" x2="1086.2" y2="716.9"/>
<line x1="1126.6" y1="835.0" x2="1126.6" y2="827.0"/>
<line x1="1221.4" y1="835.0" x2="1221.4" y2="827.0"/>
<line x1="1316.2" y1="835.0" x2="1316.2" y2="827.0"/>
<line x1="1411.0" y1="835.0" x2="1411.0" y2="827.0"/>
<line x1="1505.8" y1="835.0" x2="1505.8" y2="827.0"/>
<line x1="1600.7" y1="835.0" x2="1600.7" y2="827.0"/>
<line x1="1695.5" y1="835.0" x2="1695.5" y2="827.0"/>
<line x1="1790.3" y1="835.0" x2="1790.3" y2="827.0"/>
<line x1="1885.1" y1="835.0" x2="1885.1" y2="827.0"/>
<line x1="1979.9" y1="835.0" x2="1979.9" y2="827.0"/>
</g>
<g clip-path="url(#ci)">
<polyline fill="none" stroke="#00ff00" stroke-width="1.15" stroke-linejoin="round" points="1079.20,228.71 1082.04,270.78 1084.89,465.17 1087.73,473.40 1090.58,456.42 1093.42,444.02 1096.27,425.92 1099.11,397.39 1101.95,411.80 1104.80,392.67 1107.64,462.25 1110.49,403.62 1113.33,352.11 1116.18,296.85 1119.02,204.11 1121.86,288.38 1124.71,354.64 1127.55,367.11 1130.40,433.86 1133.24,433.14 1136.09,546.76 1138.93,476.76 1141.77,552.23 1144.62,498.57 1147.46,492.39 1150.31,505.04 1153.15,630.37 1156.00,495.97 1158.84,491.22 1161.68,776.85 1164.53,572.89 1167.37,514.88 1170.22,542.49 1173.06,499.69 1175.91,449.96 1178.75,529.53 1181.59,669.20 1184.44,450.78 1187.28,511.88 1190.13,484.10 1192.97,475.21 1195.82,418.28 1198.66,381.70 1201.50,411.66 1204.35,452.01 1207.19,553.21 1210.04,442.22 1212.88,475.14 1215.73,514.63 1218.57,412.93 1221.41,459.00 1224.26,505.07 1227.10,482.87 1229.95,462.34 1232.79,489.67 1235.64,470.25 1238.48,415.22 1241.33,428.27 1244.17,476.06 1247.01,518.37 1249.86,466.65 1252.70,491.81 1255.55,454.43 1258.39,467.79 1261.24,483.36 1264.08,462.24 1266.92,420.23 1269.77,441.49 1272.61,443.92 1275.46,415.97 1278.30,215.48 1281.15,467.96 1283.99,517.16 1286.83,562.99 1289.68,556.12 1292.52,607.03 1295.37,733.54 1298.21,674.06 1301.06,661.94 1303.90,595.14 1306.74,642.39 1309.59,615.12 1312.43,560.01 1315.28,494.07 1318.12,423.46 1320.97,540.80 1323.81,556.71 1326.65,576.26 1329.50,567.33 1332.34,575.42 1335.19,583.79 1338.03,577.25 1340.88,590.65 1343.72,575.80 1346.56,589.67 1349.41,584.11 1352.25,607.42 1355.10,589.34 1357.94,614.32 1360.79,619.33 1363.63,599.77 1366.47,607.47 1369.32,595.62 1372.16,571.79 1375.01,608.55 1377.85,606.68 1380.70,597.47 1383.54,594.60 1386.38,602.95 1389.23,603.76 1392.07,593.52 1394.92,596.09 1397.76,614.75 1400.61,603.91 1403.45,602.93 1406.29,616.08 1409.14,600.97 1411.98,614.43 1414.83,593.23 1417.67,602.69 1420.52,604.21 1423.36,612.52 1426.20,607.27 1429.05,629.67 1431.89,619.79 1434.74,649.40 1437.58,632.09 1440.43,597.38 1443.27,628.11 1446.11,598.92 1448.96,617.96 1451.80,599.04 1454.65,606.80 1457.49,626.52 1460.34,593.85 1463.18,591.62 1466.02,609.08 1468.87,610.55 1471.71,608.23 1474.56,617.84 1477.40,488.55 1480.25,649.40 1483.09,623.04 1485.93,632.05 1488.78,633.08 1491.62,638.40 1494.47,625.43 1497.31,634.74 1500.16,629.45 1503.00,635.76 1505.85,640.44 1508.69,638.75 1511.53,640.22 1514.38,634.50 1517.22,805.30 1520.07,581.35 1522.91,625.00 1525.76,620.61 1528.60,607.02 1531.44,621.12 1534.29,624.54 1537.13,618.17 1539.98,613.87 1542.82,632.13 1545.67,627.12 1548.51,631.66 1551.35,640.19 1554.20,628.00 1557.04,634.17 1559.89,635.27 1562.73,641.31 1565.58,635.43 1568.42,641.76 1571.26,640.15 1574.11,646.26 1576.95,647.48 1579.80,680.33 1582.64,644.61 1585.49,640.62 1588.33,643.00 1591.17,645.82 1594.02,646.68 1596.86,640.65 1599.71,646.38 1602.55,645.92 1605.40,661.77 1608.24,639.04 1611.08,642.16 1613.93,644.10 1616.77,649.70 1619.62,654.53 1622.46,641.39 1625.31,641.38 1628.15,647.72 1630.99,643.80 1633.84,642.21 1636.68,688.99 1639.53,640.48 1642.37,647.63 1645.22,635.61 1648.06,650.43 1650.90,637.44 1653.75,638.47 1656.59,635.20 1659.44,628.34 1662.28,629.34 1665.13,642.17 1667.97,642.77 1670.81,626.63 1673.66,637.25 1676.50,639.50 1679.35,525.67 1682.19,698.89 1685.04,685.52 1687.88,672.65 1690.72,673.78 1693.57,675.25 1696.41,673.39 1699.26,678.21 1702.10,681.57 1704.95,673.51 1707.79,677.66 1710.63,681.03 1713.48,668.01 1716.32,669.95 1719.17,665.68 1722.01,671.89 1724.86,708.79 1727.70,668.83 1730.54,667.19 1733.39,660.66 1736.23,667.87 1739.08,664.82 1741.92,667.96 1744.77,659.64 1747.61,680.17 1750.45,668.23 1753.30,674.80 1756.14,675.35 1758.99,684.46 1761.83,679.74 1764.68,673.76 1767.52,679.30 1770.36,679.18 1773.21,682.07 1776.05,674.58 1778.90,681.98 1781.74,695.06 1784.59,687.11 1787.43,711.27 1790.28,702.86 1793.12,687.91 1795.96,677.81 1798.81,685.61 1801.65,692.99 1804.50,692.08 1807.34,680.66 1810.19,686.54 1813.03,687.47 1815.87,688.32 1818.72,688.03 1821.56,683.87 1824.41,685.49 1827.25,687.54 1830.10,694.81 1832.94,686.04 1835.78,692.88 1838.63,682.77 1841.47,696.23 1844.32,689.78 1847.16,689.04 1850.01,696.53 1852.85,679.19 1855.69,680.68 1858.54,691.63 1861.38,684.60 1864.23,686.84 1867.07,703.87 1869.92,687.57 1872.76,689.44 1875.60,649.40 1878.45,717.45 1881.29,696.02 1884.14,697.13 1886.98,690.09 1889.83,695.53 1892.67,697.98 1895.51,689.69 1898.36,701.94 1901.20,701.34 1904.05,709.77 1906.89,690.78 1909.74,694.49 1912.58,695.02 1915.42,696.69 1918.27,764.47 1921.11,699.83 1923.96,702.81 1926.80,702.89 1929.65,701.83 1932.49,694.00 1935.33,699.99 1938.18,704.12 1941.02,707.81 1943.87,708.93 1946.71,726.11 1949.56,704.24 1952.40,707.74 1955.24,711.14 1958.09,716.56 1960.93,711.76 1963.78,707.55 1966.62,715.94 1969.47,716.18 1972.31,717.34 1975.15,716.66 1978.00,727.54 1980.84,721.00 1983.69,725.68 1986.53,732.30 1989.38,727.43 1992.22,720.82 1995.06,716.44 1997.91,727.85 2000.75,730.38 2003.60,726.69 2006.44,728.54 2009.29,734.85 2012.13,727.15 2014.97,718.78 2017.82,732.09 2020.66,732.04 2023.51,736.98 2026.35,728.63"/>
<polyline fill="none" stroke="#ff0000" stroke-width="1.15" stroke-linejoin="round" points="1079.20,55.48 1082.04,426.68 1084.89,443.48 1087.73,490.54 1090.58,453.31 1093.42,444.54 1096.27,465.21 1099.11,423.78 1101.95,432.88 1104.80,366.93 1107.64,363.68 1110.49,359.01 1113.33,325.99 1116.18,245.93 1119.02,168.44 1121.86,361.33 1124.71,444.67 1127.55,477.21 1130.40,453.36 1133.24,442.86 1136.09,424.34 1138.93,464.30 1141.77,451.13 1144.62,604.86 1147.46,471.92 1150.31,547.42 1153.15,466.83 1156.00,479.21 1158.84,475.66 1161.68,445.70 1164.53,424.56 1167.37,565.72 1170.22,510.68 1173.06,483.24 1175.91,427.70 1178.75,515.44 1181.59,443.36 1184.44,494.68 1187.28,544.19 1190.13,461.07 1192.97,479.35 1195.82,389.53 1198.66,357.79 1201.50,362.79 1204.35,465.31 1207.19,401.97 1210.04,426.89 1212.88,488.29 1215.73,391.38 1218.57,412.65 1221.41,530.06 1224.26,473.45 1227.10,546.62 1229.95,477.88 1232.79,460.91 1235.64,458.60 1238.48,393.50 1241.33,437.43 1244.17,501.37 1247.01,470.88 1249.86,456.29 1252.70,471.62 1255.55,429.78 1258.39,457.43 1261.24,451.47 1264.08,424.40 1266.92,532.09 1269.77,464.46 1272.61,453.77 1275.46,414.37 1278.30,197.53 1281.15,450.37 1283.99,498.48 1286.83,539.39 1289.68,563.96 1292.52,586.44 1295.37,595.99 1298.21,649.97 1301.06,687.15 1303.90,697.89 1306.74,615.77 1309.59,683.62 1312.43,639.97 1315.28,615.01 1318.12,436.93 1320.97,708.79 1323.81,513.77 1326.65,539.79 1329.50,539.70 1332.34,538.80 1335.19,536.91 1338.03,563.91 1340.88,556.17 1343.72,554.66 1346.56,576.79 1349.41,549.00 1352.25,554.46 1355.10,554.74 1357.94,578.48 1360.79,561.71 1363.63,685.28 1366.47,554.91 1369.32,574.54 1372.16,562.23 1375.01,548.95 1377.85,578.53 1380.70,579.95 1383.54,580.60 1386.38,595.81 1389.23,584.26 1392.07,562.64 1394.92,593.75 1397.76,586.50 1400.61,571.51 1403.45,579.88 1406.29,584.66 1409.14,591.89 1411.98,589.83 1414.83,588.63 1417.67,580.82 1420.52,587.89 1423.36,577.84 1426.20,610.40 1429.05,579.13 1431.89,594.73 1434.74,588.35 1437.58,593.30 1440.43,534.95 1443.27,589.46 1446.11,580.65 1448.96,597.07 1451.80,585.30 1454.65,573.00 1457.49,574.05 1460.34,590.85 1463.18,584.75 1466.02,589.93 1468.87,585.07 1471.71,581.62 1474.56,568.09 1477.40,453.90 1480.25,718.69 1483.09,616.79 1485.93,645.29 1488.78,636.68 1491.62,641.99 1494.47,649.86 1497.31,646.81 1500.16,643.43 1503.00,629.84 1505.85,640.05 1508.69,641.87 1511.53,640.90 1514.38,641.82 1517.22,753.34 1520.07,587.53 1522.91,621.83 1525.76,613.18 1528.60,588.92 1531.44,607.02 1534.29,612.82 1537.13,609.47 1539.98,621.58 1542.82,616.76 1545.67,613.80 1548.51,631.60 1551.35,628.17 1554.20,628.07 1557.04,629.21 1559.89,632.37 1562.73,628.87 1565.58,625.29 1568.42,630.42 1571.26,626.97 1574.11,627.68 1576.95,638.88 1579.80,634.20 1582.64,639.08 1585.49,633.34 1588.33,640.45 1591.17,640.15 1594.02,628.96 1596.86,641.45 1599.71,650.79 1602.55,640.78 1605.40,640.21 1608.24,645.76 1611.08,642.57 1613.93,636.96 1616.77,646.99 1619.62,645.17 1622.46,648.65 1625.31,642.24 1628.15,645.17 1630.99,650.18 1633.84,645.23 1636.68,680.33 1639.53,654.50 1642.37,652.08 1645.22,640.76 1648.06,651.01 1650.90,629.32 1653.75,650.19 1656.59,648.12 1659.44,642.15 1662.28,630.69 1665.13,627.34 1667.97,621.79 1670.81,661.77 1673.66,610.91 1676.50,639.38 1679.35,476.17 1682.19,698.89 1685.04,672.65 1687.88,664.61 1690.72,658.83 1693.57,658.48 1696.41,666.94 1699.26,654.09 1702.10,662.25 1704.95,658.30 1707.79,671.33 1710.63,668.90 1713.48,668.21 1716.32,651.20 1719.17,675.52 1722.01,670.90 1724.86,652.91 1727.70,655.76 1730.54,674.39 1733.39,657.98 1736.23,659.61 1739.08,654.64 1741.92,678.05 1744.77,670.61 1747.61,661.55 1750.45,664.36 1753.30,675.77 1756.14,672.64 1758.99,680.89 1761.83,663.85 1764.68,675.82 1767.52,665.85 1770.36,669.46 1773.21,680.65 1776.05,676.60 1778.90,672.19 1781.74,674.01 1784.59,667.72 1787.43,698.89 1790.28,676.12 1793.12,674.24 1795.96,683.37 1798.81,683.00 1801.65,675.83 1804.50,677.78 1807.34,687.07 1810.19,680.88 1813.03,685.58 1815.87,684.24 1818.72,672.86 1821.56,686.97 1824.41,685.27 1827.25,711.27 1830.10,680.86 1832.94,680.33 1835.78,690.41 1838.63,681.57 1841.47,683.71 1844.32,686.44 1847.16,684.90 1850.01,683.22 1852.85,676.15 1855.69,669.65 1858.54,680.69 1861.38,672.13 1864.23,680.66 1867.07,690.62 1869.92,681.00 1872.76,673.47 1875.60,606.09 1878.45,711.27 1881.29,672.92 1884.14,693.07 1886.98,693.76 1889.83,693.05 1892.67,681.27 1895.51,688.25 1898.36,685.46 1901.20,705.31 1904.05,692.11 1906.89,692.76 1909.74,687.98 1912.58,695.50 1915.42,685.40 1918.27,697.39 1921.11,702.08 1923.96,703.92 1926.80,686.19 1929.65,689.74 1932.49,699.79 1935.33,688.53 1938.18,696.93 1941.02,697.08 1943.87,705.88 1946.71,717.45 1949.56,696.98 1952.40,696.84 1955.24,702.06 1958.09,692.84 1960.93,690.54 1963.78,705.03 1966.62,698.02 1969.47,710.54 1972.31,699.06 1975.15,708.23 1978.00,703.83 1980.84,702.47 1983.69,705.77 1986.53,729.83 1989.38,710.68 1992.22,709.63 1995.06,705.62 1997.91,708.85 2000.75,708.11 2003.60,712.12 2006.44,717.02 2009.29,709.15 2012.13,714.14 2014.97,710.46 2017.82,709.30 2020.66,721.38 2023.51,725.49 2026.35,726.51"/>
<polyline fill="none" stroke="#0000ff" stroke-width="1.15" stroke-linejoin="round" points="1079.20,302.95 1082.04,352.44 1084.89,354.44 1087.73,366.40 1090.58,397.68 1093.42,371.04 1096.27,383.63 1099.11,319.69 1101.95,361.63 1104.80,387.60 1107.64,244.81 1110.49,268.05 1113.33,275.40 1116.18,230.71 1119.02,190.97 1121.86,300.79 1124.71,311.95 1127.55,341.15 1130.40,410.35 1133.24,389.84 1136.09,442.88 1138.93,432.23 1141.77,350.25 1144.62,453.18 1147.46,448.29 1150.31,693.94 1153.15,512.33 1156.00,447.94 1158.84,433.99 1161.68,491.57 1164.53,486.13 1167.37,431.48 1170.22,447.82 1173.06,465.47 1175.91,461.91 1178.75,429.14 1181.59,460.89 1184.44,487.40 1187.28,430.83 1190.13,448.62 1192.97,437.92 1195.82,356.22 1198.66,367.55 1201.50,394.63 1204.35,484.68 1207.19,367.09 1210.04,430.88 1212.88,449.25 1215.73,424.30 1218.57,702.61 1221.41,425.12 1224.26,473.09 1227.10,448.38 1229.95,580.11 1232.79,453.75 1235.64,792.93 1238.48,416.28 1241.33,503.55 1244.17,457.03 1247.01,446.45 1249.86,512.51 1252.70,351.45 1255.55,454.36 1258.39,434.72 1261.24,449.00 1264.08,434.91 1266.92,418.46 1269.77,450.82 1272.61,426.53 1275.46,400.26 1278.30,172.78 1281.15,435.78 1283.99,480.65 1286.83,529.33 1289.68,608.99 1292.52,533.06 1295.37,575.10 1298.21,639.96 1301.06,538.15 1303.90,661.91 1306.74,607.78 1309.59,532.00 1312.43,478.92 1315.28,447.51 1318.12,425.77 1320.97,511.36 1323.81,532.45 1326.65,531.06 1329.50,565.88 1332.34,551.04 1335.19,535.68 1338.03,543.38 1340.88,538.33 1343.72,590.37 1346.56,529.52 1349.41,537.00 1352.25,523.83 1355.10,556.29 1357.94,539.80 1360.79,544.62 1363.63,555.10 1366.47,547.45 1369.32,553.22 1372.16,547.01 1375.01,558.05 1377.85,555.66 1380.70,566.33 1383.54,563.01 1386.38,556.27 1389.23,555.69 1392.07,555.47 1394.92,550.01 1397.76,569.92 1400.61,534.33 1403.45,581.89 1406.29,547.25 1409.14,540.00 1411.98,558.83 1414.83,556.00 1417.67,572.87 1420.52,562.47 1423.36,547.42 1426.20,560.67 1429.05,581.42 1431.89,561.33 1434.74,564.99 1437.58,554.79 1440.43,545.76 1443.27,564.86 1446.11,559.63 1448.96,553.99 1451.80,576.06 1454.65,568.45 1457.49,585.60 1460.34,562.93 1463.18,557.41 1466.02,561.10 1468.87,557.48 1471.71,569.36 1474.56,570.42 1477.40,430.39 1480.25,698.89 1483.09,607.13 1485.93,611.82 1488.78,622.60 1491.62,625.10 1494.47,617.30 1497.31,620.85 1500.16,618.92 1503.00,605.93 1505.85,618.89 1508.69,620.66 1511.53,608.51 1514.38,623.31 1517.22,610.58 1520.07,575.16 1522.91,593.17 1525.76,576.11 1528.60,603.92 1531.44,583.93 1534.29,602.00 1537.13,605.26 1539.98,597.71 1542.82,599.28 1545.67,602.72 1548.51,610.07 1551.35,600.59 1554.20,615.32 1557.04,604.75 1559.89,592.09 1562.73,620.35 1565.58,611.15 1568.42,612.83 1571.26,624.32 1574.11,614.92 1576.95,609.31 1579.80,610.22 1582.64,612.51 1585.49,621.36 1588.33,618.96 1591.17,624.52 1594.02,611.68 1596.86,624.65 1599.71,627.35 1602.55,624.58 1605.40,610.13 1608.24,632.02 1611.08,616.10 1613.93,617.21 1616.77,625.99 1619.62,621.26 1622.46,632.50 1625.31,620.36 1628.15,619.88 1630.99,627.86 1633.84,621.61 1636.68,622.38 1639.53,618.52 1642.37,617.29 1645.22,614.34 1648.06,621.46 1650.90,616.23 1653.75,613.46 1656.59,607.50 1659.44,616.67 1662.28,619.05 1665.13,615.77 1667.97,606.04 1670.81,611.76 1673.66,607.25 1676.50,607.66 1679.35,519.48 1682.19,707.55 1685.04,666.71 1687.88,655.65 1690.72,661.23 1693.57,666.71 1696.41,654.43 1699.26,656.85 1702.10,656.58 1704.95,658.26 1707.79,655.18 1710.63,663.00 1713.48,661.84 1716.32,661.46 1719.17,618.47 1722.01,648.14 1724.86,641.62 1727.70,647.33 1730.54,645.02 1733.39,642.57 1736.23,644.56 1739.08,650.72 1741.92,643.73 1744.77,653.03 1747.61,672.24 1750.45,660.11 1753.30,655.34 1756.14,656.79 1758.99,658.21 1761.83,660.76 1764.68,650.17 1767.52,665.99 1770.36,656.47 1773.21,655.94 1776.05,656.26 1778.90,648.86 1781.74,669.40 1784.59,668.34 1787.43,662.11 1790.28,661.56 1793.12,661.70 1795.96,670.17 1798.81,668.61 1801.65,656.24 1804.50,662.33 1807.34,662.61 1810.19,661.72 1813.03,655.70 1815.87,668.53 1818.72,665.70 1821.56,678.19 1824.41,670.23 1827.25,666.05 1830.10,664.02 1832.94,672.92 1835.78,677.08 1838.63,673.74 1841.47,681.93 1844.32,675.25 1847.16,669.25 1850.01,665.30 1852.85,658.85 1855.69,667.30 1858.54,673.36 1861.38,667.04 1864.23,670.82 1867.07,661.59 1869.92,661.49 1872.76,679.25 1875.60,624.65 1878.45,698.89 1881.29,664.12 1884.14,674.47 1886.98,693.82 1889.83,669.85 1892.67,672.29 1895.51,676.21 1898.36,670.35 1901.20,674.13 1904.05,672.52 1906.89,678.20 1909.74,677.98 1912.58,674.66 1915.42,679.59 1918.27,685.51 1921.11,686.23 1923.96,676.68 1926.80,684.31 1929.65,685.01 1932.49,684.25 1935.33,675.97 1938.18,694.80 1941.02,697.95 1943.87,681.47 1946.71,685.02 1949.56,674.97 1952.40,687.66 1955.24,696.32 1958.09,686.15 1960.93,687.08 1963.78,688.08 1966.62,689.25 1969.47,678.76 1972.31,696.36 1975.15,692.78 1978.00,696.90 1980.84,709.01 1983.69,706.91 1986.53,706.21 1989.38,703.54 1992.22,710.47 1995.06,694.52 1997.91,705.32 2000.75,711.95 2003.60,711.27 2006.44,707.00 2009.29,712.12 2012.13,715.62 2014.97,717.16 2017.82,709.75 2020.66,698.61 2023.51,727.97 2026.35,712.29"/>
<polyline fill="none" stroke="#000000" stroke-width="1.15" stroke-linejoin="round" points="1079.20,278.20 1082.04,340.07 1084.89,314.70 1087.73,319.96 1090.58,356.14 1093.42,321.34 1096.27,349.42 1099.11,364.91 1101.95,361.93 1104.80,304.70 1107.64,257.14 1110.49,191.78 1113.33,282.07 1116.18,214.00 1119.02,169.73 1121.86,336.41 1124.71,386.79 1127.55,350.55 1130.40,374.82 1133.24,395.42 1136.09,408.38 1138.93,494.49 1141.77,464.36 1144.62,466.11 1147.46,437.90 1150.31,451.99 1153.15,449.65 1156.00,463.97 1158.84,463.05 1161.68,458.96 1164.53,438.34 1167.37,559.48 1170.22,446.89 1173.06,455.78 1175.91,441.68 1178.75,447.93 1181.59,446.17 1184.44,470.11 1187.28,541.66 1190.13,835.00 1192.97,438.51 1195.82,335.77 1198.66,362.30 1201.50,434.09 1204.35,535.84 1207.19,428.21 1210.04,388.58 1212.88,464.34 1215.73,438.72 1218.57,426.39 1221.41,532.22 1224.26,461.65 1227.10,431.83 1229.95,493.35 1232.79,439.97 1235.64,449.18 1238.48,394.45 1241.33,483.06 1244.17,459.22 1247.01,396.22 1249.86,549.44 1252.70,434.95 1255.55,389.66 1258.39,446.44 1261.24,426.12 1264.08,427.13 1266.92,491.47 1269.77,466.97 1272.61,431.90 1275.46,402.11 1278.30,203.48 1281.15,440.39 1283.99,477.43 1286.83,524.23 1289.68,582.21 1292.52,597.31 1295.37,643.38 1298.21,740.96 1301.06,603.58 1303.90,536.10 1306.74,607.97 1309.59,686.52 1312.43,618.16 1315.28,544.94 1318.12,474.12 1320.97,510.88 1323.81,521.74 1326.65,529.31 1329.50,557.66 1332.34,539.64 1335.19,540.06 1338.03,525.10 1340.88,537.70 1343.72,550.60 1346.56,555.12 1349.41,558.20 1352.25,538.97 1355.10,560.30 1357.94,554.20 1360.79,577.37 1363.63,567.24 1366.47,566.55 1369.32,539.57 1372.16,559.61 1375.01,570.54 1377.85,565.32 1380.70,534.49 1383.54,567.68 1386.38,554.38 1389.23,578.82 1392.07,573.49 1394.92,538.04 1397.76,578.58 1400.61,551.02 1403.45,579.57 1406.29,566.06 1409.14,585.94 1411.98,581.70 1414.83,578.68 1417.67,568.74 1420.52,575.69 1423.36,589.73 1426.20,583.35 1429.05,573.93 1431.89,585.65 1434.74,637.03 1437.58,588.53 1440.43,589.31 1443.27,569.09 1446.11,549.39 1448.96,545.83 1451.80,553.49 1454.65,577.34 1457.49,560.92 1460.34,592.51 1463.18,575.49 1466.02,534.90 1468.87,554.46 1471.71,557.50 1474.56,560.68 1477.40,476.17 1480.25,792.93 1483.09,617.87 1485.93,602.82 1488.78,620.09 1491.62,623.51 1494.47,626.99 1497.31,628.84 1500.16,623.23 1503.00,621.69 1505.85,632.30 1508.69,625.03 1511.53,632.38 1514.38,607.84 1517.22,603.09 1520.07,550.41 1522.91,592.33 1525.76,589.07 1528.60,598.79 1531.44,583.43 1534.29,590.46 1537.13,602.55 1539.98,600.11 1542.82,599.88 1545.67,605.92 1548.51,609.88 1551.35,611.03 1554.20,616.78 1557.04,601.16 1559.89,609.93 1562.73,624.28 1565.58,619.04 1568.42,614.32 1571.26,612.89 1574.11,609.16 1576.95,614.99 1579.80,608.46 1582.64,612.80 1585.49,616.62 1588.33,621.61 1591.17,605.75 1594.02,617.42 1596.86,621.69 1599.71,620.85 1602.55,619.79 1605.40,618.36 1608.24,622.75 1611.08,636.08 1613.93,621.81 1616.77,634.10 1619.62,621.01 1622.46,619.10 1625.31,623.22 1628.15,624.93 1630.99,629.50 1633.84,631.54 1636.68,636.31 1639.53,620.77 1642.37,618.31 1645.22,627.18 1648.06,617.89 1650.90,617.83 1653.75,620.40 1656.59,630.28 1659.44,614.82 1662.28,616.72 1665.13,599.43 1667.97,603.54 1670.81,604.44 1673.66,590.12 1676.50,612.41 1679.35,500.92 1682.19,758.29 1685.04,663.43 1687.88,661.88 1690.72,666.93 1693.57,665.31 1696.41,669.42 1699.26,669.26 1702.10,662.71 1704.95,665.60 1707.79,660.43 1710.63,664.08 1713.48,667.86 1716.32,624.65 1719.17,654.42 1722.01,643.17 1724.86,648.33 1727.70,653.20 1730.54,643.51 1733.39,654.99 1736.23,642.19 1739.08,663.15 1741.92,643.97 1744.77,651.92 1747.61,652.19 1750.45,653.40 1753.30,661.75 1756.14,655.73 1758.99,651.93 1761.83,658.11 1764.68,664.93 1767.52,653.62 1770.36,656.26 1773.21,664.55 1776.05,653.18 1778.90,657.40 1781.74,663.14 1784.59,673.97 1787.43,658.60 1790.28,673.28 1793.12,664.72 1795.96,676.57 1798.81,675.56 1801.65,664.70 1804.50,684.21 1807.34,664.01 1810.19,655.25 1813.03,665.63 1815.87,670.74 1818.72,675.20 1821.56,673.65 1824.41,662.70 1827.25,667.93 1830.10,670.45 1832.94,660.27 1835.78,669.31 1838.63,671.27 1841.47,677.36 1844.32,663.74 1847.16,677.40 1850.01,668.39 1852.85,670.54 1855.69,662.69 1858.54,658.88 1861.38,657.29 1864.23,669.11 1867.07,675.27 1869.92,681.72 1872.76,655.05 1875.60,599.91 1878.45,698.89 1881.29,667.17 1884.14,681.03 1886.98,672.67 1889.83,682.09 1892.67,685.86 1895.51,680.05 1898.36,679.05 1901.20,672.31 1904.05,681.22 1906.89,708.79 1909.74,679.85 1912.58,680.28 1915.42,688.95 1918.27,680.68 1921.11,675.39 1923.96,685.91 1926.80,683.65 1929.65,684.68 1932.49,677.08 1935.33,672.61 1938.18,687.55 1941.02,682.67 1943.87,684.47 1946.71,697.00 1949.56,681.91 1952.40,691.23 1955.24,688.70 1958.09,698.24 1960.93,688.34 1963.78,704.80 1966.62,689.76 1969.47,687.82 1972.31,699.11 1975.15,708.02 1978.00,692.83 1980.84,705.55 1983.69,708.57 1986.53,691.17 1989.38,713.46 1992.22,712.14 1995.06,710.75 1997.91,710.79 2000.75,719.88 2003.60,701.09 2006.44,724.92 2009.29,719.52 2012.13,714.43 2014.97,714.63 2017.82,722.20 2020.66,724.05 2023.51,718.95 2026.35,722.01"/>
<polyline fill="none" stroke="#ff00ff" stroke-width="1.15" stroke-linejoin="round" points="1079.20,185.40 1082.04,327.69 1084.89,343.95 1087.73,311.35 1090.58,312.79 1093.42,345.27 1096.27,378.13 1099.11,386.05 1101.95,354.53 1104.80,302.05 1107.64,263.76 1110.49,197.31 1113.33,263.20 1116.18,296.71 1119.02,234.79 1121.86,313.85 1124.71,305.89 1127.55,301.32 1130.40,364.13 1133.24,378.68 1136.09,421.94 1138.93,404.11 1141.77,380.74 1144.62,467.48 1147.46,394.16 1150.31,424.58 1153.15,412.71 1156.00,422.64 1158.84,547.36 1161.68,471.85 1164.53,455.12 1167.37,705.08 1170.22,483.25 1173.06,452.07 1175.91,353.92 1178.75,490.02 1181.59,455.03 1184.44,438.44 1187.28,460.78 1190.13,569.42 1192.97,434.20 1195.82,367.27 1198.66,370.31 1201.50,430.94 1204.35,433.20 1207.19,398.55 1210.04,533.20 1212.88,412.08 1215.73,570.70 1218.57,478.07 1221.41,424.07 1224.26,436.20 1227.10,494.76 1229.95,420.66 1232.79,517.24 1235.64,425.21 1238.48,432.35 1241.33,431.37 1244.17,390.80 1247.01,361.08 1249.86,409.64 1252.70,454.56 1255.55,497.79 1258.39,401.25 1261.24,415.35 1264.08,419.87 1266.92,374.21 1269.77,378.59 1272.61,346.00 1275.46,328.92 1278.30,210.41 1281.15,369.86 1283.99,428.36 1286.83,477.31 1289.68,488.65 1292.52,536.59 1295.37,570.63 1298.21,556.15 1301.06,548.20 1303.90,581.04 1306.74,582.62 1309.59,552.09 1312.43,532.45 1315.28,431.76 1318.12,442.86 1320.97,464.97 1323.81,495.95 1326.65,516.28 1329.50,515.48 1332.34,548.20 1335.19,522.52 1338.03,536.06 1340.88,528.08 1343.72,539.40 1346.56,536.33 1349.41,556.49 1352.25,541.78 1355.10,572.13 1357.94,582.19 1360.79,552.47 1363.63,545.68 1366.47,557.85 1369.32,541.33 1372.16,545.36 1375.01,551.35 1377.85,553.86 1380.70,560.35 1383.54,562.13 1386.38,554.78 1389.23,576.01 1392.07,563.75 1394.92,571.91 1397.76,560.52 1400.61,552.49 1403.45,542.84 1406.29,565.74 1409.14,577.08 1411.98,543.58 1414.83,566.68 1417.67,549.54 1420.52,541.87 1423.36,584.75 1426.20,567.03 1429.05,570.96 1431.89,573.47 1434.74,576.42 1437.58,566.63 1440.43,534.95 1443.27,562.13 1446.11,568.84 1448.96,569.71 1451.80,567.65 1454.65,574.42 1457.49,571.63 1460.34,574.09 1463.18,576.88 1466.02,561.93 1468.87,554.46 1471.71,548.78 1474.56,551.94 1477.40,463.80 1480.25,718.69 1483.09,584.19 1485.93,607.65 1488.78,595.08 1491.62,598.40 1494.47,595.49 1497.31,607.74 1500.16,599.61 1503.00,602.03 1505.85,607.88 1508.69,608.89 1511.53,601.07 1514.38,604.14 1517.22,674.15 1520.07,545.46 1522.91,573.05 1525.76,569.73 1528.60,560.91 1531.44,569.43 1534.29,569.94 1537.13,584.55 1539.98,575.61 1542.82,579.56 1545.67,575.49 1548.51,578.65 1551.35,579.61 1554.20,589.16 1557.04,594.46 1559.89,602.50 1562.73,607.83 1565.58,596.93 1568.42,601.97 1571.26,600.23 1574.11,600.33 1576.95,605.18 1579.80,604.55 1582.64,607.74 1585.49,604.53 1588.33,601.57 1591.17,607.54 1594.02,617.43 1596.86,602.81 1599.71,614.49 1602.55,616.85 1605.40,605.01 1608.24,607.18 1611.08,621.98 1613.93,617.06 1616.77,616.84 1619.62,617.15 1622.46,620.37 1625.31,620.47 1628.15,630.35 1630.99,613.93 1633.84,617.87 1636.68,587.53 1639.53,614.02 1642.37,616.15 1645.22,605.18 1648.06,609.33 1650.90,612.90 1653.75,596.13 1656.59,600.72 1659.44,601.56 1662.28,596.13 1665.13,590.04 1667.97,579.58 1670.81,570.54 1673.66,573.47 1676.50,589.75 1679.35,494.73 1682.19,736.01 1685.04,669.59 1687.88,658.75 1690.72,665.03 1693.57,678.78 1696.41,660.99 1699.26,667.28 1702.10,668.98 1704.95,662.14 1707.79,662.87 1710.63,660.41 1713.48,655.02 1716.32,660.29 1719.17,652.93 1722.01,647.86 1724.86,638.60 1727.70,640.45 1730.54,640.88 1733.39,628.83 1736.23,648.43 1739.08,639.11 1741.92,645.67 1744.77,631.78 1747.61,649.39 1750.45,635.90 1753.30,645.88 1756.14,652.65 1758.99,653.88 1761.83,656.17 1764.68,648.24 1767.52,658.18 1770.36,647.46 1773.21,647.19 1776.05,660.49 1778.90,661.59 1781.74,662.93 1784.59,651.78 1787.43,680.33 1790.28,673.78 1793.12,659.12 1795.96,652.98 1798.81,668.63 1801.65,660.14 1804.50,667.91 1807.34,665.11 1810.19,658.41 1813.03,655.44 1815.87,653.77 1818.72,666.34 1821.56,661.61 1824.41,662.38 1827.25,662.93 1830.10,630.84 1832.94,659.20 1835.78,662.06 1838.63,656.73 1841.47,661.28 1844.32,666.37 1847.16,665.80 1850.01,672.72 1852.85,657.91 1855.69,662.67 1858.54,656.32 1861.38,661.92 1864.23,660.56 1867.07,658.77 1869.92,651.98 1872.76,663.30 1875.60,612.28 1878.45,686.52 1881.29,662.62 1884.14,665.05 1886.98,665.35 1889.83,666.91 1892.67,661.52 1895.51,660.87 1898.36,667.78 1901.20,660.70 1904.05,677.97 1906.89,667.62 1909.74,655.86 1912.58,668.06 1915.42,678.96 1918.27,661.45 1921.11,661.24 1923.96,664.01 1926.80,661.61 1929.65,667.43 1932.49,654.29 1935.33,660.51 1938.18,672.76 1941.02,671.85 1943.87,673.38 1946.71,679.31 1949.56,678.14 1952.40,678.78 1955.24,674.15 1958.09,690.32 1960.93,680.96 1963.78,673.21 1966.62,678.36 1969.47,682.98 1972.31,681.90 1975.15,689.40 1978.00,688.15 1980.84,685.97 1983.69,680.79 1986.53,694.70 1989.38,695.11 1992.22,695.82 1995.06,690.38 1997.91,693.42 2000.75,701.68 2003.60,698.42 2006.44,680.14 2009.29,703.64 2012.13,694.57 2014.97,709.34 2017.82,699.90 2020.66,691.50 2023.51,694.85 2026.35,701.07"/>
</g>
<g font-size="38.3">
<text transform="translate(1063.5,105.2) scale(1,1.07)" text-anchor="end">1000</text>
<text transform="translate(1063.5,228.9) scale(1,1.07)" text-anchor="end">100</text>
<text transform="translate(1063.5,352.7) scale(1,1.07)" text-anchor="end">10</text>
<text transform="translate(1063.5,476.4) scale(1,1.07)" text-anchor="end">1</text>
<text transform="translate(1063.5,600.1) scale(1,1.07)" text-anchor="end">0.1</text>
<text transform="translate(1063.5,723.9) scale(1,1.07)" text-anchor="end">0.01</text>
<text transform="translate(1063.5,847.6) scale(1,1.07)" text-anchor="end">1E-3</text>
<text transform="translate(1079.2,883) scale(1,1.07)" text-anchor="middle">0</text>
<text transform="translate(1174.0,883) scale(1,1.07)" text-anchor="middle">5</text>
<text transform="translate(1268.8,883) scale(1,1.07)" text-anchor="middle">10</text>
<text transform="translate(1363.6,883) scale(1,1.07)" text-anchor="middle">15</text>
<text transform="translate(1458.4,883) scale(1,1.07)" text-anchor="middle">20</text>
<text transform="translate(1553.2,883) scale(1,1.07)" text-anchor="middle">25</text>
<text transform="translate(1648.1,883) scale(1,1.07)" text-anchor="middle">30</text>
<text transform="translate(1742.9,883) scale(1,1.07)" text-anchor="middle">35</text>
<text transform="translate(1837.7,883) scale(1,1.07)" text-anchor="middle">40</text>
<text transform="translate(1932.5,883) scale(1,1.07)" text-anchor="middle">45</text>
<text transform="translate(2027.3,883) scale(1,1.07)" text-anchor="middle">50</text>
</g>
<text transform="translate(1559.2,937.8) scale(1,1.07)" text-anchor="middle" font-size="40.9">Frequency/Hz</text>
<text transform="translate(983,662.5) scale(1,1.07) rotate(-90)" font-size="40.6">PSD_contact_force/N<tspan font-size="22.7" dy="-18.5">2</tspan></text>
</svg>
</body></html>
